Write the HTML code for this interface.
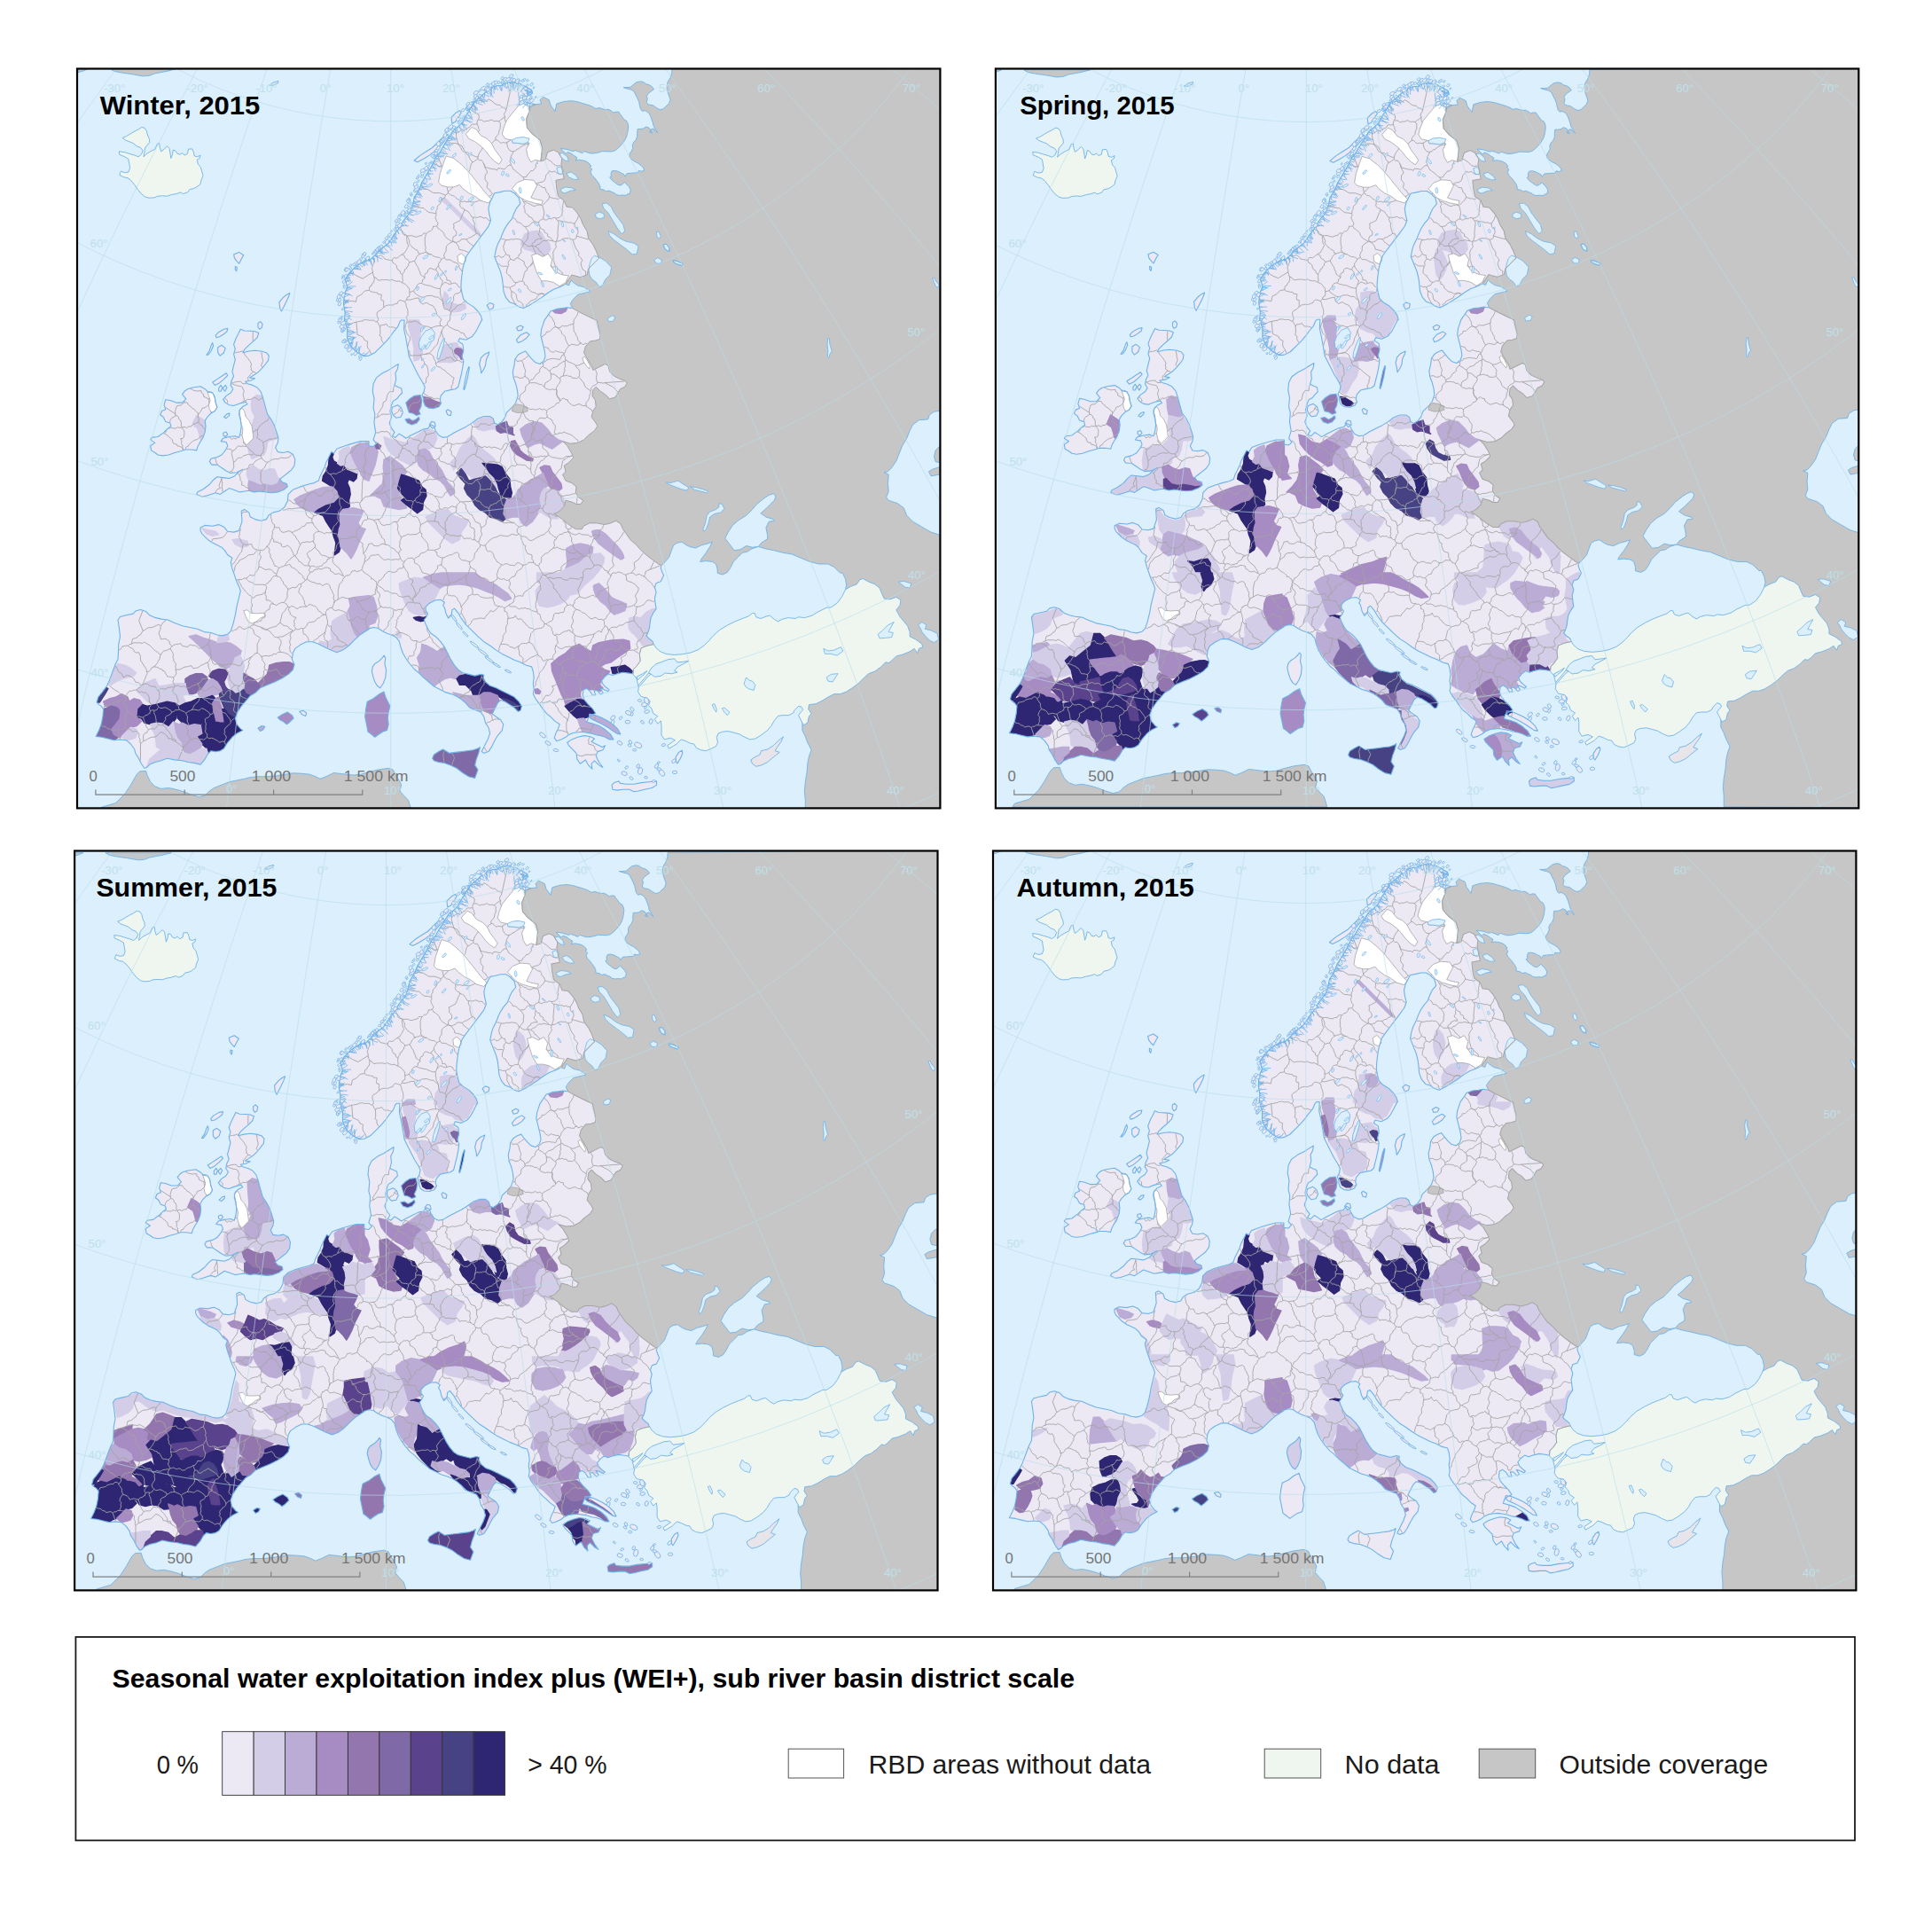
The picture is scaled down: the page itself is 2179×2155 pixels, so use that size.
<!DOCTYPE html><html><head><meta charset="utf-8"><title>WEI+</title><style>html,body{margin:0;padding:0;background:#fff}body{width:2179px;height:2155px;position:relative;overflow:hidden;font-family:"Liberation Sans",sans-serif}</style></head><body><svg width="2179" height="2155" viewBox="0 0 2179 2155" style="position:absolute;left:0;top:0" font-family="Liberation Sans, sans-serif">
<defs>
<path id="landpath" d="M211.5,438.7 217.5,437.0 226.1,435.8 231.2,438.7 234.6,442.1 239.7,443.0 242.3,448.1 243.1,454.1 244.9,459.2 242.3,463.5 238.0,466.0 233.7,470.3 231.2,474.6 232.0,480.6 231.2,487.4 228.6,494.2 225.2,499.4 222.6,504.5 221.8,507.9 215.8,507.0 209.0,507.0 203.9,508.7 197.0,510.5 190.2,513.0 183.4,513.9 178.2,513.0 174.8,510.5 170.5,507.9 169.7,502.8 174.8,499.4 169.7,495.9 171.4,493.4 178.2,492.5 185.1,487.4 188.5,484.0 192.8,480.6 191.9,477.1 186.8,475.4 184.2,470.3 180.8,467.8 182.5,463.5 186.8,461.8 185.1,456.7 186.8,450.7 191.9,451.5 198.7,454.1 205.6,454.1 209.8,449.8 205.6,444.7 208.1,441.3Z M271.3,371.2 275.6,373.0 282.4,373.3 287.6,373.8 291.8,375.5 290.1,380.6 285.8,384.9 280.7,389.2 275.6,394.3 273.9,397.7 280.7,396.0 287.6,395.2 294.4,396.0 300.4,397.7 303.3,401.1 302.6,406.3 299.5,410.5 295.2,415.7 291.0,419.9 285.8,423.3 281.6,425.9 287.6,426.8 282.4,429.3 276.5,430.2 279.0,432.7 285.0,434.4 290.1,437.0 294.4,442.1 296.9,449.8 299.2,458.4 301.6,466.9 306.3,473.7 309.8,480.6 312.3,488.3 314.0,494.2 313.2,499.4 310.6,504.5 313.2,509.6 319.2,510.5 325.1,509.3 330.3,512.2 332.8,518.1 332.0,525.0 328.5,530.1 324.3,533.5 320.0,536.9 315.7,540.3 318.3,543.8 323.4,545.5 324.3,548.9 320.0,552.3 313.2,554.9 306.3,555.7 299.5,554.9 292.7,554.0 286.7,554.9 280.7,553.2 275.6,554.0 270.5,554.9 263.6,552.3 258.5,550.6 253.4,554.0 248.3,557.4 243.1,555.7 238.0,557.4 232.9,559.1 227.8,560.0 221.8,557.4 222.6,554.9 229.5,551.5 236.3,546.3 240.6,541.2 244.9,537.8 251.7,538.6 258.5,539.5 264.5,536.9 269.6,531.8 273.9,529.2 267.1,532.7 260.2,533.5 255.1,531.0 250.0,527.5 244.9,524.1 238.9,524.1 236.3,520.7 238.0,517.3 244.9,515.6 250.0,513.0 254.2,507.9 256.8,502.8 255.1,498.5 249.1,497.6 251.7,494.2 258.5,492.5 265.3,491.7 269.6,493.4 271.3,487.4 272.2,480.6 271.3,473.7 269.6,466.9 270.5,461.8 273.9,458.4 279.0,455.8 277.3,453.2 270.5,454.9 263.6,457.5 258.5,456.7 254.2,454.1 251.7,450.7 255.1,446.4 260.2,443.0 262.8,438.7 260.2,434.4 261.1,429.3 263.6,424.2 261.9,419.1 263.6,412.2 265.3,405.4 263.6,399.4 265.3,393.5 263.6,388.3 266.2,381.5 268.8,376.4Z M243.1,378.1 246.6,374.7 252.5,371.2 256.8,370.4 256.0,373.8 251.7,377.2 247.4,379.8 244.0,380.6Z M232.9,400.3 236.3,395.2 238.0,390.0 239.7,386.6 240.6,390.0 238.0,396.0 234.6,400.3Z M245.7,391.7 250.0,389.2 254.2,392.6 252.5,397.7 248.3,401.1 245.7,397.7Z M239.7,431.0 244.9,427.6 250.0,424.2 255.1,420.8 256.8,423.3 252.5,427.6 247.4,431.9 242.3,434.4Z M246.6,437.9 249.1,434.4 250.8,437.0 249.1,441.3 246.9,441.3Z M251.3,437.9 254.2,434.4 256.0,437.0 253.7,441.3Z M252.5,470.3 256.0,466.9 258.9,466.0 258.5,468.6 255.1,471.7Z M251.7,488.3 255.1,487.1 256.8,490.0 254.2,492.5 252.0,491.2Z M291.0,364.4 293.5,362.7 296.1,365.3 295.2,369.5 292.7,371.2 291.0,368.7Z M314.9,340.8 319.2,335.6 323.4,332.2 326.8,330.5 325.1,335.6 322.6,340.8 320.0,345.9 317.4,351.0 315.7,347.6Z M263.6,286.9 269.6,284.4 274.7,287.8 272.2,292.1 269.6,297.2 267.1,294.6 264.5,291.2Z M265.3,300.6 267.4,301.5 266.7,305.7 265.3,304.0Z M410.5,401.7 402.0,396.9 395.2,390.0 391.7,381.5 391.7,371.2 388.3,361.0 389.2,352.7 387.5,342.5 388.3,332.2 391.7,323.7 389.2,315.1 393.5,308.3 402.0,299.8 410.5,294.6 416.0,289.5 416.0,294.6 422.8,287.8 429.7,281.0 438.2,274.1 445.0,263.9 450.2,257.1 455.3,248.5 462.1,240.0 465.5,231.4 467.2,222.9 472.4,214.4 475.8,205.8 480.9,197.3 486.0,188.7 489.4,181.9 492.0,176.8 496.3,171.7 498.0,168.2 502.3,161.4 506.5,154.6 510.8,147.7 516.8,142.6 521.9,137.5 525.3,130.7 528.7,125.5 532.1,119.6 535.6,114.4 540.7,110.2 547.5,104.2 556.1,97.9 561.2,96.5 566.3,96.2 569.7,93.9 574.9,92.7 580.0,93.1 586.8,94.4 593.6,98.2 599.6,101.6 600.5,105.0 594.5,109.3 588.5,112.2 585.1,112.7 591.9,114.9 598.8,116.7 603.9,117.8 597.9,119.6 597.1,125.5 593.6,134.1 594.5,144.3 600.5,151.2 609.0,158.0 611.6,166.5 610.7,175.1 609.9,181.9 615.0,180.2 617.6,171.7 624.4,169.1 629.5,171.7 633.8,178.5 632.9,185.3 634.6,193.9 636.3,201.5 626.9,203.3 627.8,212.6 629.5,221.2 636.3,226.3 638.9,233.1 645.7,234.0 650.9,240.0 655.1,246.8 657.7,253.6 662.0,260.5 663.7,269.0 668.8,275.8 672.2,282.7 675.6,291.2 670.5,296.3 663.7,303.2 662.0,310.0 654.3,312.6 644.9,310.0 641.5,315.1 638.0,320.3 631.2,323.7 624.4,326.2 617.6,330.5 610.7,335.6 603.9,339.9 597.1,344.2 590.2,347.6 585.1,345.9 580.0,342.5 574.9,340.8 570.6,335.6 568.0,328.8 567.2,320.3 566.3,313.4 564.6,306.6 561.2,298.0 557.8,289.5 559.5,281.0 561.2,275.8 564.6,269.0 567.2,262.2 569.7,257.1 573.1,251.9 577.4,246.8 580.0,240.0 582.5,234.9 586.8,229.7 585.1,222.9 580.0,217.8 575.7,215.2 569.7,215.2 562.9,216.9 557.8,217.8 555.2,222.9 552.6,228.0 550.9,234.9 551.8,241.7 553.5,248.5 550.9,255.3 545.8,262.2 540.7,269.0 535.6,275.8 530.4,282.7 526.2,288.7 523.6,296.3 521.9,303.2 521.0,310.0 520.2,316.8 519.9,323.7 521.0,330.5 522.8,337.3 527.0,341.6 533.9,345.9 539.0,351.0 542.4,356.1 543.8,361.1 543.3,361.0 540.7,366.1 538.1,371.2 535.6,375.5 532.1,379.8 525.3,383.2 518.5,381.5 516.8,384.9 521.9,388.3 522.8,395.2 521.0,402.0 522.8,407.1 521.9,414.0 520.2,422.5 518.5,429.3 516.8,436.2 513.4,438.7 508.2,439.6 501.4,441.3 497.1,446.4 496.3,451.5 497.6,454.6 494.9,458.7 489.4,460.6 483.5,460.1 479.5,457.5 477.8,453.2 477.5,449.0 476.1,445.5 478.3,441.3 479.2,436.2 476.6,431.0 472.4,424.2 469.0,417.4 465.5,410.5 461.3,402.0 459.6,391.7 457.8,381.5 455.6,371.2 456.1,361.0 452.7,361.0 451.0,362.7 448.5,368.7 444.2,373.8 439.9,379.8 435.6,384.9 429.7,390.9 422.8,397.7 416.0,401.1Z M467.2,181.0 474.1,175.1 480.9,170.8 487.7,166.5 492.9,161.4 498.0,156.3 503.1,151.2 505.7,152.0 501.4,158.8 496.3,164.8 491.2,169.9 484.3,175.1 477.5,179.3 470.7,182.8Z M509.1,132.4 514.2,127.2 518.5,124.7 520.2,127.2 516.8,132.4 513.4,137.5 509.9,139.2Z M525.3,122.1 529.6,117.0 533.9,114.4 534.7,117.0 530.4,122.1 527.0,124.7Z M522.8,438.7 524.5,429.3 526.7,419.1 528.7,413.6 529.4,414.3 527.4,425.9 525.3,434.4 523.6,439.6Z M540.7,410.5 542.4,403.7 546.7,399.4 551.8,396.9 550.9,400.3 548.4,405.4 547.5,412.2 545.0,417.4 542.7,420.8 542.1,415.7Z M549.2,344.2 552.6,341.6 556.9,343.3 556.1,347.6 551.8,349.3Z M645.7,347.6 655.1,352.7 663.7,357.0 672.2,361.1 673.1,361.0 676.5,376.4 676.5,382.4 671.4,384.1 665.4,384.9 660.3,390.9 658.5,397.7 662.0,403.7 667.1,412.2 668.8,417.4 675.6,414.0 682.5,410.5 685.9,412.2 687.6,419.1 692.7,424.2 697.8,426.8 704.7,429.3 707.2,431.9 704.7,436.2 699.5,438.7 696.1,444.7 693.6,448.1 687.6,449.8 682.5,444.7 677.3,441.3 672.2,436.2 668.8,439.6 667.9,446.4 671.4,451.5 672.2,458.4 668.8,463.5 667.1,470.3 672.2,477.1 673.9,480.6 670.5,485.7 663.7,490.8 658.5,495.9 651.7,499.4 643.2,500.2 634.6,497.6 639.8,502.8 644.9,511.3 646.6,516.4 641.5,521.6 636.3,525.0 638.0,531.8 634.6,535.2 638.0,542.1 644.9,544.6 650.0,548.9 649.2,555.7 652.6,560.8 657.7,564.3 655.1,568.5 650.0,568.5 644.9,566.0 638.0,564.3 636.3,571.1 631.2,576.2 626.9,578.8 624.8,578.8 634.2,585.6 642.7,592.5 649.5,596.7 656.4,596.7 658.1,593.3 664.9,589.9 673.4,589.9 682.0,591.6 688.8,589.9 694.8,587.3 699.9,590.7 702.5,596.7 706.8,602.7 711.0,608.7 717.9,614.7 723.0,620.6 729.8,626.6 736.6,631.7 742.6,636.0 746.0,637.7 745.2,640.3 746.9,645.4 748.6,648.8 745.2,655.7 740.1,657.4 738.4,662.5 740.1,667.6 738.4,674.4 739.2,681.3 740.1,686.4 736.6,691.5 734.1,696.6 733.2,701.8 732.4,708.6 730.7,713.7 729.0,717.1 731.5,719.7 735.8,723.1 737.5,726.5 729.8,728.2 723.0,730.8 721.3,737.6 722.1,745.3 717.9,751.3 714.4,754.7 713.6,759.8 713.5,759.9 709.3,759.1 702.4,758.2 695.6,759.9 690.5,761.6 686.2,759.9 681.9,763.3 678.5,767.6 680.2,771.9 683.7,775.3 687.1,777.9 685.4,779.6 680.2,777.0 676.8,776.2 680.2,781.3 677.7,783.0 673.4,778.7 670.0,778.7 671.7,783.8 668.3,783.8 664.9,778.7 661.5,776.2 658.0,777.9 657.2,783.8 658.9,789.0 663.2,794.1 668.3,799.2 671.7,804.3 668.3,806.0 663.7,809.1 662.0,814.2 668.8,816.0 675.6,818.5 682.5,822.8 688.4,827.9 691.9,833.9 687.6,833.9 682.5,831.3 677.3,829.6 672.2,828.8 667.1,827.1 662.0,826.2 656.8,825.3 651.7,825.7 646.1,826.5 641.0,828.8 638.0,831.3 632.9,833.9 627.8,835.6 625.2,832.2 626.9,827.1 629.5,821.9 631.2,816.8 626.1,813.4 621.0,808.3 616.7,804.9 612.4,799.7 609.0,794.6 603.9,787.8 601.3,782.6 602.2,777.5 601.3,770.7 602.2,763.9 601.3,757.0 599.6,751.9 593.6,750.2 586.8,746.8 580.0,744.2 573.1,740.8 566.3,737.4 559.5,733.1 552.6,728.0 545.8,723.7 539.0,717.7 532.1,710.9 525.3,704.1 520.2,697.2 516.8,691.3 512.5,686.1 509.9,687.8 509.1,693.8 505.7,697.2 503.1,692.1 501.4,685.3 499.7,682.7 501.4,679.3 497.1,676.4 491.2,676.7 484.3,680.2 480.1,684.4 480.1,688.7 482.6,692.1 480.9,695.5 478.3,699.0 480.1,704.1 482.6,709.2 486.0,714.3 491.2,717.7 496.3,722.9 501.4,729.7 504.8,736.5 508.2,743.4 512.5,750.2 516.8,755.3 521.9,758.7 528.7,760.4 535.6,762.1 542.4,760.4 545.8,761.3 545.0,763.9 547.5,769.0 552.6,773.3 559.5,775.8 566.3,779.2 573.1,782.6 580.0,786.1 585.1,791.2 588.5,796.3 586.8,801.4 584.2,802.3 580.0,798.0 574.9,794.6 569.7,791.2 564.6,789.5 561.2,792.9 557.8,799.7 555.2,804.9 559.5,808.3 564.6,811.7 567.7,816.8 566.3,823.6 561.2,829.6 557.8,835.6 554.4,842.4 550.9,847.6 545.8,849.3 543.3,847.6 545.0,844.1 547.5,839.0 550.1,833.9 552.6,827.1 550.9,820.2 547.5,815.1 545.8,808.3 542.4,803.1 535.6,800.6 529.6,798.0 525.3,792.9 520.2,788.6 515.1,785.2 509.1,782.6 503.1,780.9 496.3,777.5 489.4,774.1 483.5,769.0 477.5,763.9 472.4,758.7 467.2,754.5 462.1,748.5 457.8,742.5 454.4,736.5 451.9,729.7 450.2,722.9 446.7,718.6 441.6,716.0 436.5,714.3 431.4,711.8 426.2,708.3 421.1,707.5 416.0,708.9 416.0,709.5 407.1,715.2 400.3,721.2 393.5,728.0 386.6,733.1 379.8,735.7 373.0,733.1 366.1,729.7 359.3,726.3 352.5,723.7 345.6,723.7 338.8,727.1 332.8,731.4 330.3,736.5 329.4,743.4 332.0,749.3 330.3,755.3 325.1,760.4 318.3,764.7 309.8,769.0 301.2,772.4 293.5,775.8 288.4,780.9 282.4,784.4 277.3,790.3 272.2,796.3 267.9,803.1 265.3,810.0 267.1,816.8 271.3,821.9 273.9,823.6 267.1,827.1 261.9,831.3 256.8,837.3 252.5,844.1 248.3,846.7 243.1,847.6 238.0,846.7 234.6,850.1 231.2,856.1 226.1,862.1 219.2,860.4 212.4,859.5 205.6,857.8 197.0,856.9 188.5,855.2 181.7,857.8 174.8,859.5 168.8,862.1 165.4,865.5 162.9,866.3 159.4,861.2 156.0,854.4 152.6,849.3 151.8,845.0 147.5,839.0 142.4,834.7 135.5,833.9 128.7,834.7 121.9,833.0 115.0,831.3 108.2,830.5 111.6,823.6 114.2,816.8 115.9,808.3 116.7,799.7 114.2,796.3 111.6,794.6 109.1,792.0 110.8,786.1 115.0,780.9 120.2,774.1 122.7,769.0 125.3,762.1 127.8,755.3 130.4,748.5 133.0,743.4 133.5,734.8 133.8,726.3 135.5,717.7 134.7,710.9 133.8,704.1 133.0,699.0 135.5,695.5 142.4,693.8 150.1,692.1 153.5,688.7 158.6,687.5 164.6,689.6 168.8,693.8 174.8,696.4 181.7,698.1 189.3,699.0 197.0,702.4 205.6,705.8 214.1,707.5 222.6,709.2 230.3,712.6 238.0,713.5 244.9,716.0 250.8,716.9 256.8,715.2 260.2,711.8 262.8,704.1 265.3,693.8 267.1,683.6 269.6,673.3 271.3,666.5 269.6,661.4 267.1,656.2 265.3,651.1 263.6,646.0 261.9,641.1 260.2,634.3 261.9,629.2 256.8,625.8 253.4,620.6 250.0,617.2 246.6,615.5 239.7,612.1 234.6,608.7 231.2,605.3 227.8,601.8 226.1,598.4 226.1,595.0 231.2,592.4 239.7,593.3 246.6,591.6 252.5,594.2 256.8,599.3 263.6,600.1 269.6,598.4 273.0,588.2 272.2,576.2 275.6,574.5 280.7,577.9 282.4,583.0 287.6,585.6 294.4,587.3 300.4,585.6 302.9,581.3 308.0,577.9 314.9,576.2 320.9,571.9 324.3,565.1 325.1,557.4 330.3,552.3 338.8,548.9 347.3,546.3 354.2,544.6 359.3,542.1 361.0,536.9 363.6,531.8 366.1,526.7 367.8,521.6 370.4,516.4 373.8,509.6 376.4,511.3 379.8,506.2 384.1,504.5 391.7,501.9 400.3,499.4 407.1,497.6 416.0,497.6 416.0,502.8 421.1,503.6 424.5,500.2 421.1,495.9 423.7,487.4 422.0,477.1 422.8,466.9 421.1,460.1 422.0,449.8 420.3,441.3 421.1,432.7 424.5,425.9 431.4,420.8 438.2,417.4 445.0,413.1 449.3,410.5 448.5,415.7 445.9,420.8 446.7,427.6 445.0,434.4 448.5,436.2 452.7,437.9 453.6,443.0 450.2,446.4 447.6,449.8 443.3,452.4 441.6,456.7 439.9,463.5 441.6,470.3 439.1,477.1 441.6,483.1 445.0,487.4 442.5,491.7 445.9,493.4 450.2,489.1 454.4,491.7 457.8,494.2 463.8,490.8 470.7,487.4 477.5,484.0 482.6,483.1 486.0,478.9 489.4,480.6 491.2,485.7 494.6,490.8 499.7,493.4 504.8,492.5 511.7,488.3 518.5,484.8 525.3,481.4 532.1,477.1 539.0,472.0 545.8,469.5 552.6,469.5 556.1,472.0 557.8,477.1 561.2,478.9 566.3,475.4 569.7,470.3 571.4,465.2 574.9,461.8 578.3,458.4 581.7,454.1 584.2,446.4 583.4,439.6 581.7,432.7 579.1,425.9 578.3,419.1 580.0,412.2 580.8,405.4 584.2,400.3 588.5,397.7 592.8,396.0 595.3,399.4 599.6,404.6 603.9,408.8 609.0,410.5 613.3,407.1 615.0,402.0 614.1,395.2 612.4,388.3 610.7,381.5 609.9,378.1 610.7,371.2 612.4,366.1 614.1,361.0 614.1,361.1 617.6,356.1 621.0,351.0 627.8,348.4 634.6,347.6 639.8,346.7Z M442.5,459.2 448.5,456.7 452.7,460.1 454.4,465.2 451.9,470.3 446.7,471.2 443.3,467.8 441.6,463.5Z M457.8,454.1 462.1,449.8 467.2,446.4 474.1,445.5 475.8,451.5 474.9,458.4 472.4,463.5 474.1,466.9 469.8,468.6 465.5,466.0 461.3,465.2 459.6,460.1Z M457.0,472.9 461.3,472.0 465.5,474.6 469.0,472.9 472.4,470.3 473.2,472.9 469.8,477.1 464.7,478.9 459.6,477.1Z M503.1,463.5 504.8,461.8 509.1,464.3 508.2,468.6 504.8,467.8Z M582.5,383.2 586.8,378.1 593.6,374.7 597.1,377.2 593.6,381.5 588.5,384.9 584.2,386.6Z M582.5,369.5 586.8,367.0 590.2,368.7 588.5,372.1 584.2,373.0Z M484.3,478.9 486.9,475.4 490.3,476.3 491.2,480.6 487.7,483.1Z M639.8,837.3 644.9,833.9 651.7,831.3 658.5,829.6 665.4,830.5 670.5,833.0 667.1,836.5 672.2,839.0 679.0,842.4 682.5,840.7 679.9,845.8 673.9,847.6 672.2,852.7 675.6,859.5 679.9,865.5 675.6,862.9 670.5,857.8 667.1,861.2 667.9,867.2 663.7,862.9 660.3,856.9 656.8,859.5 654.3,861.2 650.9,856.1 650.0,849.3 644.9,844.1 641.5,840.7Z M665.0,805.4 670.5,806.2 677.3,808.8 684.2,812.2 691.0,816.5 697.0,822.4 699.9,827.9 696.1,827.4 691.0,824.0 685.0,819.9 679.0,816.5 673.1,813.7 667.4,811.0 664.5,808.3Z M487.7,855.2 489.4,851.0 494.6,847.6 499.7,845.0 506.5,849.3 513.4,848.4 520.2,847.6 527.0,846.7 533.9,845.8 539.0,844.1 541.5,842.4 539.8,849.3 537.3,856.1 535.6,862.9 539.0,868.0 535.6,877.4 528.7,875.7 521.9,871.5 515.1,866.3 508.2,862.9 501.4,860.4 494.6,859.5 489.4,857.8Z M414.3,791.2 421.1,787.8 428.0,782.6 433.1,780.1 434.8,786.1 437.4,791.2 439.9,796.3 438.2,803.1 437.4,810.0 438.2,816.8 436.5,823.6 431.4,825.3 426.2,828.8 422.8,831.3 417.7,827.1 415.1,825.3 413.4,816.8 411.7,808.3 412.6,799.7Z M422.8,748.5 428.0,745.1 431.4,741.7 433.1,739.1 434.8,741.7 433.9,748.5 435.6,755.3 434.8,763.9 432.2,770.7 428.8,775.8 425.4,773.3 422.8,769.0 421.1,763.9 419.4,757.0 420.3,751.9Z M690.1,885.1 692.7,882.6 697.8,880.9 699.5,883.4 706.4,884.3 714.9,884.3 723.5,882.6 732.0,881.7 740.5,880.9 740.5,885.1 735.4,888.5 726.9,890.3 720.0,892.0 714.9,892.8 709.8,890.3 703.0,890.3 696.1,891.1 691.0,890.3Z M313.2,809.1 318.3,805.7 324.3,803.1 329.4,806.6 331.1,810.0 326.8,814.2 323.4,816.8 319.2,813.4 315.7,811.7Z M337.9,802.3 342.2,801.4 345.6,804.0 344.8,807.4 340.5,805.7Z M291.0,821.1 295.2,818.5 298.7,819.4 296.9,822.8 293.5,824.5Z M762.2,853.5 765.6,848.4 769.1,846.2 769.9,849.3 767.4,855.2 763.9,860.9 762.2,858.7Z"/>
<clipPath id="landclip"><use href="#landpath"/></clipPath>
<g id="base"><rect x="80" y="70" width="990" height="850" fill="#dbeffc"/>
<path d="M758.1,77.3 757.6,82.7 756.0,87.7 753.0,92.7 752.2,96.9 753.0,103.6 755.1,109.5 756.0,112.8 754.3,117.0 750.5,120.4 748.0,122.9 744.2,123.7 740.5,121.6 736.3,118.7 731.3,117.9 729.2,115.4 730.4,111.2 729.2,108.7 731.3,105.3 734.6,102.8 737.5,100.7 735.4,97.8 732.1,95.7 728.7,94.8 725.4,92.3 722.1,91.9 717.9,92.7 714.5,95.3 711.2,98.2 707.0,98.6 703.2,98.6 707.0,99.9 712.0,101.1 714.9,102.8 717.0,107.0 719.1,111.2 720.8,115.4 721.6,119.5 722.5,122.9 724.6,125.4 727.1,124.6 729.6,125.8 732.1,127.9 733.8,131.3 735.0,134.6 736.3,138.4 737.1,142.1 739.6,146.3 741.7,149.7 739.6,148.0 737.1,145.1 734.6,145.5 732.5,148.8 735.4,150.1 733.8,147.2 732.1,144.2 728.7,143.0 725.4,145.1 722.1,145.5 719.1,145.5 718.7,149.7 718.7,153.9 717.0,158.1 714.5,160.6 713.3,163.9 713.7,167.3 712.0,170.6 710.3,173.1 709.9,176.5 712.0,179.4 715.4,181.9 719.5,184.0 722.9,186.5 725.4,189.0 726.7,192.0 723.7,193.2 720.4,192.4 719.5,194.9 715.4,194.9 711.2,195.3 707.0,195.7 704.9,199.1 703.6,196.6 700.3,194.9 696.9,193.2 693.6,192.4 690.2,192.8 689.0,195.7 689.4,199.1 687.7,199.9 690.2,203.3 693.6,205.8 696.9,208.3 699.9,209.1 702.4,207.4 704.5,205.4 707.0,208.3 709.5,210.8 711.2,214.1 710.3,218.3 707.0,219.2 706.1,220.4 702.0,220.0 698.6,220.4 695.3,219.6 692.7,217.5 690.2,216.7 686.9,215.0 683.5,215.8 681.0,214.1 676.8,213.3 676.8,210.0 675.2,206.6 672.7,203.3 670.1,199.9 667.6,197.4 666.0,194.1 667.6,190.7 665.1,188.2 666.8,187.4 664.3,184.0 660.9,181.9 656.7,180.7 652.6,180.2 649.2,181.1 650.9,177.7 647.5,175.6 644.2,173.1 640.0,171.4 638.0,173.4 632.1,167.4 638.0,168.2 640.0,168.5 643.3,169.8 647.1,170.6 648.4,169.6 652.6,171.0 656.7,172.7 658.8,170.6 662.6,171.9 666.8,173.1 671.0,172.7 675.2,171.9 679.4,170.6 684.4,170.8 689.4,171.0 693.6,169.8 696.9,167.3 700.3,163.9 703.6,159.7 706.1,155.5 707.4,151.4 708.2,147.2 708.7,143.0 708.2,139.6 706.6,136.3 703.6,134.6 702.0,132.1 699.4,128.7 697.8,126.2 694.4,126.2 691.9,127.1 689.4,125.0 686.0,123.3 682.7,123.7 680.2,122.9 676.0,121.6 671.8,122.5 668.5,120.4 664.3,118.7 660.1,117.4 655.9,116.2 651.7,114.9 647.5,114.1 643.3,113.7 640.0,114.1 636.3,114.4 627.8,117.0 626.1,125.5 621.0,118.7 619.3,112.7 612.4,109.3 609.0,112.7 610.7,117.0 603.9,117.8 586.8,127.2 586.8,178.5 621.0,229.7 638.0,298.0 636.3,319.4 638.0,320.3 641.5,322.0 644.0,316.0 646.6,318.5 651.7,322.0 658.5,323.7 663.7,326.7 665.7,328.8 658.5,330.5 651.7,332.2 646.6,337.3 643.2,342.5 645.7,347.6 655.1,361.0 646.6,412.2 621.0,497.6 612.4,578.8 651.2,611.2 719.6,631.7 746.0,637.7 750.3,633.4 754.6,628.3 757.1,621.5 759.7,614.7 764.0,612.1 769.1,611.2 774.2,614.7 777.6,616.4 784.5,618.1 791.3,614.7 798.1,613.0 803.3,611.2 800.7,616.4 796.4,623.2 791.3,630.0 789.6,633.4 796.4,632.6 803.3,633.4 807.5,636.0 809.2,642.0 809.2,646.3 815.2,648.0 820.3,645.4 823.8,640.3 827.2,633.4 832.3,628.3 837.4,623.2 842.5,622.3 847.7,618.9 852.8,617.2 855.3,616.4 863.9,618.9 872.4,620.6 882.6,623.2 892.9,624.9 903.1,629.2 913.4,633.4 923.6,636.0 933.9,636.0 940.7,639.4 947.6,646.1 950.1,646.0 953.5,652.8 954.7,659.7 953.5,664.8 951.0,697.2 916.8,765.6 908.3,796.3 905.7,814.2 904.9,815.1 904.9,823.6 908.3,830.5 910.8,837.3 915.1,845.8 912.5,852.7 910.8,861.2 910.0,871.5 908.3,881.7 907.4,892.0 908.3,902.2 908.3,914.2 1064.0,915.0 1064.0,74.0Z M111.6,914.2 114.2,910.4 130.4,905.6 140.7,895.4 147.5,885.1 154.3,873.2 157.7,869.8 164.6,869.4 166.3,874.9 169.7,881.7 174.8,886.8 181.7,889.4 190.2,888.5 198.7,890.3 207.3,892.8 215.8,896.2 224.4,898.8 231.2,897.1 236.3,892.0 241.4,888.5 250.0,885.1 258.5,881.7 267.1,880.0 275.6,878.3 282.4,876.6 291.0,875.7 301.2,875.7 311.5,874.9 321.7,873.2 330.3,871.8 340.5,872.3 349.0,873.2 355.9,875.7 361.0,878.3 367.8,875.7 376.4,871.5 383.2,872.3 390.0,873.2 398.6,874.0 407.1,873.2 416.0,870.6 426.2,868.0 438.2,866.3 443.3,868.0 445.9,873.2 450.2,880.0 452.7,885.1 451.0,892.0 455.3,897.1 460.4,902.2 463.0,910.4 463.8,914.2Z M124.4,77.7 128.7,80.3 137.2,82.0 149.2,83.7 161.2,85.9 168.0,85.4 174.8,82.8 188.5,80.3 198.7,77.7Z M88.0,77.7 99.3,77.7 94.5,79.8 88.0,81.8Z" fill="#c6c6c6" stroke="#6fb2e8" stroke-width="0.9" stroke-linejoin="round"/>
<path d="M872.4,556.6 875.0,560.0 873.3,564.3 869.0,568.5 863.9,573.7 857.9,578.8 863.9,583.0 872.4,585.6 873.3,587.3 867.3,588.2 863.9,595.0 865.6,603.5 865.6,607.8 858.7,612.1 855.3,616.4 848.5,617.2 841.7,615.5 834.8,619.8 828.0,620.6 822.9,613.8 817.7,607.0 821.2,600.1 826.3,592.4 833.1,586.5 841.7,581.3 848.5,574.5 853.6,568.5 862.1,561.7 867.3,558.3Z M1063.7,462.6 1053.5,464.3 1048.3,467.8 1046.6,472.9 1036.4,473.7 1029.5,478.9 1026.1,485.7 1022.7,494.2 1017.6,502.8 1014.2,511.3 1010.8,519.9 1005.6,527.5 1001.4,531.8 997.1,532.7 1002.2,535.2 1001.4,545.5 1002.2,554.0 999.6,560.8 1002.2,564.3 1012.5,567.7 1019.3,572.8 1022.7,581.3 1029.5,588.2 1039.8,594.2 1050.0,600.1 1063.7,604.4Z M734.9,753.0 740.1,748.7 746.9,746.2 753.7,743.6 760.6,742.8 764.0,747.0 770.8,746.2 776.8,745.3 770.8,748.7 764.0,752.2 760.6,756.4 764.0,758.1 757.1,759.8 750.3,759.0 745.2,762.4 738.4,763.3 734.9,760.7 731.5,759.0 733.2,755.6Z M731.5,759.0 728.1,763.3 723.0,769.2 719.6,773.5 720.9,774.5 724.7,770.1 729.8,764.1 734.1,760.2Z M717.9,763.3 724.7,759.8 729.8,756.4 726.4,760.7 722.1,764.1 719.6,766.7Z" fill="#dbeffc" stroke="#6fb2e8" stroke-width="0.9" stroke-linejoin="round"/>
<path d="M1063.7,503.6 1059.4,503.6 1055.2,507.9 1053.5,514.7 1055.2,520.7 1059.4,521.6 1063.7,521.6Z M1063.7,526.7 1059.4,526.7 1051.7,529.2 1047.5,531.8 1050.0,536.9 1059.4,535.2 1063.7,535.2Z" fill="#c6c6c6" stroke="#6fb2e8" stroke-width="0.9" stroke-linejoin="round"/>
<path d="M737.5,726.5 740.1,730.8 745.2,735.1 752.0,737.6 760.6,738.5 770.8,737.6 779.3,735.9 787.9,732.5 794.7,727.4 799.8,722.3 805.0,716.3 811.8,710.3 820.3,705.2 828.9,700.9 837.4,697.5 844.3,694.9 848.5,691.5 851.1,691.5 852.8,695.8 857.9,697.5 864.8,694.9 868.2,694.1 873.3,698.4 877.6,700.9 881.8,698.4 888.7,696.6 897.2,697.5 900.6,695.8 907.5,696.6 916.0,694.1 922.8,689.8 930.0,686.4 932.2,685.3 937.3,684.9 944.1,680.2 949.3,673.3 952.7,666.5 953.5,664.8 959.5,661.4 966.3,658.8 969.8,653.7 973.2,652.5 980.0,656.2 986.8,658.8 992.0,663.1 994.5,669.1 997.1,675.0 1003.9,675.9 1010.8,673.3 1015.9,676.7 1015.0,682.7 1010.8,687.8 1015.0,695.5 1019.3,700.7 1023.6,705.8 1026.1,712.6 1026.1,717.7 1033.0,721.2 1039.8,726.3 1040.6,729.7 1036.4,731.4 1034.7,736.5 1031.2,731.4 1026.1,734.8 1017.6,738.2 1010.8,739.9 1005.6,745.1 1002.2,747.6 998.8,746.8 993.7,751.9 986.8,757.0 980.0,759.6 974.9,763.9 968.0,770.7 961.2,775.8 954.4,780.1 947.6,782.6 940.7,782.6 933.9,786.1 927.1,790.3 920.2,793.7 912.5,794.6 911.7,799.7 915.1,804.9 912.5,807.4 910.8,815.1 906.6,817.7 904.9,815.1 902.3,810.0 900.6,806.6 903.1,803.1 905.7,800.6 904.0,797.2 900.6,796.3 896.3,800.6 894.6,804.0 889.5,806.6 882.6,806.6 877.5,807.4 873.3,812.5 869.8,818.5 865.6,823.6 858.7,828.8 851.9,833.0 845.9,833.9 839.9,831.3 834.0,827.9 828.0,826.2 821.2,824.5 814.3,825.3 810.1,827.1 808.3,831.3 809.5,837.3 807.5,841.6 802.4,844.1 796.4,846.7 790.4,845.8 785.3,843.3 782.7,839.0 778.5,838.2 773.3,835.6 768.2,833.9 763.1,839.0 754.5,844.1 752.8,840.7 761.4,834.7 756.2,832.2 749.4,833.9 746.0,828.8 746.0,818.5 745.2,812.8 741.8,816.2 738.4,811.1 741.8,807.7 736.6,804.3 734.9,799.1 731.5,795.7 733.2,790.6 729.8,787.2 723.0,785.5 719.6,780.3 720.4,774.4 719.6,771.8 717.9,765.0 714.1,760.7 714.4,754.7 717.9,751.3 722.1,745.3 721.3,737.6 723.0,730.8 729.8,728.2Z M138.1,155.4 142.4,153.7 146.6,151.2 150.9,148.6 156.0,146.0 159.8,143.5 163.2,144.3 165.4,147.7 166.3,152.0 168.3,156.3 168.8,160.5 166.3,163.5 163.7,166.5 162.9,171.7 162.0,176.8 165.4,173.4 169.7,170.8 174.8,168.2 177.4,162.3 179.6,161.4 180.3,166.5 181.7,170.8 185.1,168.2 188.5,164.8 191.0,167.4 192.2,174.2 192.8,178.5 194.5,174.2 195.3,169.1 197.9,169.9 200.1,173.4 203.0,174.2 205.6,172.5 208.1,175.1 211.5,173.4 212.4,168.2 216.7,167.9 218.4,171.7 219.2,175.9 222.6,176.8 226.1,175.1 225.2,178.5 222.3,180.2 223.5,185.3 226.4,188.7 227.8,193.9 229.1,198.1 226.9,203.3 226.1,207.5 221.8,210.9 218.4,212.6 214.1,213.5 211.5,216.9 206.4,218.6 203.9,216.9 198.7,218.6 193.6,219.5 188.5,221.2 183.4,220.8 178.2,221.2 174.0,222.9 168.0,223.2 163.7,222.0 159.4,218.6 155.2,213.5 151.8,208.4 147.5,203.3 144.1,200.7 139.8,199.8 134.7,197.3 136.4,193.0 140.7,194.7 144.9,193.9 146.6,189.6 145.8,184.5 144.9,179.3 140.7,176.8 134.7,174.2 134.3,170.8 140.7,171.7 145.8,173.4 151.8,175.1 156.0,176.8 159.4,174.2 161.2,169.9 158.6,166.5 154.3,164.8 150.1,161.4 145.8,159.7 141.5,158.0Z" fill="#eff6f0" stroke="#6fb2e8" stroke-width="0.9" stroke-linejoin="round"/>
<path d="M734.9,753.0 740.1,748.7 746.9,746.2 753.7,743.6 760.6,742.8 764.0,747.0 770.8,746.2 776.8,745.3 770.8,748.7 764.0,752.2 760.6,756.4 764.0,758.1 757.1,759.8 750.3,759.0 745.2,762.4 738.4,763.3 734.9,760.7 731.5,759.0 733.2,755.6Z M731.5,759.0 728.1,763.3 723.0,769.2 719.6,773.5 720.9,774.5 724.7,770.1 729.8,764.1 734.1,760.2Z M717.9,763.3 724.7,759.8 729.8,756.4 726.4,760.7 722.1,764.1 719.6,766.7Z" fill="#dbeffc" stroke="#6fb2e8" stroke-width="0.9" stroke-linejoin="round"/>
<path d="M846.8,856.9 851.9,853.5 857.0,851.0 858.7,846.7 865.6,845.0 872.4,840.7 877.5,835.6 883.5,830.8 880.9,836.5 876.7,842.4 874.1,846.7 879.2,848.4 875.8,851.0 870.7,855.2 865.6,859.5 858.7,862.9 852.8,864.3 848.5,861.2Z M303.8,96.2 308.0,93.1 314.0,91.4 313.2,93.9 308.0,96.2Z" fill="#e7e5ea" stroke="#6fb2e8" stroke-width="0.9" stroke-linejoin="round"/>
<use href="#landpath" fill="#ece9f5"/>
<path d="M577.4,463.5 578.3,458.4 582.5,455.8 588.5,456.7 594.5,459.2 595.3,463.5 590.2,465.2 583.4,465.5Z" fill="#c6c6c6" stroke="#a4a4a4" stroke-width="0.8" stroke-linejoin="round"/></g>
<g id="top"><path d="M243.0,555.0 243.9,553.6 245.8,551.2 248.7,550.5 247.0,547.8 248.0,544.8 249.2,542.1 250.0,539.3 M250.0,539.3 250.2,542.3 250.8,545.2 250.4,548.1 250.8,551.1 251.0,554.1 251.2,554.6 M394.1,308.7 397.3,307.9 403.0,311.4 409.1,314.2 414.7,310.6 420.4,307.1 M420.4,307.1 420.2,304.7 419.4,302.5 420.2,300.4 420.8,298.1 422.1,296.1 421.8,293.7 421.4,291.4 421.2,290.4 M538.1,139.8 538.1,137.1 539.2,134.8 M538.1,139.8 536.5,140.1 534.8,140.2 533.0,139.9 531.5,140.7 530.7,142.3 529.4,143.5 527.7,144.0 526.5,145.2 525.0,146.1 523.6,147.2 521.9,146.6 520.1,146.8 518.8,147.8 517.4,148.6 516.0,149.3 514.6,150.2 M514.6,150.2 513.5,146.3 M533.2,119.2 533.4,119.4 534.5,120.7 535.5,122.0 536.2,123.7 535.8,125.5 536.7,127.0 537.9,128.3 539.9,129.1 540.3,131.2 540.2,133.1 539.2,134.8 M504.9,158.5 505.2,158.6 508.3,161.4 512.8,161.4 517.1,162.4 521.1,164.8 523.2,168.9 525.2,172.6 528.5,175.4 530.0,179.3 532.6,182.6 M490.0,182.3 491.7,183.9 494.2,187.6 498.6,187.3 499.5,187.4 M528.3,194.2 529.0,193.3 529.8,191.9 530.2,190.3 530.3,188.6 531.0,187.1 530.9,185.4 532.2,184.3 532.6,182.6 M493.8,175.8 498.9,189.3 M504.0,210.2 505.3,216.7 M511.0,210.4 510.9,210.5 509.4,212.9 507.2,214.6 505.3,216.7 M187.1,699.4 187.0,699.7 183.8,702.1 181.5,705.6 M160.9,689.0 156.7,699.7 161.2,711.3 M161.2,711.3 163.7,710.2 165.8,708.4 168.4,707.7 171.2,707.7 173.7,706.7 176.1,705.5 178.9,704.4 181.5,705.6 M704.4,430.0 682.0,431.6 M696.9,441.9 691.5,436.5 682.0,431.6 M238.7,610.6 240.1,607.7 245.7,607.2 251.3,606.1 254.6,602.4 256.3,599.8 M261.5,636.7 263.8,635.1 265.5,632.5 267.0,629.9 268.6,627.3 270.3,624.7 272.3,622.3 273.2,619.3 273.6,616.3 274.4,613.3 M271.1,596.2 271.2,597.8 270.5,599.5 270.2,601.4 270.3,603.2 269.5,604.8 270.1,606.4 270.8,607.9 271.7,609.4 271.9,611.1 273.2,612.1 274.4,613.3 M420.4,307.1 420.9,309.8 421.9,312.4 M422.7,288.9 423.7,288.7 426.5,289.1 427.9,288.4 429.4,287.7 430.7,288.6 432.0,289.5 433.2,290.5 433.9,291.9 435.3,292.5 436.8,292.7 439.5,293.4 442.4,293.7 M421.9,312.4 424.1,313.2 425.3,315.0 427.2,316.2 429.5,315.9 431.5,315.4 433.6,315.7 435.7,315.4 437.8,315.9 440.0,316.1 442.0,315.2 443.8,316.2 445.8,316.9 447.9,317.3 450.0,316.9 451.8,317.9 453.7,318.8 M453.7,318.8 454.4,316.5 453.9,314.2 453.9,312.0 453.9,309.7 M453.9,309.7 451.6,308.2 451.2,305.5 448.9,304.4 447.6,302.1 447.2,299.5 445.5,297.6 443.1,296.3 442.4,293.7 M538.1,139.8 538.7,141.5 539.7,143.0 539.6,144.9 540.9,146.4 539.6,148.1 539.4,149.7 M544.7,166.4 544.2,167.6 M514.6,150.2 514.4,152.8 514.9,155.3 515.4,157.8 516.2,160.2 516.8,162.7 518.4,164.8 519.9,166.8 520.7,169.2 522.6,170.9 525.1,171.7 527.7,172.0 529.7,173.7 532.0,174.6 534.3,175.7 536.6,176.7 539.1,177.0 M544.2,167.6 542.5,169.7 541.0,171.9 539.8,174.3 539.1,177.0 M532.6,182.6 534.5,182.5 535.9,181.2 537.5,180.3 538.9,179.1 M539.1,177.0 538.9,179.1 M538.1,113.2 539.4,113.8 542.5,113.2 545.5,114.4 548.6,113.9 551.0,111.8 553.6,113.2 556.0,114.8 558.0,117.0 560.7,118.2 563.8,118.4 565.8,120.8 568.7,121.7 571.0,123.4 M571.0,123.4 577.6,93.6 M590.9,203.3 591.2,202.1 589.8,199.5 M606.1,180.3 606.1,180.5 606.2,182.5 605.2,184.2 604.0,185.9 604.6,188.0 603.5,189.6 602.3,191.1 600.9,192.7 598.7,192.6 597.6,194.2 596.4,195.8 594.6,197.0 594.0,199.1 592.0,199.9 589.8,199.5 M616.1,178.9 617.2,179.1 619.1,180.6 621.2,181.8 623.0,183.4 624.6,185.2 626.6,186.6 628.9,187.1 631.4,186.5 632.5,187.1 M603.9,207.2 605.8,206.7 608.6,205.6 611.6,205.2 614.2,203.5 615.3,200.6 615.8,197.6 617.9,195.4 619.5,192.8 622.5,194.0 625.6,193.0 627.9,195.0 630.7,196.2 633.8,196.2 634.3,195.9 M473.2,214.2 475.4,212.8 482.6,213.6 488.7,217.5 495.8,217.6 502.5,220.1 M505.3,216.7 505.3,217.5 M502.5,220.1 504.1,219.0 505.3,217.5 M502.5,220.1 502.1,221.6 501.2,222.9 500.1,224.0 498.6,224.6 497.7,227.4 496.2,230.0 495.0,231.1 493.8,232.0 493.1,233.5 493.3,235.1 492.8,236.7 491.6,237.7 492.0,239.2 491.7,240.8 M466.0,232.0 466.9,232.2 470.7,232.3 474.1,234.3 477.9,234.6 480.7,237.4 483.9,239.7 487.8,240.0 491.7,240.8 M144.0,803.2 142.4,805.2 141.1,807.4 140.4,810.2 142.2,812.4 141.6,814.8 142.0,817.2 141.0,819.3 140.2,821.6 M144.0,803.2 143.6,801.5 142.9,800.0 142.9,798.3 142.9,796.6 141.5,795.5 140.9,793.9 139.6,792.7 139.3,791.0 M116.6,798.4 117.4,797.9 118.4,795.7 120.7,795.3 122.9,794.8 125.0,794.2 126.6,792.6 128.7,792.1 130.7,791.4 133.4,791.5 134.9,789.4 137.4,789.4 139.3,791.0 M114.4,818.3 114.7,818.5 117.0,819.2 119.3,819.6 121.0,821.5 123.5,821.9 125.5,823.7 128.1,823.0 130.6,822.7 132.7,824.2 M132.7,824.2 134.3,822.9 136.5,823.0 138.0,821.4 140.2,821.6 M135.8,833.2 132.7,824.2 M158.4,857.7 158.5,838.4 M158.5,838.4 157.8,836.7 158.0,834.8 157.7,832.9 156.5,831.4 157.0,829.5 156.9,827.5 155.6,826.1 154.4,824.5 152.4,824.6 150.5,825.4 148.8,824.3 147.3,822.9 145.7,822.2 143.9,821.8 142.0,821.6 140.2,821.6 M181.5,705.6 181.0,707.5 181.1,709.5 180.0,711.2 179.5,713.1 179.2,715.1 180.3,716.9 180.9,718.7 181.2,720.7 183.4,720.7 185.5,720.3 187.6,720.7 189.3,722.0 191.1,723.4 191.4,725.6 192.4,727.4 193.8,728.9 M237.8,714.2 236.7,715.5 236.8,717.2 236.4,718.8 236.1,720.4 235.8,722.0 235.8,723.7 235.0,725.1 234.9,726.8 M234.9,726.8 232.1,727.5 230.0,729.5 227.4,730.8 224.6,731.2 222.4,729.3 220.0,727.8 217.0,727.9 214.3,726.8 212.1,729.4 208.8,729.1 205.6,728.3 203.8,725.6 201.2,726.3 198.6,726.5 196.0,727.3 193.8,728.9 M325.1,564.2 325.5,564.0 328.1,565.0 330.0,567.1 332.6,568.1 335.4,568.1 337.6,566.6 340.0,565.4 342.6,564.3 344.3,562.1 M342.3,548.6 342.9,549.9 343.7,551.3 344.3,552.9 345.4,554.2 346.8,555.1 348.2,556.0 349.2,557.3 M344.3,562.1 345.4,560.7 346.1,559.0 347.7,558.4 349.2,557.3 M372.3,534.6 370.0,533.6 368.5,531.6 367.9,529.3 367.3,527.0 366.8,526.7 M372.3,534.6 373.8,536.8 375.5,538.7 376.9,540.9 378.0,543.2 378.1,545.9 376.5,548.1 376.9,550.9 375.0,553.0 M375.0,553.0 373.3,554.0 371.5,553.5 369.5,553.2 368.0,554.5 366.2,555.1 365.0,556.5 363.5,557.7 362.8,559.4 360.9,559.2 358.9,559.1 357.4,557.8 356.4,556.1 354.6,555.1 352.5,554.9 350.9,556.1 349.2,557.3 M274.4,613.3 276.7,614.3 279.1,614.3 281.4,613.8 283.8,613.5 284.4,616.0 285.8,618.1 287.9,619.4 290.4,620.1 M263.9,644.7 264.6,642.0 265.1,639.1 266.4,636.4 268.8,634.5 270.1,631.8 272.8,630.6 275.5,629.3 278.0,627.8 280.2,625.8 283.3,625.5 286.4,625.0 288.3,622.4 290.4,620.1 M648.8,727.9 649.1,726.3 649.1,724.7 647.8,723.3 648.2,721.5 648.2,719.9 647.9,718.3 648.7,716.7 647.5,715.2 M648.8,727.9 646.2,729.3 643.3,729.1 640.5,729.3 637.7,729.6 636.3,730.3 634.9,731.0 633.4,731.7 631.8,731.2 630.4,730.7 629.1,729.8 628.2,728.5 626.6,728.0 M626.6,728.0 627.9,726.8 629.1,725.4 629.1,723.6 628.3,721.9 628.1,720.1 628.4,718.3 627.2,716.7 625.2,716.5 M625.2,716.5 626.5,715.7 627.9,715.1 629.4,715.5 630.8,716.0 633.0,714.2 635.4,712.7 636.8,712.1 638.3,711.7 639.9,711.6 641.0,710.5 642.8,710.8 643.4,712.4 644.8,713.1 646.2,713.6 M646.2,713.6 647.5,715.2 M737.4,633.1 736.8,634.7 733.3,642.2 M733.3,642.2 744.7,637.8 M715.1,733.4 720.7,737.0 M726.1,714.2 730.1,713.4 M715.1,733.4 716.5,732.1 718.4,732.3 719.4,730.7 718.9,728.8 718.3,727.3 717.8,725.8 719.1,724.7 719.0,722.9 721.7,721.7 723.8,719.6 725.2,717.0 726.1,714.2 M264.6,398.5 265.7,397.6 268.1,397.2 270.5,396.9 273.0,395.9 273.8,396.4 M285.1,384.6 285.3,374.3 M184.4,488.8 184.5,488.8 186.5,489.5 188.3,490.4 189.6,492.0 191.3,493.1 192.6,494.5 194.3,495.8 194.7,497.8 195.4,499.8 197.2,500.7 199.4,501.0 200.2,503.1 202.2,503.1 204.1,504.0 205.6,505.4 206.4,507.1 M214.7,438.5 216.5,439.2 218.3,440.3 220.3,440.6 222.3,441.1 224.6,440.7 227.0,440.7 227.4,443.2 229.6,444.6 229.6,447.1 231.8,448.2 233.7,449.2 235.6,450.1 M236.6,448.1 236.5,448.8 235.6,450.1 M277.1,452.0 275.3,450.7 275.2,448.5 274.4,446.7 274.1,444.7 274.9,442.8 275.3,440.7 274.1,439.0 273.7,436.9 272.1,435.8 270.2,435.3 268.2,435.3 266.4,434.4 264.4,434.0 262.8,433.0 261.2,432.9 M277.1,452.0 279.3,450.2 282.1,450.7 284.4,449.6 286.5,448.2 289.4,449.2 291.6,451.3 294.0,449.7 295.8,448.8 M261.4,431.5 263.2,431.8 265.2,430.8 267.3,430.5 269.6,430.2 271.8,430.3 273.2,432.3 275.6,432.8 277.8,432.5 M279.9,429.0 279.9,427.9 279.6,425.4 281.2,424.1 282.6,422.4 283.7,420.6 285.5,419.4 M288.7,420.5 287.8,419.8 285.5,419.4 M275.5,398.0 275.5,398.7 276.0,400.3 277.3,401.3 278.2,402.7 279.3,403.7 280.3,404.9 281.1,406.3 281.9,407.6 282.8,409.0 283.6,410.5 283.1,412.1 282.7,413.8 283.5,415.4 283.0,417.1 284.5,418.0 285.5,419.4 M294.8,396.8 294.8,397.7 295.4,400.2 295.6,402.8 296.3,405.2 296.5,407.7 295.3,410.0 294.5,412.4 295.8,413.9 M269.8,535.6 271.0,533.9 272.1,532.2 273.7,531.0 275.0,529.4 277.3,529.1 279.5,528.5 280.8,526.5 281.1,524.2 283.3,523.9 285.5,523.5 286.7,521.7 288.0,520.0 289.8,519.0 291.5,518.0 293.4,517.1 295.3,516.6 M269.8,535.6 270.9,538.3 271.0,541.3 273.0,543.8 272.4,546.9 275.3,547.6 277.6,549.6 280.4,550.6 282.6,552.5 282.9,553.1 M296.4,553.8 296.4,553.0 299.5,550.6 298.2,547.3 295.6,544.8 293.9,541.8 294.1,538.4 294.1,535.1 294.2,531.8 296.2,529.2 298.7,527.1 299.8,524.0 301.9,521.4 M301.9,521.4 299.8,520.9 298.1,519.7 296.4,518.4 295.3,516.6 M242.5,516.9 242.9,517.8 243.6,519.5 243.9,521.4 245.0,523.1 245.8,523.8 M273.1,579.2 273.3,579.1 274.4,577.2 276.6,577.5 278.5,577.3 M269.8,535.6 268.2,534.2 M262.2,532.6 261.4,531.1 M250.0,539.3 250.0,539.1 M261.4,531.1 259.1,532.2 M303.6,471.0 302.8,471.7 301.8,474.2 299.4,475.2 297.3,476.8 295.3,478.3 293.3,480.0 291.9,482.1 290.6,484.3 M272.7,453.6 273.8,452.9 275.4,452.2 277.1,452.0 M270.9,469.1 271.3,469.3 M271.6,471.0 271.5,471.5 271.5,471.6 M272.6,478.1 272.6,478.1 M284.5,487.1 286.3,487.0 288.1,485.1 290.6,484.3 M313.1,493.6 310.6,494.4 307.0,495.0 303.4,495.4 300.2,497.2 297.0,498.8 M290.6,484.3 290.2,486.7 290.5,489.0 290.8,491.5 289.4,493.5 291.3,494.9 293.4,495.8 295.3,497.3 297.0,498.8 M329.4,512.5 328.6,512.8 326.4,515.3 323.4,516.4 320.2,516.5 316.9,516.0 314.0,517.7 310.7,517.5 307.5,518.1 304.6,519.6 301.9,521.4 M295.3,516.6 294.0,514.3 M297.0,498.8 296.9,500.8 297.0,502.8 297.7,504.8 297.2,506.9 296.9,509.0 296.5,511.0 294.5,512.1 294.0,514.3 M444.6,468.1 445.1,466.7 447.5,465.5 449.5,463.8 450.2,461.3 M450.2,461.3 452.3,464.0 453.2,463.9 M461.2,462.6 461.2,462.6 461.8,459.6 463.0,456.9 465.3,454.9 468.3,454.1 470.9,454.1 473.0,452.5 474.5,450.3 474.7,450.2 M478.3,449.7 479.5,450.0 482.0,449.5 484.4,448.9 486.8,448.1 M489.7,459.7 491.5,458.5 493.0,456.6 495.3,455.9 496.6,454.8 M486.8,448.1 488.2,449.0 489.7,449.6 491.4,449.8 492.9,449.1 494.4,449.7 495.8,450.0 M453.9,309.7 454.7,307.8 456.1,306.3 456.3,304.0 458.4,303.0 459.0,301.0 460.7,299.7 460.8,297.6 462.0,295.8 M442.4,293.7 443.0,291.9 444.4,290.6 446.2,291.0 448.1,290.9 449.3,289.9 450.6,289.0 451.7,287.8 453.2,287.1 M453.2,287.1 454.8,287.6 456.2,288.5 456.5,290.2 457.4,291.6 458.8,292.4 460.2,293.2 461.2,294.4 462.0,295.8 M451.8,255.7 451.9,257.0 452.2,258.8 453.4,260.2 453.5,262.1 454.4,263.7 455.9,264.6 M453.2,287.1 454.5,286.0 456.1,285.4 457.0,283.9 457.8,282.4 458.8,281.1 459.4,279.5 460.3,278.1 461.1,276.7 459.7,275.5 459.3,273.8 459.1,272.1 458.9,270.5 458.5,268.5 459.2,266.7 457.7,265.4 455.9,264.6 M558.9,157.9 560.8,157.8 562.3,159.1 563.5,160.4 565.1,161.4 566.7,160.7 568.5,160.8 570.4,161.2 572.0,160.3 M558.9,157.9 558.9,155.0 560.8,152.8 562.6,150.6 562.7,147.7 564.1,145.1 564.3,142.2 564.1,140.6 564.7,139.2 563.4,138.2 562.8,136.7 M572.0,160.3 574.1,159.1 576.2,157.9 576.6,157.3 M571.1,138.0 570.1,137.1 569.3,134.2 569.5,131.2 M562.8,136.7 564.4,135.3 566.2,134.0 568.0,132.8 569.5,131.2 M579.1,170.8 578.3,172.6 577.4,174.4 576.3,176.2 576.2,178.3 575.5,180.3 574.8,182.3 576.0,184.1 576.4,186.3 M545.4,184.1 546.5,186.3 547.0,188.8 549.5,189.1 551.9,189.9 554.1,190.3 556.2,190.8 558.5,190.7 560.4,192.2 561.7,189.8 564.5,189.9 566.7,190.4 569.0,190.9 570.6,189.4 572.0,187.6 574.0,186.3 576.4,186.3 M544.2,167.6 543.9,165.6 M553.7,161.4 555.0,161.5 556.6,159.4 558.9,157.9 M545.4,184.1 544.3,182.2 543.0,180.4 540.6,180.8 538.9,179.1 M579.1,170.8 577.2,170.7 575.4,170.1 574.3,168.6 573.2,167.2 572.4,165.6 572.1,163.9 571.6,162.1 572.0,160.3 M539.2,134.8 540.8,135.4 542.4,135.0 543.8,135.6 544.9,136.8 546.5,137.2 547.9,136.3 549.5,136.5 551.0,136.3 552.5,135.7 554.0,135.0 555.5,135.7 556.9,136.6 559.8,136.5 562.8,136.7 M571.0,123.4 570.4,125.4 569.2,127.1 568.4,129.3 569.5,131.2 M595.4,160.0 595.7,160.7 595.8,162.8 M596.6,163.5 595.8,162.8 M579.1,170.8 581.3,170.0 583.0,168.4 585.3,167.6 587.0,166.0 589.0,164.7 591.1,163.6 593.4,162.7 595.8,162.8 M589.8,199.5 587.8,198.2 586.0,196.7 584.4,194.9 582.4,193.6 580.6,192.0 578.5,190.7 577.8,188.3 576.4,186.3 M525.9,269.9 527.4,271.6 528.4,273.4 530.3,274.6 531.9,276.0 533.8,277.0 M525.9,269.9 523.9,269.6 521.9,269.5 519.8,270.2 518.6,272.0 516.6,272.5 514.8,273.4 512.8,273.1 510.9,272.2 M510.9,272.2 510.9,272.3 M510.9,272.3 513.7,273.5 515.7,275.8 517.4,278.4 518.0,281.4 520.9,282.0 523.7,282.6 526.4,283.9 528.4,284.3 M501.4,290.7 503.2,292.9 506.0,292.9 508.6,293.4 510.7,295.0 513.4,296.0 516.0,297.0 517.6,299.4 517.9,302.3 520.0,304.1 520.8,306.1 M510.5,272.4 510.9,272.3 M510.5,272.4 508.1,273.8 505.7,275.3 503.7,277.3 503.1,280.1 503.2,283.0 501.6,285.3 500.6,288.0 501.4,290.7 M582.1,318.7 579.5,317.8 578.2,315.4 576.3,313.5 575.4,311.0 573.9,310.5 572.7,309.5 571.6,308.4 571.4,306.8 571.7,303.9 572.7,301.1 M572.7,301.1 571.1,300.1 569.2,300.2 567.3,300.3 565.5,300.0 564.0,298.8 562.5,297.5 561.8,297.6 M568.2,323.3 569.0,323.0 570.5,323.6 572.0,324.3 573.6,323.8 575.2,324.3 M582.1,318.7 580.9,320.7 579.5,322.5 577.1,322.9 575.2,324.3 M534.0,245.1 536.3,245.2 538.6,245.4 540.8,244.4 543.2,244.7 545.5,246.1 548.0,245.5 550.0,247.0 551.5,248.9 552.8,248.4 M534.0,245.1 532.2,244.8 531.2,243.2 530.5,241.6 529.3,240.4 528.4,238.8 526.9,237.9 525.3,237.3 523.8,236.6 M523.8,236.6 522.9,235.0 521.2,234.9 520.2,233.7 519.0,232.7 518.4,231.1 519.2,229.6 518.8,228.1 518.9,226.5 M518.9,226.5 521.3,227.5 523.7,226.9 526.1,227.7 528.5,227.6 531.0,227.7 533.4,228.0 535.9,227.7 538.2,227.0 540.6,225.8 543.2,226.3 543.7,226.2 M551.0,221.9 551.4,221.3 553.9,220.4 555.4,218.2 M555.4,218.2 556.4,219.0 M510.9,272.2 510.6,269.4 511.5,266.7 514.4,265.5 514.9,262.3 513.6,259.8 511.5,257.9 512.1,255.1 511.4,252.3 513.9,251.2 516.2,249.9 518.7,248.8 519.9,246.2 520.9,243.8 521.7,241.3 523.0,239.1 523.8,236.6 M537.8,263.4 536.1,264.0 535.1,265.4 533.2,265.7 532.2,267.2 530.5,267.7 528.8,268.1 527.5,269.2 525.9,269.9 M537.8,263.4 536.6,261.3 536.0,259.0 535.4,256.8 535.0,254.4 535.3,252.0 534.2,249.8 533.2,247.5 534.0,245.1 M505.3,217.5 507.1,218.7 508.6,220.2 510.6,220.5 512.6,221.3 514.0,222.8 515.4,224.4 517.4,225.0 518.9,226.5 M491.7,240.8 492.2,242.6 491.2,244.3 491.1,246.1 491.9,247.8 492.5,249.6 493.8,251.1 493.8,253.1 492.6,254.7 M492.6,254.7 493.4,256.1 494.1,257.6 495.6,258.3 496.9,259.4 498.1,260.4 499.4,261.3 500.3,262.7 501.0,264.1 501.4,265.8 502.6,266.9 503.5,268.3 504.8,269.3 506.2,270.1 507.6,271.0 508.9,271.9 510.5,272.4 M545.4,184.1 546.3,186.3 546.9,188.6 547.9,190.8 549.3,192.8 549.3,195.6 547.2,197.2 547.1,199.7 547.0,202.1 548.4,204.3 550.1,206.2 549.6,208.8 549.1,211.3 550.6,213.2 552.7,214.3 553.6,216.6 555.4,218.2 M581.7,216.3 581.8,217.7 581.9,218.7 M585.7,222.6 587.0,222.7 589.0,224.7 590.3,227.2 M590.3,227.2 591.3,228.9 592.5,230.4 590.9,231.9 591.1,234.0 591.6,235.7 592.2,237.3 591.8,239.2 593.3,240.5 594.5,241.8 596.0,242.6 596.6,244.5 598.5,244.9 600.1,245.9 600.6,247.7 602.0,248.7 603.3,249.8 M603.3,249.8 601.8,250.5 600.3,250.9 599.1,251.9 598.0,253.0 597.1,254.4 595.6,255.2 594.0,255.3 592.4,255.6 M578.7,245.4 580.0,246.3 581.5,247.3 582.5,248.9 583.2,250.7 585.1,250.9 586.9,251.5 588.3,252.5 589.6,253.6 590.6,255.2 592.4,255.6 M570.5,286.5 569.5,287.9 568.2,289.1 566.7,290.0 565.0,290.3 563.6,289.1 561.9,288.3 560.4,289.8 558.6,289.3 M570.5,286.5 570.0,284.4 568.5,282.7 568.2,280.5 567.7,278.4 568.2,276.3 569.0,274.3 569.4,272.0 571.3,270.6 M571.3,270.6 569.5,270.5 568.2,269.4 566.5,269.9 565.3,269.2 M537.8,263.4 540.1,263.7 540.9,265.9 541.5,266.8 M575.7,292.3 574.0,294.1 573.0,296.3 573.6,298.7 572.7,301.1 M575.7,292.3 574.8,290.2 574.7,288.0 572.4,287.7 570.5,286.5 M139.3,791.0 140.9,790.1 141.8,788.6 142.1,786.9 141.8,785.1 M141.8,785.1 137.0,783.7 133.4,780.2 129.1,777.8 125.3,774.7 122.2,771.6 M261.2,711.0 262.4,711.7 264.6,710.3 267.2,709.7 268.5,707.2 271.4,706.8 273.4,709.0 276.4,709.5 278.8,708.0 281.6,707.3 M234.9,726.8 235.6,728.7 236.9,730.2 237.0,732.2 237.6,734.1 236.9,736.1 237.6,738.0 238.1,739.9 237.9,741.9 M284.2,740.4 282.0,741.5 279.9,742.8 277.7,743.8 275.7,745.2 273.2,746.6 272.5,749.4 270.1,751.0 267.3,750.2 265.0,749.1 262.5,749.0 260.1,748.7 257.6,748.7 255.2,749.4 252.7,749.9 250.1,750.3 247.8,749.0 M284.2,740.4 285.3,739.4 286.5,738.5 287.3,737.0 289.0,736.7 M289.0,736.7 290.4,734.7 290.2,732.4 290.2,730.1 290.1,727.9 290.3,725.6 291.6,723.7 292.3,721.6 293.8,719.9 292.2,718.2 290.1,717.4 288.4,715.9 286.6,714.7 286.3,712.3 285.6,710.0 283.7,708.5 281.6,707.3 M247.8,749.0 246.0,748.8 244.2,748.9 242.4,749.3 240.7,748.4 239.7,746.9 239.2,745.2 238.5,743.6 237.9,741.9 M296.6,763.7 295.0,764.2 293.6,764.9 292.1,765.4 290.6,766.1 289.0,766.4 287.6,767.5 286.0,767.6 284.4,767.8 282.8,766.6 280.9,767.0 278.9,767.3 278.0,769.2 276.5,769.7 275.2,770.6 273.6,771.0 272.1,771.8 M284.2,740.4 282.4,741.8 281.8,744.0 280.2,745.9 281.1,748.2 280.3,750.2 279.9,752.3 279.1,754.3 277.6,755.9 277.0,758.6 278.9,760.6 277.9,763.1 275.4,764.0 275.4,766.3 273.6,767.9 273.0,769.9 272.1,771.8 M289.0,736.7 291.0,736.4 292.3,737.9 293.8,738.9 294.6,740.5 M296.6,763.7 297.1,761.5 297.6,759.4 297.4,756.9 299.1,755.2 M299.1,755.2 298.2,753.4 298.3,751.4 299.0,749.4 298.1,747.5 297.0,745.8 295.7,744.3 295.9,742.2 294.6,740.5 M294.3,707.1 292.1,706.5 290.0,705.9 287.9,704.8 285.5,704.8 M294.3,707.1 296.9,708.3 299.4,709.7 302.1,710.6 304.5,712.0 306.2,714.4 308.3,716.4 309.2,717.7 310.4,718.7 312.0,718.3 313.5,719.0 M294.6,740.5 297.3,739.8 300.1,739.4 302.9,740.0 305.7,739.1 307.4,738.9 308.2,737.3 309.7,737.5 311.2,737.8 312.1,736.6 313.2,735.5 314.8,735.6 316.3,735.3 M281.6,707.3 283.2,705.5 285.5,704.8 M313.5,719.0 315.0,720.7 316.9,722.2 317.1,724.5 316.7,726.9 315.6,728.9 314.8,731.0 315.4,733.2 316.3,735.3 M315.6,702.6 317.9,703.3 319.2,705.3 321.4,705.7 323.6,705.9 325.4,707.2 326.6,709.1 328.8,709.7 330.3,711.4 M294.3,707.1 295.1,708.6 296.9,709.0 298.2,709.8 299.8,710.3 301.1,709.5 302.7,709.1 304.0,708.1 305.7,708.1 308.4,706.9 311.3,706.6 313.2,704.2 315.6,702.6 M313.5,719.0 315.7,718.1 318.0,718.1 320.2,717.2 322.2,716.0 324.3,714.9 326.2,713.6 328.2,712.4 330.3,711.4 M266.8,804.1 265.3,803.3 263.7,801.8 263.4,799.7 264.1,797.7 264.5,795.7 264.7,793.7 264.0,791.6 262.9,789.8 260.9,789.0 259.5,787.3 259.1,785.2 260.2,783.3 259.7,781.3 259.8,779.2 M278.3,788.1 277.7,787.7 274.6,786.7 271.7,785.3 271.4,781.9 269.3,779.3 268.0,775.8 270.5,773.0 M270.5,773.0 269.0,773.6 267.4,773.0 265.8,772.9 264.3,772.8 M259.8,779.2 260.1,777.1 261.6,775.7 263.1,774.5 264.3,772.8 M254.4,839.8 253.2,836.5 M253.2,836.5 253.8,835.0 254.4,833.5 255.2,832.0 255.0,830.2 254.0,828.8 252.7,827.5 253.7,825.8 253.2,824.0 253.3,822.3 254.1,820.9 255.6,820.0 256.3,818.5 257.7,817.7 259.0,816.7 260.0,815.4 260.3,813.7 M260.3,813.7 262.0,811.8 263.9,810.4 264.6,810.2 M295.8,774.0 295.0,772.8 298.1,768.6 296.6,763.7 M272.1,771.8 270.5,773.0 M247.8,749.0 249.6,749.7 250.8,751.2 252.4,752.2 253.8,753.5 255.7,754.3 256.5,756.2 257.7,758.0 257.3,760.0 258.7,761.5 259.0,763.4 258.7,765.4 259.3,767.2 260.8,768.4 262.0,769.9 263.4,771.1 264.3,772.8 M201.3,856.6 207.4,842.0 M158.5,838.4 160.2,837.0 161.9,835.6 M161.9,835.6 164.5,834.7 166.8,833.1 169.3,831.9 171.9,831.2 174.9,831.1 177.3,829.6 179.1,827.4 181.3,825.6 184.1,826.3 186.4,828.2 188.7,830.0 189.6,832.8 192.5,833.0 194.7,834.9 197.6,835.5 199.5,837.6 M207.4,842.0 205.0,841.9 203.3,840.1 201.6,838.6 199.5,837.6 M662.2,387.5 662.1,387.5 660.3,387.0 658.9,388.3 657.1,388.5 655.8,387.2 M647.0,364.8 646.6,366.4 646.9,368.0 647.0,369.5 647.0,371.1 647.2,372.6 647.6,374.2 648.7,375.3 649.3,376.9 649.9,378.4 650.8,379.7 651.5,381.2 651.3,382.8 652.2,384.1 653.5,385.1 654.4,386.5 655.8,387.2 M647.0,364.8 647.2,360.9 649.5,357.7 651.4,354.4 652.0,351.8 M682.0,431.6 680.0,432.1 678.0,431.7 676.0,431.5 674.0,431.3 M674.0,431.3 672.9,428.8 672.3,426.2 672.8,423.5 673.3,420.9 672.1,418.3 671.5,416.8 M648.2,251.8 648.1,253.9 648.4,255.9 649.7,257.5 651.5,258.7 652.0,260.6 651.9,262.6 650.9,264.3 650.1,266.1 M652.3,243.6 651.0,247.4 648.2,251.8 M663.6,270.0 650.1,266.1 M663.9,408.2 663.0,408.6 M659.4,408.9 658.3,409.4 656.0,410.2 654.0,411.4 651.7,412.1 649.3,412.0 M674.0,431.3 673.3,432.8 671.9,433.7 670.4,434.5 668.9,435.0 667.9,436.4 666.6,437.5 666.7,439.2 666.1,440.8 M666.1,440.8 664.0,439.2 661.7,437.8 659.9,435.8 658.9,433.4 657.9,430.9 656.0,429.1 654.5,426.9 652.6,425.2 M652.6,425.2 653.7,423.6 653.2,421.6 653.9,419.8 653.4,418.0 652.5,416.3 651.1,415.1 649.8,413.7 649.3,412.0 M566.0,562.4 566.4,559.6 568.0,557.2 569.3,554.8 570.2,552.2 571.7,551.5 572.8,550.4 572.7,548.8 572.8,547.3 573.9,544.6 575.8,542.5 M566.0,562.4 568.7,561.3 571.6,561.3 574.5,561.8 577.3,562.3 578.8,562.3 580.2,561.9 581.7,561.7 583.2,562.0 584.8,562.3 586.2,563.1 586.8,564.5 588.0,565.6 M588.0,565.6 587.4,564.2 587.4,562.6 588.5,561.5 589.3,560.1 588.7,557.2 586.5,555.2 585.9,552.4 587.5,550.1 588.2,547.5 589.3,545.1 M575.8,542.5 577.5,541.9 579.3,541.7 581.1,541.6 582.8,542.1 584.5,542.9 586.1,543.5 587.8,544.2 589.3,545.1 M564.8,563.2 566.0,562.4 M564.8,563.2 564.8,563.4 M588.0,565.6 590.5,565.6 591.6,567.8 593.3,569.1 595.0,570.4 595.9,572.4 595.8,574.6 594.6,576.7 595.6,578.9 M585.6,594.1 588.2,593.5 590.6,592.7 591.9,590.4 593.8,588.6 595.5,586.5 595.2,583.8 595.3,581.4 595.6,578.9 M585.6,594.1 583.9,593.3 582.5,591.9 581.1,590.7 579.7,589.4 M564.8,563.4 565.4,565.3 566.0,567.2 566.7,569.5 569.0,570.0 568.5,572.0 569.2,574.0 569.9,575.9 569.6,577.9 570.0,580.1 570.3,582.3 569.9,584.6 571.2,586.7 573.5,586.7 575.4,588.2 577.4,589.1 579.7,589.4 M564.8,563.4 563.1,564.8 561.1,565.7 559.8,567.6 557.4,567.9 555.4,569.2 553.1,569.8 552.1,572.0 551.5,574.2 M579.7,589.4 577.8,589.8 575.9,589.3 573.9,589.1 572.1,589.7 570.0,589.6 567.9,590.0 566.8,588.1 564.9,587.2 563.3,586.2 561.4,585.9 559.5,585.6 557.7,584.9 556.0,584.1 554.4,583.1 553.5,581.1 551.4,580.9 M551.5,574.2 551.9,575.9 552.1,577.6 552.0,579.3 551.4,580.9 M547.3,615.1 544.4,615.2 541.7,614.3 M541.7,614.3 540.4,612.9 539.9,611.0 M551.4,580.9 550.0,582.6 549.7,584.8 548.2,586.5 548.3,588.8 548.0,591.1 546.6,592.9 544.7,594.1 542.7,595.2 M547.3,615.1 548.7,612.9 550.8,611.1 552.4,608.9 554.8,607.6 557.1,606.2 559.8,605.8 562.1,604.5 564.6,603.6 567.2,604.2 569.8,604.5 572.6,604.8 575.1,603.6 577.5,602.3 580.2,603.0 583.0,603.5 585.4,602.1 M585.6,594.1 584.0,595.8 583.1,598.0 583.4,600.5 585.4,602.1 M539.9,611.0 540.9,609.1 541.3,607.0 542.1,605.1 543.5,603.5 543.3,601.4 542.5,599.4 542.6,597.3 542.7,595.2 M385.9,530.5 387.0,527.8 388.2,525.1 389.4,522.3 389.1,519.3 390.0,516.3 391.4,513.5 393.5,511.2 396.6,510.3 397.9,507.6 400.3,505.9 401.6,503.0 404.6,502.1 406.5,499.7 406.7,498.4 M385.9,530.5 384.6,531.9 382.7,532.4 381.0,533.1 379.7,534.5 377.8,534.2 376.0,533.8 374.2,534.5 372.3,534.6 M385.9,530.5 387.6,530.0 389.0,529.2 390.4,527.9 392.2,528.1 393.4,529.6 395.2,529.8 397.0,529.8 398.7,529.8 400.4,529.5 402.0,528.7 403.6,529.3 405.2,530.1 406.2,531.6 408.0,531.9 409.7,532.5 411.3,531.9 M413.0,498.3 412.9,499.5 414.9,501.4 415.3,502.0 M416.3,503.6 416.4,503.8 414.3,505.5 412.6,507.7 412.6,510.5 411.2,512.9 411.8,515.3 412.1,517.6 412.9,520.0 412.2,522.4 411.2,524.8 410.0,527.0 410.3,529.6 411.3,531.9 M375.0,553.0 375.7,555.7 377.7,557.7 M344.3,562.1 344.4,563.7 344.2,565.3 343.2,566.6 342.9,568.1 343.0,569.9 341.9,571.3 342.1,573.2 343.6,574.3 345.1,574.7 346.4,575.5 347.6,576.4 349.1,577.0 350.3,578.0 351.4,579.0 352.7,579.9 353.5,581.3 M353.5,581.3 356.1,581.7 357.8,579.7 360.0,579.4 362.1,578.3 364.4,577.8 366.8,577.5 368.4,575.8 370.0,574.0 371.4,572.2 372.6,570.2 372.0,567.7 373.4,565.6 374.7,563.7 376.1,562.0 377.0,559.9 377.7,557.7 M285.5,704.8 286.6,702.8 M324.8,684.1 322.9,686.0 321.7,688.4 319.8,690.3 318.0,692.2 317.8,694.9 316.9,697.4 316.4,700.0 315.6,702.6 M320.3,679.4 317.3,679.5 314.6,680.8 313.1,681.6 311.8,682.7 310.3,682.0 308.8,681.2 M320.3,679.4 321.6,680.5 323.2,681.1 324.0,682.6 324.8,684.1 M286.6,702.8 288.3,701.5 290.6,701.8 292.2,700.2 294.4,700.3 295.0,698.3 296.7,696.9 298.9,695.9 299.2,693.6 298.4,691.2 300.0,689.3 301.7,688.0 303.8,687.2 304.4,685.0 304.5,682.7 306.2,680.7 308.8,681.2 M324.8,684.1 326.4,685.0 M324.7,664.0 326.8,664.0 328.6,662.9 330.7,662.3 332.8,662.9 334.7,662.0 335.9,660.2 337.4,658.6 339.6,658.4 M339.6,658.4 339.6,660.3 339.4,662.1 337.8,663.3 337.5,665.3 336.7,667.2 337.6,669.1 339.0,670.4 340.3,671.9 341.3,673.2 342.0,674.8 342.4,676.5 343.4,677.9 343.3,679.6 343.6,681.3 344.7,682.7 345.3,684.3 M320.3,679.4 321.6,677.7 322.6,676.0 323.9,674.3 324.0,672.1 324.0,670.1 323.9,668.0 324.9,666.1 324.7,664.0 M345.3,684.3 342.8,683.9 340.3,684.4 337.7,684.6 335.9,686.5 333.4,685.7 331.4,684.1 328.7,683.4 326.4,685.0 M596.9,724.4 598.9,725.4 600.8,726.7 601.9,728.6 602.7,730.8 603.7,732.8 605.6,734.1 605.9,736.3 606.8,738.3 M596.9,724.4 595.1,724.5 594.1,726.0 592.5,725.5 590.9,725.5 589.3,725.6 587.8,726.1 586.5,727.1 585.5,728.3 M585.5,728.3 584.5,730.9 585.3,733.5 585.8,736.1 585.6,738.7 588.0,740.3 590.1,742.4 589.8,745.3 589.6,747.4 M606.8,738.3 604.4,739.0 602.2,740.2 599.8,741.0 597.7,742.3 595.5,743.6 593.7,745.4 591.4,746.5 590.1,747.7 M585.5,728.3 582.9,729.7 580.5,731.3 577.9,730.0 575.0,729.5 573.1,727.3 570.3,726.6 567.6,726.3 564.8,726.5 M602.4,710.1 600.8,708.5 598.5,708.3 596.4,707.5 595.1,705.7 593.3,704.5 592.3,702.6 590.3,701.4 589.4,699.4 587.0,697.7 584.2,698.5 582.6,696.4 581.4,693.9 580.0,696.2 577.4,696.7 575.0,697.1 572.6,697.7 M602.4,710.1 601.6,711.9 600.0,713.2 598.5,714.7 598.5,716.8 597.7,718.6 597.5,720.5 596.9,722.4 596.9,724.4 M564.8,726.5 565.3,724.6 566.4,723.0 567.0,721.2 567.3,719.3 567.1,717.3 568.3,715.6 569.3,713.9 570.8,712.7 570.5,710.8 570.5,708.9 570.7,707.0 571.4,705.2 572.6,703.5 572.1,701.5 572.6,699.6 572.6,697.7 M647.5,715.2 648.6,716.3 649.9,717.1 651.3,717.8 652.9,717.8 654.5,718.1 656.0,718.5 657.4,717.9 658.9,717.5 661.7,716.8 664.6,716.1 667.5,715.8 670.2,714.8 M670.2,714.8 669.4,716.8 668.8,718.9 667.4,720.6 666.5,722.6 665.8,724.9 663.9,726.1 662.6,727.9 661.1,729.5 M648.8,727.9 649.4,728.7 M661.1,729.5 659.8,728.6 658.2,728.8 656.7,728.5 655.3,727.8 653.8,727.8 652.4,728.4 650.8,728.1 649.4,728.7 M697.4,758.7 697.0,756.8 696.4,753.6 698.5,751.1 700.0,748.3 701.6,745.1 700.1,741.9 702.9,740.4 705.7,738.8 706.7,735.7 708.5,733.0 M715.1,733.4 713.4,732.9 711.8,733.4 710.1,733.2 708.5,733.0 M575.2,324.3 575.7,326.5 576.9,328.4 M576.9,328.4 576.9,331.7 576.8,334.9 578.4,337.7 579.8,340.7 581.9,342.9 M652.6,425.2 650.5,426.7 648.0,426.3 645.3,426.4 643.9,424.1 641.5,424.4 639.5,423.2 637.3,423.7 635.1,424.0 M635.1,424.0 635.7,421.9 636.2,419.9 637.1,417.8 636.5,415.6 637.5,413.6 637.3,411.4 637.3,409.3 637.3,407.1 M649.3,412.0 648.0,411.0 646.5,410.4 645.2,409.4 643.6,409.0 642.1,408.3 640.5,408.0 639.7,406.3 637.8,406.2 M637.3,407.1 637.8,406.2 M576.9,328.4 578.6,329.4 580.4,330.2 581.8,331.7 582.5,333.5 582.6,335.6 583.1,337.6 584.2,339.6 586.4,340.0 587.8,341.5 589.5,342.5 589.8,344.5 590.3,346.4 590.6,346.6 M582.1,318.7 584.1,318.4 585.5,317.0 587.4,317.4 589.4,317.1 M589.4,317.1 591.4,318.5 591.3,320.9 593.5,321.4 595.0,323.1 595.2,325.3 597.0,326.7 598.3,328.3 600.1,329.5 602.1,329.8 604.0,330.5 605.8,331.7 607.9,331.8 610.1,331.4 612.2,330.7 613.5,332.7 M593.8,345.0 593.8,343.6 595.8,342.4 597.1,340.5 599.0,339.2 601.2,338.4 603.1,337.4 605.1,336.5 606.0,334.4 607.5,332.8 609.2,330.8 611.8,331.3 614.1,331.7 614.4,332.0 M224.2,476.4 223.9,474.4 224.5,472.4 223.3,470.7 223.3,468.6 M224.2,476.4 221.7,476.8 219.5,478.0 217.0,478.9 215.5,481.1 212.8,480.9 210.7,482.7 208.3,481.3 205.7,482.1 M223.3,468.6 223.5,467.1 223.3,465.6 222.0,464.8 221.0,463.5 219.0,461.6 216.5,460.3 214.8,458.1 212.5,456.6 211.8,455.2 211.0,453.8 209.4,453.9 207.9,453.8 M205.7,482.1 205.2,481.7 M205.2,481.7 204.2,479.9 204.5,477.9 204.2,475.9 203.6,474.0 201.8,472.8 201.4,470.6 200.0,468.9 197.7,468.8 M207.9,453.8 205.9,455.3 204.3,457.0 201.9,457.2 199.5,457.8 198.6,460.0 198.0,462.3 197.5,464.6 197.9,466.9 M197.9,466.9 197.7,468.8 M206.6,507.0 206.3,505.4 205.7,504.0 206.0,502.2 204.8,500.9 204.5,499.3 205.0,497.7 204.5,496.1 203.7,494.6 206.0,494.6 207.4,492.9 207.7,490.9 207.9,488.9 207.8,487.1 207.5,485.3 206.1,483.9 205.7,482.1 M229.0,491.2 228.0,491.5 226.0,492.4 224.3,494.0 222.6,495.5 220.4,496.0 218.4,497.0 216.6,498.3 214.8,499.7 213.3,501.3 212.1,503.4 209.9,504.1 209.1,506.3 M207.1,506.9 206.6,507.0 M230.9,483.7 230.0,483.2 228.8,481.8 228.1,479.9 226.2,479.3 225.2,477.8 224.2,476.4 M208.2,452.5 207.9,453.8 M235.6,450.1 235.8,452.8 236.0,455.5 M236.0,455.5 234.3,457.2 232.6,458.9 230.4,459.8 228.0,460.5 227.1,462.7 225.7,464.6 224.3,466.5 223.3,468.6 M185.0,488.3 185.9,488.4 187.1,487.2 187.6,485.9 M190.7,483.2 191.6,483.1 192.7,481.7 194.0,482.9 195.7,482.8 197.3,483.1 198.9,482.9 200.3,481.6 202.0,482.2 203.7,482.3 205.2,481.7 M206.6,507.1 206.6,507.0 M191.5,476.2 191.7,475.6 192.3,473.3 193.7,471.3 195.9,470.4 197.7,468.8 M186.7,459.4 197.9,466.9 M253.8,449.2 254.9,450.1 256.3,451.5 256.6,453.5 256.3,454.6 M236.0,455.5 236.4,455.6 M238.2,463.5 238.0,464.6 237.8,465.3 M261.4,531.1 263.0,529.0 263.8,526.5 263.6,523.9 263.5,521.3 M294.0,514.3 292.1,513.3 290.0,513.6 288.1,512.8 286.4,511.6 M263.5,521.3 264.9,520.5 266.2,519.4 267.0,517.9 268.0,516.6 269.6,516.1 271.3,516.3 272.9,515.6 274.1,514.4 275.5,513.7 277.0,513.2 278.6,512.8 280.0,512.2 281.7,512.4 283.3,513.1 285.0,512.8 286.4,511.6 M421.9,312.4 422.2,314.5 421.9,316.6 421.3,318.7 419.5,319.9 419.1,322.2 417.0,323.1 416.5,325.1 416.6,327.2 M416.6,327.2 411.3,328.1 407.7,332.1 402.6,334.7 401.5,340.3 396.4,339.3 391.4,340.4 388.4,339.9 M418.3,399.2 418.0,397.7 416.6,394.6 414.6,391.9 414.2,388.5 414.7,385.1 411.2,383.7 409.5,380.2 406.2,378.7 402.9,377.2 402.9,373.7 402.4,370.1 402.3,366.6 401.7,363.1 M401.7,363.1 398.2,364.2 394.8,365.9 390.7,366.0 M416.6,327.2 417.9,328.7 419.8,329.2 421.6,329.5 423.4,329.9 425.6,330.0 426.6,332.0 428.5,331.9 430.4,332.2 430.1,334.3 429.6,336.3 430.2,338.7 432.7,339.2 432.8,341.1 432.5,343.0 432.8,344.8 432.5,346.7 M401.7,363.1 404.7,362.7 407.6,362.0 409.3,361.9 410.3,360.5 411.8,360.9 413.4,360.5 414.8,360.8 416.3,361.3 417.8,361.1 419.3,361.2 420.9,361.1 422.4,361.5 423.4,362.8 425.1,362.9 M432.5,346.7 430.8,348.5 428.9,350.0 426.6,351.0 425.1,353.1 425.2,355.7 426.2,358.0 426.6,360.7 425.1,362.9 M432.4,387.1 432.5,387.0 431.0,385.1 430.1,382.8 430.4,380.1 428.1,378.5 428.8,376.2 428.9,373.8 428.8,371.4 428.6,369.0 M428.6,369.0 428.1,367.2 426.9,365.9 426.5,364.1 425.1,362.9 M498.5,372.7 498.0,375.2 499.2,377.5 499.4,380.0 500.8,382.1 501.4,384.6 503.4,386.3 504.3,388.7 506.5,390.1 507.5,392.7 510.1,393.6 510.4,396.1 511.0,398.6 511.9,400.9 513.0,403.1 515.0,404.6 516.7,406.4 M498.5,372.7 497.5,374.6 497.2,376.7 496.5,378.8 495.6,380.7 494.5,382.6 494.3,384.8 493.6,386.8 492.9,388.9 491.3,390.3 489.5,391.6 488.7,393.7 486.9,395.1 485.7,397.0 483.8,398.3 481.7,399.2 479.4,399.4 M479.4,399.4 481.9,398.7 484.4,398.7 486.7,399.8 488.6,401.4 489.1,403.8 490.2,405.9 491.4,408.0 491.4,410.4 M516.7,406.4 514.7,406.8 512.7,407.2 511.0,406.0 510.1,404.1 508.6,402.8 506.7,403.1 505.0,403.8 503.2,403.2 502.4,404.9 500.7,405.7 498.8,405.8 497.2,406.6 495.6,407.5 493.9,407.8 492.8,409.2 491.4,410.4 M462.7,400.6 462.0,401.8 M462.7,400.6 465.5,401.1 468.3,400.7 471.0,401.0 473.8,400.4 M473.8,400.4 475.3,402.9 475.8,405.7 478.2,407.4 478.9,410.3 481.3,412.0 482.3,414.9 482.8,417.7 483.0,420.6 483.4,423.7 481.1,425.8 480.5,428.6 480.7,431.4 478.3,432.8 M457.1,368.3 456.4,369.0 M446.6,369.9 446.5,369.9 444.6,369.5 442.9,368.8 440.6,368.9 438.4,368.6 436.8,367.0 435.7,365.1 433.9,366.2 431.8,366.5 429.5,366.8 428.6,369.0 M457.1,368.3 456.8,370.5 457.9,372.4 458.3,374.4 459.1,376.4 460.5,378.0 462.1,379.6 462.5,381.8 462.2,384.0 461.1,386.0 460.5,388.1 460.2,390.2 460.1,390.8 M460.9,395.0 462.1,396.2 461.9,398.5 462.7,400.6 M509.2,438.7 509.1,435.6 510.8,432.6 511.0,429.3 512.2,426.3 509.4,424.5 506.9,422.4 504.3,420.4 502.1,418.0 499.2,416.4 496.7,414.2 493.2,413.5 491.4,410.4 M479.4,399.4 476.6,399.8 473.8,400.4 M486.8,448.1 483.9,447.6 481.5,446.1 479.0,444.5 478.2,443.1 M423.2,471.0 423.7,471.4 425.9,470.3 M425.9,470.3 426.0,466.7 428.2,463.8 430.0,460.8 431.9,457.9 432.0,454.0 435.4,451.9 436.2,448.5 437.0,445.1 439.4,441.6 443.7,441.6 443.7,437.7 444.8,435.1 M425.9,470.3 428.2,469.3 429.9,467.5 432.4,467.0 434.9,467.3 437.3,467.1 439.7,466.9 440.1,467.3 M450.2,461.3 451.9,460.4 M492.6,254.7 490.6,255.4 488.5,255.2 488.2,257.4 487.0,259.2 485.7,260.8 483.7,260.8 482.4,262.1 481.1,263.4 M455.9,264.6 457.8,264.9 459.3,266.0 M481.1,263.4 479.6,262.9 477.9,263.1 476.6,264.1 475.9,265.6 473.1,266.0 470.5,267.1 467.6,267.0 464.9,265.8 462.1,265.8 459.3,266.0 M627.1,246.0 625.3,245.4 623.5,245.7 621.9,246.7 620.1,246.6 618.1,246.7 616.6,248.0 614.7,248.0 613.0,246.9 M627.1,246.0 628.9,245.8 630.7,245.4 632.1,244.1 633.5,243.0 634.1,241.2 633.9,239.4 634.9,237.6 633.9,235.9 634.8,234.4 634.4,232.8 634.8,231.3 635.2,229.7 635.4,228.1 635.4,226.5 M613.0,246.9 612.8,244.9 613.3,243.0 613.5,241.0 613.8,239.1 613.1,237.3 612.7,235.3 612.4,233.4 611.5,231.6 M611.5,231.6 612.6,230.6 613.9,229.7 615.0,228.6 615.9,227.5 617.0,226.3 618.2,225.3 618.8,223.9 619.6,222.5 M619.6,222.5 621.4,222.7 623.1,223.3 624.8,223.8 626.6,223.6 628.2,224.7 630.1,224.1 631.4,223.5 M648.2,251.8 645.8,251.9 643.6,250.7 641.2,251.3 638.9,250.2 636.6,250.0 634.2,249.7 631.9,248.9 629.5,248.9 M629.5,248.9 627.8,247.9 627.1,246.0 M590.3,227.2 593.2,227.6 595.4,229.4 598.1,230.3 600.4,231.9 603.3,232.5 605.9,231.1 608.7,231.0 611.5,231.6 M603.3,249.8 605.5,250.4 607.7,250.6 M607.7,250.6 608.4,249.0 609.9,248.1 611.4,247.2 613.0,246.9 M604.6,208.4 605.9,208.1 607.5,208.3 608.9,209.0 609.9,210.2 611.3,211.0 612.9,211.6 614.5,211.4 615.0,212.9 615.8,214.2 615.8,215.8 616.8,217.1 618.2,218.0 618.8,219.5 619.5,221.0 619.6,222.5 M141.8,785.1 142.7,783.4 143.9,781.9 145.0,780.2 146.7,779.2 148.7,779.3 150.4,778.3 152.4,778.2 154.3,777.9 M130.2,750.9 132.1,754.1 133.8,757.5 137.5,760.0 139.3,764.1 143.4,761.3 147.9,763.1 151.1,765.5 152.7,769.2 156.7,770.0 159.4,773.0 M154.3,777.9 155.2,776.2 157.1,775.7 158.4,774.5 159.4,773.0 M134.3,732.9 134.6,732.8 136.2,731.9 137.3,730.4 138.0,728.8 139.7,728.8 141.3,728.2 143.0,728.1 144.7,728.4 M159.4,773.0 160.7,772.3 M160.7,772.3 161.5,770.5 162.3,768.7 162.8,766.8 163.9,765.1 164.2,763.0 165.3,761.3 166.2,759.3 165.4,757.3 M165.4,757.3 165.2,754.9 163.9,752.9 162.7,751.0 161.4,749.0 160.2,747.0 158.7,745.1 158.4,742.7 158.5,740.3 157.5,737.9 156.4,735.6 153.7,736.1 151.3,734.7 150.5,732.4 148.6,730.9 146.4,730.1 144.7,728.4 M161.2,711.3 159.8,713.4 158.8,715.6 156.4,716.6 154.9,718.8 152.3,719.8 149.5,720.5 148.9,723.3 148.5,726.2 M148.5,726.2 146.2,726.6 144.7,728.4 M237.9,741.9 236.7,743.1 236.1,744.6 235.3,746.0 234.0,747.1 M223.1,770.6 225.2,770.2 226.3,768.4 227.8,767.0 228.5,765.0 230.6,765.6 232.7,765.1 234.2,763.6 235.6,762.1 236.4,760.3 236.9,758.4 237.0,756.3 236.3,754.5 235.2,752.8 234.9,750.9 235.2,748.8 234.0,747.1 M223.1,770.6 224.1,773.3 225.3,775.8 M259.8,779.2 257.4,778.5 255.3,780.0 254.3,782.1 252.9,783.9 M252.9,783.9 250.9,782.8 250.5,780.7 248.8,779.6 247.4,778.2 245.6,777.4 244.0,776.2 242.1,775.5 240.9,773.8 238.9,774.6 237.1,775.9 235.0,776.6 233.5,778.2 231.3,779.3 229.0,778.6 227.9,776.2 225.3,775.8 M650.1,266.1 650.2,267.9 649.2,269.4 647.6,270.0 645.9,270.4 M660.5,309.8 660.5,309.7 660.6,306.0 657.3,304.1 655.8,300.5 655.1,296.8 656.8,293.3 654.9,290.7 652.6,288.3 652.9,284.9 650.9,282.0 649.2,279.4 648.0,276.4 647.0,273.4 645.9,270.4 M629.5,248.9 630.2,251.8 629.7,254.7 629.4,257.6 629.2,260.5 628.9,263.4 629.3,266.4 628.4,269.2 627.7,272.0 M645.9,270.4 643.8,269.3 641.4,268.9 639.0,268.8 636.6,268.7 634.3,269.5 632.4,270.9 630.2,272.0 627.7,272.0 M621.3,552.1 620.0,553.0 619.1,554.4 617.6,554.8 616.3,555.8 615.6,557.3 615.9,558.9 615.9,560.5 615.5,562.0 615.1,563.5 615.1,565.0 615.1,566.5 615.5,568.0 614.6,569.4 613.1,570.1 612.8,571.6 611.9,572.9 M621.3,552.1 620.4,549.4 M589.3,545.1 591.4,545.5 593.4,544.8 595.5,545.1 597.6,545.0 597.8,542.7 598.6,540.5 601.3,540.8 602.9,538.6 M595.6,578.9 597.7,577.9 600.0,578.4 601.9,577.3 603.9,576.3 605.6,574.8 607.4,573.5 609.7,573.3 611.9,572.9 M602.9,538.6 605.6,539.1 608.4,538.7 610.3,540.8 612.7,542.3 615.1,543.4 617.0,545.3 618.2,547.8 620.4,549.4 M547.3,615.1 547.9,616.9 548.3,618.8 549.0,620.6 550.5,621.9 552.5,621.5 554.5,622.2 555.7,623.9 556.8,625.6 557.0,627.5 557.6,629.3 559.1,630.5 559.9,632.2 560.8,634.0 562.8,634.4 564.0,635.8 565.6,636.7 M601.6,634.5 598.8,634.3 596.0,634.3 594.0,636.5 591.2,637.1 M601.6,634.5 601.4,632.1 599.8,630.3 600.1,628.1 599.8,625.8 597.5,625.1 595.1,624.4 593.8,622.4 593.0,620.0 592.1,617.8 592.9,615.5 590.6,614.5 589.7,612.2 589.0,610.3 588.1,608.3 587.8,606.2 587.2,604.2 M587.2,604.2 585.4,602.1 M565.6,636.7 567.4,637.3 568.8,636.0 570.4,636.0 572.1,635.6 573.5,636.6 575.0,637.2 576.7,637.4 578.4,637.4 580.3,637.9 581.7,636.5 582.8,634.9 584.7,634.7 586.5,635.1 587.7,636.4 589.4,637.1 591.2,637.1 M614.0,648.7 612.5,648.1 M607.8,654.6 609.1,653.1 610.4,651.6 610.9,649.5 612.5,648.1 M616.0,703.6 614.0,703.4 M616.0,703.6 617.7,702.4 619.5,701.2 621.6,700.5 623.3,699.3 623.7,697.2 624.3,695.1 624.7,692.8 626.5,691.4 628.8,691.7 631.0,691.3 633.2,690.6 635.5,690.5 636.5,688.4 636.7,686.0 638.1,684.1 639.9,682.6 M605.8,689.6 606.4,691.9 608.7,692.5 609.3,694.5 609.8,696.5 610.3,698.6 611.6,700.2 613.3,701.4 614.0,703.4 M607.8,654.6 608.3,657.0 609.8,658.9 609.1,661.3 609.8,663.7 609.1,665.9 607.4,667.6 606.7,669.9 606.0,672.1 605.9,674.3 605.5,676.5 604.7,678.6 604.1,680.8 604.4,683.1 604.0,685.4 605.7,687.1 605.8,689.6 M614.0,648.7 616.2,650.0 617.9,651.9 M639.9,682.6 639.1,680.3 637.1,678.8 635.4,677.1 633.7,675.5 632.2,673.6 631.4,671.3 629.8,669.5 628.3,667.7 627.1,665.4 625.0,664.0 624.1,661.6 624.2,659.1 622.8,657.2 620.8,655.7 619.6,653.6 617.9,651.9 M542.7,595.2 541.9,592.8 541.1,590.3 538.7,589.4 536.3,588.6 535.4,586.5 534.3,584.5 533.2,582.5 532.2,580.4 529.8,579.9 528.1,578.1 527.2,575.8 525.7,574.0 525.5,571.5 525.1,569.1 523.2,567.5 521.2,566.0 M551.5,574.2 549.9,572.0 547.2,571.9 545.4,570.2 543.4,568.8 542.3,566.5 540.2,565.1 537.3,564.9 536.1,562.4 M521.2,566.0 523.1,565.9 525.1,565.7 527.0,565.6 528.9,565.5 530.9,565.3 532.8,564.5 534.9,564.1 536.1,562.4 M503.7,602.0 505.8,602.6 507.6,603.9 509.8,603.8 512.0,603.9 514.1,604.3 516.3,604.6 518.4,604.2 520.5,603.9 522.2,605.7 523.4,607.9 525.8,606.9 528.3,607.2 530.7,606.9 532.4,608.5 534.5,608.6 536.5,609.4 M503.7,602.0 502.6,600.6 503.0,599.0 M536.5,609.4 534.6,607.0 535.7,604.2 534.8,601.7 535.4,599.0 534.7,596.0 531.7,595.1 530.0,592.8 530.4,589.9 529.0,587.7 527.0,585.9 524.6,585.0 522.3,583.6 520.4,581.8 517.9,581.1 516.0,579.3 514.3,577.4 M503.0,599.0 503.2,597.2 502.2,595.7 502.2,594.0 502.4,592.3 501.9,590.5 501.8,588.7 503.3,587.5 504.2,585.8 504.5,584.1 505.8,582.8 507.1,581.6 508.2,580.4 509.6,579.4 511.3,578.9 512.8,578.2 514.3,577.4 M482.4,620.2 480.5,621.7 478.6,623.1 476.1,623.4 473.9,624.5 473.0,626.9 470.6,628.0 468.5,629.1 466.8,630.9 M482.4,620.2 484.5,620.4 486.5,620.2 488.5,620.4 490.5,620.4 M490.5,620.4 491.1,622.2 492.9,622.9 492.7,624.6 493.0,626.4 494.6,627.0 495.7,628.2 497.3,628.6 498.9,629.0 M485.9,649.9 486.9,647.7 489.2,646.9 490.4,645.0 491.7,643.2 493.7,641.2 493.2,638.5 495.4,637.3 497.9,636.9 M485.9,649.9 484.8,648.5 483.1,647.8 481.5,647.0 479.8,646.7 477.9,646.3 476.2,645.5 475.6,643.7 474.7,642.0 473.9,640.5 473.4,638.8 472.1,637.6 470.9,636.3 469.2,635.5 467.4,634.7 467.4,632.7 466.8,630.9 M498.9,629.0 499.0,631.0 498.2,632.9 498.1,634.9 497.9,636.9 M473.9,599.7 471.6,601.5 469.0,602.6 466.1,602.7 463.2,603.0 461.6,602.9 460.2,602.0 459.0,603.0 457.6,603.8 454.8,604.5 452.5,606.3 M473.9,599.7 474.5,601.3 476.1,601.9 475.5,603.5 475.7,605.1 477.5,607.3 479.5,609.4 481.4,611.7 482.8,614.3 482.5,615.9 483.2,617.3 483.0,618.8 482.4,620.2 M452.5,606.3 451.9,608.6 450.9,610.6 451.1,613.0 450.5,615.3 451.1,618.0 452.7,620.1 450.4,621.7 449.7,624.5 M451.7,629.7 450.8,627.1 449.7,624.5 M456.0,634.2 454.8,633.2 453.3,632.5 452.4,631.1 451.7,629.7 M456.0,634.2 456.3,632.4 458.0,631.6 459.1,630.4 460.4,629.3 462.2,629.6 463.8,629.1 465.7,629.4 466.8,630.9 M541.7,614.3 541.4,615.8 541.2,617.3 540.2,618.4 538.8,619.1 537.8,621.8 535.5,623.7 535.1,626.6 534.7,629.6 533.8,630.8 532.7,631.9 531.4,632.7 530.1,633.5 M536.5,609.4 537.9,610.8 539.9,611.0 M503.7,602.0 502.6,603.0 501.3,603.8 500.6,605.2 500.7,606.8 498.9,609.0 497.7,611.6 496.9,613.1 495.9,614.4 496.6,616.0 496.3,617.8 494.9,618.5 493.5,619.3 492.0,619.7 490.5,620.4 M530.1,633.5 527.7,633.1 525.4,632.0 522.9,632.0 520.5,631.4 518.7,629.7 517.6,627.4 517.6,624.7 515.7,622.8 513.6,623.4 511.5,624.3 509.6,625.8 507.2,625.6 505.3,626.8 503.2,627.5 501.2,628.8 498.9,629.0 M411.5,532.1 413.6,533.7 416.1,534.5 418.6,535.1 420.9,536.4 423.4,535.8 425.9,535.3 428.5,535.0 430.9,533.9 M411.5,532.1 411.1,534.3 411.2,536.4 410.0,538.2 409.2,540.3 409.0,542.4 408.5,544.5 408.5,546.6 408.8,548.7 408.5,550.8 408.2,552.9 408.4,555.0 408.1,557.1 408.1,559.2 408.2,561.3 408.2,563.5 407.1,565.4 M430.9,533.9 431.4,535.5 432.1,537.1 432.1,538.8 432.5,540.5 432.8,542.2 432.9,543.9 433.2,545.6 433.7,547.2 433.0,549.0 431.6,550.3 431.4,552.2 430.5,553.9 428.7,554.5 426.8,554.5 425.2,555.6 423.3,555.9 M407.1,565.4 409.0,563.8 410.3,561.7 412.3,560.2 414.8,560.0 417.2,559.5 419.0,557.8 421.2,557.0 423.3,555.9 M382.9,561.4 382.6,559.5 381.4,558.0 379.5,557.7 377.7,557.7 M405.7,567.6 404.4,566.6 402.7,566.3 401.1,566.4 399.5,566.9 397.9,567.0 396.3,567.0 394.8,567.4 393.3,568.1 392.4,566.8 390.9,566.2 389.4,565.5 388.4,564.3 387.1,563.3 386.1,561.9 384.5,562.1 382.9,561.4 M411.3,531.9 411.5,532.1 M405.7,567.6 407.1,565.4 M414.6,585.2 416.4,585.0 418.2,585.5 419.9,585.9 421.6,586.5 M414.6,585.2 413.4,586.6 411.6,586.3 410.1,587.0 409.2,588.4 408.7,589.9 408.4,591.5 407.1,592.4 406.5,594.0 405.0,594.8 403.5,595.5 403.4,597.3 402.5,598.8 401.9,600.4 402.7,602.0 402.2,603.5 401.5,604.9 M421.6,586.5 422.5,588.4 424.4,589.3 424.4,591.4 425.6,593.1 425.8,595.1 426.5,596.9 427.5,598.7 427.8,600.7 428.6,602.5 430.2,603.7 430.3,605.8 431.7,607.3 433.5,608.5 433.9,610.6 434.1,612.5 435.1,614.3 M435.1,614.3 433.0,613.5 430.9,613.1 429.0,614.2 427.3,615.5 425.2,615.7 423.0,615.6 420.9,614.8 419.9,612.8 417.7,613.1 415.5,613.6 415.1,615.8 414.0,617.8 413.3,619.6 412.5,621.4 411.2,622.8 410.0,624.4 M410.0,624.4 409.9,621.5 409.7,618.7 408.7,616.0 409.3,613.1 406.9,611.4 404.4,609.9 402.8,607.5 401.5,604.9 M441.0,564.6 440.7,563.0 439.3,562.0 437.8,561.2 436.9,559.9 436.6,558.3 435.6,557.0 434.3,556.0 433.4,554.7 M433.4,554.7 431.3,556.6 428.6,557.0 426.0,556.4 423.3,555.9 M426.5,585.6 424.1,586.0 421.6,586.5 M426.5,585.6 428.3,585.4 429.5,584.2 431.1,583.2 431.4,581.4 432.3,580.0 433.0,578.6 433.5,577.0 434.7,575.8 434.6,574.1 435.4,572.5 436.3,571.0 436.1,569.3 437.7,568.3 438.1,566.5 439.4,565.3 441.0,564.6 M405.7,567.6 406.1,570.1 407.0,572.5 408.1,575.0 410.5,576.2 411.7,578.5 413.6,580.2 414.4,582.7 414.6,585.2 M446.0,588.4 447.9,590.3 448.8,592.7 448.7,595.3 448.2,597.8 449.7,599.8 449.9,602.3 451.7,604.0 452.5,606.3 M446.0,588.4 443.1,588.6 441.1,590.8 438.4,591.6 435.6,591.6 434.2,592.4 432.5,592.3 430.9,591.8 429.6,590.9 429.2,589.4 428.2,588.2 427.2,587.0 426.5,585.6 M449.7,624.5 448.2,622.7 446.3,621.5 445.2,619.4 443.2,618.3 440.7,617.7 439.5,615.5 437.4,614.5 435.1,614.3 M411.1,633.9 413.4,632.0 416.0,630.4 417.2,627.5 420.0,626.0 423.3,626.0 426.6,625.1 428.7,627.7 431.2,629.9 433.5,631.6 436.3,630.8 438.9,630.7 441.5,631.4 444.0,631.1 446.6,630.6 449.3,631.2 451.7,629.7 M411.1,633.9 411.2,631.4 412.1,628.9 411.7,626.3 410.0,624.4 M292.7,620.2 293.6,622.8 292.3,625.2 294.3,627.2 294.0,629.9 292.6,632.1 291.8,634.5 292.1,637.0 291.9,639.5 M300.9,616.1 299.6,618.3 297.7,620.0 295.2,620.5 292.7,620.2 M300.9,616.1 302.6,617.2 303.7,619.0 304.0,621.0 303.1,622.9 304.6,624.2 305.1,626.0 304.9,627.9 305.8,629.6 307.0,631.1 307.5,632.9 308.7,634.5 308.9,636.4 310.0,638.3 312.1,638.4 313.4,639.8 315.2,640.4 M315.2,640.4 313.7,641.7 313.1,643.6 312.8,645.5 311.9,647.2 M291.9,639.5 294.8,639.6 297.0,641.3 299.6,642.5 302.4,642.0 305.3,642.1 307.6,643.9 309.3,646.0 311.9,647.2 M526.1,649.2 524.5,649.0 523.1,650.0 522.5,651.4 521.4,652.5 520.0,653.4 518.4,653.1 516.9,653.7 516.2,655.2 513.4,656.1 510.7,657.1 509.1,657.0 507.6,657.3 507.0,658.9 505.4,659.6 M526.1,649.2 525.3,652.0 526.1,654.8 526.3,656.3 526.3,657.8 527.7,658.5 528.5,659.8 530.9,661.6 532.7,664.0 533.2,666.9 532.8,669.9 M532.8,669.9 530.5,671.3 528.0,672.0 527.9,674.8 526.2,677.0 524.6,678.9 523.2,680.9 521.3,682.6 520.2,684.8 M520.2,684.8 519.5,681.9 518.4,679.2 517.4,678.0 516.3,676.9 516.1,675.4 515.2,674.1 514.0,673.0 512.8,672.0 511.2,671.7 509.6,672.1 508.1,671.5 506.4,671.8 505.4,670.5 504.5,669.2 M504.5,669.2 504.5,666.8 504.3,664.5 504.9,662.2 505.2,659.8 M505.4,659.6 505.2,659.8 M497.9,636.9 498.7,638.3 500.0,639.3 501.2,640.4 502.6,641.2 503.0,642.8 503.4,644.4 504.3,645.9 503.7,647.5 504.5,648.9 505.1,650.3 506.1,651.8 505.4,653.4 506.1,654.9 506.4,656.5 506.7,658.3 505.4,659.6 M530.4,639.3 530.4,637.7 529.2,636.5 529.6,634.9 530.1,633.5 M530.4,639.3 529.6,641.9 528.9,644.5 528.1,647.2 526.1,649.2 M486.5,655.1 489.0,654.8 491.3,655.8 493.6,656.7 495.8,657.7 498.1,658.6 500.3,659.6 502.8,658.9 505.2,659.8 M486.5,655.1 486.3,652.5 485.9,649.9 M330.3,711.4 331.3,711.4 M316.3,735.3 318.5,735.7 320.7,735.9 322.7,737.0 324.8,737.5 326.6,739.0 328.0,740.8 328.9,742.0 M331.3,711.4 329.2,712.4 328.0,714.4 327.1,716.6 328.1,718.9 327.6,720.9 326.7,722.9 326.8,725.1 327.9,727.0 326.7,728.9 326.9,731.2 327.0,733.3 327.7,735.4 329.3,736.8 329.5,737.1 M326.4,685.0 325.5,686.8 325.9,688.9 327.2,690.5 327.2,692.5 328.8,693.6 330.2,695.1 331.9,696.0 333.9,696.1 333.2,697.9 332.0,699.2 331.5,701.1 332.3,702.8 331.9,704.6 331.9,706.4 333.1,707.8 333.4,709.6 M331.3,711.4 333.4,709.6 M345.3,684.3 346.9,683.5 348.0,682.1 349.8,681.5 351.5,682.3 353.1,682.9 354.7,683.3 356.1,684.2 357.3,685.4 358.2,686.7 358.7,688.2 359.9,689.3 361.4,689.8 362.5,691.0 363.6,692.1 365.0,693.0 366.6,693.0 M366.6,693.0 364.8,693.6 362.9,694.1 361.6,695.4 360.2,696.7 358.3,697.1 356.9,698.4 355.9,700.1 354.2,701.0 352.3,701.3 350.5,701.8 348.4,701.8 346.8,703.1 346.3,705.0 345.0,706.6 343.7,708.2 341.8,708.9 M333.4,709.6 335.5,709.9 337.6,709.5 339.6,708.4 341.8,708.9 M460.0,744.4 460.4,742.0 461.7,739.7 464.3,739.9 466.7,738.9 467.1,736.8 466.9,734.6 468.3,732.9 469.3,730.9 469.3,728.8 469.2,726.7 470.3,724.6 469.2,722.5 M450.3,713.5 453.0,713.5 455.5,714.5 457.9,715.6 460.4,716.6 462.6,718.5 463.6,721.3 466.2,722.7 469.2,722.5 M450.3,713.5 448.9,714.5 448.0,715.9 446.3,715.7 444.8,716.4 443.3,715.7 442.5,715.7 M562.8,811.4 561.5,811.1 559.7,811.0 557.8,811.0 556.3,812.2 M549.0,847.5 546.3,843.0 M548.5,815.3 548.8,815.3 550.6,814.3 552.7,814.1 554.1,812.4 556.3,812.2 M509.7,862.9 510.4,860.1 512.7,854.5 509.9,849.6 M500.9,859.6 500.8,859.1 499.7,850.9 501.2,846.8 M432.8,781.5 432.3,781.2 M602.5,774.2 604.2,772.7 604.1,769.4 605.5,766.9 606.6,764.1 607.9,761.5 608.6,758.6 610.6,756.5 612.5,754.3 613.9,751.8 615.6,749.4 616.2,746.5 618.2,744.3 M610.6,791.5 609.2,792.8 608.7,793.0 M610.6,791.5 612.6,789.3 613.8,786.6 615.9,784.1 619.1,784.4 621.4,782.4 623.0,779.8 624.4,776.6 622.4,773.8 625.3,773.1 627.8,771.4 630.5,770.3 632.9,768.5 632.9,765.1 631.2,762.1 633.9,760.0 635.4,757.0 M622.3,743.3 620.1,743.3 618.2,744.3 M622.3,743.3 623.8,743.6 625.1,744.4 626.8,745.1 627.0,746.9 629.5,748.5 632.1,749.7 M632.1,749.7 633.5,751.2 634.5,753.1 634.4,755.2 635.4,757.0 M606.8,738.3 607.7,740.0 609.6,740.4 610.7,741.8 611.4,743.4 612.5,745.2 614.6,745.2 616.1,743.7 618.2,744.3 M640.1,825.9 639.5,824.3 638.7,822.8 639.2,821.0 638.5,819.4 638.9,817.7 638.7,816.0 639.1,814.3 640.0,812.9 M640.1,825.9 636.8,824.8 633.4,823.8 629.9,823.8 629.4,823.6 M623.2,792.4 624.6,793.4 626.2,794.2 626.5,796.0 628.0,797.1 629.0,798.5 629.5,800.1 630.0,801.8 631.4,802.9 632.4,804.2 633.3,805.6 634.3,806.9 635.6,808.0 637.2,808.8 638.7,809.7 639.4,811.3 640.0,812.9 M623.2,792.4 621.5,791.7 620.3,790.2 618.7,791.0 616.9,791.7 615.3,792.1 613.7,792.6 612.0,792.3 610.6,791.5 M602.4,710.1 604.1,709.5 605.7,709.1 607.4,708.7 609.1,708.2 611.1,708.2 612.8,707.1 613.6,705.3 614.0,703.4 M625.2,716.5 623.6,714.9 623.6,712.7 622.3,710.9 622.5,708.7 621.2,707.1 619.6,705.7 617.6,704.9 616.0,703.6 M626.6,728.0 626.4,730.1 625.6,732.1 626.7,734.0 626.4,736.2 625.0,737.8 623.7,739.4 623.6,741.6 622.3,743.3 M649.4,728.7 648.8,730.4 647.7,731.9 646.6,733.4 645.1,734.5 644.8,736.4 645.9,738.0 646.1,739.8 646.0,741.7 M646.0,741.7 643.9,742.1 642.4,743.7 640.2,743.4 638.3,744.4 636.0,744.6 634.6,746.4 633.3,748.0 632.1,749.7 M476.3,686.5 478.1,687.7 478.2,689.7 M504.5,669.2 502.9,670.8 501.4,672.5 500.6,674.6 500.0,676.8 499.5,677.2 M479.4,685.3 478.6,685.8 476.3,686.5 M520.2,684.8 521.3,686.4 520.7,688.2 520.1,689.8 520.4,691.6 M478.2,689.7 480.5,691.2 481.2,691.4 M505.5,695.2 507.5,694.4 M508.0,693.9 508.5,693.1 M518.5,692.8 520.4,691.6 M543.3,761.4 543.2,763.1 M543.2,763.1 542.4,765.4 542.0,767.8 540.0,769.3 537.7,770.2 535.9,771.7 533.7,772.5 532.1,774.1 530.5,775.7 529.7,778.0 529.0,780.4 526.6,781.1 524.4,782.2 522.7,783.7 521.0,785.2 518.7,785.9 518.3,786.5 M505.5,739.5 505.4,740.0 502.8,741.3 501.0,743.7 499.2,745.8 497.6,748.2 498.0,749.8 498.4,751.3 498.1,753.2 496.3,753.8 M496.3,753.8 497.5,757.0 499.6,759.7 498.3,762.8 496.0,765.4 495.3,768.5 496.8,771.2 498.1,773.8 499.4,776.5 499.1,778.1 M550.6,803.2 552.3,805.5 554.9,806.8 554.8,809.7 556.3,812.2 M550.6,803.2 547.8,802.1 544.9,801.1 541.6,799.7 541.1,796.2 541.0,792.9 542.8,790.0 541.3,787.1 539.3,784.6 540.3,782.0 541.3,779.4 542.2,776.7 543.6,774.3 545.8,771.8 546.3,768.6 544.6,765.9 543.2,763.1 M564.8,726.5 563.9,728.0 563.4,729.8 562.8,731.5 563.1,733.4 562.1,733.9 M550.6,803.2 548.4,801.8 545.9,802.4 544.2,800.5 541.9,799.6 539.4,799.2 537.5,797.4 537.5,794.6 535.2,793.0 533.9,790.5 532.7,788.0 530.2,786.8 527.9,785.1 525.1,784.1 522.4,785.3 519.8,786.4 518.9,786.9 M520.4,691.6 521.6,693.3 522.5,695.2 523.7,696.9 524.5,698.8 525.1,700.8 525.8,702.8 525.7,703.4 M484.7,717.7 484.4,715.9 483.9,714.1 482.5,712.8 482.0,711.0 481.5,709.2 481.3,708.1 M480.5,694.8 480.5,694.7 479.9,693.0 479.1,691.3 478.2,689.7 M484.7,717.7 485.8,719.3 487.2,720.6 487.9,722.4 488.5,724.3 490.2,725.2 491.6,726.4 492.6,728.2 494.4,729.1 495.9,730.7 496.9,732.7 499.1,733.0 501.2,732.2 502.2,732.8 M469.2,722.5 471.4,723.4 473.5,724.5 475.5,723.3 477.7,722.4 479.7,721.7 481.4,720.4 482.9,718.9 484.7,717.7 M464.4,750.1 464.6,750.0 468.1,750.0 471.7,751.4 472.9,755.0 475.7,754.1 478.6,753.8 481.5,753.0 484.5,753.3 487.8,752.5 490.4,754.7 493.1,753.1 496.3,753.8 M661.2,796.7 659.1,796.3 657.1,796.9 655.4,795.9 653.4,795.4 651.4,795.9 649.5,796.9 648.3,798.5 646.9,799.9 645.4,801.5 643.4,801.9 642.3,803.6 641.4,805.4 641.8,807.3 641.1,809.2 640.5,811.1 640.0,812.9 M661.2,796.7 658.7,795.5 656.4,796.8 655.1,794.8 653.7,792.9 652.0,791.6 650.2,790.6 648.2,789.7 646.9,788.0 M623.2,792.4 625.7,792.0 628.3,792.1 629.0,789.4 631.4,788.1 633.8,788.7 636.1,788.2 638.4,787.4 640.7,787.6 M646.9,788.0 645.3,787.6 643.8,788.3 642.3,787.5 640.7,787.6 M635.4,757.0 637.3,758.4 M640.7,787.6 639.5,786.1 638.4,784.5 636.9,783.0 636.7,780.9 635.5,779.3 635.3,777.3 635.1,775.3 634.2,773.6 634.3,771.6 634.7,769.7 635.2,767.8 636.1,766.1 637.1,764.3 637.6,762.4 637.8,760.4 637.3,758.4 M673.4,847.1 673.2,846.7 671.3,845.5 670.8,843.4 670.0,841.2 667.9,840.2 665.9,839.6 663.8,839.0 664.1,836.9 663.6,834.9 664.3,832.9 664.8,831.1 M665.4,826.1 666.1,825.0 666.6,823.0 M672.0,851.0 669.9,850.9 667.0,851.3 664.0,851.0 661.0,850.9 658.2,852.1 655.2,852.6 652.3,851.7 651.0,851.3 M666.6,823.0 664.9,822.6 663.2,822.0 661.4,822.4 659.7,821.8 658.0,821.6 656.2,821.1 654.5,821.3 652.7,821.5 652.0,823.4 650.2,824.1 649.9,825.3 M671.6,807.4 671.4,807.7 671.1,809.3 670.5,810.9 670.6,811.8 M668.7,816.7 668.5,816.9 668.7,818.6 668.3,820.2 667.7,821.8 666.6,823.0 M661.2,796.7 663.4,796.9 665.5,797.5 665.6,797.5 M640.1,825.9 640.6,828.2 M613.7,390.8 614.2,391.2 616.2,392.0 618.3,392.4 619.2,394.3 620.5,395.9 622.4,396.9 624.5,397.1 626.3,395.5 628.5,396.4 630.5,396.8 632.4,397.4 634.8,397.3 636.0,399.3 M611.0,379.8 612.4,379.3 613.3,377.7 615.0,377.3 616.0,375.9 616.2,374.2 617.8,374.2 619.4,374.1 620.6,372.9 621.8,371.9 622.9,370.9 624.0,369.8 625.3,369.0 626.8,368.6 M641.3,390.3 639.7,392.4 638.1,394.5 637.5,397.1 636.0,399.3 M641.3,390.3 641.0,388.6 639.7,387.5 639.3,385.9 638.6,384.4 637.9,382.9 637.7,381.2 637.4,379.5 636.1,378.3 634.7,377.3 633.4,376.2 633.4,374.3 632.3,372.8 631.2,371.5 630.2,370.1 628.7,369.4 627.1,368.7 M627.1,368.7 626.8,368.6 M636.0,399.9 634.0,400.6 633.0,402.4 632.3,404.2 631.1,405.8 629.3,404.9 627.4,404.9 625.5,404.5 623.6,404.3 622.0,404.6 620.3,404.8 618.7,405.4 616.9,405.4 616.1,407.0 614.4,407.7 613.4,409.1 611.8,409.8 M636.0,399.9 636.0,399.3 M611.7,409.3 611.8,409.8 M619.2,354.9 619.7,356.3 621.9,357.6 623.3,359.7 624.3,361.9 625.6,364.0 625.5,366.5 626.8,368.6 M655.8,387.2 653.6,387.2 652.5,389.2 650.5,389.2 648.6,388.9 646.7,388.5 644.7,388.1 643.0,389.3 641.3,390.3 M636.0,399.9 636.7,401.4 637.6,402.9 637.6,404.6 637.8,406.2 M647.0,364.8 644.6,365.8 642.1,366.4 639.8,367.6 637.2,367.7 635.6,367.8 634.3,367.0 633.1,367.9 632.3,369.2 629.6,369.9 627.1,368.7 M630.4,323.2 631.0,322.1 M637.7,318.0 638.2,318.1 638.6,318.1 M259.1,493.1 259.8,494.1 261.6,495.4 263.7,493.9 265.9,495.1 267.5,493.9 267.9,493.5 M271.1,490.8 272.3,490.5 273.6,490.3 M250.4,497.1 250.4,497.1 M255.8,506.3 257.5,506.3 259.1,506.5 260.8,507.1 261.9,508.5 M261.9,508.5 264.1,507.7 265.9,506.2 267.2,504.2 269.0,502.7 271.2,503.5 273.5,502.9 275.7,503.5 278.0,503.1 M274.9,496.4 274.9,497.3 274.5,499.7 276.4,501.2 278.0,503.1 M263.5,521.3 263.3,519.7 262.7,518.2 262.5,516.5 261.9,515.0 261.8,513.3 261.1,511.7 261.8,510.2 261.9,508.5 M286.4,511.6 285.7,510.2 284.4,509.4 283.2,508.5 282.0,507.6 280.1,505.3 278.0,503.1 M457.1,368.3 457.4,365.8 459.0,363.9 M432.5,346.7 434.0,345.9 435.0,344.6 436.6,344.4 438.2,343.9 439.8,344.0 441.4,343.9 443.1,344.1 444.5,343.3 446.2,342.6 448.1,342.3 448.6,340.5 449.9,339.1 451.6,338.6 453.4,339.0 455.0,339.5 456.6,340.2 M459.0,363.9 458.9,362.3 459.3,360.7 458.8,359.2 458.3,357.7 459.2,356.3 460.3,355.1 459.8,353.5 460.2,351.8 459.8,350.3 459.7,348.8 459.0,347.4 458.5,346.0 457.9,344.5 458.1,342.9 457.3,341.6 456.6,340.2 M467.3,294.3 469.0,292.1 469.8,289.6 471.7,287.7 474.0,286.3 M467.3,294.3 468.6,296.7 469.9,299.2 471.6,301.5 472.3,304.2 473.7,306.9 474.3,309.8 476.7,311.4 479.1,313.1 M474.0,286.3 475.5,285.6 477.2,285.5 478.6,284.6 480.3,284.6 481.5,285.8 483.1,286.6 484.8,286.9 486.5,286.9 M486.5,286.9 487.7,287.9 489.0,288.9 490.5,289.5 492.0,289.9 493.7,290.0 495.3,290.4 496.6,291.3 497.9,292.4 M479.1,313.1 478.9,310.7 479.6,308.5 482.1,307.5 482.7,304.9 484.3,302.8 487.0,302.7 489.1,303.9 491.6,304.2 M491.6,304.2 492.6,301.6 494.8,299.8 M497.9,292.4 496.9,294.1 495.9,295.9 494.5,297.6 494.8,299.8 M462.0,295.8 464.7,295.0 467.3,294.3 M459.3,266.0 459.9,267.5 460.6,268.9 461.3,270.3 462.0,271.8 461.3,273.5 462.1,275.2 463.2,276.5 464.3,277.8 465.2,279.2 466.7,279.9 467.9,281.1 469.4,281.8 471.0,282.5 471.6,284.1 472.1,285.9 474.0,286.3 M481.1,263.4 480.0,264.8 480.0,266.5 479.0,268.0 479.4,269.7 479.2,271.3 479.3,272.9 479.4,274.6 479.3,276.2 479.9,277.9 480.1,279.7 479.6,281.6 480.2,283.4 481.6,284.5 483.0,285.6 484.6,286.7 486.5,286.9 M501.4,290.7 499.6,291.4 497.9,292.4 M475.2,319.3 477.6,320.7 480.3,321.3 483.0,322.0 485.7,322.3 488.2,323.6 490.8,324.6 493.5,325.4 496.3,325.4 M475.2,319.3 476.6,317.8 476.4,315.7 478.1,314.8 479.1,313.1 M496.3,325.4 497.3,323.5 498.0,321.6 M498.0,321.6 499.0,319.1 499.3,316.5 497.1,314.9 496.2,312.3 494.2,310.6 494.3,308.0 492.9,306.1 491.6,304.2 M509.1,320.0 507.5,320.7 506.0,320.1 504.5,319.5 503.2,318.7 501.6,318.5 500.5,319.8 499.3,320.8 498.0,321.6 M509.1,320.0 508.3,318.3 507.6,316.6 505.8,316.1 503.9,316.1 503.8,314.4 503.7,312.7 502.5,311.5 501.9,309.9 501.1,308.5 499.8,307.6 499.1,306.2 497.8,305.3 496.7,304.1 495.9,302.7 494.9,301.4 494.8,299.8 M519.3,324.6 518.4,324.0 516.9,323.2 516.1,321.7 515.5,320.2 513.9,319.6 512.3,319.0 510.7,319.5 509.1,320.0 M599.7,277.4 601.1,278.4 601.8,279.9 602.3,281.4 603.0,282.8 603.5,284.3 604.1,285.8 604.1,287.0 M601.6,293.5 601.2,293.9 600.9,295.4 600.2,296.9 598.7,297.9 598.6,299.6 M599.7,277.4 597.3,277.7 594.8,277.4 593.0,275.7 590.8,274.6 M590.4,274.7 590.8,274.6 M590.4,274.7 590.0,277.0 588.4,278.7 587.6,280.8 587.9,283.1 587.7,285.6 585.4,286.8 585.1,289.1 583.4,290.7 M583.4,290.7 585.4,291.5 587.3,292.6 589.0,293.9 591.0,294.9 591.2,297.1 592.2,299.1 593.2,301.0 594.7,302.6 M594.7,302.6 596.3,300.7 598.6,299.6 M592.4,255.6 593.6,258.0 595.3,260.1 595.9,262.7 595.2,265.4 595.4,268.1 594.4,270.7 592.4,272.4 590.8,274.6 M571.3,270.6 573.9,270.6 576.4,269.7 579.0,270.1 581.5,269.4 584.4,269.7 587.2,270.1 589.1,272.2 590.4,274.7 M575.7,292.3 577.9,292.9 580.0,293.8 581.2,291.7 583.4,290.7 M589.4,317.1 589.5,315.2 590.1,313.3 590.9,311.5 590.9,309.5 591.7,307.7 592.4,305.9 594.5,304.9 594.7,302.6 M607.7,250.6 607.6,252.2 608.1,253.7 608.7,255.1 609.3,256.5 M599.7,277.4 600.2,277.3 M609.3,256.5 608.6,258.3 608.7,260.1 608.6,262.1 607.2,263.5 607.7,265.3 609.0,266.6 610.4,267.9 611.0,269.6 609.1,269.3 607.2,269.3 605.5,270.2 603.7,270.8 603.2,272.9 601.2,273.7 600.1,275.3 600.2,277.3 M154.3,777.9 155.7,779.5 157.4,780.8 159.6,779.9 161.6,781.0 163.9,780.9 165.8,782.1 167.2,783.8 168.0,785.9 168.3,787.9 168.3,790.0 168.6,792.3 170.5,793.6 170.2,795.8 168.7,797.4 168.5,799.7 169.7,801.6 M144.0,803.2 146.5,803.9 148.8,805.0 150.7,806.7 151.8,809.1 154.2,808.4 156.7,807.8 159.1,808.6 161.6,809.0 M169.7,801.6 169.1,803.0 169.0,804.6 167.4,804.9 166.4,806.2 163.6,806.9 161.6,809.0 M161.9,835.6 161.6,833.7 161.6,831.8 161.6,829.9 162.3,828.0 163.7,826.7 165.6,826.1 166.4,824.3 167.5,822.6 M161.6,809.0 162.0,810.9 162.7,812.6 163.3,814.3 163.9,816.1 164.4,817.9 165.2,819.6 166.3,821.1 167.5,822.6 M173.3,751.9 175.0,750.8 176.2,749.1 177.5,747.5 178.4,745.7 179.5,744.0 180.3,742.1 180.4,740.0 181.4,738.2 M173.3,751.9 174.9,751.9 176.5,752.3 178.1,752.8 179.5,753.8 181.0,754.3 182.6,754.6 183.4,756.4 185.2,756.5 186.1,758.1 186.9,759.7 187.9,761.2 188.6,762.8 190.4,763.2 192.2,763.1 193.9,763.7 195.7,763.8 M198.0,755.2 198.2,753.6 197.8,752.0 198.2,750.5 198.4,749.0 197.8,747.4 196.4,746.4 195.8,744.9 195.9,743.3 195.2,741.8 195.0,740.2 195.6,738.7 195.2,737.1 194.6,735.7 194.0,734.3 192.8,733.2 192.1,731.8 M198.0,755.2 198.7,757.5 198.8,760.0 197.3,762.0 195.7,763.8 M192.1,731.8 190.5,731.9 189.1,732.8 187.6,733.5 186.0,733.7 184.4,734.3 183.2,735.4 182.4,736.8 181.4,738.2 M165.4,757.3 168.1,757.3 169.9,755.4 171.0,753.1 173.3,751.9 M148.5,726.2 150.6,724.9 153.0,724.8 155.4,724.9 157.8,724.8 160.4,725.6 162.7,724.1 164.8,725.3 167.0,726.6 169.0,727.8 170.6,729.5 172.2,731.2 173.9,732.8 175.7,734.3 177.7,735.4 179.3,737.1 181.4,738.2 M160.7,772.3 163.0,771.2 165.6,770.9 167.6,772.4 169.9,773.7 172.5,774.2 175.1,774.1 176.4,776.4 177.8,778.6 M197.3,773.7 196.4,774.8 M197.3,773.7 196.2,771.3 194.8,769.0 195.9,766.5 195.7,763.8 M196.4,774.8 194.0,774.7 191.7,775.2 189.2,775.4 187.2,776.9 184.6,777.1 182.2,776.3 180.1,777.6 177.8,778.6 M234.0,747.1 231.8,747.9 229.7,749.1 227.5,750.0 225.5,751.3 223.2,752.8 220.6,753.4 217.6,753.6 216.0,750.9 213.6,751.0 211.4,751.9 209.1,751.9 206.9,752.8 204.9,754.0 202.7,755.1 200.4,755.0 198.0,755.2 M193.8,728.9 192.7,730.2 192.1,731.8 M197.3,773.7 199.1,773.6 200.8,772.8 202.4,773.6 204.0,774.5 205.9,774.2 207.7,773.8 209.4,774.6 210.6,776.0 212.4,775.8 214.2,775.7 215.3,774.3 216.9,773.4 218.5,772.8 220.2,772.4 221.7,771.6 223.1,770.6 M260.3,813.7 259.3,811.1 257.6,808.8 255.9,806.6 254.3,804.3 251.5,803.5 249.5,801.5 246.7,800.7 244.5,799.0 M252.9,783.9 251.1,785.5 248.8,786.0 247.4,787.9 246.7,790.1 246.1,792.3 244.7,794.1 244.2,796.3 244.5,798.6 M244.5,799.0 244.5,798.6 M225.3,775.8 224.1,778.1 224.4,780.7 223.6,783.3 225.0,785.6 M244.5,798.6 243.2,797.8 241.8,797.2 240.9,796.0 240.0,794.8 237.3,793.5 234.8,792.0 232.8,789.8 230.0,788.6 229.2,787.4 227.9,786.5 226.7,785.4 225.0,785.6 M602.9,538.6 602.6,536.8 M602.6,536.8 600.9,535.4 599.3,533.9 598.9,531.8 598.6,529.6 M571.9,538.2 571.3,536.7 571.0,535.0 570.2,533.5 570.6,531.8 M571.9,538.2 574.0,540.2 575.8,542.5 M598.6,529.6 596.8,528.5 594.9,527.3 593.6,525.6 591.8,524.2 589.7,524.6 587.5,524.0 585.3,524.2 583.2,523.8 M583.2,523.8 581.7,525.2 579.6,525.5 577.6,524.7 575.7,525.9 574.8,527.7 573.0,528.8 572.5,530.8 570.6,531.8 M583.2,523.8 582.7,522.3 581.5,521.3 581.0,519.8 580.0,518.6 580.3,517.1 580.0,515.6 580.1,514.1 580.6,512.6 579.8,511.0 579.8,509.3 578.5,508.1 577.9,506.5 579.3,505.5 580.7,504.4 581.8,503.0 582.1,501.3 M570.6,531.8 570.3,530.2 570.0,528.5 569.8,526.6 568.2,525.7 566.9,524.6 565.2,524.2 564.9,522.4 563.2,521.5 M563.2,521.5 564.3,520.3 564.6,518.8 564.9,517.3 564.7,515.8 565.9,513.0 567.9,510.8 568.6,509.3 568.5,507.7 570.0,507.1 570.9,505.8 572.0,503.1 573.4,500.5 M573.4,500.5 574.8,499.3 M582.1,501.3 580.3,500.6 578.6,499.7 576.7,499.5 574.8,499.3 M579.7,425.2 582.8,424.8 586.0,426.4 589.5,426.1 592.3,423.9 M581.8,405.2 582.0,405.3 583.4,407.7 585.9,406.9 588.5,407.0 M588.5,407.0 589.6,408.9 590.5,410.9 590.7,413.1 591.6,415.2 592.5,417.3 592.6,419.5 591.8,421.6 592.3,423.9 M516.7,406.4 518.5,407.0 520.1,408.3 522.0,408.1 M596.2,401.5 594.1,402.5 592.4,404.2 590.2,405.3 588.5,407.0 M587.2,604.2 589.4,604.9 591.7,605.0 593.9,605.9 595.3,607.8 597.3,609.3 599.9,609.5 602.0,608.4 604.1,607.0 605.9,605.9 608.0,605.2 609.7,603.8 611.9,603.4 613.9,602.6 615.3,600.8 617.2,599.7 618.8,598.4 M611.9,572.9 612.3,575.2 613.8,577.1 615.5,578.5 617.6,579.4 M617.6,579.4 619.1,581.5 620.1,583.8 621.6,586.2 620.4,588.8 620.9,591.3 621.5,593.9 619.4,595.6 618.8,598.4 M629.3,555.2 627.9,553.2 626.2,551.3 623.7,551.1 621.3,552.1 M629.3,555.2 630.4,557.9 632.7,559.7 633.2,562.5 633.8,565.2 635.1,566.1 636.2,567.2 635.8,568.7 636.0,569.4 M627.6,581.7 627.2,582.3 M617.6,579.4 620.2,579.0 622.6,580.1 625.1,580.7 627.2,582.3 M573.9,654.3 572.2,654.5 570.6,654.1 569.2,653.0 567.5,652.8 565.8,653.4 564.0,652.9 562.6,652.1 561.0,651.3 M573.9,654.3 575.3,656.6 575.4,659.2 574.8,660.6 574.0,661.9 574.0,663.6 575.6,664.4 576.5,667.0 578.9,668.5 580.5,670.7 580.5,673.4 M556.1,674.0 556.1,675.6 556.4,677.3 557.2,678.7 557.6,680.3 558.1,682.1 559.7,683.1 561.4,683.4 563.2,683.5 M556.1,674.0 556.4,671.7 555.7,669.4 556.1,667.2 556.7,665.0 555.8,662.6 557.1,660.5 556.9,658.2 556.0,656.0 M556.0,656.0 557.7,655.3 559.2,654.4 560.8,653.2 561.0,651.3 M563.2,683.5 564.6,684.3 566.2,684.0 567.5,684.9 568.8,685.5 M568.8,685.5 570.3,684.9 571.5,683.9 573.1,683.4 574.0,682.0 M580.5,673.4 579.7,676.3 579.1,679.1 576.6,680.6 574.0,682.0 M565.6,636.7 564.7,638.5 563.5,640.1 562.4,641.7 561.6,643.5 561.3,645.5 560.3,647.3 560.5,649.3 561.0,651.3 M591.2,637.1 589.5,637.7 589.2,639.5 588.4,640.8 587.4,641.9 585.9,642.4 584.7,643.4 583.2,644.2 582.6,645.7 581.6,647.0 581.2,648.6 580.3,650.1 578.5,650.3 577.0,650.8 576.1,652.0 574.8,653.0 573.9,654.3 M607.4,638.4 608.7,640.8 609.7,643.4 611.3,645.6 612.5,648.1 M601.6,634.5 603.4,635.3 604.1,637.2 605.9,637.3 607.4,638.4 M607.8,654.6 606.1,655.9 604.3,656.9 602.9,658.5 601.6,660.2 599.7,661.3 598.7,663.2 596.7,663.9 595.2,665.5 593.1,666.6 591.3,668.1 590.3,670.2 589.5,672.4 587.2,671.8 584.9,671.8 582.7,672.5 580.5,673.4 M528.0,705.8 529.0,705.0 531.2,702.9 532.2,700.0 534.6,698.0 537.6,698.0 540.5,697.1 543.5,697.1 546.5,697.7 547.8,695.1 549.7,693.0 551.6,690.9 553.2,688.6 556.4,689.8 559.0,687.7 561.2,685.7 563.2,683.5 M532.8,669.9 534.3,670.6 535.8,670.8 537.4,670.4 538.9,670.4 540.2,671.4 541.2,672.6 542.7,673.2 544.2,673.7 545.6,674.1 547.1,674.1 548.6,674.5 550.1,674.4 551.6,674.2 553.1,673.8 554.6,674.2 556.1,674.0 M530.4,639.3 532.2,640.3 533.8,641.5 535.7,642.4 536.8,644.2 536.7,646.5 538.4,648.0 539.9,649.4 541.0,651.2 542.9,651.5 544.9,651.8 546.9,652.1 548.6,653.1 550.5,654.4 551.6,656.5 553.9,656.7 556.0,656.0 M572.6,697.7 573.3,696.1 572.7,694.4 571.9,692.8 572.4,691.1 570.8,689.9 568.9,689.4 569.1,687.5 568.8,685.5 M605.8,689.6 603.6,689.8 601.6,689.1 599.6,688.4 597.9,687.1 596.0,686.5 593.9,686.5 592.0,685.2 589.8,686.1 587.5,685.9 585.5,686.9 583.5,685.8 581.8,684.4 579.7,683.9 577.6,684.1 575.3,683.9 574.0,682.0 M700.9,728.6 700.2,727.0 699.0,725.8 698.9,724.0 697.7,722.6 695.9,722.7 694.2,723.1 692.8,721.8 691.0,721.5 692.4,720.2 691.8,718.3 691.9,716.4 690.3,715.3 689.5,713.9 689.1,712.4 688.2,711.0 686.8,710.1 M708.5,733.0 706.1,733.1 704.4,731.3 702.2,730.5 700.9,728.6 M726.1,714.2 724.6,712.6 723.5,710.7 722.8,708.5 720.9,707.1 719.2,705.7 718.1,703.8 716.7,702.0 715.3,700.3 M715.3,700.3 713.4,700.1 711.6,700.9 709.7,701.3 707.8,701.5 705.9,702.1 704.4,703.3 702.9,704.5 701.0,705.1 699.1,705.0 697.3,705.9 695.9,707.6 693.7,707.1 691.8,707.4 689.8,707.4 688.2,708.7 686.8,710.1 M665.1,628.7 663.7,627.5 662.0,626.6 660.3,627.5 658.4,627.1 M614.0,648.7 617.1,647.9 619.9,646.5 623.2,646.4 626.0,644.9 629.4,643.5 633.0,643.2 633.0,639.4 635.5,636.6 638.5,635.3 640.5,632.7 643.5,631.5 646.2,629.9 649.4,630.5 652.7,630.6 655.0,627.9 658.4,627.1 M617.9,651.9 620.5,651.1 622.9,652.2 625.5,652.4 627.9,651.5 630.5,651.4 633.1,651.6 635.0,653.4 637.6,654.1 640.3,654.1 642.3,652.2 644.9,652.1 647.4,652.4 649.9,652.8 652.5,653.3 654.5,651.3 657.3,651.5 M665.1,628.7 666.1,631.1 667.7,633.1 668.9,635.4 670.1,637.7 M670.1,637.7 668.5,640.0 666.2,641.7 663.4,641.2 660.6,641.7 658.5,643.6 657.4,646.1 658.0,648.8 657.3,651.5 M737.7,662.4 736.7,660.5 735.5,658.8 734.3,657.0 732.5,655.7 730.7,654.5 729.4,652.9 728.2,651.0 726.1,650.2 M738.1,678.2 737.3,678.3 735.4,678.0 733.7,677.2 731.8,676.8 729.7,677.1 728.5,678.7 727.4,680.3 726.2,681.8 724.4,682.5 722.8,683.6 720.9,683.9 719.0,684.1 M719.0,684.1 716.6,684.0 714.8,682.4 M714.8,682.4 717.0,680.5 718.1,677.8 717.8,674.9 716.4,672.3 717.5,670.0 718.9,667.8 720.0,665.4 720.2,662.8 718.0,661.4 716.5,659.2 714.3,657.8 712.1,656.5 709.2,655.7 706.6,654.3 706.6,651.3 706.0,648.3 M726.1,650.2 724.6,649.1 722.8,648.6 721.2,647.4 719.2,647.8 717.3,648.6 715.6,647.3 714.0,646.4 712.2,646.0 M712.2,646.0 710.6,646.4 709.0,646.9 707.3,647.3 706.0,648.3 M733.3,642.2 730.6,643.2 728.0,644.7 727.7,647.6 726.1,650.2 M715.3,700.3 715.1,698.1 715.0,695.9 715.9,693.7 717.7,692.3 717.2,690.2 717.5,688.1 717.7,685.9 719.0,684.1 M725.5,623.7 723.5,626.1 720.1,631.1 715.1,634.5 716.0,640.8 712.2,646.0 M703.7,599.6 703.3,600.3 700.8,604.6 697.7,608.6 693.5,611.9 692.2,617.2 691.5,622.2 691.3,627.3 690.6,632.8 692.5,638.0 688.3,641.5 685.5,646.2 M685.5,646.2 687.7,647.5 689.0,649.8 M689.0,649.8 689.8,647.1 692.1,645.7 694.8,646.5 697.1,644.9 699.4,645.5 701.7,646.2 703.6,647.7 706.0,648.3 M536.1,562.4 538.1,561.0 539.9,559.4 540.3,557.0 540.7,554.6 M564.8,563.2 564.6,560.9 564.1,558.7 562.2,557.4 560.6,555.7 558.6,554.6 556.3,554.5 554.3,553.3 553.1,551.4 M540.7,554.6 541.4,552.8 543.0,551.8 544.8,552.3 546.7,552.2 548.3,552.1 549.8,551.4 551.5,551.4 553.1,551.4 M571.9,538.2 569.7,538.5 567.5,539.1 565.9,540.6 564.0,542.0 561.6,542.1 559.4,541.1 557.8,542.9 555.4,543.7 M553.1,551.4 553.7,549.5 554.4,547.6 554.0,545.4 555.4,543.7 M478.3,484.6 478.6,485.2 479.6,487.6 480.8,490.0 M490.7,486.3 490.6,486.4 489.4,488.3 487.2,488.5 485.1,489.0 483.0,489.8 480.8,490.0 M461.3,493.0 462.0,493.9 M424.3,487.9 427.1,488.1 430.0,486.4 433.1,486.9 436.3,486.6 438.9,488.2 440.4,490.9 442.3,493.3 444.4,495.4 447.5,496.5 448.7,499.6 451.1,501.4 453.7,503.0 M462.0,493.9 460.8,495.3 459.6,496.7 459.5,498.6 459.9,500.4 458.0,500.6 457.0,502.2 455.3,502.4 453.7,503.0 M480.8,490.0 480.0,491.8 479.0,493.6 478.6,495.7 477.5,497.4 M477.5,497.4 475.5,499.0 M462.0,493.9 463.9,493.8 465.5,494.7 467.0,495.8 468.9,495.9 470.8,496.3 472.8,496.2 473.7,498.1 475.5,499.0 M503.0,599.0 501.4,597.4 500.2,595.6 498.2,594.7 496.8,592.9 494.9,591.3 494.5,588.8 492.2,588.1 489.9,587.9 M473.9,599.7 473.8,597.8 473.1,596.0 474.0,594.4 474.3,592.5 M489.9,587.9 487.7,587.8 485.6,587.7 483.5,587.9 481.4,587.8 479.6,588.9 477.8,590.1 475.8,590.9 474.3,592.5 M446.0,588.4 448.8,588.3 450.0,585.8 451.7,584.0 454.1,583.4 456.9,583.7 458.5,581.3 460.1,579.5 462.6,578.9 M474.3,592.5 474.3,590.0 473.0,587.9 472.4,585.5 471.0,583.5 468.6,582.5 466.0,582.8 464.1,581.0 462.6,578.9 M519.2,565.8 517.3,564.4 516.4,562.4 514.5,561.1 512.8,559.7 511.9,557.5 512.7,555.3 512.8,553.1 511.9,551.0 M519.2,565.8 517.7,567.1 516.3,568.4 515.1,570.0 514.7,572.0 M514.7,572.0 512.2,571.6 509.9,570.7 507.6,571.8 505.6,573.2 503.3,572.7 500.9,572.8 498.9,574.3 496.4,574.2 M511.9,551.0 510.6,551.9 509.0,551.8 507.4,551.7 505.9,551.9 504.6,552.9 504.2,554.5 503.0,555.5 501.5,556.1 501.2,557.9 500.1,559.3 498.8,560.5 497.1,561.2 495.5,560.6 493.9,560.2 492.3,559.5 490.6,559.7 M490.6,559.7 491.7,561.4 493.1,562.8 493.8,564.7 494.9,566.3 495.6,568.4 494.8,570.4 495.5,572.3 496.4,574.2 M521.2,566.0 519.2,565.8 M514.3,577.4 514.8,574.7 514.7,572.0 M489.9,587.9 490.5,585.5 491.4,583.2 491.7,580.7 491.6,578.2 M491.6,578.2 492.0,576.5 493.1,575.1 494.9,575.1 496.4,574.2 M353.5,581.3 353.1,583.2 352.0,584.8 M352.0,584.8 348.2,583.5 345.5,580.6 344.8,576.7 343.8,573.0 340.2,572.8 336.6,572.8 333.0,573.2 329.5,573.9 326.1,573.4 322.9,574.5 319.6,575.2 318.2,574.7 M352.0,584.8 351.6,587.6 353.0,590.1 M353.0,590.1 354.4,592.7 356.2,595.0 358.3,597.1 360.2,599.4 M382.9,561.4 382.9,564.1 382.9,566.8 383.4,569.6 385.0,571.9 384.0,574.5 382.0,576.4 381.4,579.1 381.0,581.8 380.8,584.8 382.1,587.4 380.2,589.6 378.4,591.9 376.3,593.6 375.5,596.2 374.8,598.8 372.8,600.6 M360.2,599.4 361.8,600.0 363.4,600.3 364.8,601.2 366.3,601.9 367.6,600.7 369.4,600.6 371.1,601.1 372.8,600.6 M401.5,604.9 399.3,605.5 397.0,605.6 394.8,606.3 392.7,607.2 390.5,607.5 388.2,607.7 385.9,607.2 383.7,607.8 M383.7,607.8 382.2,606.7 381.0,605.3 380.6,603.5 379.8,601.9 378.0,601.7 376.2,601.5 374.6,600.7 372.8,600.6 M299.4,667.7 297.4,668.6 296.1,670.2 294.0,670.5 292.0,670.9 290.0,671.4 288.1,672.0 286.8,673.9 284.6,674.1 M299.4,667.7 299.6,665.5 300.6,663.6 300.5,661.4 299.2,659.6 M299.2,659.6 296.2,659.2 293.2,659.2 291.7,659.2 290.2,659.6 288.8,659.1 287.3,659.1 286.1,658.1 284.9,657.2 283.5,656.5 282.0,656.2 280.6,655.6 279.5,654.6 278.4,653.5 277.7,652.1 M284.6,674.1 283.6,672.8 282.4,671.7 280.9,671.1 279.7,670.0 278.7,668.6 277.5,667.5 276.3,666.4 275.6,665.0 274.2,664.0 273.4,662.5 272.3,661.3 271.8,659.7 271.1,658.2 269.9,657.1 269.3,655.5 269.0,653.9 M269.0,653.9 271.2,653.4 273.4,653.5 275.3,652.0 277.7,652.1 M286.6,702.8 286.5,701.5 M285.2,692.0 285.2,692.0 284.2,690.4 283.7,688.6 283.1,686.7 283.8,684.9 284.4,683.2 284.7,681.4 283.3,679.8 283.6,677.8 283.4,675.8 284.6,674.1 M308.8,681.2 306.9,679.6 305.2,677.8 302.9,676.8 300.4,677.0 300.2,674.7 300.3,672.3 298.9,670.2 299.4,667.7 M324.7,664.0 323.2,662.1 321.8,660.1 319.8,658.5 319.3,656.0 317.5,654.0 316.7,651.6 314.4,650.4 311.9,649.7 M311.9,649.7 309.5,649.3 307.6,650.8 306.3,652.6 305.5,654.6 303.6,655.5 302.5,657.3 300.6,658.1 299.2,659.6 M311.9,647.2 311.9,649.7 M291.9,639.5 291.1,642.0 289.6,644.1 287.7,646.0 287.4,648.7 284.6,649.1 281.8,648.4 279.9,650.5 277.7,652.1 M266.9,653.6 269.0,653.9 M292.7,620.2 290.4,620.1 M450.3,713.5 449.6,711.6 448.7,709.9 447.0,708.7 446.0,707.0 447.1,705.3 447.1,703.3 448.0,701.4 447.3,699.4 448.6,697.9 449.1,696.1 450.6,695.0 451.8,693.6 452.9,691.9 452.6,690.0 454.1,688.7 454.4,686.7 M476.3,686.5 475.5,685.0 475.0,683.3 474.1,681.7 473.3,680.1 471.5,680.3 469.8,679.7 468.0,680.2 466.3,679.5 M466.3,679.5 464.3,679.1 462.4,679.2 460.4,679.3 458.7,680.4 457.9,682.2 456.9,683.9 455.7,685.3 454.4,686.7 M402.5,678.7 404.2,678.0 406.1,677.8 407.9,677.2 409.6,676.3 411.5,676.0 413.4,675.8 415.0,674.8 416.8,674.1 418.1,672.3 419.8,671.1 422.0,670.7 423.9,669.6 423.1,667.6 423.3,665.4 424.2,663.4 424.7,661.3 M402.5,678.7 402.3,676.9 401.7,675.2 400.5,673.6 398.5,673.6 397.0,674.4 395.5,675.1 393.7,675.5 392.1,674.7 389.2,674.4 386.4,673.3 383.7,674.5 381.2,676.0 M407.9,642.6 408.9,643.7 410.2,644.5 411.0,645.9 412.3,646.7 413.6,647.5 414.9,648.2 416.1,649.1 417.2,650.2 418.7,651.2 418.8,653.1 420.6,652.8 422.0,653.9 423.0,655.4 424.7,655.9 424.6,657.6 425.1,659.2 M407.9,642.6 405.3,643.7 402.7,644.7 401.1,644.2 400.1,642.8 398.8,644.1 397.1,643.8 395.7,646.4 393.9,648.7 391.0,649.0 388.5,650.6 M388.5,650.6 387.6,652.0 386.6,653.5 386.2,655.1 385.4,656.6 384.0,657.7 382.7,658.9 382.4,660.7 382.0,662.5 381.5,664.1 381.5,665.8 381.0,667.5 381.5,669.2 381.2,670.9 381.3,672.6 381.3,674.3 381.2,676.0 M425.1,659.2 424.7,661.3 M366.8,712.2 366.3,715.1 365.2,717.9 366.2,719.3 366.0,721.1 367.1,722.5 368.9,722.5 369.5,725.2 370.0,727.9 369.1,730.4 M366.8,712.2 364.9,714.5 362.4,716.1 361.1,717.0 359.8,717.6 359.2,719.1 358.0,720.1 356.7,720.9 355.3,721.3 354.4,722.7 353.1,723.2 M369.4,704.0 370.9,706.3 373.7,706.1 373.3,708.5 373.8,710.9 375.2,712.4 376.6,713.9 377.5,715.8 379.3,717.0 380.7,718.8 380.7,721.2 382.6,722.3 384.7,723.3 386.5,724.2 388.5,724.9 390.0,726.4 391.7,727.6 M391.7,727.6 390.0,727.5 388.5,728.1 387.1,728.8 385.8,729.7 384.4,728.8 382.8,729.2 381.2,728.7 379.7,729.0 378.1,729.0 376.5,729.4 375.6,730.8 374.2,731.6 373.4,732.5 M369.4,704.0 368.2,705.8 368.0,708.1 367.4,710.1 366.8,712.2 M367.5,693.0 368.4,695.6 369.0,698.4 369.6,701.1 369.4,704.0 M366.6,693.0 367.5,693.0 M341.8,708.9 341.8,711.8 342.1,714.7 344.8,715.8 346.7,718.2 347.8,720.6 348.2,723.0 M299.1,755.2 302.2,756.4 305.5,756.6 308.6,755.5 311.8,754.6 314.0,757.1 315.5,760.2 318.5,762.0 321.2,762.0 M414.4,709.7 413.6,708.2 413.4,705.7 412.0,703.6 412.8,701.2 412.2,698.7 M405.7,715.5 404.4,713.9 402.5,712.1 401.2,709.7 399.4,707.7 397.3,705.8 396.8,703.0 394.7,701.3 393.0,699.2 M393.0,699.2 395.7,699.6 398.4,698.8 400.4,697.0 402.5,695.4 405.1,696.1 407.1,697.9 409.6,698.4 412.2,698.7 M391.7,727.6 392.3,728.0 M374.7,685.3 373.1,685.3 371.6,685.5 370.7,687.0 368.9,687.1 368.6,688.7 367.4,689.8 367.6,691.4 367.5,693.0 M374.7,685.3 375.6,686.8 376.7,688.1 378.5,688.5 380.2,688.1 381.8,687.6 383.3,688.1 384.8,688.7 386.3,689.0 387.8,689.7 389.4,690.3 390.9,691.2 391.8,692.7 390.9,694.4 392.0,696.0 392.1,697.7 393.0,699.2 M381.2,676.0 379.8,676.9 378.1,677.3 377.5,678.8 376.7,680.3 M374.7,685.3 375.7,682.8 376.7,680.3 M402.5,678.7 404.7,679.6 406.5,681.2 406.9,683.5 408.6,685.4 409.6,687.7 412.0,688.4 413.8,690.2 416.3,690.1 M416.3,690.1 415.3,692.3 413.8,694.1 413.3,696.5 412.2,698.7 M662.1,747.5 663.7,747.0 664.9,745.8 666.6,746.1 668.2,745.5 M662.1,747.5 659.6,748.3 658.1,750.5 656.0,751.8 653.5,752.5 653.1,755.0 652.0,757.3 651.0,759.6 650.6,762.1 M674.0,749.0 671.9,747.3 669.6,746.0 M674.0,749.0 675.0,750.7 676.7,751.7 678.0,753.1 679.9,753.7 681.3,755.5 680.7,757.6 679.3,759.2 679.1,761.3 680.4,762.5 680.7,763.7 M668.2,745.5 669.6,746.0 M679.0,770.7 678.3,770.8 675.8,771.2 673.5,772.0 671.8,773.8 670.9,776.4 668.1,776.8 667.2,774.6 666.8,772.1 664.6,771.0 662.7,769.5 660.8,768.1 658.6,767.1 656.3,765.9 653.9,766.9 M653.9,766.9 652.4,766.3 651.5,765.0 651.0,763.5 650.6,762.1 M661.1,729.5 661.9,731.6 663.3,733.3 664.2,735.4 664.4,737.6 665.7,739.5 665.7,741.8 666.2,744.2 668.2,745.5 M646.0,741.7 648.1,742.6 649.6,744.2 651.6,745.2 653.4,746.4 655.6,745.4 657.9,745.9 660.2,746.2 662.1,747.5 M637.3,758.4 638.7,759.7 640.5,760.1 641.9,761.3 643.4,762.3 645.1,761.5 647.0,761.8 648.8,761.8 650.6,762.1 M686.8,710.1 685.8,709.5 M685.8,709.5 686.4,712.1 685.5,714.6 683.5,716.6 683.3,719.3 682.3,721.9 682.0,724.6 680.2,726.8 677.5,727.6 676.0,730.0 673.7,731.7 673.7,734.4 674.4,737.2 672.7,739.4 673.3,742.2 670.8,743.5 669.6,746.0 M700.9,728.6 699.9,731.0 697.6,732.3 695.2,733.5 692.7,732.7 690.3,732.0 687.9,731.7 685.7,732.7 683.4,733.4 682.5,735.6 681.4,737.7 681.2,740.0 680.3,742.2 679.0,744.3 676.9,745.4 676.1,747.8 674.0,749.0 M670.2,714.8 672.2,713.6 673.8,711.9 676.3,711.6 678.3,713.1 678.8,711.1 679.7,709.2 681.4,707.8 682.2,705.8 M682.2,705.8 684.8,706.9 685.8,709.5 M646.9,788.0 648.1,786.9 649.8,786.5 649.3,784.7 650.6,783.4 651.5,782.1 653.0,781.5 654.5,780.6 654.4,778.8 654.5,777.2 655.4,775.9 655.0,774.4 654.7,772.8 654.5,769.9 653.9,766.9 M458.5,338.0 462.1,338.2 465.6,337.3 469.0,336.2 472.6,336.1 473.4,340.3 476.7,343.0 480.9,341.2 484.7,343.5 488.2,344.9 490.4,347.8 491.9,351.1 492.7,354.6 495.1,357.5 498.0,360.0 496.1,363.5 496.7,367.5 M458.5,338.0 459.3,335.4 461.7,334.3 462.0,331.9 461.9,329.4 M461.9,329.4 464.4,328.9 466.6,327.8 M466.6,327.8 467.5,330.3 469.7,331.8 471.8,333.3 474.0,334.6 476.6,335.3 479.1,334.9 481.4,333.5 484.1,333.5 486.6,333.2 489.0,334.2 491.5,335.1 494.0,334.8 495.8,336.8 498.0,338.2 499.7,340.4 499.7,343.1 M499.7,343.1 500.4,345.9 501.4,348.6 502.9,348.6 504.4,348.6 505.6,349.5 506.9,350.4 M506.9,350.4 508.3,351.3 509.0,352.9 508.2,354.4 507.7,356.0 M507.7,356.0 507.7,358.8 507.2,361.6 505.8,362.1 504.9,363.5 504.6,364.9 504.4,366.4 M504.4,366.4 502.2,367.5 500.4,369.1 M500.4,369.1 498.8,367.5 496.7,367.5 M459.0,363.9 461.4,362.7 464.0,363.2 466.4,362.1 469.0,362.0 471.2,363.4 473.3,364.8 475.5,366.1 477.6,367.6 480.0,368.0 482.5,368.2 484.7,369.3 487.2,369.5 489.4,368.5 491.8,367.9 494.2,367.5 496.7,367.5 M456.6,340.2 458.5,338.0 M453.7,318.8 455.3,319.7 457.0,320.2 458.2,321.6 459.5,322.8 460.4,324.5 462.0,325.7 461.6,327.5 461.9,329.4 M475.2,319.3 473.6,319.6 472.0,320.0 470.8,321.1 469.9,322.5 469.5,324.0 468.4,325.2 467.5,326.5 466.6,327.8 M496.3,325.4 496.7,327.7 496.3,329.9 497.1,332.1 497.0,334.4 498.3,336.4 499.1,338.5 499.6,340.8 499.7,343.1 M519.6,326.1 519.4,326.9 519.7,329.0 518.0,330.2 516.0,331.0 513.7,331.0 512.4,332.7 511.5,334.6 511.6,336.7 511.8,338.7 510.7,340.2 509.5,341.8 509.6,343.7 508.7,345.3 508.7,347.2 507.6,348.7 506.9,350.4 M524.8,340.3 523.5,340.0 520.9,342.7 517.8,343.8 515.0,345.4 513.1,348.1 510.2,349.9 508.4,352.7 507.7,356.0 M527.4,381.3 524.8,379.3 523.2,376.0 519.6,375.0 516.8,372.7 513.3,372.0 510.2,370.4 507.0,368.8 504.4,366.4 M498.5,372.7 499.5,370.9 500.4,369.1 M603.9,278.0 606.0,276.0 608.7,275.2 610.5,273.0 612.8,271.4 615.7,271.6 618.4,270.7 621.1,271.4 623.9,271.9 M603.9,278.0 605.3,279.1 606.8,280.0 607.5,281.6 608.3,283.1 610.0,283.7 610.9,285.2 612.1,286.4 613.5,287.3 614.2,288.8 614.2,289.0 M620.6,299.2 622.0,300.0 623.4,301.7 625.4,300.6 627.7,301.3 M627.7,301.3 626.6,299.8 625.6,298.2 625.3,296.3 624.7,294.5 623.9,292.7 624.1,290.7 623.9,288.9 624.1,287.0 623.5,285.0 624.4,283.2 625.3,281.4 626.5,279.9 627.6,278.1 626.5,276.2 626.9,274.4 627.1,272.5 M627.1,272.5 625.5,272.4 623.9,271.9 M609.3,256.5 611.3,258.4 613.8,259.4 613.9,260.9 614.4,262.4 615.9,262.8 617.3,263.5 617.8,265.1 617.5,266.6 619.0,267.0 620.4,267.9 622.4,269.6 623.9,271.9 M600.2,277.3 602.1,277.5 603.9,278.0 M598.6,299.6 599.9,298.5 600.6,297.0 601.5,295.6 602.0,295.3 M639.6,316.7 638.9,315.3 M634.1,310.3 634.3,309.0 634.2,307.4 632.9,306.5 631.9,305.3 629.5,303.6 627.7,301.3 M627.7,272.0 627.1,272.5 M179.1,797.3 180.9,798.5 183.1,798.5 185.1,797.8 187.2,798.0 189.0,799.0 190.7,800.2 192.7,801.1 193.6,803.1 M179.1,797.3 178.0,798.6 177.2,800.1 175.8,800.9 174.1,801.2 M174.1,801.2 173.5,803.4 174.4,805.5 175.4,807.5 175.6,809.7 176.1,811.9 176.1,814.2 177.8,815.8 179.4,817.3 M193.6,803.1 192.4,805.2 190.4,806.4 188.2,807.3 186.4,808.8 186.9,811.2 185.6,813.3 184.1,815.2 184.1,817.6 M184.1,817.6 181.7,817.9 179.4,817.3 M202.5,800.2 200.1,800.6 197.7,800.8 195.9,802.4 193.6,803.1 M202.5,800.2 201.5,798.6 201.5,796.8 200.2,795.5 198.8,794.3 200.0,792.6 201.4,791.1 200.6,789.3 199.8,787.4 199.5,785.6 199.0,783.8 197.5,782.6 195.9,781.7 195.2,780.0 194.8,778.1 195.6,776.4 196.4,774.8 M177.8,778.6 179.9,780.3 179.5,783.1 180.2,785.5 179.5,787.9 177.9,790.1 176.7,792.5 177.4,795.2 179.1,797.3 M169.7,801.6 171.8,800.7 174.1,801.2 M167.5,822.6 169.1,822.1 170.9,821.8 172.6,821.9 174.3,821.9 175.8,820.9 176.8,819.5 177.8,818.1 179.4,817.3 M199.5,837.6 198.1,836.1 198.1,834.1 196.2,833.2 194.2,833.7 194.1,832.0 194.1,830.2 193.0,828.9 192.0,827.5 191.3,826.0 190.2,824.8 189.2,823.6 187.8,822.7 187.3,821.2 186.5,819.8 185.0,819.0 184.1,817.6 M209.8,804.4 210.5,806.3 211.5,808.0 211.4,810.0 211.1,812.0 211.5,814.3 212.8,816.2 211.4,817.9 210.0,819.7 211.1,821.3 212.1,823.1 212.2,825.2 211.6,827.2 212.0,829.1 213.3,830.6 214.5,832.2 214.9,834.1 M209.8,804.4 211.1,803.1 212.7,802.1 214.5,801.4 216.1,800.5 M216.1,800.5 219.1,800.1 222.0,800.6 223.6,801.1 225.1,800.7 226.3,799.6 227.6,798.7 230.4,799.7 232.9,801.4 235.3,803.1 237.0,805.6 M237.0,805.6 236.4,807.5 235.0,809.0 233.2,809.7 231.4,810.6 231.3,812.4 231.6,814.3 232.4,816.0 232.1,818.0 231.8,819.7 232.1,821.4 231.9,823.1 231.4,824.8 232.2,826.4 233.7,827.6 233.7,829.4 233.5,831.2 M233.5,831.2 231.6,833.0 229.5,834.3 227.0,833.4 224.4,834.1 222.2,832.9 219.7,832.6 217.4,833.7 214.9,834.1 M207.4,842.0 209.5,840.2 211.3,838.2 212.8,835.9 214.9,834.1 M202.5,800.2 204.3,801.2 206.3,802.0 208.3,802.8 209.8,804.4 M225.0,785.6 225.0,787.9 224.2,790.1 222.9,791.9 221.1,793.4 219.5,794.8 218.3,796.7 217.6,798.8 216.1,800.5 M244.5,799.0 242.0,799.8 240.7,802.2 239.8,804.9 237.0,805.6 M253.2,836.5 250.3,836.0 247.8,837.3 245.7,835.5 243.2,834.3 241.0,833.0 238.5,832.2 235.8,832.8 233.5,831.2 M598.6,529.6 598.7,526.8 599.1,524.0 598.9,522.5 598.7,521.0 599.0,519.3 600.4,518.5 599.8,516.8 599.4,515.0 597.9,513.6 596.0,514.3 597.0,512.9 597.0,511.2 595.5,510.0 595.7,508.2 M582.1,501.3 584.4,502.3 586.7,503.3 588.9,501.9 591.3,501.3 M595.7,508.2 596.0,505.9 595.4,503.6 593.6,502.0 591.3,501.3 M602.6,536.8 603.2,535.1 603.9,533.5 603.1,531.7 604.1,530.0 604.8,528.4 605.5,526.8 605.9,525.1 606.6,523.5 608.3,522.7 609.1,521.0 610.3,519.5 612.2,519.3 613.3,518.0 614.1,516.4 615.8,515.7 617.0,514.3 M595.7,508.2 596.8,509.5 598.3,510.1 599.0,511.6 599.4,513.2 600.3,514.6 601.8,515.5 603.4,515.2 605.1,515.7 606.5,515.0 608.0,515.3 609.4,514.3 611.0,514.6 612.5,514.6 614.0,514.1 615.4,514.8 617.0,514.3 M531.1,478.6 531.3,479.2 532.7,480.8 M532.7,480.8 534.4,481.4 536.3,481.6 538.2,481.7 539.9,480.8 541.2,479.1 542.5,477.5 544.5,478.3 546.6,477.9 548.5,478.2 550.1,479.4 552.0,479.4 553.8,478.8 555.2,477.4 557.2,477.4 M680.7,592.1 680.6,592.5 680.0,594.0 679.8,595.6 678.6,596.6 677.2,597.4 676.8,599.1 675.6,600.2 675.5,601.9 676.3,603.4 M676.3,603.4 673.7,603.8 671.3,602.7 668.7,603.5 667.2,605.7 665.1,604.6 663.1,603.1 660.7,603.2 658.3,603.1 655.8,602.6 653.6,601.3 651.3,602.2 649.0,603.3 646.9,602.5 644.7,601.7 642.9,600.1 640.8,599.1 M644.4,594.4 644.3,594.5 644.0,596.1 642.6,596.4 641.1,596.8 M641.1,596.8 640.8,599.1 M665.1,628.7 665.8,626.9 665.1,625.0 664.6,623.2 664.5,621.3 664.5,619.4 665.7,617.8 667.1,616.1 666.3,614.1 667.4,612.5 668.7,611.0 668.7,609.0 669.6,607.2 671.8,607.8 673.5,606.4 675.3,605.2 676.3,603.4 M670.1,637.7 672.5,637.1 674.9,637.0 677.2,637.9 679.2,639.4 680.9,641.0 682.0,643.1 684.7,643.6 685.5,646.2 M651.5,560.5 651.3,561.2 650.6,562.7 650.9,564.3 650.3,565.8 650.6,567.5 650.7,567.8 M648.9,556.6 647.9,557.2 646.3,556.7 643.6,557.9 640.7,558.4 639.1,558.5 637.4,558.7 635.9,559.4 634.3,559.3 632.5,559.1 631.0,558.2 629.8,556.9 629.3,555.2 M627.2,582.3 628.6,582.4 M635.1,587.2 635.6,588.2 637.9,589.9 638.0,592.7 638.5,595.5 641.1,596.8 M655.9,624.9 653.9,624.6 652.3,623.3 651.4,621.5 649.6,620.4 647.5,619.6 647.2,617.3 646.4,615.4 646.5,613.4 645.4,611.8 644.3,610.1 645.0,608.1 644.4,606.2 643.2,604.5 643.1,602.5 642.1,600.9 640.5,599.7 M655.9,624.9 653.7,624.0 652.0,622.4 649.8,622.8 647.7,624.0 645.6,624.0 643.7,623.2 641.5,623.1 639.9,621.5 638.4,619.9 636.1,619.9 634.0,619.8 632.2,618.7 630.1,618.1 628.2,616.9 626.3,618.1 624.0,617.9 M640.5,599.7 638.7,600.3 636.9,600.5 635.1,601.2 634.0,602.8 632.0,602.3 630.2,603.4 629.0,604.9 627.9,606.6 M624.0,617.9 624.9,616.5 625.7,615.0 625.0,613.4 624.7,611.8 625.3,610.3 625.5,608.7 627.2,608.2 627.9,606.6 M640.8,599.1 640.5,599.7 M658.4,627.1 657.3,625.8 655.9,624.9 M607.4,638.4 608.2,636.9 608.7,635.2 610.3,634.2 610.6,632.4 610.7,630.5 610.5,628.6 611.7,627.2 613.2,626.1 614.2,624.7 615.8,623.9 617.6,623.7 618.9,622.3 619.9,621.0 621.2,619.9 622.9,619.3 624.0,617.9 M618.8,598.4 619.7,599.7 620.0,601.4 621.4,602.2 622.6,603.4 624.0,604.2 625.0,605.4 626.6,605.6 627.9,606.6 M688.8,683.6 689.5,686.0 688.4,688.2 687.9,690.5 686.6,692.5 684.8,694.1 683.9,696.3 682.5,698.3 680.3,699.2 M688.8,683.6 687.4,681.2 687.1,678.5 686.2,675.8 686.9,673.1 687.1,670.4 686.4,667.8 686.3,665.1 686.3,662.4 M686.3,662.4 684.1,663.4 681.9,664.2 680.1,666.0 677.6,666.1 675.4,667.6 675.2,670.2 673.5,671.8 672.0,673.6 670.1,671.7 667.5,671.2 665.3,672.6 662.9,673.5 660.7,674.5 658.3,674.3 656.1,673.7 653.9,672.9 M680.3,699.2 678.3,698.4 676.1,698.6 673.9,698.0 672.4,696.3 670.1,696.5 668.2,697.9 665.8,697.4 664.1,695.9 662.6,694.4 661.0,693.0 659.4,691.5 657.2,691.1 655.6,689.8 654.0,688.5 652.0,687.8 650.0,687.1 M653.9,672.9 652.2,673.6 651.1,675.0 649.5,675.7 648.3,677.0 647.9,678.7 647.9,680.5 646.3,681.7 646.5,683.7 M650.0,687.1 647.8,685.8 646.5,683.7 M714.8,682.4 713.1,683.3 711.3,683.8 709.4,684.1 707.6,684.7 705.7,684.0 704.7,682.3 702.8,681.7 701.6,680.0 700.2,680.9 698.6,681.6 696.9,681.8 695.3,682.0 693.5,681.8 692.0,682.8 690.4,683.1 688.8,683.6 M682.2,705.8 681.5,704.2 681.5,702.4 681.5,700.6 680.3,699.2 M689.0,649.8 688.2,651.3 687.3,652.7 686.4,654.1 685.8,655.7 685.0,657.3 685.1,659.1 685.9,660.7 686.3,662.4 M657.3,651.5 656.8,654.3 655.3,656.7 654.5,659.3 653.2,661.8 652.5,663.2 651.5,664.4 652.2,665.9 652.5,667.4 653.1,670.2 653.9,672.9 M646.2,713.6 645.8,711.7 646.3,709.8 645.1,708.4 644.1,706.8 644.7,705.1 645.4,703.5 646.3,701.9 646.6,700.1 646.1,698.4 645.3,696.7 645.8,694.9 646.5,693.1 647.2,691.4 647.3,689.6 648.7,688.4 650.0,687.1 M639.9,682.6 641.7,682.3 643.5,681.7 644.9,682.9 646.5,683.7 M562.8,478.6 563.6,479.2 564.6,480.5 565.4,481.8 567.0,482.4 568.2,483.5 569.7,483.9 571.3,484.4 M574.8,499.3 573.8,497.7 573.4,495.7 573.0,493.8 572.3,492.1 573.2,490.1 572.7,488.1 571.9,486.3 571.3,484.4 M532.7,480.8 532.2,483.7 531.8,486.6 531.6,489.6 532.0,492.6 M573.4,500.5 570.1,499.7 567.9,502.2 566.8,505.0 564.9,507.1 562.4,505.8 559.8,504.9 557.0,504.1 554.2,505.2 551.8,503.6 549.1,504.7 546.6,503.3 544.0,504.8 541.5,503.9 538.9,503.2 537.1,501.3 535.5,499.1 M532.0,492.6 531.6,494.7 532.1,496.7 534.0,497.6 535.5,499.1 M493.9,539.0 493.0,536.5 493.7,533.9 493.5,531.4 493.8,528.9 492.3,526.4 493.6,523.7 493.2,521.0 491.1,519.2 M491.1,519.2 488.7,518.1 486.1,518.2 483.7,519.9 481.0,519.0 M493.9,539.0 492.2,540.6 489.7,540.6 487.4,540.9 485.2,540.2 483.1,541.0 481.0,541.8 478.4,541.7 477.1,544.0 M477.1,544.0 478.7,543.1 480.1,542.0 481.2,540.5 482.2,539.1 483.2,537.3 484.6,535.7 483.1,534.2 482.8,532.1 482.8,530.4 482.7,528.7 482.1,527.1 482.7,525.4 481.9,523.9 481.2,522.4 480.9,520.7 481.0,519.0 M353.0,590.1 351.2,589.6 349.5,589.6 347.7,589.8 346.0,589.7 344.8,591.2 344.0,592.9 342.2,593.5 340.4,594.1 339.1,595.1 338.2,596.6 336.5,597.1 335.1,598.1 333.4,598.3 331.9,599.1 330.5,600.2 328.7,600.0 M305.7,580.3 305.9,580.9 305.4,582.5 305.7,584.3 306.4,585.9 306.3,587.6 307.1,589.1 307.8,590.7 309.5,591.6 309.6,593.5 M328.7,600.0 326.1,598.6 323.3,599.4 320.7,600.2 318.0,600.2 317.1,598.9 315.9,598.0 315.5,596.6 315.2,595.1 313.7,594.8 312.2,595.1 310.8,594.6 309.6,593.5 M300.9,616.1 303.1,614.4 304.4,611.8 305.2,609.1 306.9,606.8 M306.9,606.8 306.8,605.1 306.9,603.4 307.7,601.7 307.0,599.9 307.7,598.3 308.8,596.9 309.3,595.2 309.6,593.5 M315.2,640.4 316.6,639.6 318.1,638.9 319.8,638.7 321.1,637.7 M339.6,658.4 340.8,657.5 342.2,656.7 343.4,655.8 344.2,654.4 M344.2,654.4 343.5,652.5 341.8,651.6 341.7,649.5 340.3,648.1 338.9,646.8 337.0,646.2 336.2,644.5 334.8,643.1 333.3,642.0 331.9,640.7 330.1,640.2 328.3,639.5 327.7,637.1 325.3,636.5 323.4,637.8 321.1,637.7 M376.7,680.3 377.1,677.3 376.1,674.4 376.7,671.3 375.2,668.5 374.2,665.7 372.5,663.3 371.9,660.2 369.5,658.2 366.3,659.0 363.5,660.5 361.0,658.2 357.5,658.4 354.8,657.0 351.9,656.3 349.1,655.1 346.7,653.2 M344.2,654.4 346.7,653.2 M306.9,606.8 308.7,608.5 308.7,611.0 311.0,611.0 313.3,611.6 315.2,612.6 317.2,613.2 317.3,615.6 319.3,616.8 321.9,616.3 324.3,615.0 326.3,616.7 328.2,618.5 329.1,620.6 330.0,622.6 330.9,624.7 331.7,626.8 M321.1,637.7 322.2,636.2 323.2,634.5 324.4,633.0 325.9,631.8 327.5,630.6 328.5,629.0 330.3,628.2 331.7,626.8 M466.2,673.9 465.6,675.4 465.9,676.9 M466.2,673.9 467.8,671.7 468.8,669.2 468.0,666.7 466.8,664.2 465.9,661.5 463.7,659.7 465.1,657.2 465.9,654.6 463.5,653.3 461.4,651.8 460.2,649.4 460.3,646.7 459.1,644.6 457.6,642.6 456.4,640.6 455.2,638.4 M465.9,676.9 463.2,675.2 461.6,672.3 458.4,672.3 455.4,673.4 452.5,673.0 449.8,672.3 448.0,669.9 445.2,668.9 442.2,669.2 439.5,667.9 436.9,666.2 433.9,666.7 432.3,664.2 429.9,662.5 427.5,660.9 425.2,659.2 M455.2,638.4 453.7,640.9 450.8,640.9 448.5,642.2 447.3,644.5 444.9,645.3 442.4,645.4 440.0,644.2 437.3,644.7 435.8,646.5 433.8,647.9 432.8,650.1 431.3,652.0 429.6,653.7 427.3,654.8 426.6,657.2 425.2,659.2 M486.5,655.1 485.6,656.8 484.6,658.4 482.6,658.2 481.0,659.5 480.1,661.2 478.3,661.8 476.5,662.0 474.9,663.0 473.3,664.2 473.5,666.2 472.3,667.6 471.2,669.0 470.1,670.4 469.4,672.2 467.9,673.2 466.2,673.9 M466.3,679.5 465.9,676.9 M456.0,634.2 454.4,636.1 455.2,638.4 M411.1,633.9 410.3,636.1 409.1,638.1 408.8,640.4 407.9,642.6 M425.1,659.2 425.2,659.2 M424.0,688.6 423.6,690.5 424.9,692.0 426.6,692.9 427.0,694.8 426.9,696.6 427.3,698.3 427.4,700.0 427.5,701.7 426.9,703.4 426.4,705.2 427.1,706.9 427.1,708.1 M424.0,688.6 425.6,687.5 427.1,686.2 428.6,685.0 430.5,684.2 M430.5,684.2 432.1,685.1 434.0,685.0 435.8,684.9 437.6,685.5 439.5,685.0 441.3,685.8 442.9,686.6 444.5,687.7 M432.5,711.6 433.4,709.9 435.2,708.9 436.6,707.5 437.5,705.7 438.2,703.7 438.0,701.7 439.1,700.0 440.5,698.6 441.3,696.7 443.0,695.5 443.2,693.5 443.8,691.6 443.5,689.6 444.5,687.7 M416.3,690.1 418.4,690.4 420.2,689.5 422.1,689.1 424.0,688.6 M424.7,661.3 425.6,662.7 424.8,664.3 425.1,665.8 425.4,667.3 427.0,667.9 427.8,669.4 428.5,670.9 428.3,672.6 427.6,674.1 426.6,675.5 426.9,677.2 427.7,678.7 427.9,680.3 428.5,681.7 428.9,683.5 430.5,684.2 M454.4,686.7 451.9,687.4 449.4,687.4 447.0,688.4 444.5,687.7 M583.9,449.7 584.3,449.9 586.0,449.8 M592.3,423.9 593.4,425.8 595.5,426.4 596.3,428.2 597.0,430.0 M586.0,449.8 586.2,447.0 587.6,444.5 589.8,442.8 592.0,441.2 592.7,438.5 592.9,435.6 595.1,433.9 597.1,431.9 M597.0,430.0 597.1,431.9 M611.8,409.8 613.0,411.3 612.2,413.1 M597.0,430.0 598.2,429.1 599.1,427.9 600.7,428.0 602.0,426.9 603.4,424.4 605.0,421.9 606.4,421.3 607.7,420.4 608.6,419.0 608.5,417.4 609.8,414.8 612.2,413.1 M637.3,407.1 634.8,408.0 632.7,409.5 630.3,410.8 628.8,413.0 626.3,414.0 623.7,414.6 621.9,416.5 619.8,418.2 M612.2,413.1 614.0,414.6 616.2,415.3 617.7,417.1 619.8,418.2 M666.1,440.8 666.2,443.2 664.8,445.2 664.9,447.5 664.3,449.7 663.0,451.8 661.3,453.6 660.8,456.1 661.6,458.5 M661.6,458.5 664.2,460.4 667.1,461.8 667.9,464.1 M516.1,535.8 516.0,533.9 517.4,532.6 517.5,530.8 516.7,529.3 M516.1,535.8 517.3,536.8 518.9,537.2 520.3,537.8 521.7,538.5 522.3,540.0 523.1,541.4 524.1,542.7 525.6,543.4 527.1,544.5 528.5,545.7 530.4,545.4 532.3,545.8 533.4,544.3 535.2,543.7 535.9,541.9 537.5,541.0 M516.7,529.3 517.7,528.0 518.6,526.6 519.6,525.2 521.1,524.5 522.5,523.5 523.8,522.4 524.4,520.9 525.1,519.3 526.1,518.0 527.4,516.8 528.5,515.6 529.8,514.6 531.4,513.7 532.6,512.3 534.4,512.4 536.2,512.4 M537.5,541.0 539.1,540.3 540.8,540.8 542.0,539.6 543.5,539.0 544.4,537.7 545.2,536.3 545.7,534.8 546.1,533.3 M536.2,512.4 537.0,514.3 538.8,515.4 540.8,515.9 542.2,517.5 544.1,518.4 545.1,520.2 547.0,521.1 548.0,523.0 M548.0,523.0 547.5,525.7 548.3,528.4 546.3,530.4 546.1,533.3 M540.7,554.6 541.0,552.7 541.5,550.9 541.7,549.0 541.9,547.1 540.7,545.6 540.0,543.8 538.7,542.4 537.5,541.0 M511.3,543.2 512.1,545.0 512.5,547.0 512.1,549.0 511.9,551.0 M511.3,543.2 512.8,541.5 513.8,539.5 515.5,538.0 516.1,535.8 M555.4,543.7 554.4,542.1 554.1,540.3 553.3,538.7 551.7,537.6 550.8,535.8 550.1,533.9 548.0,534.7 546.1,533.3 M535.5,499.1 535.5,501.1 536.3,502.9 537.7,504.3 539.1,505.6 537.8,507.1 537.8,509.1 537.2,510.8 536.2,512.4 M563.2,521.5 561.3,521.1 559.3,521.4 557.5,520.5 555.5,520.9 553.4,520.5 551.5,521.2 549.8,522.2 548.0,523.0 M495.1,516.8 495.5,518.3 496.1,519.8 497.5,520.4 499.0,520.7 501.8,521.5 504.1,523.1 507.1,523.2 509.1,525.5 511.8,525.9 514.5,526.7 M495.1,516.8 495.6,515.4 496.3,514.0 497.5,513.1 498.3,511.8 498.0,510.3 497.4,508.9 497.1,507.3 497.6,505.8 M514.5,526.7 513.1,525.3 513.4,523.2 513.2,521.3 514.6,519.8 513.6,518.3 513.1,516.6 512.4,514.8 510.7,514.0 509.1,512.7 509.3,510.6 509.2,508.5 507.3,507.6 508.0,505.9 509.1,504.4 509.0,502.5 509.5,500.7 M497.6,505.8 498.6,503.5 501.1,503.0 502.1,500.6 504.6,500.2 M504.6,500.2 507.2,499.6 509.5,500.7 M493.9,539.0 496.4,539.3 498.6,538.0 501.3,537.6 503.0,539.8 505.3,540.4 506.9,542.1 509.2,542.5 511.3,543.2 M491.1,519.2 492.9,517.6 495.1,516.8 M516.7,529.3 515.6,527.9 514.5,526.7 M477.5,497.4 479.0,497.8 480.1,498.9 481.6,498.1 483.1,498.6 485.2,500.6 487.1,502.8 489.4,504.4 492.0,505.5 494.9,505.4 497.6,505.8 M481.0,519.0 478.9,517.1 478.2,514.5 475.5,514.3 473.2,513.0 M475.5,499.0 474.1,500.5 472.3,501.6 471.8,503.5 471.3,505.5 471.9,507.4 472.8,509.1 473.0,511.0 473.2,513.0 M532.0,492.6 531.3,494.1 530.1,495.3 529.3,496.7 528.1,497.9 526.7,498.6 525.1,499.2 523.4,498.8 521.9,499.8 520.3,499.9 518.8,500.3 517.2,500.5 515.7,499.8 514.2,500.3 512.7,501.0 511.1,501.2 509.5,500.7 M504.1,493.3 504.6,494.8 504.4,497.5 504.6,500.2 M453.7,503.0 453.8,505.9 M473.2,513.0 470.4,512.8 468.8,515.1 M453.8,505.9 456.3,505.5 458.3,506.9 460.1,508.5 462.5,508.6 463.5,510.7 464.9,512.6 467.1,513.4 468.8,515.1 M424.2,498.7 425.6,499.0 427.4,501.3 428.4,504.0 428.8,506.8 430.0,509.4 432.5,511.0 433.7,513.8 435.1,516.2 437.2,518.1 439.6,519.7 441.4,521.8 M453.8,505.9 452.4,508.1 451.8,510.7 449.9,512.8 449.9,515.6 447.1,516.1 444.5,517.2 444.3,518.7 444.0,520.2 442.8,521.1 441.4,521.8 M430.9,533.9 432.8,533.8 434.4,534.8 436.2,533.9 438.1,534.4 439.3,532.9 441.0,532.3 441.9,530.6 443.8,530.1 M441.4,521.8 442.3,524.2 444.4,525.4 443.9,527.7 443.8,530.1 M444.1,544.3 446.3,545.6 448.0,547.4 450.2,548.7 451.7,550.8 450.9,553.4 451.8,556.0 452.5,558.6 454.4,560.4 M444.1,544.3 443.8,542.4 444.8,540.7 443.2,539.4 443.3,537.3 442.9,535.5 442.9,533.7 443.8,532.0 443.9,530.2 M443.9,530.2 445.5,529.9 447.0,529.3 448.5,529.0 450.0,528.4 451.5,528.4 453.1,528.8 454.7,529.0 456.0,530.0 M456.0,530.0 457.3,531.0 458.7,531.7 460.2,532.2 461.7,532.7 462.7,534.0 463.7,535.2 464.5,536.6 465.9,537.5 467.1,538.9 468.9,539.3 469.0,541.1 469.3,542.9 470.3,544.3 471.9,544.9 473.6,545.1 475.1,545.7 M475.1,545.7 474.8,548.2 475.7,550.6 473.8,552.5 474.0,555.3 M474.0,555.3 473.9,558.2 471.6,560.1 469.3,561.7 468.0,564.1 M454.4,560.4 456.0,561.0 457.1,562.3 457.8,563.9 459.5,564.4 461.1,564.6 462.8,564.7 464.4,564.9 465.9,565.6 M465.9,565.6 468.0,564.1 M433.4,554.7 435.5,554.7 437.2,553.4 439.1,552.9 440.7,551.6 441.8,549.8 443.0,548.2 443.4,546.2 444.1,544.3 M441.0,564.6 442.2,563.1 444.0,562.7 445.8,562.3 447.4,561.4 449.2,561.7 451.0,561.9 452.3,560.1 454.4,560.4 M443.8,530.1 443.9,530.2 M468.8,515.1 469.1,517.9 468.8,520.8 467.4,521.6 465.8,521.4 465.1,522.8 464.0,523.9 462.1,525.5 460.1,527.0 457.9,528.3 456.0,530.0 M477.1,544.0 475.1,545.7 M490.6,559.7 488.6,558.6 487.0,557.1 484.6,557.1 482.8,555.4 480.6,555.7 478.4,555.2 476.2,555.2 474.0,555.3 M491.6,578.2 489.9,577.6 488.3,576.9 486.4,577.0 485.0,575.6 483.9,574.2 482.3,573.3 480.5,572.5 480.1,570.6 478.5,569.6 477.6,568.0 475.8,567.9 474.0,567.4 472.3,566.4 470.4,566.9 469.2,565.4 468.0,564.1 M462.6,578.9 463.1,577.3 463.6,575.7 464.4,574.1 464.6,572.4 464.3,570.5 465.3,569.0 465.8,567.4 465.9,565.6 M360.2,599.4 358.3,599.7 356.3,600.1 354.9,601.4 353.6,602.9 354.0,604.7 354.0,606.6 354.0,608.5 353.5,610.4 M328.7,600.0 330.1,601.6 331.5,603.4 333.4,604.6 334.1,606.8 335.4,608.6 337.0,610.2 337.5,612.4 338.8,614.2 M353.5,610.4 351.5,610.5 349.7,611.3 347.7,611.1 345.8,610.9 343.8,611.5 341.8,611.6 339.8,612.3 338.8,614.2 M331.7,626.8 333.0,626.5 M338.8,614.2 338.0,615.7 337.3,617.3 336.7,618.9 336.1,620.5 335.4,622.1 335.3,623.9 334.3,625.3 333.0,626.5 M631.5,427.1 632.4,428.8 631.6,430.5 631.1,432.2 629.8,433.4 629.0,434.8 628.1,436.2 627.4,437.8 627.6,439.5 628.1,441.2 627.5,442.9 627.9,444.5 628.3,446.1 629.1,447.8 630.7,448.6 631.3,450.2 631.5,451.9 M631.5,427.1 630.3,426.2 628.9,425.6 628.2,424.1 626.6,423.5 625.7,422.1 624.0,421.9 622.2,422.1 621.2,420.7 M621.2,420.7 621.3,423.0 621.6,425.3 621.1,427.7 619.4,429.4 617.2,430.5 615.1,431.8 614.3,434.1 614.1,436.5 M631.5,451.9 630.8,450.3 629.6,449.0 628.7,447.6 628.2,445.9 627.5,444.1 628.2,442.4 628.0,440.7 627.4,439.0 625.6,439.5 623.8,439.0 622.0,438.9 620.4,439.8 618.7,439.1 616.9,438.7 615.2,438.0 614.1,436.5 M631.7,452.2 633.3,450.2 635.6,448.9 637.7,450.5 640.4,450.9 640.7,453.3 642.6,454.8 644.3,456.2 646.2,457.4 648.2,457.3 650.1,456.6 652.0,455.8 654.1,455.7 655.7,456.9 657.7,457.5 659.8,457.5 661.6,458.5 M635.1,424.0 632.6,424.8 631.5,427.1 M631.7,452.2 631.5,451.9 M619.8,418.2 621.2,420.7 M597.1,431.9 599.3,431.7 601.6,431.6 603.9,431.8 606.1,432.2 608.1,433.6 610.6,433.4 612.3,435.0 614.1,436.5 M620.4,549.4 621.6,546.8 622.4,544.1 622.3,541.2 623.1,538.5 626.1,537.5 627.1,534.6 628.9,532.3 630.6,530.1 633.1,528.2 633.6,525.0 634.2,522.1 635.0,519.3 637.6,517.9 639.7,515.7 642.5,514.7 645.1,514.1 M617.0,514.3 618.5,513.6 M618.5,513.6 620.2,514.1 621.7,515.0 623.2,515.9 625.0,516.0 626.8,516.1 628.4,516.7 630.1,517.1 631.9,517.1 633.7,517.1 635.6,516.9 637.0,515.7 638.4,514.6 640.2,514.5 642.0,514.9 643.6,514.3 645.1,514.1 M586.0,449.8 586.6,452.5 588.9,454.0 590.6,456.0 591.2,458.6 M631.7,452.2 630.2,454.3 627.7,454.8 626.4,456.8 624.6,458.4 622.4,459.2 620.4,460.5 618.2,461.4 616.6,463.3 M616.6,463.3 615.2,462.2 613.7,461.4 612.0,462.1 610.3,461.6 608.6,460.6 606.9,461.5 605.4,462.0 603.7,462.0 602.0,461.7 600.4,461.2 598.8,461.7 597.1,461.4 595.9,460.1 594.2,459.8 592.7,459.1 591.2,458.6 M571.3,484.4 572.9,483.5 573.9,481.9 575.6,481.3 577.4,480.7 579.3,480.7 581.0,479.8 582.4,478.5 583.5,477.0 583.2,474.9 584.9,473.7 585.7,472.1 586.8,470.6 587.2,468.8 587.9,467.2 589.0,465.7 589.5,464.0 M589.5,464.0 590.1,461.2 591.2,458.6 M353.5,610.4 354.0,612.1 355.1,613.5 355.6,615.2 355.2,617.0 M333.0,626.5 334.1,628.9 336.0,630.6 337.1,633.1 339.7,634.1 341.4,636.2 343.6,637.8 346.3,637.9 349.0,638.0 M355.2,617.0 354.1,618.1 352.8,619.0 351.8,620.2 350.5,621.2 348.8,621.5 347.7,622.8 346.6,624.1 346.4,625.8 347.6,627.1 347.6,628.9 349.3,629.7 349.9,631.4 349.0,632.9 348.2,634.5 347.7,636.4 349.0,638.0 M626.0,489.5 624.0,491.3 621.4,491.1 619.6,489.2 617.0,489.3 615.9,491.3 614.6,493.2 612.4,494.2 610.7,495.7 M626.0,489.5 625.6,488.1 625.2,486.6 625.8,485.2 626.3,483.8 626.1,482.3 626.4,480.7 625.8,479.2 624.5,478.4 623.2,475.7 622.0,473.0 619.3,471.7 616.8,470.1 M616.8,470.1 615.3,471.8 613.1,471.7 611.0,471.4 609.0,471.0 607.8,472.6 606.3,473.9 606.2,476.1 604.6,477.5 604.4,479.5 603.3,481.0 602.8,482.9 603.3,484.7 602.3,486.2 601.2,487.7 601.2,489.8 599.4,490.9 M610.7,495.7 609.1,496.1 607.6,496.8 605.9,497.1 604.5,498.0 603.5,496.5 602.5,495.0 600.8,494.7 599.1,494.2 M599.1,494.2 599.5,492.6 599.4,490.9 M651.9,498.5 651.7,496.2 649.4,494.7 647.5,493.0 645.6,491.3 643.4,490.0 640.9,489.2 638.4,488.3 636.1,487.1 633.7,488.5 631.0,488.1 628.7,489.6 626.0,489.5 M618.5,513.6 618.2,510.9 616.6,508.7 614.7,507.0 612.4,505.6 611.8,503.0 612.5,500.5 611.3,498.2 610.7,495.7 M616.6,463.3 616.8,465.0 616.2,466.7 617.3,468.3 616.8,470.1 M589.5,464.0 590.5,465.9 591.5,467.8 592.3,469.9 593.4,471.8 595.7,472.7 596.9,474.9 599.3,474.3 601.6,474.8 601.2,477.2 599.2,478.8 601.1,480.5 601.4,483.0 601.3,485.0 600.5,487.0 599.4,488.8 599.4,490.9 M591.3,501.3 593.3,499.6 595.4,498.0 598.0,496.8 599.1,494.2 M349.8,645.0 348.6,643.9 348.5,642.2 349.6,641.0 349.8,639.4 M349.8,645.0 352.7,644.9 354.3,642.6 356.8,642.2 359.2,641.3 361.8,641.9 364.3,641.2 366.7,640.0 369.3,640.1 372.2,641.0 372.8,644.0 375.3,645.0 377.0,647.2 379.7,647.4 382.4,646.7 384.7,648.3 387.2,649.3 M349.8,639.4 351.3,638.1 353.4,638.3 355.2,638.8 356.6,640.2 358.0,638.9 359.9,639.3 361.3,638.2 363.1,638.3 364.0,636.8 364.9,635.3 366.5,634.6 368.1,633.8 369.0,632.2 369.3,630.4 371.2,630.1 372.7,629.0 M387.2,649.3 385.9,646.6 384.5,644.1 383.1,641.6 381.1,639.4 379.6,638.6 378.7,637.3 377.3,636.5 376.3,635.2 375.5,633.7 375.0,632.1 375.1,630.3 376.2,628.8 M376.2,628.8 374.4,628.2 372.7,629.0 M346.7,653.2 346.5,650.9 347.5,648.8 349.0,647.1 349.8,645.0 M349.0,638.0 349.8,639.4 M388.5,650.6 387.2,649.3 M355.2,617.0 356.9,619.3 359.1,621.1 360.6,623.4 362.1,625.8 364.7,626.5 367.5,627.0 369.9,628.5 372.7,629.0 M383.7,607.8 382.9,610.5 381.5,612.9 379.5,615.1 379.3,618.1 378.7,619.5 378.2,620.9 376.8,621.7 375.9,622.9 376.2,625.9 376.2,628.8" fill="none" stroke="#a4a4a4" stroke-width="0.9" stroke-linejoin="round"/>
<path d="M233.7,441.3 238.9,442.1 241.8,446.4 243.1,453.2 244.9,459.2 242.3,463.5 238.9,465.2 236.3,461.8 235.5,456.7 237.2,451.5 235.5,446.4Z M269.6,463.5 273.0,460.1 275.6,463.5 277.3,470.3 280.7,473.7 284.1,480.6 285.0,487.4 285.8,494.2 282.4,497.6 278.2,501.9 274.7,497.6 273.0,490.8 273.9,484.0 272.2,478.9 271.3,472.0Z M588.5,116.1 597.1,120.4 597.1,125.5 593.6,134.1 594.5,144.3 600.5,151.2 609.0,158.0 611.6,166.5 610.7,175.1 609.9,181.9 603.9,180.2 598.8,182.8 595.3,176.8 593.6,168.2 597.1,161.4 595.3,160.5 590.2,162.3 583.4,161.4 578.3,161.1 577.4,158.0 569.7,156.3 566.3,151.2 568.0,144.3 571.4,135.8 576.6,129.0 581.7,123.0 585.1,118.7Z M525.3,151.2 532.1,143.5 537.3,146.0 542.4,152.9 549.2,156.3 554.4,161.4 557.8,168.2 562.9,175.1 566.3,180.2 562.9,185.3 557.8,181.9 552.6,176.8 547.5,169.9 542.4,164.8 535.6,159.7 528.7,156.3Z M496.3,195.6 499.7,185.3 503.1,175.9 511.7,178.5 520.2,185.3 528.7,193.9 535.6,202.4 542.4,210.9 549.2,219.5 554.4,224.6 550.9,228.9 542.4,226.3 535.6,221.2 528.7,217.8 521.9,212.6 518.5,208.4 511.7,210.9 504.8,210.9 498.0,209.2 494.6,205.8Z M577.4,212.6 583.4,205.8 591.9,202.4 602.2,203.3 605.6,209.2 602.2,216.1 598.8,222.9 603.9,224.6 612.4,226.3 610.7,230.6 602.2,228.9 593.6,226.3 586.8,222.9 582.5,217.8Z M599.6,287.8 605.6,286.1 612.4,289.5 618.4,286.1 622.7,292.9 621.0,299.8 626.1,306.6 634.6,310.0 641.5,310.9 638.0,318.5 631.2,322.8 624.4,318.5 617.6,316.8 610.7,316.8 605.6,308.3 602.2,298.0Z M515.9,288.7 520.2,285.8 524.5,289.5 525.3,294.6 521.9,298.0 516.8,295.5Z M656.8,403.7 659.4,402.0 662.8,407.1 665.7,413.1 664.5,416.0 661.1,412.2 658.2,408.0Z M274.7,688.7 279.0,687.8 282.4,691.3 289.3,691.8 297.8,691.3 298.7,694.7 293.5,697.2 289.3,700.7 284.1,703.2 279.9,700.7 277.3,695.5Z" fill="#ffffff" stroke="#a4a4a4" stroke-width="0.8" stroke-linejoin="round"/>
<path d="M473.2,393.5 472.4,386.6 474.9,379.8 480.1,373.0 486.9,370.4 490.3,375.5 489.4,383.2 484.3,386.6 480.9,390.0 476.6,393.5Z M492.9,404.6 493.7,397.7 496.3,390.0 499.7,382.4 501.4,381.5 500.5,388.3 498.0,396.9 495.4,404.6Z M577.4,158.0 582.5,155.4 590.2,154.6 597.1,156.3 595.3,160.5 590.2,162.3 583.4,161.4 578.3,161.1Z M665.0,298.0 667.1,291.6 670.5,288.3 676.5,290.4 683.3,294.6 689.6,301.5 687.9,310.0 682.8,315.1 679.4,322.0 676.0,323.7 672.6,318.5 668.1,315.1 665.0,310.9 664.0,304.9Z M685.9,260.5 692.7,263.9 699.5,269.0 706.4,272.4 714.9,274.1 720.0,277.6 718.3,286.1 713.2,286.9 706.4,281.0 699.5,275.8 692.7,270.7 687.6,265.6Z M679.0,229.7 684.2,228.9 689.3,233.1 692.7,240.0 697.8,246.8 703.0,253.6 704.7,260.5 701.2,263.9 696.1,257.1 691.0,248.5 685.9,240.0 680.8,234.9Z M671.4,241.7 675.6,239.1 680.8,240.8 681.6,245.1 676.5,246.8 672.2,245.1Z M632.1,213.5 638.0,210.9 644.9,211.8 649.2,214.4 643.2,215.2 637.2,217.8 633.8,216.9Z M627.8,189.6 632.1,187.9 635.5,192.1 633.8,196.4 629.5,195.6Z M638.9,195.6 644.0,193.9 650.0,198.1 652.6,202.4 647.4,202.4 641.5,199.8Z M630.4,173.4 634.6,172.5 639.8,176.8 641.5,181.9 637.2,181.0 632.9,177.6Z M751.1,543.8 756.2,544.6 764.8,542.1 769.9,545.5 776.7,549.7 775.0,553.2 768.2,551.5 761.4,548.9 754.5,546.3Z M778.5,548.9 785.3,549.7 792.1,551.5 799.0,554.0 797.2,555.7 790.4,554.0 783.6,552.3Z M810.9,567.7 814.3,568.5 816.9,573.7 812.6,577.9 805.8,579.6 800.7,583.0 799.0,589.9 796.4,596.7 793.8,599.3 793.0,596.7 795.5,589.9 797.2,581.3 800.7,577.1 807.5,574.5 810.9,571.9Z M933.9,381.5 935.3,381.5 935.9,388.3 938.2,396.0 935.9,399.4 934.7,403.7 933.4,402.0 933.9,395.2 933.0,388.3Z M748.0,275.8 751.1,275.0 754.5,279.3 755.4,283.5 752.0,283.0 749.1,279.3Z M759.3,293.8 763.1,294.6 769.9,297.2 769.1,299.8 763.1,298.0 759.7,296.0Z M1051.7,313.4 1053.5,313.1 1056.0,317.7 1058.9,321.1 1058.2,324.5 1055.5,322.8 1053.5,318.5Z M685.2,359.3 690.5,355.8 693.8,357.5 691.9,362.0 686.5,362.8Z M737.6,293.4 741.7,290.7 746.3,292.9 745.7,296.6 740.9,297.4Z M759.2,293.4 764.6,294.7 769.9,297.4 769.4,299.6 763.2,297.4 759.7,295.5Z M748.4,275.9 751.6,275.1 755.1,279.9 754.3,283.2 750.6,281.3Z M740.3,261.6 743.0,261.1 745.2,266.5 743.6,269.2 740.9,266.5Z M1013.3,656.2 1019.3,655.4 1027.8,658.0 1026.1,663.1 1021.0,662.2 1016.7,658.8Z M1035.5,704.9 1039.8,701.5 1044.9,704.9 1043.2,709.2 1050.0,710.9 1056.9,714.3 1058.6,721.2 1053.5,724.6 1048.3,722.0 1044.1,717.7 1039.8,712.6 1038.1,708.3Z M839.1,770.7 841.7,763.9 845.1,767.3 848.5,768.1 851.9,772.4 850.2,778.4 844.2,776.7 840.8,774.1Z M990.3,715.2 995.4,710.9 1001.4,704.9 1008.2,701.5 1004.8,707.5 1002.2,712.6 1007.3,713.5 1005.6,718.6 998.8,719.4 992.0,719.8Z M928.8,731.4 933.9,734.0 940.7,733.1 948.4,729.7 951.0,734.0 944.1,739.1 937.3,737.4 930.5,737.4Z M932.2,763.9 937.3,760.4 945.0,759.6 942.4,763.9 939.0,769.0 933.9,768.1Z M803.2,794.6 805.8,793.7 808.3,799.7 807.8,803.1 805.4,799.7Z M814.3,798.9 816.9,798.0 822.9,803.1 820.3,806.6 816.9,803.1Z" fill="#dbeffc" stroke="#6fb2e8" stroke-width="0.8" stroke-linejoin="round"/>
<path d="M602.1,117.4 603.9,117.8 598.4,119.4 M597.9,119.7 597.1,125.5 593.6,134.1 594.5,144.3 600.5,151.2 609.0,158.0 611.6,166.5 610.7,175.1 609.9,181.9 615.0,180.2 617.6,171.7 624.4,169.1 629.5,171.7 633.8,178.5 632.9,185.3 634.6,193.9 636.3,201.5 626.9,203.3 627.8,212.6 629.5,221.2 636.3,226.3 638.9,233.1 645.7,234.0 650.9,240.0 655.1,246.8 657.7,253.6 662.0,260.5 663.7,269.0 668.8,275.8 672.2,282.7 675.6,291.2 670.5,296.3 663.7,303.2 662.0,310.0 654.3,312.6 644.9,310.0 641.5,315.1 638.0,320.3 636.7,321.0 M645.7,347.6 655.1,352.7 663.7,357.0 672.2,361.1 673.1,361.0 676.5,376.4 676.5,382.4 671.4,384.1 665.4,384.9 660.3,390.9 658.5,397.7 662.0,403.7 667.1,412.2 668.8,417.4 675.6,414.0 682.5,410.5 685.9,412.2 687.6,419.1 692.7,424.2 697.8,426.8 704.7,429.3 707.2,431.9 704.7,436.2 699.5,438.7 696.1,444.7 693.6,448.1 687.6,449.8 682.5,444.7 677.3,441.3 672.2,436.2 668.8,439.6 667.9,446.4 671.4,451.5 672.2,458.4 668.8,463.5 667.1,470.3 672.2,477.1 673.9,480.6 670.5,485.7 663.7,490.8 658.5,495.9 651.7,499.4 643.2,500.2 634.6,497.6 639.8,502.8 644.9,511.3 646.6,516.4 641.5,521.6 636.3,525.0 638.0,531.8 634.6,535.2 638.0,542.1 644.9,544.6 650.0,548.9 649.2,555.7 652.6,560.8 657.7,564.3 655.1,568.5 650.0,568.5 644.9,566.0 638.0,564.3 636.3,571.1 631.2,576.2 626.9,578.8 624.8,578.8 634.2,585.6 642.7,592.5 649.5,596.7 656.4,596.7 658.1,593.3 664.9,589.9 673.4,589.9 682.0,591.6 688.8,589.9 694.8,587.3 699.9,590.7 702.5,596.7 706.8,602.7 711.0,608.7 717.9,614.7 723.0,620.6 729.8,626.6 736.6,631.7 742.6,636.0 746.0,637.7 745.6,638.9 M736.9,725.4 737.5,726.5 729.8,728.2 723.0,730.8 721.3,737.6 722.1,745.3 717.9,751.3 714.4,754.7 713.6,759.8 713.5,759.9 712.9,759.8 M576.8,459.9 578.3,458.4 580.5,455.6 M644.3,347.4 645.7,347.6" fill="none" stroke="#a4a4a4" stroke-width="1.0" stroke-linejoin="round"/><path d="M211.5,438.7 217.5,437.0 226.1,435.8 231.2,438.7 234.6,442.1 239.7,443.0 242.3,448.1 243.1,454.1 244.9,459.2 242.3,463.5 238.0,466.0 233.7,470.3 231.2,474.6 232.0,480.6 231.2,487.4 228.6,494.2 225.2,499.4 222.6,504.5 221.8,507.9 215.8,507.0 209.0,507.0 203.9,508.7 197.0,510.5 190.2,513.0 183.4,513.9 178.2,513.0 174.8,510.5 170.5,507.9 169.7,502.8 174.8,499.4 169.7,495.9 171.4,493.4 178.2,492.5 185.1,487.4 188.5,484.0 192.8,480.6 191.9,477.1 186.8,475.4 184.2,470.3 180.8,467.8 182.5,463.5 186.8,461.8 185.1,456.7 186.8,450.7 191.9,451.5 198.7,454.1 205.6,454.1 209.8,449.8 205.6,444.7 208.1,441.3Z M271.3,371.2 275.6,373.0 282.4,373.3 287.6,373.8 291.8,375.5 290.1,380.6 285.8,384.9 280.7,389.2 275.6,394.3 273.9,397.7 280.7,396.0 287.6,395.2 294.4,396.0 300.4,397.7 303.3,401.1 302.6,406.3 299.5,410.5 295.2,415.7 291.0,419.9 285.8,423.3 281.6,425.9 287.6,426.8 282.4,429.3 276.5,430.2 279.0,432.7 285.0,434.4 290.1,437.0 294.4,442.1 296.9,449.8 299.2,458.4 301.6,466.9 306.3,473.7 309.8,480.6 312.3,488.3 314.0,494.2 313.2,499.4 310.6,504.5 313.2,509.6 319.2,510.5 325.1,509.3 330.3,512.2 332.8,518.1 332.0,525.0 328.5,530.1 324.3,533.5 320.0,536.9 315.7,540.3 318.3,543.8 323.4,545.5 324.3,548.9 320.0,552.3 313.2,554.9 306.3,555.7 299.5,554.9 292.7,554.0 286.7,554.9 280.7,553.2 275.6,554.0 270.5,554.9 263.6,552.3 258.5,550.6 253.4,554.0 248.3,557.4 243.1,555.7 238.0,557.4 232.9,559.1 227.8,560.0 221.8,557.4 222.6,554.9 229.5,551.5 236.3,546.3 240.6,541.2 244.9,537.8 251.7,538.6 258.5,539.5 264.5,536.9 269.6,531.8 273.9,529.2 267.1,532.7 260.2,533.5 255.1,531.0 250.0,527.5 244.9,524.1 238.9,524.1 236.3,520.7 238.0,517.3 244.9,515.6 250.0,513.0 254.2,507.9 256.8,502.8 255.1,498.5 249.1,497.6 251.7,494.2 258.5,492.5 265.3,491.7 269.6,493.4 271.3,487.4 272.2,480.6 271.3,473.7 269.6,466.9 270.5,461.8 273.9,458.4 279.0,455.8 277.3,453.2 270.5,454.9 263.6,457.5 258.5,456.7 254.2,454.1 251.7,450.7 255.1,446.4 260.2,443.0 262.8,438.7 260.2,434.4 261.1,429.3 263.6,424.2 261.9,419.1 263.6,412.2 265.3,405.4 263.6,399.4 265.3,393.5 263.6,388.3 266.2,381.5 268.8,376.4Z M243.1,378.1 246.6,374.7 252.5,371.2 256.8,370.4 256.0,373.8 251.7,377.2 247.4,379.8 244.0,380.6Z M232.9,400.3 236.3,395.2 238.0,390.0 239.7,386.6 240.6,390.0 238.0,396.0 234.6,400.3Z M245.7,391.7 250.0,389.2 254.2,392.6 252.5,397.7 248.3,401.1 245.7,397.7Z M239.7,431.0 244.9,427.6 250.0,424.2 255.1,420.8 256.8,423.3 252.5,427.6 247.4,431.9 242.3,434.4Z M246.6,437.9 249.1,434.4 250.8,437.0 249.1,441.3 246.9,441.3Z M251.3,437.9 254.2,434.4 256.0,437.0 253.7,441.3Z M252.5,470.3 256.0,466.9 258.9,466.0 258.5,468.6 255.1,471.7Z M251.7,488.3 255.1,487.1 256.8,490.0 254.2,492.5 252.0,491.2Z M291.0,364.4 293.5,362.7 296.1,365.3 295.2,369.5 292.7,371.2 291.0,368.7Z M314.9,340.8 319.2,335.6 323.4,332.2 326.8,330.5 325.1,335.6 322.6,340.8 320.0,345.9 317.4,351.0 315.7,347.6Z M263.6,286.9 269.6,284.4 274.7,287.8 272.2,292.1 269.6,297.2 267.1,294.6 264.5,291.2Z M265.3,300.6 267.4,301.5 266.7,305.7 265.3,304.0Z M410.5,401.7 402.0,396.9 395.2,390.0 391.7,381.5 391.7,371.2 388.3,361.0 389.2,352.7 387.5,342.5 388.3,332.2 391.7,323.7 389.2,315.1 393.5,308.3 402.0,299.8 410.5,294.6 416.0,289.5 416.0,294.6 422.8,287.8 429.7,281.0 438.2,274.1 445.0,263.9 450.2,257.1 455.3,248.5 462.1,240.0 465.5,231.4 467.2,222.9 472.4,214.4 475.8,205.8 480.9,197.3 486.0,188.7 489.4,181.9 492.0,176.8 496.3,171.7 498.0,168.2 502.3,161.4 506.5,154.6 510.8,147.7 516.8,142.6 521.9,137.5 525.3,130.7 528.7,125.5 532.1,119.6 535.6,114.4 540.7,110.2 547.5,104.2 556.1,97.9 561.2,96.5 566.3,96.2 569.7,93.9 574.9,92.7 580.0,93.1 586.8,94.4 593.6,98.2 599.6,101.6 600.5,105.0 594.5,109.3 588.5,112.2 585.1,112.7 591.9,114.9 598.8,116.7 602.1,117.4 M598.4,119.4 597.9,119.6 597.9,119.7 M636.7,321.0 631.2,323.7 624.4,326.2 617.6,330.5 610.7,335.6 603.9,339.9 597.1,344.2 590.2,347.6 585.1,345.9 580.0,342.5 574.9,340.8 570.6,335.6 568.0,328.8 567.2,320.3 566.3,313.4 564.6,306.6 561.2,298.0 557.8,289.5 559.5,281.0 561.2,275.8 564.6,269.0 567.2,262.2 569.7,257.1 573.1,251.9 577.4,246.8 580.0,240.0 582.5,234.9 586.8,229.7 585.1,222.9 580.0,217.8 575.7,215.2 569.7,215.2 562.9,216.9 557.8,217.8 555.2,222.9 552.6,228.0 550.9,234.9 551.8,241.7 553.5,248.5 550.9,255.3 545.8,262.2 540.7,269.0 535.6,275.8 530.4,282.7 526.2,288.7 523.6,296.3 521.9,303.2 521.0,310.0 520.2,316.8 519.9,323.7 521.0,330.5 522.8,337.3 527.0,341.6 533.9,345.9 539.0,351.0 542.4,356.1 543.8,361.1 543.3,361.0 540.7,366.1 538.1,371.2 535.6,375.5 532.1,379.8 525.3,383.2 518.5,381.5 516.8,384.9 521.9,388.3 522.8,395.2 521.0,402.0 522.8,407.1 521.9,414.0 520.2,422.5 518.5,429.3 516.8,436.2 513.4,438.7 508.2,439.6 501.4,441.3 497.1,446.4 496.3,451.5 497.6,454.6 494.9,458.7 489.4,460.6 483.5,460.1 479.5,457.5 477.8,453.2 477.5,449.0 476.1,445.5 478.3,441.3 479.2,436.2 476.6,431.0 472.4,424.2 469.0,417.4 465.5,410.5 461.3,402.0 459.6,391.7 457.8,381.5 455.6,371.2 456.1,361.0 452.7,361.0 451.0,362.7 448.5,368.7 444.2,373.8 439.9,379.8 435.6,384.9 429.7,390.9 422.8,397.7 416.0,401.1 410.5,401.7 M467.2,181.0 474.1,175.1 480.9,170.8 487.7,166.5 492.9,161.4 498.0,156.3 503.1,151.2 505.7,152.0 501.4,158.8 496.3,164.8 491.2,169.9 484.3,175.1 477.5,179.3 470.7,182.8Z M509.1,132.4 514.2,127.2 518.5,124.7 520.2,127.2 516.8,132.4 513.4,137.5 509.9,139.2Z M525.3,122.1 529.6,117.0 533.9,114.4 534.7,117.0 530.4,122.1 527.0,124.7Z M522.8,438.7 524.5,429.3 526.7,419.1 528.7,413.6 529.4,414.3 527.4,425.9 525.3,434.4 523.6,439.6Z M540.7,410.5 542.4,403.7 546.7,399.4 551.8,396.9 550.9,400.3 548.4,405.4 547.5,412.2 545.0,417.4 542.7,420.8 542.1,415.7Z M549.2,344.2 552.6,341.6 556.9,343.3 556.1,347.6 551.8,349.3Z M745.6,638.9 745.2,640.3 746.9,645.4 748.6,648.8 745.2,655.7 740.1,657.4 738.4,662.5 740.1,667.6 738.4,674.4 739.2,681.3 740.1,686.4 736.6,691.5 734.1,696.6 733.2,701.8 732.4,708.6 730.7,713.7 729.0,717.1 731.5,719.7 735.8,723.1 736.9,725.4 M712.9,759.8 709.3,759.1 702.4,758.2 695.6,759.9 690.5,761.6 686.2,759.9 681.9,763.3 678.5,767.6 680.2,771.9 683.7,775.3 687.1,777.9 685.4,779.6 680.2,777.0 676.8,776.2 680.2,781.3 677.7,783.0 673.4,778.7 670.0,778.7 671.7,783.8 668.3,783.8 664.9,778.7 661.5,776.2 658.0,777.9 657.2,783.8 658.9,789.0 663.2,794.1 668.3,799.2 671.7,804.3 668.3,806.0 663.7,809.1 662.0,814.2 668.8,816.0 675.6,818.5 682.5,822.8 688.4,827.9 691.9,833.9 687.6,833.9 682.5,831.3 677.3,829.6 672.2,828.8 667.1,827.1 662.0,826.2 656.8,825.3 651.7,825.7 646.1,826.5 641.0,828.8 638.0,831.3 632.9,833.9 627.8,835.6 625.2,832.2 626.9,827.1 629.5,821.9 631.2,816.8 626.1,813.4 621.0,808.3 616.7,804.9 612.4,799.7 609.0,794.6 603.9,787.8 601.3,782.6 602.2,777.5 601.3,770.7 602.2,763.9 601.3,757.0 599.6,751.9 593.6,750.2 586.8,746.8 580.0,744.2 573.1,740.8 566.3,737.4 559.5,733.1 552.6,728.0 545.8,723.7 539.0,717.7 532.1,710.9 525.3,704.1 520.2,697.2 516.8,691.3 512.5,686.1 509.9,687.8 509.1,693.8 505.7,697.2 503.1,692.1 501.4,685.3 499.7,682.7 501.4,679.3 497.1,676.4 491.2,676.7 484.3,680.2 480.1,684.4 480.1,688.7 482.6,692.1 480.9,695.5 478.3,699.0 480.1,704.1 482.6,709.2 486.0,714.3 491.2,717.7 496.3,722.9 501.4,729.7 504.8,736.5 508.2,743.4 512.5,750.2 516.8,755.3 521.9,758.7 528.7,760.4 535.6,762.1 542.4,760.4 545.8,761.3 545.0,763.9 547.5,769.0 552.6,773.3 559.5,775.8 566.3,779.2 573.1,782.6 580.0,786.1 585.1,791.2 588.5,796.3 586.8,801.4 584.2,802.3 580.0,798.0 574.9,794.6 569.7,791.2 564.6,789.5 561.2,792.9 557.8,799.7 555.2,804.9 559.5,808.3 564.6,811.7 567.7,816.8 566.3,823.6 561.2,829.6 557.8,835.6 554.4,842.4 550.9,847.6 545.8,849.3 543.3,847.6 545.0,844.1 547.5,839.0 550.1,833.9 552.6,827.1 550.9,820.2 547.5,815.1 545.8,808.3 542.4,803.1 535.6,800.6 529.6,798.0 525.3,792.9 520.2,788.6 515.1,785.2 509.1,782.6 503.1,780.9 496.3,777.5 489.4,774.1 483.5,769.0 477.5,763.9 472.4,758.7 467.2,754.5 462.1,748.5 457.8,742.5 454.4,736.5 451.9,729.7 450.2,722.9 446.7,718.6 441.6,716.0 436.5,714.3 431.4,711.8 426.2,708.3 421.1,707.5 416.0,708.9 416.0,709.5 407.1,715.2 400.3,721.2 393.5,728.0 386.6,733.1 379.8,735.7 373.0,733.1 366.1,729.7 359.3,726.3 352.5,723.7 345.6,723.7 338.8,727.1 332.8,731.4 330.3,736.5 329.4,743.4 332.0,749.3 330.3,755.3 325.1,760.4 318.3,764.7 309.8,769.0 301.2,772.4 293.5,775.8 288.4,780.9 282.4,784.4 277.3,790.3 272.2,796.3 267.9,803.1 265.3,810.0 267.1,816.8 271.3,821.9 273.9,823.6 267.1,827.1 261.9,831.3 256.8,837.3 252.5,844.1 248.3,846.7 243.1,847.6 238.0,846.7 234.6,850.1 231.2,856.1 226.1,862.1 219.2,860.4 212.4,859.5 205.6,857.8 197.0,856.9 188.5,855.2 181.7,857.8 174.8,859.5 168.8,862.1 165.4,865.5 162.9,866.3 159.4,861.2 156.0,854.4 152.6,849.3 151.8,845.0 147.5,839.0 142.4,834.7 135.5,833.9 128.7,834.7 121.9,833.0 115.0,831.3 108.2,830.5 111.6,823.6 114.2,816.8 115.9,808.3 116.7,799.7 114.2,796.3 111.6,794.6 109.1,792.0 110.8,786.1 115.0,780.9 120.2,774.1 122.7,769.0 125.3,762.1 127.8,755.3 130.4,748.5 133.0,743.4 133.5,734.8 133.8,726.3 135.5,717.7 134.7,710.9 133.8,704.1 133.0,699.0 135.5,695.5 142.4,693.8 150.1,692.1 153.5,688.7 158.6,687.5 164.6,689.6 168.8,693.8 174.8,696.4 181.7,698.1 189.3,699.0 197.0,702.4 205.6,705.8 214.1,707.5 222.6,709.2 230.3,712.6 238.0,713.5 244.9,716.0 250.8,716.9 256.8,715.2 260.2,711.8 262.8,704.1 265.3,693.8 267.1,683.6 269.6,673.3 271.3,666.5 269.6,661.4 267.1,656.2 265.3,651.1 263.6,646.0 261.9,641.1 260.2,634.3 261.9,629.2 256.8,625.8 253.4,620.6 250.0,617.2 246.6,615.5 239.7,612.1 234.6,608.7 231.2,605.3 227.8,601.8 226.1,598.4 226.1,595.0 231.2,592.4 239.7,593.3 246.6,591.6 252.5,594.2 256.8,599.3 263.6,600.1 269.6,598.4 273.0,588.2 272.2,576.2 275.6,574.5 280.7,577.9 282.4,583.0 287.6,585.6 294.4,587.3 300.4,585.6 302.9,581.3 308.0,577.9 314.9,576.2 320.9,571.9 324.3,565.1 325.1,557.4 330.3,552.3 338.8,548.9 347.3,546.3 354.2,544.6 359.3,542.1 361.0,536.9 363.6,531.8 366.1,526.7 367.8,521.6 370.4,516.4 373.8,509.6 376.4,511.3 379.8,506.2 384.1,504.5 391.7,501.9 400.3,499.4 407.1,497.6 416.0,497.6 416.0,502.8 421.1,503.6 424.5,500.2 421.1,495.9 423.7,487.4 422.0,477.1 422.8,466.9 421.1,460.1 422.0,449.8 420.3,441.3 421.1,432.7 424.5,425.9 431.4,420.8 438.2,417.4 445.0,413.1 449.3,410.5 448.5,415.7 445.9,420.8 446.7,427.6 445.0,434.4 448.5,436.2 452.7,437.9 453.6,443.0 450.2,446.4 447.6,449.8 443.3,452.4 441.6,456.7 439.9,463.5 441.6,470.3 439.1,477.1 441.6,483.1 445.0,487.4 442.5,491.7 445.9,493.4 450.2,489.1 454.4,491.7 457.8,494.2 463.8,490.8 470.7,487.4 477.5,484.0 482.6,483.1 486.0,478.9 489.4,480.6 491.2,485.7 494.6,490.8 499.7,493.4 504.8,492.5 511.7,488.3 518.5,484.8 525.3,481.4 532.1,477.1 539.0,472.0 545.8,469.5 552.6,469.5 556.1,472.0 557.8,477.1 561.2,478.9 566.3,475.4 569.7,470.3 571.4,465.2 574.9,461.8 576.8,459.9 M580.5,455.6 581.7,454.1 584.2,446.4 583.4,439.6 581.7,432.7 579.1,425.9 578.3,419.1 580.0,412.2 580.8,405.4 584.2,400.3 588.5,397.7 592.8,396.0 595.3,399.4 599.6,404.6 603.9,408.8 609.0,410.5 613.3,407.1 615.0,402.0 614.1,395.2 612.4,388.3 610.7,381.5 609.9,378.1 610.7,371.2 612.4,366.1 614.1,361.0 614.1,361.1 617.6,356.1 621.0,351.0 627.8,348.4 634.6,347.6 639.8,346.7 644.3,347.4 M442.5,459.2 448.5,456.7 452.7,460.1 454.4,465.2 451.9,470.3 446.7,471.2 443.3,467.8 441.6,463.5Z M457.8,454.1 462.1,449.8 467.2,446.4 474.1,445.5 475.8,451.5 474.9,458.4 472.4,463.5 474.1,466.9 469.8,468.6 465.5,466.0 461.3,465.2 459.6,460.1Z M457.0,472.9 461.3,472.0 465.5,474.6 469.0,472.9 472.4,470.3 473.2,472.9 469.8,477.1 464.7,478.9 459.6,477.1Z M503.1,463.5 504.8,461.8 509.1,464.3 508.2,468.6 504.8,467.8Z M582.5,383.2 586.8,378.1 593.6,374.7 597.1,377.2 593.6,381.5 588.5,384.9 584.2,386.6Z M582.5,369.5 586.8,367.0 590.2,368.7 588.5,372.1 584.2,373.0Z M484.3,478.9 486.9,475.4 490.3,476.3 491.2,480.6 487.7,483.1Z M639.8,837.3 644.9,833.9 651.7,831.3 658.5,829.6 665.4,830.5 670.5,833.0 667.1,836.5 672.2,839.0 679.0,842.4 682.5,840.7 679.9,845.8 673.9,847.6 672.2,852.7 675.6,859.5 679.9,865.5 675.6,862.9 670.5,857.8 667.1,861.2 667.9,867.2 663.7,862.9 660.3,856.9 656.8,859.5 654.3,861.2 650.9,856.1 650.0,849.3 644.9,844.1 641.5,840.7Z M665.0,805.4 670.5,806.2 677.3,808.8 684.2,812.2 691.0,816.5 697.0,822.4 699.9,827.9 696.1,827.4 691.0,824.0 685.0,819.9 679.0,816.5 673.1,813.7 667.4,811.0 664.5,808.3Z M487.7,855.2 489.4,851.0 494.6,847.6 499.7,845.0 506.5,849.3 513.4,848.4 520.2,847.6 527.0,846.7 533.9,845.8 539.0,844.1 541.5,842.4 539.8,849.3 537.3,856.1 535.6,862.9 539.0,868.0 535.6,877.4 528.7,875.7 521.9,871.5 515.1,866.3 508.2,862.9 501.4,860.4 494.6,859.5 489.4,857.8Z M414.3,791.2 421.1,787.8 428.0,782.6 433.1,780.1 434.8,786.1 437.4,791.2 439.9,796.3 438.2,803.1 437.4,810.0 438.2,816.8 436.5,823.6 431.4,825.3 426.2,828.8 422.8,831.3 417.7,827.1 415.1,825.3 413.4,816.8 411.7,808.3 412.6,799.7Z M422.8,748.5 428.0,745.1 431.4,741.7 433.1,739.1 434.8,741.7 433.9,748.5 435.6,755.3 434.8,763.9 432.2,770.7 428.8,775.8 425.4,773.3 422.8,769.0 421.1,763.9 419.4,757.0 420.3,751.9Z M690.1,885.1 692.7,882.6 697.8,880.9 699.5,883.4 706.4,884.3 714.9,884.3 723.5,882.6 732.0,881.7 740.5,880.9 740.5,885.1 735.4,888.5 726.9,890.3 720.0,892.0 714.9,892.8 709.8,890.3 703.0,890.3 696.1,891.1 691.0,890.3Z M313.2,809.1 318.3,805.7 324.3,803.1 329.4,806.6 331.1,810.0 326.8,814.2 323.4,816.8 319.2,813.4 315.7,811.7Z M337.9,802.3 342.2,801.4 345.6,804.0 344.8,807.4 340.5,805.7Z M291.0,821.1 295.2,818.5 298.7,819.4 296.9,822.8 293.5,824.5Z M762.2,853.5 765.6,848.4 769.1,846.2 769.9,849.3 767.4,855.2 763.9,860.9 762.2,858.7Z" fill="none" stroke="#6fb2e8" stroke-width="1.1" stroke-linejoin="round"/>
<path d="M409.6,401.2L413.5,399.2L416.0,396.4 M409.0,400.9L411.9,400.3L414.2,398.5 M407.4,399.9L409.7,398.4L411.1,398.0 M406.1,399.2L405.2,396.3L406.0,392.2 M404.1,398.1L405.1,394.7L404.8,390.7 M402.2,397.0L402.3,394.3L403.5,392.8 M401.6,396.5L404.3,393.4L407.6,390.4 M400.8,395.7L401.8,391.4L402.0,386.0 M399.5,394.4L401.7,390.6L403.0,385.4 M398.2,393.1L400.4,390.8L401.8,389.8 M396.6,391.4L397.9,386.3L397.8,382.6 M396.0,390.8L396.1,388.1L397.5,386.5 M394.6,388.6L396.3,387.2L396.3,385.8 M394.6,388.5L396.9,385.0L399.3,380.4 M393.8,386.6L395.0,386.6L397.0,386.8 M393.0,384.5L397.3,382.8L401.8,380.2 M392.3,383.0L395.3,381.0L398.8,380.3 M391.9,381.9L395.3,382.2L399.2,381.7 M391.7,380.4L394.4,377.9L396.9,376.2 M391.7,379.0L396.4,379.6L400.1,380.7 M391.7,376.8L396.5,376.5L400.1,375.0 M391.7,374.7L396.6,374.3L401.3,374.9 M391.7,373.0L394.9,374.2L397.3,374.6 M391.7,371.6L394.3,372.1L398.5,373.7 M391.5,370.5L392.0,368.7L393.7,367.4 M390.9,368.9L392.0,369.2L394.7,369.8 M390.4,367.4L391.5,367.2L393.1,366.7 M389.8,365.6L392.7,365.7L395.2,366.3 M389.6,364.9L391.4,361.1L394.4,357.1 M389.2,363.7L392.4,364.4L396.1,365.3 M388.5,361.6L390.4,362.2L392.3,363.0 M388.4,360.0L391.6,360.0L393.9,359.0 M388.5,358.9L389.3,360.2L390.8,361.2 M388.7,357.2L391.5,356.8L394.9,356.4 M388.9,355.3L392.7,357.3L396.3,360.9 M389.1,353.6L392.4,354.9L395.2,356.2 M389.1,352.0L391.0,352.5L394.0,353.7 M388.9,350.9L393.1,351.0L397.5,351.8 M388.4,347.8L390.0,347.4L391.5,347.1 M388.1,346.2L391.5,346.8L396.4,346.7 M387.8,344.2L391.0,341.0L393.1,338.8 M387.5,342.6L390.2,340.8L393.5,337.8 M387.5,342.3L389.0,341.2L391.9,339.8 M387.8,339.3L389.0,339.4L390.8,339.2 M387.9,338.0L390.3,340.0L392.7,341.7 M387.9,336.9L389.7,338.3L392.5,338.9 M388.0,335.5L390.7,333.9L394.5,332.0 M388.3,332.7L390.1,332.5L390.5,331.7 M388.7,331.3L390.8,331.5L393.5,331.4 M389.1,330.2L393.3,332.0L397.2,333.6 M389.7,328.8L390.5,327.7L392.3,328.1 M390.3,327.3L394.1,326.6L397.9,324.7 M390.8,325.9L393.1,324.9L396.4,324.9 M391.2,324.9L393.3,324.2L395.5,324.9 M391.5,323.1L396.5,322.9L401.0,322.9 M391.1,321.8L394.5,320.1L397.3,317.8 M390.2,318.6L392.3,317.0L394.4,316.0 M389.8,317.3L391.4,317.0L392.5,315.3 M389.5,316.1L391.5,312.5L395.0,308.0 M389.3,315.0L389.8,316.8L390.4,317.3 M390.4,313.2L391.9,313.8L394.8,312.9 M391.0,312.2L392.5,315.7L393.6,318.0 M392.3,310.2L393.6,313.6L395.6,317.3 M392.8,309.4L393.6,310.2L395.6,310.2 M393.8,308.0L394.9,307.6L396.8,308.6 M394.8,307.0L395.9,308.1L398.3,309.5 M396.2,305.6L397.4,308.9L398.1,310.8 M397.4,304.4L398.0,305.7L398.8,308.3 M398.6,303.2L401.0,303.0L405.0,304.0 M399.2,302.6L401.6,303.4L403.8,303.1 M400.0,301.8L403.3,302.7L405.9,303.8 M401.8,300.0L403.7,300.7L404.3,301.5 M402.8,299.3L402.9,300.0L403.2,302.1 M403.5,298.9L405.9,301.5L407.1,304.5 M405.2,297.9L407.8,299.9L409.0,300.8 M407.1,296.7L409.9,297.9L411.6,299.3 M408.8,295.6L410.0,298.0L410.1,300.0 M409.6,295.1L410.3,295.5L410.7,296.9 M411.3,293.9L412.0,297.2L411.6,299.1 M412.3,292.9L413.1,296.0L414.4,298.9 M413.3,292.0L414.7,292.3L417.4,293.0 M414.6,290.8L415.4,292.7L415.6,293.2 M415.7,289.8L417.6,293.3L419.2,297.8 M416.0,289.5L413.9,291.3L411.4,291.7 M416.0,292.2L414.1,293.7L411.7,294.9 M416.0,293.5L411.5,294.9L407.6,297.1 M417.0,293.6L418.4,294.5L418.9,296.3 M417.6,293.0L418.0,295.7L419.0,299.1 M419.4,291.2L420.5,291.6L422.8,291.7 M419.6,291.0L420.9,292.7L421.7,293.8 M420.6,290.0L422.3,292.5L422.4,295.6 M422.4,288.2L427.0,290.6L431.0,291.9 M423.5,287.1L424.5,288.9L424.7,289.7 M424.8,285.9L425.6,291.3L426.1,295.2 M425.9,284.8L429.6,285.7L433.7,286.4 M427.4,283.3L432.5,284.6L436.7,285.1 M427.8,282.8L429.7,284.8L430.9,285.9 M429.0,281.7L429.4,283.0L431.1,285.0 M429.8,280.9L429.6,283.7L431.0,285.6 M431.0,280.0L430.9,281.8L431.0,283.7 M432.6,278.6L435.6,282.2L438.4,284.5 M434.1,277.4L435.7,277.5L436.3,277.9 M435.6,276.2L439.9,279.7L442.6,282.4 M436.0,275.9L439.6,279.6L441.8,281.7 M437.1,275.0L437.6,276.0L439.4,277.4 M439.0,273.0L441.3,273.6L442.5,272.7 M439.2,272.6L442.2,273.1L444.5,274.0 M440.0,271.4L441.3,273.6L442.0,277.2 M441.6,269.0L442.7,270.4L444.6,271.5 M441.7,268.8L442.8,271.5L445.5,273.3 M442.5,267.7L444.1,268.3L447.2,269.5 M444.1,265.3L445.2,269.3L446.9,274.4 M444.2,265.1L446.0,267.1L447.6,269.5 M445.3,263.5L446.1,266.1L448.1,269.3 M446.4,262.1L446.4,263.2L447.2,265.1 M447.9,260.2L449.0,261.8L449.7,263.8 M448.4,259.5L449.1,262.0L449.9,263.3 M449.2,258.4L453.2,260.2L456.1,263.6 M451.0,255.7L452.7,255.0L453.9,255.5 M451.6,254.7L456.4,254.4L460.3,254.8 M452.0,254.0L454.6,253.9L455.7,254.8 M452.9,252.5L454.5,253.2L455.6,254.1 M454.4,250.1L456.6,252.8L459.0,254.5 M454.7,249.5L455.9,250.4L457.5,250.1 M455.6,248.1L457.1,249.3L457.5,250.2 M456.7,246.8L458.3,247.4L461.3,247.3 M458.0,245.1L460.9,247.9L465.1,250.9 M459.1,243.7L462.4,247.0L466.9,249.3 M459.5,243.3L460.1,246.0L460.9,249.5 M460.9,241.4L463.3,242.7L467.1,242.5 M461.9,240.3L463.9,241.7L465.1,242.7 M462.2,239.8L463.7,239.7L465.5,239.2 M462.8,238.3L466.6,237.3L470.2,237.0 M463.6,236.3L467.5,238.2L470.2,238.8 M464.4,234.3L466.0,235.5L466.9,236.0 M464.8,233.1L468.9,233.6L472.2,234.2 M465.3,232.0L469.4,230.7L473.6,231.1 M465.8,230.1L469.7,228.2L473.6,226.4 M466.1,228.6L468.0,229.2L470.7,230.6 M466.3,227.5L470.4,228.0L474.2,227.6 M466.5,226.2L466.8,226.7L468.3,227.3 M467.1,223.3L470.1,225.8L472.6,227.6 M467.7,222.0L469.0,222.5L468.7,223.9 M468.1,221.5L471.1,222.0L473.3,222.9 M469.3,219.4L471.9,219.6L474.6,218.8 M470.5,217.4L473.4,221.1L475.1,223.4 M471.0,216.6L474.3,219.5L476.2,221.7 M471.7,215.5L473.1,217.6L475.0,220.9 M472.6,213.9L473.4,213.4L475.7,214.1 M473.2,212.5L477.2,210.7L482.3,210.5 M474.1,210.2L476.6,211.5L480.3,213.1 M474.4,209.3L476.1,209.8L477.5,211.5 M474.9,208.1L476.8,209.5L477.8,211.6 M475.3,207.1L478.5,207.1L481.3,205.8 M475.8,205.7L478.4,206.6L481.2,208.7 M476.7,204.3L477.3,205.6L478.6,208.3 M477.9,202.3L478.3,203.8L479.3,204.7 M479.0,200.4L481.9,201.9L484.8,202.3 M479.3,199.9L480.3,202.2L482.0,204.8 M480.6,197.9L482.4,197.9L483.6,199.4 M481.1,196.9L484.7,195.9L488.3,196.0 M482.5,194.7L483.7,195.7L485.5,196.3 M482.9,193.9L483.8,198.4L485.9,202.2 M483.8,192.3L485.8,193.2L488.0,192.7 M484.5,191.2L485.4,191.7L485.8,193.1 M485.4,189.6L489.6,189.1L492.3,190.1 M486.5,187.6L487.5,187.8L490.0,189.1 M487.4,186.0L489.9,189.9L491.3,192.9 M487.7,185.3L489.3,186.1L489.7,185.7 M488.5,183.6L492.3,186.1L496.5,188.4 M488.9,182.9L490.0,185.7L491.1,187.3 M489.9,180.9L491.8,181.8L494.3,182.3 M491.0,178.9L492.3,178.9L495.3,178.8 M491.6,177.5L492.7,179.7L494.6,180.5 M492.7,176.0L495.9,176.4L500.2,176.8 M494.0,174.5L495.7,176.3L497.1,177.6 M494.6,173.7L497.1,175.2L500.9,175.4 M495.7,172.5L500.0,173.3L504.9,173.5 M496.3,171.7L498.8,171.8L500.1,172.2 M497.6,169.1L500.4,171.6L501.8,173.8 M498.5,167.4L501.6,170.2L503.3,172.3 M499.5,165.9L501.1,166.5L502.3,168.4 M499.9,165.2L502.7,167.3L504.8,168.5 M501.2,163.1L506.5,163.3L510.8,163.0 M502.0,161.8L505.2,165.1L507.4,169.9 M502.7,160.7L506.0,163.5L508.1,165.7 M503.6,159.4L505.8,160.7L507.8,163.5 M504.2,158.2L506.7,158.7L510.2,157.7 M505.6,156.1L508.0,156.8L511.1,157.9 M506.0,155.5L508.1,156.0L509.8,156.5 M506.9,154.0L510.8,156.1L513.5,158.7 M507.4,153.2L510.7,154.8L515.6,157.2 M508.8,150.9L510.2,153.9L513.2,157.5 M509.3,150.0L510.6,150.5L511.7,151.2 M510.3,148.5L512.5,149.0L513.1,149.0 M510.8,147.7L511.2,148.9L513.0,149.7 M512.6,146.2L514.4,146.7L515.0,146.9 M513.3,145.6L514.0,147.8L514.5,150.9 M515.5,143.7L515.8,147.3L517.3,149.4 M516.2,143.1L520.7,145.3L523.8,148.1 M517.9,141.5L519.3,145.4L522.1,150.0 M519.2,140.2L522.7,140.4L526.6,141.2 M520.6,138.8L522.7,141.2L523.4,145.0 M520.7,138.7L521.9,140.4L522.3,141.9 M521.9,137.5L523.9,141.6L526.3,146.0 M522.6,136.1L525.7,136.1L528.3,136.5 M523.6,134.1L528.5,136.6L532.5,137.7 M524.3,132.6L526.9,135.4L530.4,138.4 M524.6,132.0L528.1,133.3L531.8,134.0 M525.9,129.8L526.0,131.7L527.0,133.4 M526.4,129.0L530.1,131.5L533.2,135.1 M527.2,127.7L529.1,130.1L531.5,133.2 M528.1,126.5L529.5,126.7L530.7,126.5 M529.2,124.6L530.8,128.6L532.4,132.8 M530.0,123.2L533.5,125.6L536.6,127.7 M531.0,121.4L534.2,123.3L538.6,124.3 M531.9,119.9L532.7,123.4L534.3,126.2 M532.9,118.4L536.0,120.5L538.6,122.2 M533.3,117.8L535.9,121.1L538.4,123.3 M533.9,117.0L535.9,119.3L536.8,122.6 M535.2,115.0L539.9,116.9L544.1,118.3 M536.0,114.0L538.7,114.2L540.8,115.8 M537.1,113.2L537.2,115.4L537.3,116.7 M539.3,111.4L542.8,114.0L545.6,115.3 M539.7,111.0L542.3,111.7L546.5,112.8 M541.4,109.6L542.5,112.8L543.3,115.5 M541.8,109.2L544.9,113.4L546.8,116.9 M543.4,107.8L546.2,112.0L550.0,114.6 M544.3,107.0L544.8,108.6L545.7,110.3 M545.5,105.9L548.2,107.4L551.7,108.8 M546.5,105.1L546.4,107.9L546.7,109.6 M548.4,103.6L549.0,104.5L550.7,106.2 M548.9,103.2L549.2,104.3L550.8,105.4 M550.2,102.2L553.8,105.8L556.1,109.6 M551.7,101.1L552.5,101.6L553.6,102.4 M553.3,100.0L553.5,103.3L552.8,106.8 M554.2,99.3L554.7,104.7L553.6,108.8 M555.0,98.7L556.3,99.9L558.7,100.3 M557.6,97.5L557.0,101.3L557.2,105.3 M557.9,97.4L558.7,98.8L558.5,101.0 M560.0,96.8L560.0,99.0L561.2,101.4 M562.2,96.4L563.8,99.2L565.3,102.1 M564.0,96.3L565.0,99.2L566.1,102.4 M566.1,96.2L566.2,99.0L566.1,101.2 M567.1,95.6L568.9,98.0L571.7,98.9 M569.7,93.9L570.1,96.5L570.8,97.4 M570.0,93.8L570.0,95.3L568.8,96.3 M572.5,93.2L572.9,97.3L574.7,102.4 M574.4,92.8L576.9,96.7L580.6,99.9 M575.6,92.8L575.8,95.4L576.0,98.7 M577.2,92.9L573.6,96.6L571.4,99.9 M578.7,93.0L578.5,97.7L579.3,101.4 M580.6,93.2L579.4,96.3L579.0,99.4 M582.9,93.7L582.2,95.3L581.1,97.4 M584.0,93.9L584.4,97.7L583.8,102.1 M585.5,94.2L582.3,97.4L579.8,101.2 M587.6,94.9L586.4,96.1L583.7,96.9 M589.2,95.7L586.0,97.7L583.4,100.7 M590.7,96.6L590.0,98.0L590.9,100.0 M591.5,97.0L589.5,100.0L587.9,103.2 M592.9,97.8L589.3,100.9L586.9,103.0 M594.7,98.8L594.6,100.2L592.9,102.8 M596.4,99.8L595.2,104.6L594.9,109.7 M598.0,100.7L598.4,102.3L597.6,103.7 M599.6,101.6L597.5,104.9L594.5,108.0 M600.0,103.3L596.6,104.4L593.3,105.2 M600.3,104.1L596.3,103.2L591.4,101.6 M600.2,105.2L597.3,104.2L595.4,101.8 M598.0,106.8L595.4,103.6L592.4,101.6 M596.3,108.0L594.3,103.6L592.1,100.9 M595.2,108.8L595.0,105.0L594.4,101.4 M594.0,109.5L591.8,106.9L588.7,104.1 M591.9,110.5L591.1,109.1L590.8,107.8 M591.3,110.8L590.8,110.4L591.8,108.7 M590.0,111.5L590.2,108.8L589.3,107.1 M587.9,112.3L589.8,108.5L591.2,105.7 M585.9,112.6L584.9,108.6L584.8,104.2 M586.7,113.2L586.3,116.6L586.0,119.3 M588.0,113.6L586.4,115.7L585.7,117.8 M589.9,114.3L586.0,116.1L583.0,119.1 M590.6,114.5L590.0,115.5L588.9,118.0 M593.4,115.3L594.2,116.7L595.1,119.6 M594.5,115.6L592.2,118.9L589.2,121.6 M596.3,116.0L595.0,117.8L593.9,118.7 M598.0,116.5L596.9,120.2L596.6,123.0" fill="none" stroke="#6fb2e8" stroke-width="0.8" stroke-linecap="round"/><g fill="#ece9f5" stroke="#6fb2e8" stroke-width="0.7"><ellipse cx="406.6" cy="404.3" rx="2.2" ry="1.4" transform="rotate(-69 406.6 404.3)"/><ellipse cx="405.8" cy="402.2" rx="1.6" ry="1.1" transform="rotate(-22 405.8 402.2)"/><ellipse cx="400.9" cy="398.6" rx="2.4" ry="1.6" transform="rotate(-53 400.9 398.6)"/><ellipse cx="396.7" cy="399.7" rx="1.1" ry="0.7" transform="rotate(-68 396.7 399.7)"/><ellipse cx="394.2" cy="394.3" rx="2.9" ry="1.9" transform="rotate(-43 394.2 394.3)"/><ellipse cx="392.3" cy="390.3" rx="1.9" ry="1.3" transform="rotate(-49 392.3 390.3)"/><ellipse cx="390.7" cy="390.7" rx="2.6" ry="1.7" transform="rotate(-65 390.7 390.7)"/><ellipse cx="390.0" cy="385.0" rx="1.8" ry="1.2" transform="rotate(-21 390.0 385.0)"/><ellipse cx="388.0" cy="384.8" rx="2.6" ry="1.7" transform="rotate(-31 388.0 384.8)"/><ellipse cx="388.8" cy="383.8" rx="1.6" ry="1.1" transform="rotate(-23 388.8 383.8)"/><ellipse cx="386.5" cy="373.4" rx="1.9" ry="1.2" transform="rotate(-39 386.5 373.4)"/><ellipse cx="386.4" cy="372.0" rx="2.3" ry="1.5" transform="rotate(-68 386.4 372.0)"/><ellipse cx="388.2" cy="371.2" rx="1.8" ry="1.2" transform="rotate(-39 388.2 371.2)"/><ellipse cx="386.8" cy="370.7" rx="1.8" ry="1.2" transform="rotate(-68 386.8 370.7)"/><ellipse cx="385.7" cy="368.0" rx="2.9" ry="2.0" transform="rotate(-40 385.7 368.0)"/><ellipse cx="387.3" cy="364.4" rx="2.9" ry="1.9" transform="rotate(-24 387.3 364.4)"/><ellipse cx="382.4" cy="363.2" rx="2.0" ry="1.3" transform="rotate(-64 382.4 363.2)"/><ellipse cx="383.8" cy="360.4" rx="2.6" ry="1.7" transform="rotate(-58 383.8 360.4)"/><ellipse cx="384.0" cy="358.9" rx="1.3" ry="0.9" transform="rotate(-32 384.0 358.9)"/><ellipse cx="385.9" cy="357.0" rx="1.1" ry="0.7" transform="rotate(-57 385.9 357.0)"/><ellipse cx="386.3" cy="348.7" rx="1.2" ry="0.8" transform="rotate(-58 386.3 348.7)"/><ellipse cx="382.9" cy="342.7" rx="2.3" ry="1.5" transform="rotate(-68 382.9 342.7)"/><ellipse cx="381.3" cy="337.9" rx="2.4" ry="1.6" transform="rotate(-62 381.3 337.9)"/><ellipse cx="383.1" cy="338.2" rx="2.1" ry="1.4" transform="rotate(-63 383.1 338.2)"/><ellipse cx="382.1" cy="334.7" rx="2.6" ry="1.7" transform="rotate(-69 382.1 334.7)"/><ellipse cx="387.1" cy="332.8" rx="2.7" ry="1.8" transform="rotate(-63 387.1 332.8)"/><ellipse cx="384.7" cy="330.7" rx="2.3" ry="1.5" transform="rotate(-30 384.7 330.7)"/><ellipse cx="388.4" cy="324.0" rx="1.5" ry="1.0" transform="rotate(-56 388.4 324.0)"/><ellipse cx="387.8" cy="321.9" rx="1.2" ry="0.8" transform="rotate(-50 387.8 321.9)"/><ellipse cx="387.9" cy="317.5" rx="2.1" ry="1.4" transform="rotate(-52 387.9 317.5)"/><ellipse cx="386.1" cy="313.3" rx="1.2" ry="0.8" transform="rotate(-57 386.1 313.3)"/><ellipse cx="386.8" cy="311.1" rx="1.2" ry="0.8" transform="rotate(-54 386.8 311.1)"/><ellipse cx="389.8" cy="311.4" rx="2.2" ry="1.4" transform="rotate(-51 389.8 311.4)"/><ellipse cx="390.2" cy="304.0" rx="2.4" ry="1.6" transform="rotate(-68 390.2 304.0)"/><ellipse cx="391.2" cy="304.1" rx="2.3" ry="1.6" transform="rotate(-32 391.2 304.1)"/><ellipse cx="395.3" cy="303.1" rx="1.6" ry="1.1" transform="rotate(-67 395.3 303.1)"/><ellipse cx="395.4" cy="299.4" rx="1.5" ry="1.0" transform="rotate(-49 395.4 299.4)"/><ellipse cx="399.7" cy="298.3" rx="2.1" ry="1.4" transform="rotate(-22 399.7 298.3)"/><ellipse cx="401.4" cy="296.6" rx="1.7" ry="1.2" transform="rotate(-32 401.4 296.6)"/><ellipse cx="405.1" cy="295.1" rx="2.8" ry="1.9" transform="rotate(-60 405.1 295.1)"/><ellipse cx="407.1" cy="292.1" rx="1.8" ry="1.2" transform="rotate(-46 407.1 292.1)"/><ellipse cx="410.1" cy="287.8" rx="2.9" ry="1.9" transform="rotate(-56 410.1 287.8)"/><ellipse cx="411.1" cy="286.4" rx="2.1" ry="1.4" transform="rotate(-50 411.1 286.4)"/><ellipse cx="414.6" cy="291.3" rx="2.5" ry="1.6" transform="rotate(-49 414.6 291.3)"/><ellipse cx="420.4" cy="286.1" rx="1.2" ry="0.8" transform="rotate(-62 420.4 286.1)"/><ellipse cx="422.5" cy="283.8" rx="1.8" ry="1.2" transform="rotate(-47 422.5 283.8)"/><ellipse cx="424.6" cy="283.0" rx="2.4" ry="1.6" transform="rotate(-45 424.6 283.0)"/><ellipse cx="425.9" cy="281.5" rx="2.5" ry="1.7" transform="rotate(-24 425.9 281.5)"/><ellipse cx="425.4" cy="281.4" rx="2.1" ry="1.4" transform="rotate(-67 425.4 281.4)"/><ellipse cx="427.3" cy="279.0" rx="1.8" ry="1.2" transform="rotate(-23 427.3 279.0)"/><ellipse cx="428.3" cy="279.6" rx="1.8" ry="1.2" transform="rotate(-44 428.3 279.6)"/><ellipse cx="430.1" cy="278.1" rx="2.0" ry="1.4" transform="rotate(-67 430.1 278.1)"/><ellipse cx="433.2" cy="273.1" rx="1.6" ry="1.1" transform="rotate(-37 433.2 273.1)"/><ellipse cx="436.6" cy="272.6" rx="2.9" ry="1.9" transform="rotate(-68 436.6 272.6)"/><ellipse cx="435.9" cy="268.5" rx="2.0" ry="1.3" transform="rotate(-41 435.9 268.5)"/><ellipse cx="438.6" cy="267.2" rx="1.2" ry="0.8" transform="rotate(-45 438.6 267.2)"/><ellipse cx="439.4" cy="264.8" rx="2.1" ry="1.4" transform="rotate(-34 439.4 264.8)"/><ellipse cx="441.3" cy="260.8" rx="1.2" ry="0.8" transform="rotate(-66 441.3 260.8)"/><ellipse cx="445.7" cy="258.6" rx="2.1" ry="1.4" transform="rotate(-70 445.7 258.6)"/><ellipse cx="448.0" cy="257.4" rx="2.2" ry="1.5" transform="rotate(-59 448.0 257.4)"/><ellipse cx="448.0" cy="254.6" rx="2.5" ry="1.6" transform="rotate(-67 448.0 254.6)"/><ellipse cx="450.8" cy="254.0" rx="2.8" ry="1.9" transform="rotate(-47 450.8 254.0)"/><ellipse cx="448.4" cy="252.2" rx="2.3" ry="1.5" transform="rotate(-37 448.4 252.2)"/><ellipse cx="447.0" cy="249.0" rx="2.0" ry="1.3" transform="rotate(-43 447.0 249.0)"/><ellipse cx="451.0" cy="248.1" rx="1.3" ry="0.9" transform="rotate(-32 451.0 248.1)"/><ellipse cx="450.4" cy="244.4" rx="2.5" ry="1.6" transform="rotate(-57 450.4 244.4)"/><ellipse cx="451.2" cy="242.7" rx="1.4" ry="0.9" transform="rotate(-23 451.2 242.7)"/><ellipse cx="456.9" cy="243.7" rx="1.3" ry="0.8" transform="rotate(-44 456.9 243.7)"/><ellipse cx="455.0" cy="242.1" rx="2.1" ry="1.4" transform="rotate(-48 455.0 242.1)"/><ellipse cx="454.5" cy="239.8" rx="2.8" ry="1.9" transform="rotate(-54 454.5 239.8)"/><ellipse cx="458.9" cy="239.3" rx="2.0" ry="1.4" transform="rotate(-56 458.9 239.3)"/><ellipse cx="460.3" cy="239.2" rx="1.3" ry="0.8" transform="rotate(-20 460.3 239.2)"/><ellipse cx="461.6" cy="236.9" rx="2.5" ry="1.7" transform="rotate(-53 461.6 236.9)"/><ellipse cx="461.4" cy="234.4" rx="1.9" ry="1.2" transform="rotate(-49 461.4 234.4)"/><ellipse cx="458.2" cy="232.7" rx="2.3" ry="1.6" transform="rotate(-49 458.2 232.7)"/><ellipse cx="464.2" cy="230.3" rx="1.5" ry="1.0" transform="rotate(-29 464.2 230.3)"/><ellipse cx="461.5" cy="228.1" rx="2.0" ry="1.4" transform="rotate(-48 461.5 228.1)"/><ellipse cx="460.6" cy="226.0" rx="2.7" ry="1.8" transform="rotate(-63 460.6 226.0)"/><ellipse cx="461.1" cy="225.2" rx="1.1" ry="0.7" transform="rotate(-30 461.1 225.2)"/><ellipse cx="464.2" cy="220.1" rx="1.2" ry="0.8" transform="rotate(-59 464.2 220.1)"/><ellipse cx="463.5" cy="218.6" rx="1.5" ry="1.0" transform="rotate(-50 463.5 218.6)"/><ellipse cx="468.6" cy="214.9" rx="2.4" ry="1.6" transform="rotate(-32 468.6 214.9)"/><ellipse cx="469.7" cy="213.2" rx="2.9" ry="1.9" transform="rotate(-28 469.7 213.2)"/><ellipse cx="469.5" cy="210.8" rx="2.6" ry="1.7" transform="rotate(-47 469.5 210.8)"/><ellipse cx="468.3" cy="207.7" rx="2.6" ry="1.8" transform="rotate(-66 468.3 207.7)"/><ellipse cx="471.8" cy="204.2" rx="1.5" ry="1.0" transform="rotate(-55 471.8 204.2)"/><ellipse cx="470.6" cy="200.7" rx="1.5" ry="1.0" transform="rotate(-36 470.6 200.7)"/><ellipse cx="472.0" cy="198.8" rx="1.6" ry="1.1" transform="rotate(-57 472.0 198.8)"/><ellipse cx="476.1" cy="198.7" rx="1.8" ry="1.2" transform="rotate(-49 476.1 198.7)"/><ellipse cx="476.8" cy="194.3" rx="1.2" ry="0.8" transform="rotate(-39 476.8 194.3)"/><ellipse cx="476.9" cy="195.1" rx="2.7" ry="1.8" transform="rotate(-39 476.9 195.1)"/><ellipse cx="477.1" cy="192.2" rx="2.9" ry="1.9" transform="rotate(-23 477.1 192.2)"/><ellipse cx="481.7" cy="190.8" rx="2.2" ry="1.5" transform="rotate(-47 481.7 190.8)"/><ellipse cx="480.8" cy="189.7" rx="2.6" ry="1.7" transform="rotate(-55 480.8 189.7)"/><ellipse cx="483.0" cy="187.3" rx="1.5" ry="1.0" transform="rotate(-21 483.0 187.3)"/><ellipse cx="480.4" cy="184.3" rx="1.2" ry="0.8" transform="rotate(-65 480.4 184.3)"/><ellipse cx="484.8" cy="184.1" rx="1.4" ry="0.9" transform="rotate(-34 484.8 184.1)"/><ellipse cx="486.6" cy="182.8" rx="1.3" ry="0.9" transform="rotate(-66 486.6 182.8)"/><ellipse cx="489.2" cy="177.6" rx="1.5" ry="1.0" transform="rotate(-37 489.2 177.6)"/><ellipse cx="488.1" cy="175.9" rx="2.0" ry="1.3" transform="rotate(-26 488.1 175.9)"/><ellipse cx="491.6" cy="174.4" rx="2.0" ry="1.3" transform="rotate(-44 491.6 174.4)"/><ellipse cx="491.7" cy="172.8" rx="2.3" ry="1.5" transform="rotate(-63 491.7 172.8)"/><ellipse cx="491.2" cy="170.2" rx="1.6" ry="1.1" transform="rotate(-62 491.2 170.2)"/><ellipse cx="492.8" cy="169.3" rx="2.4" ry="1.6" transform="rotate(-34 492.8 169.3)"/><ellipse cx="494.3" cy="167.0" rx="2.4" ry="1.6" transform="rotate(-52 494.3 167.0)"/><ellipse cx="494.6" cy="162.0" rx="3.0" ry="2.0" transform="rotate(-54 494.6 162.0)"/><ellipse cx="497.3" cy="159.5" rx="2.0" ry="1.3" transform="rotate(-39 497.3 159.5)"/><ellipse cx="497.8" cy="159.1" rx="1.7" ry="1.1" transform="rotate(-32 497.8 159.1)"/><ellipse cx="502.3" cy="156.2" rx="2.4" ry="1.6" transform="rotate(-42 502.3 156.2)"/><ellipse cx="503.1" cy="154.6" rx="2.5" ry="1.7" transform="rotate(-23 503.1 154.6)"/><ellipse cx="502.0" cy="152.6" rx="2.6" ry="1.7" transform="rotate(-65 502.0 152.6)"/><ellipse cx="504.5" cy="147.0" rx="3.0" ry="2.0" transform="rotate(-42 504.5 147.0)"/><ellipse cx="504.0" cy="146.4" rx="2.6" ry="1.7" transform="rotate(-58 504.0 146.4)"/><ellipse cx="506.5" cy="146.0" rx="1.8" ry="1.2" transform="rotate(-63 506.5 146.0)"/><ellipse cx="508.7" cy="145.6" rx="1.5" ry="1.0" transform="rotate(-27 508.7 145.6)"/><ellipse cx="508.4" cy="143.1" rx="2.9" ry="1.9" transform="rotate(-37 508.4 143.1)"/><ellipse cx="512.1" cy="143.6" rx="1.9" ry="1.3" transform="rotate(-25 512.1 143.6)"/><ellipse cx="517.4" cy="138.1" rx="1.6" ry="1.0" transform="rotate(-49 517.4 138.1)"/><ellipse cx="517.0" cy="134.4" rx="1.5" ry="1.0" transform="rotate(-64 517.0 134.4)"/><ellipse cx="517.1" cy="134.4" rx="2.8" ry="1.8" transform="rotate(-24 517.1 134.4)"/><ellipse cx="520.1" cy="134.7" rx="2.0" ry="1.3" transform="rotate(-36 520.1 134.7)"/><ellipse cx="523.3" cy="131.6" rx="1.5" ry="1.0" transform="rotate(-69 523.3 131.6)"/><ellipse cx="522.2" cy="124.2" rx="2.1" ry="1.4" transform="rotate(-37 522.2 124.2)"/><ellipse cx="526.8" cy="123.1" rx="1.3" ry="0.9" transform="rotate(-22 526.8 123.1)"/><ellipse cx="528.6" cy="121.9" rx="1.3" ry="0.9" transform="rotate(-29 528.6 121.9)"/><ellipse cx="527.2" cy="118.6" rx="1.1" ry="0.7" transform="rotate(-40 527.2 118.6)"/><ellipse cx="527.7" cy="117.2" rx="2.1" ry="1.4" transform="rotate(-40 527.7 117.2)"/><ellipse cx="530.9" cy="116.6" rx="1.1" ry="0.7" transform="rotate(-61 530.9 116.6)"/><ellipse cx="531.1" cy="116.4" rx="1.9" ry="1.3" transform="rotate(-26 531.1 116.4)"/><ellipse cx="535.1" cy="112.1" rx="1.4" ry="0.9" transform="rotate(-25 535.1 112.1)"/><ellipse cx="537.8" cy="110.3" rx="2.2" ry="1.5" transform="rotate(-63 537.8 110.3)"/><ellipse cx="536.3" cy="108.1" rx="2.4" ry="1.6" transform="rotate(-54 536.3 108.1)"/><ellipse cx="536.8" cy="104.6" rx="2.7" ry="1.8" transform="rotate(-28 536.8 104.6)"/><ellipse cx="541.0" cy="108.1" rx="2.0" ry="1.3" transform="rotate(-56 541.0 108.1)"/><ellipse cx="540.9" cy="102.3" rx="1.6" ry="1.0" transform="rotate(-53 540.9 102.3)"/><ellipse cx="547.3" cy="101.7" rx="1.6" ry="1.1" transform="rotate(-57 547.3 101.7)"/><ellipse cx="545.3" cy="99.6" rx="2.9" ry="1.9" transform="rotate(-24 545.3 99.6)"/><ellipse cx="549.1" cy="99.7" rx="2.8" ry="1.8" transform="rotate(-35 549.1 99.7)"/><ellipse cx="550.7" cy="100.7" rx="2.9" ry="1.9" transform="rotate(-36 550.7 100.7)"/><ellipse cx="549.7" cy="95.2" rx="1.6" ry="1.1" transform="rotate(-37 549.7 95.2)"/><ellipse cx="552.8" cy="98.4" rx="2.1" ry="1.4" transform="rotate(-57 552.8 98.4)"/><ellipse cx="553.9" cy="96.1" rx="2.7" ry="1.8" transform="rotate(-37 553.9 96.1)"/><ellipse cx="557.5" cy="94.0" rx="2.6" ry="1.7" transform="rotate(-38 557.5 94.0)"/><ellipse cx="557.0" cy="94.0" rx="2.9" ry="1.9" transform="rotate(-40 557.0 94.0)"/><ellipse cx="559.4" cy="93.0" rx="2.2" ry="1.5" transform="rotate(-51 559.4 93.0)"/><ellipse cx="562.6" cy="93.0" rx="1.7" ry="1.1" transform="rotate(-58 562.6 93.0)"/><ellipse cx="566.8" cy="92.8" rx="2.4" ry="1.6" transform="rotate(-57 566.8 92.8)"/><ellipse cx="566.4" cy="93.5" rx="1.4" ry="1.0" transform="rotate(-31 566.4 93.5)"/><ellipse cx="566.6" cy="88.2" rx="1.9" ry="1.3" transform="rotate(-35 566.6 88.2)"/><ellipse cx="569.8" cy="89.5" rx="2.4" ry="1.6" transform="rotate(-48 569.8 89.5)"/><ellipse cx="573.0" cy="89.6" rx="2.6" ry="1.7" transform="rotate(-34 573.0 89.6)"/><ellipse cx="576.7" cy="85.7" rx="2.4" ry="1.6" transform="rotate(-29 576.7 85.7)"/><ellipse cx="577.6" cy="89.8" rx="2.3" ry="1.5" transform="rotate(-26 577.6 89.8)"/><ellipse cx="579.7" cy="90.4" rx="2.4" ry="1.6" transform="rotate(-21 579.7 90.4)"/><ellipse cx="583.9" cy="91.5" rx="3.0" ry="2.0" transform="rotate(-49 583.9 91.5)"/><ellipse cx="585.3" cy="91.8" rx="1.3" ry="0.9" transform="rotate(-63 585.3 91.8)"/><ellipse cx="589.9" cy="91.0" rx="1.9" ry="1.3" transform="rotate(-35 589.9 91.0)"/><ellipse cx="591.3" cy="89.8" rx="1.7" ry="1.1" transform="rotate(-48 591.3 89.8)"/><ellipse cx="595.0" cy="90.8" rx="1.4" ry="1.0" transform="rotate(-31 595.0 90.8)"/><ellipse cx="594.5" cy="96.5" rx="1.6" ry="1.1" transform="rotate(-51 594.5 96.5)"/><ellipse cx="599.6" cy="95.2" rx="2.0" ry="1.3" transform="rotate(-45 599.6 95.2)"/><ellipse cx="602.0" cy="98.9" rx="1.1" ry="0.7" transform="rotate(-38 602.0 98.9)"/><ellipse cx="604.1" cy="109.6" rx="1.1" ry="0.7" transform="rotate(-61 604.1 109.6)"/><ellipse cx="597.5" cy="110.0" rx="2.9" ry="1.9" transform="rotate(-36 597.5 110.0)"/><ellipse cx="599.8" cy="113.3" rx="2.6" ry="1.8" transform="rotate(-38 599.8 113.3)"/><ellipse cx="595.6" cy="112.1" rx="2.5" ry="1.7" transform="rotate(-55 595.6 112.1)"/><ellipse cx="592.6" cy="111.7" rx="1.4" ry="0.9" transform="rotate(-53 592.6 111.7)"/><ellipse cx="592.1" cy="112.7" rx="1.2" ry="0.8" transform="rotate(-43 592.1 112.7)"/><ellipse cx="592.3" cy="116.3" rx="1.5" ry="1.0" transform="rotate(-27 592.3 116.3)"/><ellipse cx="588.3" cy="115.6" rx="3.0" ry="2.0" transform="rotate(-36 588.3 115.6)"/><ellipse cx="586.1" cy="115.1" rx="1.1" ry="0.7" transform="rotate(-52 586.1 115.1)"/><ellipse cx="588.0" cy="109.4" rx="2.4" ry="1.6" transform="rotate(-49 588.0 109.4)"/><ellipse cx="587.7" cy="112.1" rx="2.5" ry="1.7" transform="rotate(-29 587.7 112.1)"/><ellipse cx="591.0" cy="108.7" rx="1.3" ry="0.9" transform="rotate(-25 591.0 108.7)"/><ellipse cx="591.9" cy="110.5" rx="2.6" ry="1.7" transform="rotate(-29 591.9 110.5)"/><ellipse cx="596.0" cy="110.0" rx="2.7" ry="1.8" transform="rotate(-46 596.0 110.0)"/></g><g fill="#ece9f5" stroke="#6fb2e8" stroke-width="0.8"><ellipse cx="724.5" cy="814.3" rx="2.2" ry="1.4" transform="rotate(44 724.5 814.3)"/><ellipse cx="737.3" cy="881.0" rx="2.0" ry="1.3" transform="rotate(-19 737.3 881.0)"/><ellipse cx="740.5" cy="863.9" rx="2.7" ry="1.7" transform="rotate(-50 740.5 863.9)"/><ellipse cx="719.7" cy="840.3" rx="4.4" ry="2.7" transform="rotate(24 719.7 840.3)"/><ellipse cx="761.0" cy="870.9" rx="2.7" ry="1.7" transform="rotate(1 761.0 870.9)"/><ellipse cx="760.0" cy="858.2" rx="2.7" ry="1.7" transform="rotate(-50 760.0 858.2)"/><ellipse cx="708.8" cy="803.9" rx="3.5" ry="2.2" transform="rotate(23 708.8 803.9)"/><ellipse cx="728.5" cy="876.7" rx="1.9" ry="1.2" transform="rotate(14 728.5 876.7)"/><ellipse cx="722.1" cy="869.4" rx="4.0" ry="2.5" transform="rotate(-76 722.1 869.4)"/><ellipse cx="712.6" cy="805.3" rx="2.2" ry="1.4" transform="rotate(-75 712.6 805.3)"/><ellipse cx="707.9" cy="814.1" rx="2.8" ry="1.8" transform="rotate(5 707.9 814.1)"/><ellipse cx="710.9" cy="836.9" rx="2.4" ry="1.5" transform="rotate(63 710.9 836.9)"/><ellipse cx="748.4" cy="840.1" rx="2.3" ry="1.4" transform="rotate(-16 748.4 840.1)"/><ellipse cx="727.0" cy="794.3" rx="3.6" ry="2.3" transform="rotate(-13 727.0 794.3)"/><ellipse cx="719.7" cy="863.9" rx="2.3" ry="1.5" transform="rotate(-68 719.7 863.9)"/><ellipse cx="742.8" cy="859.9" rx="1.6" ry="1.0" transform="rotate(-25 742.8 859.9)"/><ellipse cx="721.6" cy="790.0" rx="2.3" ry="1.4" transform="rotate(14 721.6 790.0)"/><ellipse cx="691.2" cy="814.2" rx="2.6" ry="1.6" transform="rotate(-71 691.2 814.2)"/><ellipse cx="700.0" cy="809.7" rx="2.1" ry="1.3" transform="rotate(-47 700.0 809.7)"/><ellipse cx="729.2" cy="790.2" rx="3.8" ry="2.4" transform="rotate(65 729.2 790.2)"/><ellipse cx="697.8" cy="857.5" rx="1.7" ry="1.0" transform="rotate(44 697.8 857.5)"/><ellipse cx="712.0" cy="877.6" rx="2.3" ry="1.4" transform="rotate(38 712.0 877.6)"/><ellipse cx="729.6" cy="802.5" rx="2.9" ry="1.8" transform="rotate(-11 729.6 802.5)"/><ellipse cx="699.0" cy="837.8" rx="3.1" ry="1.9" transform="rotate(32 699.0 837.8)"/><ellipse cx="715.6" cy="845.7" rx="2.0" ry="1.3" transform="rotate(4 715.6 845.7)"/><ellipse cx="706.6" cy="865.4" rx="2.0" ry="1.3" transform="rotate(-33 706.6 865.4)"/><ellipse cx="691.3" cy="809.4" rx="3.1" ry="1.9" transform="rotate(-43 691.3 809.4)"/><ellipse cx="712.9" cy="799.8" rx="2.7" ry="1.7" transform="rotate(55 712.9 799.8)"/><ellipse cx="734.1" cy="813.5" rx="3.0" ry="1.9" transform="rotate(-71 734.1 813.5)"/><ellipse cx="746.4" cy="871.5" rx="4.2" ry="2.6" transform="rotate(53 746.4 871.5)"/><ellipse cx="743.2" cy="867.5" rx="2.3" ry="1.5" transform="rotate(10 743.2 867.5)"/><ellipse cx="704.1" cy="872.2" rx="3.3" ry="2.1" transform="rotate(20 704.1 872.2)"/><ellipse cx="710.0" cy="840.6" rx="2.1" ry="1.3" transform="rotate(32 710.0 840.6)"/><ellipse cx="727.9" cy="798.0" rx="1.8" ry="1.1" transform="rotate(-54 727.9 798.0)"/><ellipse cx="612" cy="829" rx="4" ry="2" transform="rotate(40 612 829)"/><ellipse cx="618" cy="838" rx="3.5" ry="1.8" transform="rotate(30 618 838)"/><ellipse cx="627" cy="846" rx="3" ry="1.5" transform="rotate(10 627 846)"/><ellipse cx="535" cy="727" rx="6" ry="1.2" transform="rotate(38 535 727)"/><ellipse cx="545" cy="736" rx="7" ry="1.2" transform="rotate(36 545 736)"/><ellipse cx="552" cy="744" rx="6" ry="1.1" transform="rotate(35 552 744)"/><ellipse cx="560" cy="750" rx="5" ry="1.0" transform="rotate(30 560 750)"/><ellipse cx="512" cy="697" rx="5" ry="1.2" transform="rotate(55 512 697)"/><ellipse cx="518" cy="706" rx="5" ry="1.1" transform="rotate(50 518 706)"/><ellipse cx="525" cy="715" rx="4" ry="1" transform="rotate(45 525 715)"/><ellipse cx="573" cy="757" rx="4" ry="1" transform="rotate(25 573 757)"/></g><g fill="#dbeffc" stroke="#6fb2e8" stroke-width="0.6"><ellipse cx="532.8" cy="230.4" rx="2.2" ry="0.7" transform="rotate(-47 532.8 230.4)"/><ellipse cx="479.9" cy="289.9" rx="3.3" ry="1.3" transform="rotate(-30 479.9 289.9)"/><ellipse cx="477.2" cy="392.0" rx="3.9" ry="1.1" transform="rotate(-53 477.2 392.0)"/><ellipse cx="512.5" cy="175.0" rx="2.7" ry="1.3" transform="rotate(-48 512.5 175.0)"/><ellipse cx="618.1" cy="243.7" rx="2.5" ry="0.6" transform="rotate(33 618.1 243.7)"/><ellipse cx="605.9" cy="184.0" rx="0.8" ry="0.5" transform="rotate(31 605.9 184.0)"/><ellipse cx="651.2" cy="257.0" rx="1.2" ry="0.7" transform="rotate(78 651.2 257.0)"/><ellipse cx="530.1" cy="174.1" rx="2.7" ry="1.1" transform="rotate(-47 530.1 174.1)"/><ellipse cx="579.4" cy="262.1" rx="2.9" ry="0.9" transform="rotate(72 579.4 262.1)"/><ellipse cx="604.8" cy="252.9" rx="2.8" ry="0.9" transform="rotate(36 604.8 252.9)"/><ellipse cx="645.7" cy="260.6" rx="2.1" ry="1.2" transform="rotate(74 645.7 260.6)"/><ellipse cx="487.7" cy="234.9" rx="2.0" ry="1.2" transform="rotate(-59 487.7 234.9)"/><ellipse cx="486.4" cy="380.5" rx="3.2" ry="1.2" transform="rotate(-40 486.4 380.5)"/><ellipse cx="506.0" cy="339.0" rx="4.6" ry="1.3" transform="rotate(-49 506.0 339.0)"/><ellipse cx="636.1" cy="271.3" rx="1.9" ry="0.6" transform="rotate(32 636.1 271.3)"/><ellipse cx="531.3" cy="224.6" rx="3.8" ry="1.4" transform="rotate(-35 531.3 224.6)"/><ellipse cx="635.8" cy="289.8" rx="3.1" ry="0.9" transform="rotate(60 635.8 289.8)"/><ellipse cx="496.4" cy="225.0" rx="3.0" ry="1.1" transform="rotate(-74 496.4 225.0)"/><ellipse cx="522.9" cy="357.0" rx="4.3" ry="1.3" transform="rotate(-56 522.9 357.0)"/><ellipse cx="611.8" cy="320.4" rx="3.5" ry="1.0" transform="rotate(70 611.8 320.4)"/><ellipse cx="572.2" cy="197.5" rx="2.1" ry="1.2" transform="rotate(29 572.2 197.5)"/><ellipse cx="589.6" cy="133.9" rx="2.6" ry="1.3" transform="rotate(62 589.6 133.9)"/><ellipse cx="519.4" cy="264.6" rx="1.9" ry="0.7" transform="rotate(-26 519.4 264.6)"/><ellipse cx="477.4" cy="370.0" rx="2.1" ry="1.0" transform="rotate(-31 477.4 370.0)"/><ellipse cx="492.1" cy="312.1" rx="3.6" ry="1.1" transform="rotate(-63 492.1 312.1)"/><ellipse cx="498.4" cy="309.3" rx="2.3" ry="0.8" transform="rotate(-38 498.4 309.3)"/><ellipse cx="476.2" cy="337.6" rx="3.5" ry="1.4" transform="rotate(-46 476.2 337.6)"/><ellipse cx="578.3" cy="181.2" rx="3.8" ry="1.3" transform="rotate(55 578.3 181.2)"/><ellipse cx="476.6" cy="405.4" rx="1.7" ry="0.6" transform="rotate(-45 476.6 405.4)"/><ellipse cx="471.7" cy="240.0" rx="3.7" ry="1.1" transform="rotate(-28 471.7 240.0)"/><ellipse cx="586.1" cy="327.8" rx="2.2" ry="1.2" transform="rotate(50 586.1 327.8)"/><ellipse cx="586.7" cy="214.5" rx="3.4" ry="1.3" transform="rotate(84 586.7 214.5)"/><ellipse cx="483.0" cy="389.4" rx="5.4" ry="1.4" transform="rotate(-58 483.0 389.4)"/><ellipse cx="475.8" cy="371.4" rx="2.9" ry="1.1" transform="rotate(-68 475.8 371.4)"/><ellipse cx="508.3" cy="390.0" rx="2.2" ry="1.2" transform="rotate(-44 508.3 390.0)"/><ellipse cx="627.4" cy="304.7" rx="4.2" ry="1.1" transform="rotate(98 627.4 304.7)"/><ellipse cx="609.1" cy="308.4" rx="2.8" ry="1.0" transform="rotate(23 609.1 308.4)"/><ellipse cx="507.2" cy="326.6" rx="2.3" ry="0.9" transform="rotate(-33 507.2 326.6)"/><ellipse cx="514.6" cy="302.3" rx="2.7" ry="0.9" transform="rotate(-71 514.6 302.3)"/><ellipse cx="506.1" cy="193.7" rx="3.0" ry="1.2" transform="rotate(-45 506.1 193.7)"/><ellipse cx="520.7" cy="223.2" rx="2.3" ry="1.3" transform="rotate(-69 520.7 223.2)"/><ellipse cx="634.3" cy="253.0" rx="3.2" ry="1.1" transform="rotate(74 634.3 253.0)"/><ellipse cx="484.4" cy="209.1" rx="3.6" ry="1.2" transform="rotate(-26 484.4 209.1)"/><ellipse cx="505.9" cy="233.8" rx="3.3" ry="1.0" transform="rotate(-50 505.9 233.8)"/><ellipse cx="489.1" cy="354.6" rx="2.0" ry="1.2" transform="rotate(-34 489.1 354.6)"/><ellipse cx="471.1" cy="325.3" rx="2.4" ry="1.1" transform="rotate(-71 471.1 325.3)"/><ellipse cx="502.6" cy="306.1" rx="1.2" ry="0.8" transform="rotate(-66 502.6 306.1)"/><ellipse cx="477.2" cy="412.7" rx="2.8" ry="0.8" transform="rotate(-54 477.2 412.7)"/><ellipse cx="567.1" cy="195.5" rx="2.7" ry="1.4" transform="rotate(106 567.1 195.5)"/><ellipse cx="488.5" cy="416.0" rx="3.2" ry="1.1" transform="rotate(-47 488.5 416.0)"/></g><path d="M-738.3,768.3 -714.5,730.8 -690.0,693.5 -664.7,656.6 -638.7,620.1 -612.0,583.9 -584.6,548.0 -556.5,512.5 -527.8,477.4 -498.4,442.7 -468.4,408.3 -437.8,374.4 -406.5,340.8 -374.7,307.7 -342.4,275.0 -309.5,242.7 -276.0,210.9 -242.1,179.5 -207.6,148.7 -172.7,118.2 -137.3,88.3 -101.4,58.8 -65.1,29.9 -28.4,1.5 8.8,-26.5 46.4,-53.8 84.3,-80.7 122.6,-106.9 161.3,-132.6 200.3,-157.8 239.6,-182.3 279.2,-206.2 319.2,-229.6 359.4,-252.3 399.9,-274.4 M-575.6,911.7 -555.8,872.3 -535.3,833.1 -514.1,794.1 -492.3,755.2 -469.9,716.6 -446.8,678.1 -423.0,639.9 -398.7,601.9 -373.8,564.1 -348.3,526.6 -322.3,489.4 -295.7,452.4 -268.5,415.7 -240.9,379.3 -212.7,343.2 -184.0,307.4 -154.9,272.0 -125.2,236.9 -95.1,202.2 -64.5,167.8 -33.5,133.8 -2.1,100.1 29.8,66.9 62.0,34.1 94.7,1.8 127.7,-30.2 161.2,-61.7 194.9,-92.7 229.1,-123.2 263.6,-153.3 298.4,-182.9 333.5,-211.9 368.9,-240.4 404.7,-268.4 M-394.1,1030.0 -378.3,989.2 -361.9,948.5 -344.9,907.8 -327.4,867.2 -309.3,826.6 -290.7,786.1 -271.5,745.7 -251.8,705.4 -231.7,665.3 -211.0,625.3 -189.8,585.4 -168.2,545.6 -146.1,506.1 -123.5,466.7 -100.5,427.5 -77.1,388.5 -53.2,349.7 -28.9,311.2 -4.2,272.9 21.0,234.9 46.5,197.1 72.4,159.6 98.7,122.4 125.3,85.5 152.3,49.0 179.7,12.8 207.4,-23.1 235.5,-58.6 263.9,-93.7 292.6,-128.5 321.6,-162.8 350.9,-196.7 380.6,-230.2 410.5,-263.2 M-198.0,1122.5 -186.1,1080.7 -173.8,1038.8 -161.1,996.9 -147.9,955.0 -134.2,913.0 -120.2,871.0 -105.7,829.0 -90.9,787.0 -75.6,745.0 -59.9,703.0 -43.9,661.1 -27.5,619.3 -10.7,577.5 6.5,535.9 24.0,494.3 41.9,452.8 60.1,411.4 78.7,370.2 97.6,329.2 116.8,288.3 136.3,247.6 156.2,207.1 176.4,166.8 196.9,126.7 217.6,86.8 238.7,47.2 260.1,7.9 281.7,-31.2 303.6,-70.0 325.8,-108.5 348.3,-146.6 371.0,-184.4 394.0,-221.9 417.2,-259.1 M9.0,1188.8 16.9,1146.4 25.1,1103.7 33.6,1061.0 42.4,1018.1 51.5,975.1 60.9,932.1 70.6,888.9 80.6,845.7 90.8,802.5 101.3,759.2 112.1,715.8 123.1,672.5 134.4,629.2 146.0,585.9 157.8,542.6 169.8,499.4 182.1,456.2 194.7,413.1 207.4,370.0 220.4,327.1 233.6,284.3 247.1,241.6 260.7,199.1 274.6,156.7 288.7,114.4 303.0,72.4 317.5,30.5 332.3,-11.2 347.2,-52.6 362.3,-93.8 377.6,-134.7 393.1,-175.4 408.8,-215.9 424.6,-256.0 M223.1,1228.8 227.0,1185.9 231.1,1142.8 235.4,1099.5 239.8,1056.1 244.3,1012.6 249.1,968.9 253.9,925.1 258.9,881.2 264.0,837.1 269.3,793.1 274.7,748.9 280.3,704.7 286.0,660.4 291.8,616.1 297.7,571.9 303.8,527.6 310.0,483.3 316.3,439.0 322.7,394.8 329.2,350.7 335.9,306.6 342.7,262.6 349.6,218.7 356.6,174.9 363.7,131.2 371.0,87.7 378.3,44.3 385.7,1.1 393.3,-42.0 400.9,-84.8 408.7,-127.5 416.5,-169.9 424.5,-212.1 432.5,-254.1 M440.7,1242.1 440.7,1199.1 440.7,1155.8 440.7,1112.4 440.7,1068.8 440.7,1025.1 440.7,981.2 440.7,937.2 440.7,893.0 440.7,848.7 440.7,804.4 440.7,759.9 440.7,715.4 440.7,670.9 440.7,626.3 440.7,581.6 440.7,537.0 440.7,492.4 440.7,447.7 440.7,403.1 440.7,358.6 440.7,314.1 440.7,269.6 440.7,225.3 440.7,181.0 440.7,136.8 440.7,92.8 440.7,48.9 440.7,5.2 440.7,-38.4 440.7,-81.8 440.7,-125.1 440.7,-168.1 440.7,-210.9 440.7,-253.5 M658.3,1228.8 654.4,1185.9 650.3,1142.8 646.0,1099.5 641.6,1056.1 637.1,1012.6 632.3,968.9 627.5,925.1 622.5,881.2 617.4,837.1 612.1,793.1 606.7,748.9 601.1,704.7 595.4,660.4 589.6,616.1 583.7,571.9 577.6,527.6 571.4,483.3 565.1,439.0 558.7,394.8 552.2,350.7 545.5,306.6 538.7,262.6 531.8,218.7 524.8,174.9 517.7,131.2 510.4,87.7 503.1,44.3 495.7,1.1 488.1,-42.0 480.5,-84.8 472.7,-127.5 464.9,-169.9 456.9,-212.1 448.9,-254.1 M872.4,1188.8 864.5,1146.4 856.3,1103.7 847.8,1061.0 839.0,1018.1 829.9,975.1 820.5,932.1 810.8,888.9 800.8,845.7 790.6,802.5 780.1,759.2 769.3,715.8 758.3,672.5 747.0,629.2 735.4,585.9 723.6,542.6 711.6,499.4 699.3,456.2 686.7,413.1 674.0,370.0 661.0,327.1 647.8,284.3 634.3,241.6 620.7,199.1 606.8,156.7 592.7,114.4 578.4,72.4 563.9,30.5 549.1,-11.2 534.2,-52.6 519.1,-93.8 503.8,-134.7 488.3,-175.4 472.6,-215.9 456.8,-256.0 M1079.4,1122.5 1067.5,1080.7 1055.2,1038.8 1042.5,996.9 1029.3,955.0 1015.6,913.0 1001.6,871.0 987.1,829.0 972.3,787.0 957.0,745.0 941.3,703.0 925.3,661.1 908.9,619.3 892.1,577.5 874.9,535.9 857.4,494.3 839.5,452.8 821.3,411.4 802.7,370.2 783.8,329.2 764.6,288.3 745.1,247.6 725.2,207.1 705.0,166.8 684.5,126.7 663.8,86.8 642.7,47.2 621.3,7.9 599.7,-31.2 577.8,-70.0 555.6,-108.5 533.1,-146.6 510.4,-184.4 487.4,-221.9 464.2,-259.1 M1275.5,1030.0 1259.7,989.2 1243.3,948.5 1226.3,907.8 1208.8,867.2 1190.7,826.6 1172.1,786.1 1152.9,745.7 1133.2,705.4 1113.1,665.3 1092.4,625.3 1071.2,585.4 1049.6,545.6 1027.5,506.1 1004.9,466.7 981.9,427.5 958.5,388.5 934.6,349.7 910.3,311.2 885.6,272.9 860.4,234.9 834.9,197.1 809.0,159.6 782.7,122.4 756.1,85.5 729.1,49.0 701.7,12.8 674.0,-23.1 645.9,-58.6 617.5,-93.7 588.8,-128.5 559.8,-162.8 530.5,-196.7 500.8,-230.2 470.9,-263.2 M1457.0,911.7 1437.2,872.3 1416.7,833.1 1395.5,794.1 1373.7,755.2 1351.3,716.6 1328.2,678.1 1304.4,639.9 1280.1,601.9 1255.2,564.1 1229.7,526.6 1203.7,489.4 1177.1,452.4 1149.9,415.7 1122.3,379.3 1094.1,343.2 1065.4,307.4 1036.3,272.0 1006.6,236.9 976.5,202.2 945.9,167.8 914.9,133.8 883.5,100.1 851.6,66.9 819.4,34.1 786.7,1.8 753.7,-30.2 720.2,-61.7 686.5,-92.7 652.3,-123.2 617.8,-153.3 583.0,-182.9 547.9,-211.9 512.5,-240.4 476.7,-268.4 M1619.7,768.3 1595.9,730.8 1571.4,693.5 1546.1,656.6 1520.1,620.1 1493.4,583.9 1466.0,548.0 1437.9,512.5 1409.2,477.4 1379.8,442.7 1349.8,408.3 1319.2,374.4 1287.9,340.8 1256.1,307.7 1223.8,275.0 1190.9,242.7 1157.4,210.9 1123.5,179.5 1089.0,148.7 1054.1,118.2 1018.7,88.3 982.8,58.8 946.5,29.9 909.8,1.5 872.6,-26.5 835.0,-53.8 797.1,-80.7 758.8,-106.9 720.1,-132.6 681.1,-157.8 641.8,-182.3 602.2,-206.2 562.2,-229.6 522.0,-252.3 481.5,-274.4 M1759.2,600.7 1731.6,565.5 1703.1,530.8 1673.9,496.6 1643.8,462.9 1613.1,429.8 1581.6,397.1 1549.4,365.0 1516.6,333.4 1483.1,302.4 1448.9,271.9 1414.1,241.9 1378.7,212.5 1342.8,183.7 1306.3,155.4 1269.2,127.7 1231.6,100.6 1193.5,74.1 1154.9,48.1 1115.8,22.8 1076.3,-2.0 1036.4,-26.1 996.0,-49.6 955.2,-72.5 914.0,-94.8 872.5,-116.4 830.6,-137.4 788.4,-157.7 745.9,-177.4 703.0,-196.4 659.9,-214.7 616.5,-232.3 572.9,-249.3 529.1,-265.5 485.0,-281.0 M1870.8,410.3 1839.4,378.1 1807.2,346.5 1774.2,315.7 1740.4,285.6 1705.9,256.1 1670.7,227.4 1634.9,199.4 1598.3,172.0 1561.2,145.4 1523.4,119.5 1485.0,94.3 1446.1,69.7 1406.6,45.9 1366.6,22.8 1326.1,0.4 1285.1,-21.3 1243.6,-42.3 1201.7,-62.6 1159.4,-82.2 1116.7,-101.0 1073.6,-119.2 1030.1,-136.6 986.3,-153.3 942.2,-169.3 897.7,-184.5 853.0,-199.0 808.0,-212.7 762.8,-225.8 717.3,-238.0 671.6,-249.6 625.7,-260.3 579.7,-270.3 533.5,-279.6 487.1,-288.1 M-989.4,410.3 -959.2,469.7 -926.1,527.2 -890.3,582.7 -852.0,636.1 -811.2,687.5 -768.2,736.7 -723.0,783.8 -675.7,828.6 -626.6,871.3 -575.6,911.7 -522.9,949.9 -468.7,985.7 -413.0,1019.3 -356.0,1050.6 -297.6,1079.5 -238.2,1106.1 -177.7,1130.3 -116.3,1152.2 -54.0,1171.7 9.0,1188.8 72.6,1203.6 136.8,1216.0 201.4,1226.0 266.4,1233.6 331.7,1238.7 397.1,1241.5 462.5,1241.9 527.9,1239.9 593.3,1235.6 658.3,1228.8 723.1,1219.6 787.4,1208.0 851.3,1194.0 914.5,1177.7 977.0,1159.0 1038.7,1137.9 1099.6,1114.4 1159.4,1088.6 1218.0,1060.5 1275.5,1030.0 1331.7,997.2 1386.4,962.1 1439.6,924.7 1491.2,885.0 1541.0,843.1 1588.9,799.0 1634.8,752.6 1678.5,704.1 1720.1,653.5 1759.2,600.7 1795.9,545.9 1829.8,489.1 1861.0,430.3 1889.3,369.6 1914.5,307.1 1936.5,242.8 1955.0,176.8 1970.1,109.2 1981.4,40.1 1988.8,-30.4 M-824.5,256.1 -799.8,310.1 -772.3,362.5 -742.3,413.3 -709.8,462.2 -674.9,509.4 -637.9,554.7 -598.8,598.1 -557.6,639.6 -514.6,679.1 -469.9,716.6 -423.4,752.0 -375.5,785.4 -326.1,816.6 -275.3,845.8 -223.3,872.8 -170.2,897.6 -116.1,920.3 -61.0,940.8 -5.1,959.1 51.5,975.1 108.8,989.0 166.6,1000.6 224.8,1010.0 283.4,1017.1 342.3,1022.0 401.3,1024.6 460.4,1025.0 519.4,1023.1 578.4,1019.0 637.1,1012.6 695.4,1004.0 753.4,993.1 810.9,980.0 867.7,964.7 923.9,947.1 979.2,927.4 1033.7,905.4 1087.2,881.3 1139.5,855.0 1190.7,826.6 1240.5,796.0 1289.0,763.4 1336.0,728.6 1381.3,691.8 1424.9,653.0 1466.7,612.2 1506.5,569.4 1544.2,524.7 1579.8,478.2 1613.1,429.8 1644.0,379.6 1672.3,327.8 1698.0,274.3 1720.9,219.3 1740.9,162.7 1757.9,104.8 1771.7,45.5 1782.2,-14.9 1789.4,-76.5 1793.0,-139.0 M-642.0,119.5 -622.5,166.7 -600.5,212.7 -576.1,257.3 -549.5,300.5 -520.8,342.2 -490.0,382.4 -457.3,421.0 -422.7,457.9 -386.3,493.1 -348.3,526.6 -308.8,558.3 -267.8,588.2 -225.4,616.3 -181.8,642.5 -137.0,666.8 -91.1,689.2 -44.2,709.6 3.5,728.1 52.1,744.6 101.3,759.2 151.2,771.7 201.5,782.2 252.3,790.7 303.4,797.1 354.8,801.5 406.3,803.9 457.9,804.3 509.4,802.6 560.9,798.8 612.1,793.1 663.0,785.2 713.5,775.4 763.5,763.6 813.0,749.7 861.8,733.9 909.8,716.0 957.0,696.2 1003.2,674.5 1048.4,650.8 1092.4,625.3 1135.2,597.8 1176.7,568.5 1216.7,537.4 1255.2,504.5 1292.1,469.8 1327.3,433.5 1360.7,395.5 1392.2,355.8 1421.6,314.6 1448.9,271.9 1474.0,227.7 1496.8,182.2 1517.2,135.4 1535.0,87.3 1550.3,38.1 1562.8,-12.1 1572.5,-63.4 1579.3,-115.4 1583.2,-168.2 1583.9,-221.6 M-444.7,0.4 -430.0,39.7 -413.3,78.1 -394.5,115.5 -373.8,151.8 -351.1,186.9 -326.7,220.8 -300.6,253.5 -272.8,284.8 -243.5,314.7 -212.7,343.2 -180.5,370.3 -147.0,395.8 -112.3,419.8 -76.5,442.3 -39.6,463.1 -1.7,482.4 37.0,499.9 76.6,515.9 116.9,530.1 157.8,542.6 199.3,553.4 241.2,562.5 283.5,569.8 326.2,575.4 369.0,579.2 412.0,581.3 455.1,581.5 498.1,580.1 541.0,576.8 583.7,571.9 626.1,565.1 668.2,556.6 709.9,546.4 751.0,534.4 791.5,520.8 831.3,505.4 870.3,488.4 908.5,469.7 945.7,449.4 981.9,427.5 1017.0,404.0 1050.9,378.9 1083.5,352.4 1114.8,324.4 1144.6,294.9 1172.9,264.1 1199.6,231.9 1224.6,198.4 1247.8,163.6 1269.2,127.7 1288.6,90.7 1306.1,52.6 1321.5,13.6 1334.7,-26.4 1345.6,-67.1 1354.3,-108.6 1360.7,-150.7 1364.6,-193.4 1366.0,-236.5 1364.9,-280.0 M-235.3,-101.0 -225.1,-70.5 -213.2,-40.7 -199.8,-11.5 -184.7,16.8 -168.1,44.4 -150.1,71.0 -130.6,96.7 -109.9,121.5 -87.8,145.2 -64.5,167.8 -40.1,189.3 -14.6,209.6 11.9,228.7 39.4,246.7 67.7,263.4 96.9,278.7 126.8,292.8 157.5,305.6 188.7,317.0 220.4,327.1 252.6,335.8 285.3,343.1 318.2,349.0 351.4,353.5 384.8,356.6 418.3,358.2 451.9,358.5 485.4,357.3 518.9,354.7 552.2,350.7 585.2,345.2 617.9,338.4 650.3,330.2 682.2,320.6 713.6,309.6 744.4,297.3 774.6,283.6 804.0,268.6 832.7,252.4 860.4,234.9 887.3,216.1 913.1,196.2 937.9,175.1 961.6,152.8 984.1,129.5 1005.3,105.1 1025.2,79.7 1043.7,53.4 1060.7,26.1 1076.3,-2.0 1090.3,-30.9 1102.7,-60.5 1113.5,-90.8 1122.5,-121.7 1129.8,-153.1 1135.3,-185.0 1139.0,-217.3 1140.7,-249.9 1140.6,-282.7 1138.5,-315.6 M-16.3,-184.5 -10.1,-163.6 -2.7,-143.1 5.8,-123.0 15.5,-103.4 26.2,-84.3 37.9,-65.8 50.7,-47.9 64.5,-30.7 79.1,-14.1 94.7,1.8 111.1,16.9 128.3,31.2 146.2,44.7 164.9,57.3 184.1,69.1 204.1,80.0 224.5,90.0 245.5,99.1 266.9,107.2 288.7,114.4 310.9,120.6 333.4,125.8 356.1,130.0 379.0,133.2 402.1,135.4 425.2,136.6 448.4,136.8 471.6,135.9 494.7,134.1 517.7,131.2 540.5,127.3 563.0,122.5 585.3,116.6 607.3,109.7 628.8,101.9 650.0,93.2 670.6,83.5 690.7,72.9 710.2,61.4 729.1,49.0 747.2,35.8 764.7,21.7 781.3,6.9 797.2,-8.7 812.1,-25.1 826.2,-42.1 839.3,-59.8 851.4,-78.1 862.5,-97.0 872.5,-116.4 881.4,-136.3 889.2,-156.7 895.8,-177.5 901.2,-198.6 905.4,-220.0 908.4,-241.7 910.0,-263.5 910.5,-285.4 909.6,-307.5 907.4,-329.5 M209.8,-249.6 212.6,-238.9 216.0,-228.4 220.0,-218.1 224.6,-208.0 229.8,-198.1 235.5,-188.5 241.7,-179.2 248.5,-170.3 255.8,-161.6 263.6,-153.3 271.8,-145.4 280.4,-137.9 289.5,-130.7 298.9,-124.1 308.7,-117.8 318.9,-112.0 329.3,-106.7 340.1,-101.9 351.1,-97.6 362.3,-93.8 373.7,-90.5 385.3,-87.7 397.0,-85.5 408.8,-83.8 420.7,-82.6 432.7,-82.0 444.7,-81.9 456.7,-82.3 468.6,-83.3 480.5,-84.8 492.2,-86.9 503.9,-89.5 515.3,-92.6 526.6,-96.3 537.7,-100.4 548.5,-105.1 559.1,-110.2 569.3,-115.8 579.2,-121.9 588.8,-128.5 598.0,-135.4 606.8,-142.8 615.2,-150.6 623.1,-158.8 630.5,-167.3 637.5,-176.2 643.9,-185.4 649.8,-194.9 655.1,-204.7 659.9,-214.7 664.1,-224.9 667.7,-235.4 670.7,-246.0 673.1,-256.7 674.9,-267.6 676.0,-278.6 676.5,-289.6 676.3,-300.6 675.5,-311.7 674.0,-322.7" fill="none" stroke="#b9dde9" stroke-width="0.75" stroke-opacity="0.85"/></g>
<clipPath id="c0"><rect x="86.9" y="77.4" width="973.6" height="834.1"/></clipPath>
<clipPath id="c1"><rect x="1122.8" y="77.4" width="973.6" height="834.1"/></clipPath>
<clipPath id="c2"><rect x="84.0" y="959.4" width="973.6" height="834.1"/></clipPath>
<clipPath id="c3"><rect x="1119.9" y="959.4" width="973.6" height="834.1"/></clipPath>
</defs>
<g clip-path="url(#c0)">
<g transform="matrix(1.0,0,0,1.0,0.0,0.0)">
<use href="#base"/>
<g clip-path="url(#landclip)"><path d="M217.5,477.1 221.8,468.6 227.8,472.0 231.2,474.6 232.0,480.6 231.2,487.4 228.6,494.2 226.1,495.9 224.4,489.1 222.6,482.3 219.2,480.6Z" fill="#d3cde7" stroke="#d3cde7" stroke-width="1.4" stroke-linejoin="round"/>
<path d="M284.1,449.8 289.3,445.5 295.2,446.4 297.8,453.2 299.5,461.8 302.1,467.8 306.3,473.7 309.8,480.6 312.3,488.3 314.0,494.2 308.0,495.9 302.1,497.6 300.4,506.2 297.8,513.0 291.0,514.7 284.1,517.3 280.7,509.6 279.0,501.9 282.4,497.6 285.8,494.2 285.0,487.4 284.1,480.6 285.8,473.7 287.6,470.3 284.1,463.5 283.3,456.7Z" fill="#d3cde7" stroke="#d3cde7" stroke-width="1.4" stroke-linejoin="round"/>
<path d="M279.0,528.4 285.8,525.0 291.0,529.2 297.8,531.0 304.6,528.4 309.8,529.2 313.2,538.6 315.7,540.3 313.2,545.5 306.3,548.0 299.5,546.3 292.7,547.2 287.6,544.6 280.7,542.1 278.2,535.2Z" fill="#d3cde7" stroke="#d3cde7" stroke-width="1.4" stroke-linejoin="round"/>
<path d="M280.7,542.1 287.6,544.6 292.7,547.2 299.5,546.3 306.3,548.0 313.2,545.5 315.7,540.3 318.3,543.8 323.4,545.5 324.3,548.9 320.0,552.3 313.2,554.9 306.3,555.7 299.5,554.9 292.7,554.0 286.7,554.9 280.7,553.2 279.9,547.2Z" fill="#bbacd6" stroke="#bbacd6" stroke-width="1.4" stroke-linejoin="round"/>
<path d="M373.8,509.6 376.4,511.3 374.7,515.6 376.4,519.9 380.6,522.4 384.1,525.0 388.3,524.1 391.7,529.2 398.6,531.8 402.8,533.5 402.0,539.5 398.6,542.9 393.5,540.3 391.7,544.6 394.3,550.6 395.2,557.4 393.5,564.3 394.3,571.1 391.7,573.7 386.6,574.5 383.2,578.8 383.2,584.8 384.1,591.6 382.4,596.7 381.5,603.5 383.2,610.4 384.1,617.2 382.4,622.3 377.2,625.8 378.1,618.9 378.9,612.1 376.4,605.3 374.7,598.4 371.2,593.3 367.8,588.2 364.4,581.3 357.6,578.8 353.3,577.1 359.3,572.8 367.8,568.5 376.4,566.0 381.5,560.8 379.8,554.0 374.7,548.9 367.8,544.6 363.6,542.1 364.4,536.9 367.8,531.8 370.4,525.0 371.2,516.4Z" fill="#2e2672" stroke="#2e2672" stroke-width="1.4" stroke-linejoin="round"/>
<path d="M332.0,563.4 338.8,559.1 347.3,555.7 355.9,552.3 364.4,549.7 374.7,548.9 379.8,554.0 381.5,560.8 376.4,566.0 367.8,568.5 359.3,572.8 353.3,577.1 345.6,575.4 338.8,571.9 334.5,567.7Z" fill="#bbacd6" stroke="#bbacd6" stroke-width="1.4" stroke-linejoin="round"/>
<path d="M384.1,591.6 383.2,584.8 383.2,578.8 386.6,574.5 391.7,573.7 398.6,572.8 405.4,574.5 409.7,576.2 407.1,583.0 403.7,589.9 407.1,595.0 412.2,596.7 408.8,603.5 405.4,610.4 402.0,618.9 398.6,625.8 396.0,630.0 391.7,624.0 386.6,618.9 384.1,617.2 383.2,610.4 381.5,603.5 382.4,596.7Z" fill="#bbacd6" stroke="#bbacd6" stroke-width="1.4" stroke-linejoin="round"/>
<path d="M382.4,509.6 386.6,506.2 393.5,503.6 395.2,509.6 398.6,518.1 402.0,525.0 405.4,530.1 402.8,533.5 398.6,531.8 391.7,529.2 388.3,524.1 384.1,525.0 380.6,522.4 383.2,516.4Z" fill="#d3cde7" stroke="#d3cde7" stroke-width="1.4" stroke-linejoin="round"/>
<path d="M395.2,509.6 396.9,504.5 405.4,500.2 416.0,499.4 416.0,542.1 410.5,540.3 407.1,535.2 405.4,530.1 402.0,525.0 398.6,518.1Z" fill="#bbacd6" stroke="#bbacd6" stroke-width="1.4" stroke-linejoin="round"/>
<path d="M227.8,595.9 234.6,597.6 243.1,599.3 246.6,602.7 239.7,604.4 232.9,601.8Z" fill="#d3cde7" stroke="#d3cde7" stroke-width="1.4" stroke-linejoin="round"/>
<path d="M261.9,608.7 268.8,607.8 279.0,610.4 279.9,615.5 272.2,617.2 265.3,613.8Z" fill="#d3cde7" stroke="#d3cde7" stroke-width="1.4" stroke-linejoin="round"/>
<path d="M416.0,499.4 422.8,502.8 426.2,509.6 424.5,518.1 422.8,525.0 419.4,533.5 416.0,542.1Z" fill="#bbacd6" stroke="#bbacd6" stroke-width="1.4" stroke-linejoin="round"/>
<path d="M433.1,492.5 441.6,495.9 450.2,497.6 457.0,499.4 463.8,495.9 472.4,494.2 480.9,499.4 479.2,506.2 472.4,507.9 470.7,514.7 469.0,521.6 463.8,525.0 457.0,521.6 450.2,518.1 443.3,513.0 438.2,507.9 434.8,501.1Z" fill="#d3cde7" stroke="#d3cde7" stroke-width="1.4" stroke-linejoin="round"/>
<path d="M463.8,495.9 470.7,490.8 477.5,485.7 484.3,484.0 491.2,487.4 492.9,494.2 489.4,502.8 484.3,506.2 479.2,506.2 480.9,499.4 472.4,494.2Z" fill="#d3cde7" stroke="#d3cde7" stroke-width="1.4" stroke-linejoin="round"/>
<path d="M433.1,518.1 439.9,514.7 446.7,519.9 453.6,525.0 458.7,531.8 455.3,536.9 451.9,542.1 448.5,548.9 450.2,557.4 455.3,566.0 458.7,572.8 450.2,574.5 441.6,572.8 433.1,571.1 429.7,562.6 422.8,559.1 417.7,559.1 424.5,552.3 431.4,545.5 433.1,535.2 432.2,526.7Z" fill="#bbacd6" stroke="#bbacd6" stroke-width="1.4" stroke-linejoin="round"/>
<path d="M472.4,507.9 479.2,506.2 484.3,509.6 487.7,516.4 492.9,523.3 498.0,530.1 501.4,536.9 504.8,543.8 509.9,548.9 512.5,555.7 508.2,559.1 504.8,554.0 501.4,547.2 496.3,542.1 489.4,538.6 484.3,533.5 477.5,530.1 472.4,525.0 470.7,519.9 470.7,514.7Z" fill="#bbacd6" stroke="#bbacd6" stroke-width="1.4" stroke-linejoin="round"/>
<path d="M452.7,535.2 458.7,536.9 465.5,539.5 472.4,542.1 475.8,548.9 480.1,552.3 480.9,559.1 477.5,566.0 476.6,574.5 470.7,578.8 465.5,574.5 458.7,569.4 452.7,564.3 457.0,560.8 451.9,555.7 448.5,550.6 450.2,543.8Z" fill="#2e2672" stroke="#2e2672" stroke-width="1.4" stroke-linejoin="round"/>
<path d="M508.2,521.6 515.1,514.7 518.5,506.2 525.3,497.6 532.1,490.8 535.6,494.2 539.0,501.1 545.8,507.9 552.6,513.0 557.8,518.1 561.2,523.3 552.6,523.3 545.8,521.6 542.4,513.0 535.6,511.3 528.7,514.7 521.9,518.1 515.1,525.0 511.7,530.1Z" fill="#d3cde7" stroke="#d3cde7" stroke-width="1.4" stroke-linejoin="round"/>
<path d="M515.1,525.0 521.9,518.1 528.7,514.7 535.6,511.3 542.4,513.0 545.8,521.6 549.2,528.4 552.6,533.5 557.8,538.6 561.2,545.5 562.9,552.3 557.8,548.9 552.6,542.1 547.5,536.9 539.0,538.6 533.9,540.3 528.7,535.2 521.9,530.1Z" fill="#d3cde7" stroke="#d3cde7" stroke-width="1.4" stroke-linejoin="round"/>
<path d="M515.1,533.5 520.2,528.4 525.3,535.2 528.7,542.1 535.6,540.3 542.4,538.6 547.5,536.9 552.6,542.1 557.8,548.9 561.2,555.7 566.3,560.8 571.4,564.3 568.9,571.1 568.0,579.6 570.6,584.8 566.3,588.2 559.5,584.8 552.6,583.0 547.5,577.9 540.7,574.5 535.6,569.4 532.1,562.6 527.0,557.4 523.6,550.6 525.3,545.5 520.2,540.3Z" fill="#474283" stroke="#474283" stroke-width="1.4" stroke-linejoin="round"/>
<path d="M544.1,522.4 552.6,523.3 561.2,524.1 566.3,526.7 569.7,533.5 574.9,540.3 575.7,548.9 577.4,555.7 575.7,562.6 569.7,560.8 564.6,557.4 562.9,552.3 561.2,545.5 557.8,538.6 552.6,533.5 549.2,528.4Z" fill="#2e2672" stroke="#2e2672" stroke-width="1.4" stroke-linejoin="round"/>
<path d="M533.9,477.1 542.4,472.0 550.9,470.3 556.1,473.7 557.8,478.9 559.5,484.0 552.6,484.0 545.8,485.7 539.0,484.0Z" fill="#d3cde7" stroke="#d3cde7" stroke-width="1.4" stroke-linejoin="round"/>
<path d="M559.5,480.6 566.3,477.1 571.4,475.4 573.1,480.6 578.3,482.3 578.3,489.1 580.0,490.8 574.9,489.1 569.7,487.4 564.6,488.3 560.3,485.7Z" fill="#7f69a6" stroke="#7f69a6" stroke-width="1.4" stroke-linejoin="round"/>
<path d="M586.8,484.0 593.6,478.9 602.2,475.4 610.7,477.1 617.6,484.0 622.7,490.8 629.5,495.9 634.6,497.6 629.5,501.1 622.7,506.2 615.8,502.8 609.0,499.4 602.2,501.1 595.3,504.5 591.9,497.6 588.5,490.8Z" fill="#bbacd6" stroke="#bbacd6" stroke-width="1.4" stroke-linejoin="round"/>
<path d="M576.6,497.6 580.8,496.8 584.2,502.8 586.8,507.9 590.2,511.3 595.3,514.7 601.3,517.3 600.5,519.9 593.6,519.0 588.5,515.6 583.4,513.0 578.3,507.9 575.7,502.8Z" fill="#9376ae" stroke="#9376ae" stroke-width="1.4" stroke-linejoin="round"/>
<path d="M609.0,527.5 614.1,525.0 620.1,525.8 622.7,531.8 627.8,538.6 632.9,545.5 633.8,550.6 629.5,554.0 623.5,552.3 618.4,547.2 615.0,540.3 612.4,533.5Z" fill="#a78bc3" stroke="#a78bc3" stroke-width="1.4" stroke-linejoin="round"/>
<path d="M584.2,552.3 590.2,547.2 597.1,542.1 603.9,538.6 609.9,535.2 612.4,533.5 615.0,540.3 618.4,547.2 614.1,550.6 610.7,555.7 609.0,562.6 610.7,571.1 607.3,577.9 603.9,583.0 600.5,588.2 593.6,593.3 588.5,589.9 585.1,583.0 578.3,583.0 571.4,584.8 568.0,579.6 568.9,571.1 571.4,564.3 577.4,561.7 582.5,557.4Z" fill="#bbacd6" stroke="#bbacd6" stroke-width="1.4" stroke-linejoin="round"/>
<path d="M610.7,555.7 614.1,550.6 623.5,552.3 629.5,554.0 636.3,562.6 637.2,571.1 631.2,576.2 626.9,578.8 629.5,584.8 622.7,584.8 615.8,581.3 610.7,577.9 607.3,577.9 610.7,571.1 609.0,562.6Z" fill="#d3cde7" stroke="#d3cde7" stroke-width="1.4" stroke-linejoin="round"/>
<path d="M480.1,583.0 487.7,579.6 496.3,576.2 504.8,574.5 511.7,581.3 520.2,584.8 528.7,586.5 525.3,593.3 520.2,600.1 518.5,608.7 509.9,612.9 501.4,607.0 494.6,600.1 487.7,593.3 482.6,588.2Z" fill="#d3cde7" stroke="#d3cde7" stroke-width="1.4" stroke-linejoin="round"/>
<path d="M668.8,598.4 675.6,597.6 682.5,601.8 689.3,608.7 696.1,615.5 701.2,622.3 703.8,629.2 699.5,630.9 694.4,624.0 687.6,618.9 680.8,613.8 673.9,608.7 668.8,603.5Z" fill="#bbacd6" stroke="#bbacd6" stroke-width="1.4" stroke-linejoin="round"/>
<path d="M638.9,618.9 646.6,615.5 655.1,616.4 663.7,615.5 668.8,617.2 667.9,624.0 662.0,629.2 655.1,634.3 648.3,639.4 641.5,641.1 639.8,632.6 638.9,625.8Z" fill="#bbacd6" stroke="#bbacd6" stroke-width="1.4" stroke-linejoin="round"/>
<path d="M662.0,629.2 668.8,624.9 677.3,624.0 681.6,629.2 679.9,636.0 675.6,642.8 672.2,646.1 643.2,646.1 648.3,639.4 655.1,634.3Z" fill="#d3cde7" stroke="#d3cde7" stroke-width="1.4" stroke-linejoin="round"/>
<path d="M461.3,361.0 472.4,361.0 474.9,367.8 474.1,376.4 472.4,386.6 473.2,393.5 476.6,393.5 475.8,400.3 472.4,405.4 467.2,407.1 466.4,400.3 467.2,393.5 465.5,384.9 463.0,376.4 460.4,367.8Z" fill="#d3cde7" stroke="#d3cde7" stroke-width="1.4" stroke-linejoin="round"/>
<path d="M496.3,391.7 501.4,389.2 508.2,387.5 515.1,386.6 516.8,390.0 521.9,393.5 522.8,400.3 520.2,403.7 516.8,402.0 514.2,407.1 508.2,408.8 501.4,408.0 494.6,408.8 493.7,403.7 495.4,396.9Z" fill="#d3cde7" stroke="#d3cde7" stroke-width="1.4" stroke-linejoin="round"/>
<path d="M512.5,395.2 515.1,392.6 520.2,393.5 522.8,397.7 522.8,403.7 520.2,405.4 518.5,402.0 515.9,399.4 513.4,398.6Z" fill="#9376ae" stroke="#9376ae" stroke-width="1.4" stroke-linejoin="round"/>
<path d="M457.8,454.1 462.1,449.8 467.2,446.4 474.1,445.5 475.8,451.5 474.9,458.4 472.4,463.5 474.1,466.9 469.8,468.6 465.5,466.0 461.3,465.2 459.6,460.1Z" fill="#9376ae" stroke="#9376ae" stroke-width="1.4" stroke-linejoin="round"/>
<path d="M457.0,472.9 461.3,472.0 465.5,474.6 469.0,472.9 472.4,470.3 473.2,472.9 469.8,477.1 464.7,478.9 459.6,477.1Z" fill="#9376ae" stroke="#9376ae" stroke-width="1.4" stroke-linejoin="round"/>
<path d="M477.8,447.3 483.5,449.0 491.2,452.4 497.6,454.6 494.9,458.7 489.4,460.6 483.5,460.1 479.5,457.5 477.8,453.2Z" fill="#9376ae" stroke="#9376ae" stroke-width="1.4" stroke-linejoin="round"/>
<path d="M422.8,501.4 426.2,500.2 429.7,502.8 428.0,506.2 424.5,505.8Z" fill="#7f69a6" stroke="#7f69a6" stroke-width="1.4" stroke-linejoin="round"/>
<path d="M213.3,717.7 220.9,716.0 229.5,719.4 238.0,722.0 244.9,724.6 253.4,723.7 260.2,725.4 267.1,729.7 272.2,734.0 270.5,739.1 265.3,741.7 263.6,746.8 260.2,751.9 255.1,753.6 248.3,751.9 244.9,747.6 239.7,743.4 234.6,738.2 229.5,733.1 224.4,728.0 219.2,722.9Z" fill="#bbacd6" stroke="#bbacd6" stroke-width="1.4" stroke-linejoin="round"/>
<path d="M246.6,716.9 256.8,715.2 258.5,721.2 253.4,723.7 244.9,724.6Z" fill="#d3cde7" stroke="#d3cde7" stroke-width="1.4" stroke-linejoin="round"/>
<path d="M303.8,750.2 311.5,747.6 320.0,746.8 326.8,746.8 332.0,749.3 330.3,755.3 325.1,760.4 318.3,764.7 309.8,769.0 301.2,772.4 293.5,775.8 291.0,770.7 296.1,765.6 301.2,760.4 302.9,755.3Z" fill="#9376ae" stroke="#9376ae" stroke-width="1.4" stroke-linejoin="round"/>
<path d="M273.9,758.7 279.0,762.1 285.8,765.6 291.0,770.7 293.5,775.8 288.4,780.9 282.4,784.4 277.3,782.6 274.7,777.5 275.6,770.7 273.0,765.6Z" fill="#7f69a6" stroke="#7f69a6" stroke-width="1.4" stroke-linejoin="round"/>
<path d="M260.2,751.9 263.6,746.8 265.3,741.7 270.5,739.1 273.9,745.1 275.6,751.9 273.9,758.7 273.0,765.6 275.6,770.7 274.7,777.5 270.5,780.9 265.3,782.6 261.9,779.2 258.5,772.4 256.8,765.6 257.7,758.7Z" fill="#d3cde7" stroke="#d3cde7" stroke-width="1.4" stroke-linejoin="round"/>
<path d="M235.5,762.1 239.7,757.0 246.6,754.5 254.2,755.3 256.8,759.6 255.1,763.9 252.5,769.0 254.2,774.1 256.8,777.5 254.2,780.9 250.8,780.1 248.3,774.1 244.9,769.0 239.7,765.6Z" fill="#5b428c" stroke="#5b428c" stroke-width="1.4" stroke-linejoin="round"/>
<path d="M209.0,765.6 214.1,762.1 220.9,759.6 227.8,759.6 232.9,763.0 234.6,767.3 231.2,772.4 227.8,777.5 222.6,780.9 217.5,782.6 212.4,782.6 209.8,775.8 209.0,770.7Z" fill="#7f69a6" stroke="#7f69a6" stroke-width="1.4" stroke-linejoin="round"/>
<path d="M227.8,777.5 231.2,772.4 234.6,767.3 239.7,765.6 244.9,769.0 248.3,774.1 250.8,780.1 246.6,782.6 239.7,784.4 234.6,786.1 229.5,787.8 222.6,780.9Z" fill="#bbacd6" stroke="#bbacd6" stroke-width="1.4" stroke-linejoin="round"/>
<path d="M154.3,779.2 159.4,772.4 166.3,769.0 174.8,765.6 179.1,774.1 188.5,772.4 198.7,770.7 209.0,770.7 209.8,775.8 212.4,782.6 205.6,784.4 209.0,791.2 210.7,796.3 205.6,794.6 197.0,792.9 188.5,791.2 181.7,792.9 174.8,794.6 166.3,791.2 161.2,786.1Z" fill="#d3cde7" stroke="#d3cde7" stroke-width="1.4" stroke-linejoin="round"/>
<path d="M122.7,769.0 127.8,755.3 133.0,748.5 140.7,750.2 147.5,753.6 153.5,758.7 150.9,762.1 144.1,763.9 137.2,765.6 130.4,769.0 125.3,772.4Z" fill="#d3cde7" stroke="#d3cde7" stroke-width="1.4" stroke-linejoin="round"/>
<path d="M109.1,792.0 109.9,786.1 114.2,780.9 119.3,775.0 121.9,776.7 118.5,782.6 115.0,787.8 112.5,792.0Z" fill="#474283" stroke="#474283" stroke-width="1.4" stroke-linejoin="round"/>
<path d="M116.7,791.2 123.6,787.8 130.4,786.1 137.2,782.6 144.1,786.1 145.8,791.2 150.9,787.8 157.7,789.5 161.2,794.6 156.0,799.7 155.2,808.3 159.4,813.4 154.3,818.5 147.5,820.2 142.4,825.3 137.2,830.5 132.1,832.2 127.0,828.8 124.4,821.9 128.7,816.8 133.8,810.0 134.7,801.4 132.1,798.0 125.3,796.3 118.5,796.3Z" fill="#a78bc3" stroke="#a78bc3" stroke-width="1.4" stroke-linejoin="round"/>
<path d="M116.7,799.7 125.3,796.3 132.1,798.0 134.7,801.4 133.8,810.0 128.7,816.8 124.4,821.9 127.0,828.8 132.1,832.2 128.7,834.7 121.9,833.0 115.0,831.3 108.2,830.5 111.6,823.6 114.2,816.8 115.9,808.3Z" fill="#7f69a6" stroke="#7f69a6" stroke-width="1.4" stroke-linejoin="round"/>
<path d="M137.2,830.5 142.4,825.3 147.5,820.2 153.5,821.9 155.2,827.1 152.6,832.2 147.5,833.9 142.4,834.7Z" fill="#d3cde7" stroke="#d3cde7" stroke-width="1.4" stroke-linejoin="round"/>
<path d="M156.0,799.7 161.2,794.6 166.3,796.3 174.8,794.6 181.7,792.9 188.5,791.2 197.0,792.9 202.1,796.3 199.6,803.1 198.7,810.0 195.3,814.2 190.2,820.2 183.4,816.0 176.5,815.1 169.7,816.8 162.9,815.1 159.4,810.0 155.2,808.3Z" fill="#2e2672" stroke="#2e2672" stroke-width="1.4" stroke-linejoin="round"/>
<path d="M202.1,796.3 209.0,792.9 215.8,791.2 222.6,787.8 229.5,787.8 232.9,792.9 234.6,799.7 231.2,806.6 228.6,813.4 226.1,817.7 219.2,816.8 212.4,818.5 205.6,815.1 200.4,810.0 199.6,803.1Z" fill="#2e2672" stroke="#2e2672" stroke-width="1.4" stroke-linejoin="round"/>
<path d="M229.5,787.8 234.6,786.1 239.7,784.4 243.1,787.8 239.7,792.9 240.6,799.7 242.3,806.6 244.0,814.2 242.3,817.7 234.6,818.5 227.8,818.5 228.6,813.4 231.2,806.6 234.6,799.7 232.9,792.9Z" fill="#2e2672" stroke="#2e2672" stroke-width="1.4" stroke-linejoin="round"/>
<path d="M239.7,792.9 243.1,787.8 246.6,786.1 248.3,792.9 250.8,799.7 252.5,808.3 253.4,815.1 248.3,815.1 244.0,814.2 242.3,806.6 240.6,799.7Z" fill="#a78bc3" stroke="#a78bc3" stroke-width="1.4" stroke-linejoin="round"/>
<path d="M250.8,780.1 254.2,780.9 256.8,777.5 261.9,779.2 265.3,782.6 270.5,780.9 274.7,777.5 277.3,782.6 282.4,784.4 277.3,790.3 272.2,796.3 267.9,803.1 265.3,810.0 261.9,808.3 256.8,804.9 253.4,799.7 250.8,792.9 248.3,787.8 247.4,782.6Z" fill="#474283" stroke="#474283" stroke-width="1.4" stroke-linejoin="round"/>
<path d="M250.8,799.7 253.4,799.7 256.8,804.9 261.9,808.3 265.3,810.0 267.1,816.8 271.3,821.9 273.9,823.6 267.1,827.1 261.9,831.3 256.8,837.3 252.5,844.1 248.3,846.7 243.1,847.6 238.0,846.7 234.6,850.1 232.9,844.1 227.8,839.0 224.4,833.9 221.8,830.5 227.8,827.1 227.8,818.5 234.6,818.5 242.3,817.7 244.0,814.2 248.3,815.1 253.4,815.1 252.5,808.3Z" fill="#2e2672" stroke="#2e2672" stroke-width="1.4" stroke-linejoin="round"/>
<path d="M195.3,814.2 202.1,816.8 205.6,815.1 212.4,818.5 219.2,816.8 226.1,817.7 227.8,827.1 221.8,830.5 224.4,833.9 227.8,839.0 226.1,844.1 220.9,847.6 214.1,851.0 209.0,849.3 205.6,844.1 203.9,837.3 199.6,832.2 197.0,825.3 196.2,820.2Z" fill="#bbacd6" stroke="#bbacd6" stroke-width="1.4" stroke-linejoin="round"/>
<path d="M169.7,816.8 176.5,815.1 183.4,816.0 190.2,820.2 195.3,814.2 196.2,820.2 197.0,825.3 199.6,832.2 203.9,837.3 205.6,844.1 202.1,848.4 195.3,845.8 188.5,844.1 181.7,845.0 176.5,842.4 175.7,833.9 174.0,827.1 171.4,821.9Z" fill="#d3cde7" stroke="#d3cde7" stroke-width="1.4" stroke-linejoin="round"/>
<path d="M165.4,865.5 168.8,856.1 174.8,851.0 181.7,845.0 188.5,844.1 195.3,845.8 202.1,848.4 209.0,849.3 214.1,851.0 220.9,847.6 226.1,844.1 232.9,844.1 234.6,850.1 231.2,856.1 226.1,862.1 219.2,860.4 212.4,859.5 205.6,857.8 197.0,856.9 188.5,855.2 181.7,857.8 174.8,859.5 168.8,862.1Z" fill="#d3cde7" stroke="#d3cde7" stroke-width="1.4" stroke-linejoin="round"/>
<path d="M313.2,809.1 318.3,805.7 324.3,803.1 329.4,806.6 331.1,810.0 326.8,814.2 323.4,816.8 319.2,813.4 315.7,811.7Z" fill="#a78bc3" stroke="#a78bc3" stroke-width="1.4" stroke-linejoin="round"/>
<path d="M291.0,821.1 295.2,818.5 298.7,819.4 296.9,822.8 293.5,824.5Z" fill="#bbacd6" stroke="#bbacd6" stroke-width="1.4" stroke-linejoin="round"/>
<path d="M393.5,675.0 402.0,673.3 416.0,671.6 416.0,709.5 410.5,713.5 403.7,721.2 398.6,714.3 395.2,705.8 393.5,697.2 391.7,690.4 395.2,683.6Z" fill="#bbacd6" stroke="#bbacd6" stroke-width="1.4" stroke-linejoin="round"/>
<path d="M374.7,700.7 379.8,697.2 391.7,690.4 393.5,697.2 395.2,705.8 398.6,714.3 403.7,721.2 400.3,721.2 393.5,728.0 386.6,733.1 379.8,735.7 373.0,733.1 366.1,729.7 359.3,726.3 361.0,722.9 367.8,724.6 374.7,721.2 373.0,714.3 373.8,707.5Z" fill="#d3cde7" stroke="#d3cde7" stroke-width="1.4" stroke-linejoin="round"/>
<path d="M416.0,671.6 421.1,673.3 424.5,683.6 425.4,695.5 422.8,702.4 416.0,704.9Z" fill="#bbacd6" stroke="#bbacd6" stroke-width="1.4" stroke-linejoin="round"/>
<path d="M450.2,658.0 458.7,654.5 467.2,651.1 477.5,652.8 487.7,658.0 496.3,663.1 492.9,669.9 489.4,676.7 484.3,680.2 480.1,684.4 480.1,688.7 482.6,692.1 474.1,693.8 467.2,692.1 461.3,688.7 457.0,680.2 453.6,671.6 451.0,664.8Z" fill="#d3cde7" stroke="#d3cde7" stroke-width="1.4" stroke-linejoin="round"/>
<path d="M477.5,651.1 487.7,647.7 498.0,646.0 535.6,646.0 542.4,651.1 550.9,656.2 559.5,659.7 566.3,664.8 573.1,669.9 576.6,675.0 569.7,677.6 562.9,673.3 556.1,669.9 547.5,666.5 539.0,663.1 532.1,661.4 525.3,659.7 516.8,658.8 508.2,659.7 501.4,660.5 496.3,663.1 487.7,658.0Z" fill="#bbacd6" stroke="#bbacd6" stroke-width="1.4" stroke-linejoin="round"/>
<path d="M466.4,696.4 472.4,695.5 477.5,696.4 480.9,695.5 478.3,699.8 474.1,700.7 469.0,699.0Z" fill="#2e2672" stroke="#2e2672" stroke-width="1.4" stroke-linejoin="round"/>
<path d="M446.7,712.6 450.2,711.8 452.7,716.0 451.9,719.4 448.5,718.6Z" fill="#d3cde7" stroke="#d3cde7" stroke-width="1.4" stroke-linejoin="round"/>
<path d="M470.7,741.7 474.9,734.8 475.8,726.3 480.9,728.0 487.7,731.4 492.9,734.8 498.0,731.4 501.4,729.7 504.8,736.5 508.2,743.4 512.5,750.2 516.8,755.3 521.9,758.7 518.5,763.9 513.4,765.6 508.2,763.9 501.4,765.6 496.3,769.0 491.2,772.4 489.4,774.1 483.5,769.0 477.5,763.9 472.4,758.7 473.2,750.2Z" fill="#bbacd6" stroke="#bbacd6" stroke-width="1.4" stroke-linejoin="round"/>
<path d="M515.1,765.6 518.5,762.1 525.3,760.4 535.6,762.1 542.4,760.4 545.8,761.3 545.0,763.9 547.5,769.0 552.6,773.3 559.5,775.8 566.3,779.2 573.1,782.6 580.0,786.1 585.1,791.2 588.5,796.3 586.8,801.4 584.2,802.3 584.2,796.3 580.0,792.9 573.1,789.5 566.3,787.8 561.2,784.4 552.6,780.9 545.8,780.9 540.7,784.4 533.9,784.4 532.1,779.2 528.7,775.8 525.3,772.4 518.5,772.4 516.8,769.0Z" fill="#2e2672" stroke="#2e2672" stroke-width="1.4" stroke-linejoin="round"/>
<path d="M566.3,787.8 573.1,789.5 580.0,792.9 584.2,796.3 584.2,802.3 580.0,798.0 574.9,794.6 569.7,791.2Z" fill="#474283" stroke="#474283" stroke-width="1.4" stroke-linejoin="round"/>
<path d="M540.7,784.4 545.8,780.9 552.6,780.9 561.2,784.4 562.9,789.5 561.2,792.9 557.8,799.7 555.2,804.9 549.2,803.1 544.1,799.7 541.5,792.9Z" fill="#a78bc3" stroke="#a78bc3" stroke-width="1.4" stroke-linejoin="round"/>
<path d="M510.8,780.9 518.5,782.6 525.3,784.4 533.9,784.4 540.7,784.4 541.5,792.9 544.1,799.7 542.4,803.1 535.6,800.6 529.6,798.0 525.3,792.9 520.2,788.6 515.1,785.2Z" fill="#bbacd6" stroke="#bbacd6" stroke-width="1.4" stroke-linejoin="round"/>
<path d="M487.7,855.2 489.4,851.0 494.6,847.6 499.7,845.0 506.5,849.3 513.4,848.4 520.2,847.6 527.0,846.7 533.9,845.8 539.0,844.1 541.5,842.4 539.8,849.3 537.3,856.1 535.6,862.9 539.0,868.0 535.6,877.4 528.7,875.7 521.9,871.5 515.1,866.3 508.2,862.9 501.4,860.4 494.6,859.5 489.4,857.8Z" fill="#7f69a6" stroke="#7f69a6" stroke-width="1.4" stroke-linejoin="round"/>
<path d="M414.3,791.2 421.1,787.8 428.0,782.6 433.1,780.1 434.8,786.1 437.4,791.2 439.9,796.3 438.2,803.1 437.4,810.0 438.2,816.8 436.5,823.6 431.4,825.3 426.2,828.8 422.8,831.3 417.7,827.1 415.1,825.3 413.4,816.8 411.7,808.3 412.6,799.7Z" fill="#a78bc3" stroke="#a78bc3" stroke-width="1.4" stroke-linejoin="round"/>
<path d="M621.8,748.5 629.5,741.7 638.0,736.5 644.9,729.7 653.4,726.3 660.3,731.4 667.1,734.8 668.8,728.0 675.6,724.6 689.3,722.0 703.0,721.2 709.8,722.9 710.6,731.4 706.4,734.8 696.1,741.7 689.3,746.8 682.5,748.5 677.3,751.9 682.5,755.3 687.6,757.0 684.2,763.9 679.0,767.3 675.6,771.5 679.9,775.8 677.3,779.2 668.8,777.5 663.7,777.5 660.3,775.8 655.1,779.2 654.3,784.4 656.8,789.5 651.7,791.2 644.9,792.9 638.0,794.6 636.3,789.5 632.9,782.6 629.5,774.1 626.1,765.6 622.7,757.0Z" fill="#a78bc3" stroke="#a78bc3" stroke-width="1.4" stroke-linejoin="round"/>
<path d="M689.3,752.8 696.1,751.9 704.7,750.2 709.8,753.6 713.2,757.0 712.4,759.6 704.7,759.6 696.1,760.4 691.0,759.6Z" fill="#2e2672" stroke="#2e2672" stroke-width="1.4" stroke-linejoin="round"/>
<path d="M637.2,796.3 643.2,792.9 651.7,788.6 658.5,789.5 663.7,794.6 668.8,799.7 672.2,804.0 668.8,806.6 663.7,808.3 658.5,810.0 651.7,810.8 646.6,806.6 641.5,801.4Z" fill="#2e2672" stroke="#2e2672" stroke-width="1.4" stroke-linejoin="round"/>
<path d="M665.0,805.4 670.5,806.2 677.3,808.8 684.2,812.2 691.0,816.5 697.0,822.4 699.9,827.9 696.1,827.4 691.0,824.0 685.0,819.9 679.0,816.5 673.1,813.7 667.4,811.0 664.5,808.3Z" fill="#bbacd6" stroke="#bbacd6" stroke-width="1.4" stroke-linejoin="round"/>
<path d="M662.0,814.2 668.8,816.0 675.6,818.5 682.5,822.8 688.4,827.9 691.9,833.9 687.6,833.9 682.5,831.3 677.3,829.6 672.2,828.8 667.1,827.1 662.0,826.2 656.8,825.3 653.4,816.8 651.7,810.8 658.5,810.0Z" fill="#bbacd6" stroke="#bbacd6" stroke-width="1.4" stroke-linejoin="round"/>
<path d="M603.0,777.5 606.5,776.7 609.9,780.1 608.2,782.6 603.9,781.8Z" fill="#a78bc3" stroke="#a78bc3" stroke-width="1.4" stroke-linejoin="round"/>
<path d="M709.8,697.2 716.6,695.5 723.5,697.2 732.0,697.2 728.6,710.9 733.7,719.4 737.1,726.3 732.0,728.0 725.2,728.0 720.0,721.2 714.9,714.3 709.8,707.5Z" fill="#d3cde7" stroke="#d3cde7" stroke-width="1.4" stroke-linejoin="round"/>
<path d="M670.5,659.7 675.6,658.0 682.5,664.8 689.3,673.3 697.8,678.5 706.4,683.6 704.7,688.7 696.1,692.1 689.3,687.0 682.5,680.2 675.6,671.6 671.4,664.8Z" fill="#bbacd6" stroke="#bbacd6" stroke-width="1.4" stroke-linejoin="round"/>
<path d="M605.6,664.8 610.7,659.7 621.0,658.0 631.2,658.8 639.8,663.1 639.8,673.3 634.6,678.5 626.1,681.9 617.6,683.6 609.0,680.2 604.7,673.3Z" fill="#d3cde7" stroke="#d3cde7" stroke-width="1.4" stroke-linejoin="round"/>
<path d="M605.6,651.1 614.1,649.4 626.1,651.1 636.3,652.8 644.9,654.5 655.1,651.1 662.0,646.0 605.6,646.0Z" fill="#d3cde7" stroke="#d3cde7" stroke-width="1.4" stroke-linejoin="round"/>
<path d="M667.5,599.3 673.4,597.6 680.3,601.0 685.4,607.8 692.2,614.7 699.1,619.8 703.3,626.6 701.6,630.9 695.7,628.3 688.8,623.2 682.0,618.1 675.2,613.0 670.0,606.1Z" fill="#bbacd6" stroke="#bbacd6" stroke-width="1.4" stroke-linejoin="round"/>
<path d="M639.3,618.1 646.1,614.7 654.7,613.0 663.2,614.7 668.3,618.1 664.9,624.9 659.8,630.0 653.0,635.2 646.1,640.3 641.0,643.7 637.6,642.0 640.1,635.2 641.0,628.3 639.3,623.2Z" fill="#bbacd6" stroke="#bbacd6" stroke-width="1.4" stroke-linejoin="round"/>
<path d="M605.1,652.2 622.2,650.5 637.6,642.0 653.0,635.2 664.9,624.9 678.6,628.3 681.1,633.4 676.9,642.0 668.3,652.2 658.1,660.8 651.2,669.3 642.7,671.0 639.3,662.5 634.2,660.8 617.1,659.1 606.8,657.4Z" fill="#d3cde7" stroke="#d3cde7" stroke-width="1.4" stroke-linejoin="round"/>
<path d="M604.3,665.9 608.5,660.8 625.6,659.9 639.3,662.5 642.7,671.0 639.3,676.1 634.2,679.6 625.6,683.0 617.1,684.7 608.5,683.0 605.1,676.1Z" fill="#d3cde7" stroke="#d3cde7" stroke-width="1.4" stroke-linejoin="round"/>
<path d="M669.2,660.8 675.2,658.2 680.3,662.5 683.7,669.3 690.5,674.4 699.1,677.9 706.8,681.3 704.2,686.4 697.4,689.8 693.1,693.2 688.8,689.8 683.7,683.0 676.9,677.9 671.7,671.0 670.0,665.9Z" fill="#bbacd6" stroke="#bbacd6" stroke-width="1.4" stroke-linejoin="round"/>
<path d="M708.5,701.8 716.1,699.2 723.0,696.6 729.8,689.8 736.6,686.4 740.1,686.4 736.6,691.5 734.1,696.6 733.2,701.8 732.4,708.6 730.7,713.7 729.0,717.1 731.5,719.7 735.8,723.1 737.5,726.5 729.8,728.2 723.0,724.0 719.6,717.1 712.7,713.7 709.3,708.6Z" fill="#d3cde7" stroke="#d3cde7" stroke-width="1.4" stroke-linejoin="round"/>
<path d="M497.1,223.7 501.4,222.9 508.2,229.7 515.1,236.6 521.9,243.4 528.7,250.2 535.6,257.1 540.7,262.2 542.4,265.6 538.1,263.9 532.1,258.8 525.3,251.9 518.5,245.1 511.7,238.3 504.8,231.4 499.7,227.2Z" fill="#d3cde7" stroke="#d3cde7" stroke-width="1.4" stroke-linejoin="round"/>
<path d="M588.5,270.7 591.9,263.9 598.8,261.3 605.6,260.5 610.7,262.2 614.1,269.0 619.3,274.1 621.0,281.0 617.6,286.1 612.4,289.5 605.6,286.1 598.8,282.7 591.9,281.0 587.7,275.8Z" fill="#d3cde7" stroke="#d3cde7" stroke-width="1.4" stroke-linejoin="round"/>
<path d="M501.4,328.8 504.8,332.2 506.5,339.0 511.7,342.5 518.5,344.2 524.5,342.5 525.3,347.6 518.5,351.0 511.7,351.9 504.8,349.3 500.5,344.2 499.7,335.6Z" fill="#d3cde7" stroke="#d3cde7" stroke-width="1.4" stroke-linejoin="round"/>
<path d="M621.0,348.4 639.8,347.1 638.0,351.0 632.9,353.6 626.1,352.7Z" fill="#a78bc3" stroke="#a78bc3" stroke-width="1.4" stroke-linejoin="round"/></g>
<use href="#top"/>
</g>
<text x="129.3" y="103.6" font-size="13.2" fill="#bfe0ea" text-anchor="middle">-30°</text>
<text x="222.6" y="103.6" font-size="13.2" fill="#bfe0ea" text-anchor="middle">-20°</text>
<text x="300.4" y="103.6" font-size="13.2" fill="#bfe0ea" text-anchor="middle">-10°</text>
<text x="367.0" y="103.6" font-size="13.2" fill="#bfe0ea" text-anchor="middle">0°</text>
<text x="446.0" y="103.6" font-size="13.2" fill="#bfe0ea" text-anchor="middle">10°</text>
<text x="509.0" y="103.6" font-size="13.2" fill="#bfe0ea" text-anchor="middle">20°</text>
<text x="581.5" y="103.6" font-size="13.2" fill="#bfe0ea" text-anchor="middle">30°</text>
<text x="660.3" y="103.6" font-size="13.2" fill="#bfe0ea" text-anchor="middle">40°</text>
<text x="752.8" y="103.6" font-size="13.2" fill="#bfe0ea" text-anchor="middle">50°</text>
<text x="864.3" y="103.6" font-size="13.2" fill="#bfe0ea" text-anchor="middle">60°</text>
<text x="1027.8" y="103.6" font-size="13.2" fill="#bfe0ea" text-anchor="middle">70°</text>
<text x="111.6" y="278.5" font-size="13.2" fill="#bfe0ea" text-anchor="middle">60°</text>
<text x="112.5" y="525.0" font-size="13.2" fill="#bfe0ea" text-anchor="middle">50°</text>
<text x="112.5" y="762.5" font-size="13.2" fill="#bfe0ea" text-anchor="middle">40°</text>
<text x="1033.5" y="379.0" font-size="13.2" fill="#bfe0ea" text-anchor="middle">50°</text>
<text x="1034.0" y="653.0" font-size="13.2" fill="#bfe0ea" text-anchor="middle">40°</text>
<text x="261.2" y="894.0" font-size="13.2" fill="#bfe0ea" text-anchor="middle">0°</text>
<text x="443.0" y="896.0" font-size="13.2" fill="#bfe0ea" text-anchor="middle">10°</text>
<text x="628.0" y="896.0" font-size="13.2" fill="#bfe0ea" text-anchor="middle">20°</text>
<text x="815.0" y="896.0" font-size="13.2" fill="#bfe0ea" text-anchor="middle">30°</text>
<text x="1010.0" y="896.0" font-size="13.2" fill="#bfe0ea" text-anchor="middle">40°</text>
<path d="M107.9,890.6V896.2H408.8V890.6M208.2,890.6V896.2M308.6,890.6V896.2" fill="none" stroke="#808080" stroke-width="1.2"/><text x="100.5" y="881.3" font-size="17" fill="#757575" textLength="9.3" lengthAdjust="spacingAndGlyphs">0</text><text x="191.4" y="881.3" font-size="17" fill="#757575" textLength="28.9" lengthAdjust="spacingAndGlyphs">500</text><text x="283.8" y="881.3" font-size="17" fill="#757575" textLength="44.4" lengthAdjust="spacingAndGlyphs">1 000</text><text x="387.8" y="881.3" font-size="17" fill="#757575" textLength="72.7" lengthAdjust="spacingAndGlyphs">1 500 km</text>
<text x="112.8" y="129.2" font-size="29" font-weight="bold" fill="#000" textLength="180.5" lengthAdjust="spacingAndGlyphs">Winter, 2015</text>
</g>
<rect x="87.0" y="77.5" width="973.4" height="833.9" fill="none" stroke="#000" stroke-width="2.2"/>
<g clip-path="url(#c1)">
<g transform="matrix(1.0072,0,0,0.9935,1029.44,1.63)">
<use href="#base"/>
<g clip-path="url(#landclip)"><path d="M119.9,767.2 128.3,767.2 128.3,774.1 119.9,779.2Z" fill="#a78bc3" stroke="#a78bc3" stroke-width="1.4" stroke-linejoin="round"/>
<path d="M225.0,817.1 230.1,817.1 230.1,830.8 225.0,830.8Z" fill="#2e2672" stroke="#2e2672" stroke-width="1.4" stroke-linejoin="round"/>
<path d="M194.5,768.9 211.4,765.5 211.4,772.4 196.2,775.8Z" fill="#2e2672" stroke="#2e2672" stroke-width="1.4" stroke-linejoin="round"/>
<path d="M174.1,751.7 180.9,744.9 187.7,751.7 180.9,758.6Z" fill="#2e2672" stroke="#2e2672" stroke-width="1.4" stroke-linejoin="round"/>
<path d="M153.8,790.4 167.3,792.1 166.5,799.0 154.6,800.7Z" fill="#2e2672" stroke="#2e2672" stroke-width="1.4" stroke-linejoin="round"/>
<path d="M142.8,785.3 151.2,785.3 151.2,793.9 143.6,794.7Z" fill="#2e2672" stroke="#2e2672" stroke-width="1.4" stroke-linejoin="round"/>
<path d="M187.7,807.6 204.7,807.6 208.9,819.7 191.1,821.4Z" fill="#2e2672" stroke="#2e2672" stroke-width="1.4" stroke-linejoin="round"/>
<path d="M230.9,760.3 239.4,757.8 242.8,767.2 235.2,769.8Z" fill="#2e2672" stroke="#2e2672" stroke-width="1.4" stroke-linejoin="round"/>
<path d="M204.7,783.5 221.6,781.8 231.8,788.7 221.6,793.0 208.0,795.6Z" fill="#2e2672" stroke="#2e2672" stroke-width="1.4" stroke-linejoin="round"/>
<path d="M217.4,479.6 221.6,469.3 226.7,472.8 231.8,476.2 232.6,483.1 230.9,490.0 228.4,496.0 225.9,495.1 224.2,488.2 222.5,483.1Z" fill="#a78bc3" stroke="#a78bc3" stroke-width="1.4" stroke-linejoin="round"/>
<path d="M284.4,452.1 289.4,447.8 295.4,449.5 297.9,456.4 300.0,465.0 302.2,471.0 297.9,472.8 292.0,471.0 286.9,470.2 285.2,462.4Z" fill="#bbacd6" stroke="#bbacd6" stroke-width="1.4" stroke-linejoin="round"/>
<path d="M286.9,470.2 292.0,471.0 297.9,472.8 302.2,471.0 306.4,477.1 309.8,483.9 312.3,490.8 314.0,496.8 308.1,498.5 302.2,498.5 300.5,508.9 297.9,515.7 291.1,517.5 284.4,519.2 281.0,512.3 279.3,504.6 282.7,500.3 286.1,496.8 288.6,490.0 285.2,483.1 286.1,476.2Z" fill="#d3cde7" stroke="#d3cde7" stroke-width="1.4" stroke-linejoin="round"/>
<path d="M258.9,508.9 265.7,505.4 272.5,503.7 279.3,504.6 281.0,512.3 284.4,519.2 291.1,517.5 289.4,524.3 282.7,527.8 275.9,530.4 269.1,532.9 262.3,534.7 258.1,531.2 257.2,520.9Z" fill="#d3cde7" stroke="#d3cde7" stroke-width="1.4" stroke-linejoin="round"/>
<path d="M221.6,557.9 228.4,553.6 235.2,548.4 240.3,543.2 245.4,539.0 252.1,538.1 258.9,539.0 265.7,536.4 272.5,532.1 275.9,530.4 279.3,532.9 281.0,541.5 280.1,550.1 275.9,555.3 270.8,557.0 264.0,554.4 258.9,552.7 253.8,556.1 248.7,559.6 243.7,557.9 238.6,559.6 233.5,561.3 228.4,562.2 222.5,560.1Z" fill="#d3cde7" stroke="#d3cde7" stroke-width="1.4" stroke-linejoin="round"/>
<path d="M279.3,528.6 286.1,526.1 291.1,529.5 297.9,532.1 304.7,529.5 309.8,530.4 313.2,539.8 320.0,545.0 324.2,547.5 323.4,550.1 316.6,551.0 309.8,549.3 303.0,548.4 296.2,549.3 289.4,547.5 282.7,541.5 280.1,534.7Z" fill="#a78bc3" stroke="#a78bc3" stroke-width="1.4" stroke-linejoin="round"/>
<path d="M281.0,542.4 283.5,541.5 289.4,547.5 296.2,549.3 303.0,548.4 309.8,549.3 316.6,551.0 323.4,550.1 320.8,553.6 313.2,556.1 306.4,557.0 299.6,555.3 292.8,554.4 286.9,555.3 281.0,552.7Z" fill="#5b428c" stroke="#5b428c" stroke-width="1.4" stroke-linejoin="round"/>
<path d="M373.8,509.6 376.4,511.3 374.7,515.6 376.4,519.9 380.6,522.4 384.1,525.0 388.3,524.1 391.7,529.2 398.6,531.8 402.8,533.5 402.0,539.5 398.6,542.9 393.5,540.3 391.7,544.6 394.3,550.6 395.2,557.4 393.5,564.3 394.3,571.1 391.7,573.7 386.6,574.5 383.2,578.8 383.2,584.8 384.1,591.6 382.4,596.7 381.5,603.5 383.2,610.4 384.1,617.2 382.4,622.3 377.2,625.8 378.1,618.9 378.9,612.1 376.4,605.3 374.7,598.4 371.2,593.3 367.8,588.2 364.4,581.3 357.6,578.8 353.3,577.1 359.3,572.8 367.8,568.5 376.4,566.0 381.5,560.8 379.8,554.0 374.7,548.9 367.8,544.6 363.6,542.1 364.4,536.9 367.8,531.8 370.4,525.0 371.2,516.4Z" fill="#2e2672" stroke="#2e2672" stroke-width="1.4" stroke-linejoin="round"/>
<path d="M332.0,563.4 338.8,559.1 347.3,555.7 355.9,552.3 364.4,549.7 374.7,548.9 379.8,554.0 381.5,560.8 376.4,566.0 367.8,568.5 359.3,572.8 353.3,577.1 345.6,575.4 338.8,571.9 334.5,567.7Z" fill="#a78bc3" stroke="#a78bc3" stroke-width="1.4" stroke-linejoin="round"/>
<path d="M384.1,591.6 383.2,584.8 383.2,578.8 386.6,574.5 391.7,573.7 398.6,572.8 405.4,574.5 409.7,576.2 407.1,583.0 403.7,589.9 407.1,595.0 412.2,596.7 408.8,603.5 405.4,610.4 402.0,618.9 398.6,625.8 396.0,630.0 391.7,624.0 386.6,618.9 384.1,617.2 383.2,610.4 381.5,603.5 382.4,596.7Z" fill="#a78bc3" stroke="#a78bc3" stroke-width="1.4" stroke-linejoin="round"/>
<path d="M382.4,509.6 386.6,506.2 393.5,503.6 395.2,509.6 398.6,518.1 402.0,525.0 405.4,530.1 402.8,533.5 398.6,531.8 391.7,529.2 388.3,524.1 384.1,525.0 380.6,522.4 383.2,516.4Z" fill="#bbacd6" stroke="#bbacd6" stroke-width="1.4" stroke-linejoin="round"/>
<path d="M395.2,509.6 396.9,504.5 405.4,500.2 416.0,499.4 416.0,542.1 410.5,540.3 407.1,535.2 405.4,530.1 402.0,525.0 398.6,518.1Z" fill="#a78bc3" stroke="#a78bc3" stroke-width="1.4" stroke-linejoin="round"/>
<path d="M273.3,576.8 277.6,579.4 281.0,584.5 286.9,587.9 293.7,589.7 300.5,587.9 303.9,584.5 304.7,593.1 303.9,600.0 299.6,605.1 292.8,603.4 286.1,601.7 281.0,605.1 276.7,600.0 275.0,589.7Z" fill="#d3cde7" stroke="#d3cde7" stroke-width="1.4" stroke-linejoin="round"/>
<path d="M303.9,584.5 308.1,580.2 314.9,577.6 323.4,575.9 326.8,579.4 323.4,583.7 314.9,584.5 308.1,585.4Z" fill="#d3cde7" stroke="#d3cde7" stroke-width="1.4" stroke-linejoin="round"/>
<path d="M227.5,594.0 233.5,595.7 242.0,598.3 247.9,600.8 245.4,605.1 238.6,606.9 231.8,603.4Z" fill="#bbacd6" stroke="#bbacd6" stroke-width="1.4" stroke-linejoin="round"/>
<path d="M231.8,603.4 238.6,606.9 245.4,605.1 251.3,606.9 253.8,613.7 253.0,618.9 247.0,617.2 240.3,613.7 235.2,610.3 230.9,607.7Z" fill="#d3cde7" stroke="#d3cde7" stroke-width="1.4" stroke-linejoin="round"/>
<path d="M281.0,605.1 286.1,601.7 292.8,603.4 299.6,605.1 306.4,606.9 313.2,610.3 321.7,613.7 325.9,618.9 320.0,622.3 313.2,624.1 306.4,625.8 299.6,629.2 292.8,627.5 286.1,629.2 281.0,625.8 276.7,620.6 279.3,613.7Z" fill="#bbacd6" stroke="#bbacd6" stroke-width="1.4" stroke-linejoin="round"/>
<path d="M264.0,608.6 270.8,606.9 277.6,610.3 279.3,613.7 276.7,620.6 270.8,617.2 265.7,613.7Z" fill="#d3cde7" stroke="#d3cde7" stroke-width="1.4" stroke-linejoin="round"/>
<path d="M313.2,624.1 320.0,622.3 325.9,618.9 331.8,624.1 336.9,630.9 340.3,637.8 343.7,644.7 340.3,649.7 297.9,649.7 294.5,641.2 293.7,636.1 299.6,629.2 306.4,625.8Z" fill="#d3cde7" stroke="#d3cde7" stroke-width="1.4" stroke-linejoin="round"/>
<path d="M308.1,635.2 314.9,636.1 323.4,633.5 330.1,632.6 333.5,637.8 332.7,644.7 334.4,649.7 318.3,649.7 314.9,643.0 311.5,637.8Z" fill="#2e2672" stroke="#2e2672" stroke-width="1.4" stroke-linejoin="round"/>
<path d="M432.2,491.7 439.0,493.4 447.5,500.3 456.0,502.0 464.5,496.8 472.9,500.3 480.6,505.4 474.6,510.6 471.2,517.5 469.5,526.1 464.5,527.8 457.7,522.6 450.9,519.2 444.1,514.0 439.0,508.9 433.9,502.0Z" fill="#a78bc3" stroke="#a78bc3" stroke-width="1.4" stroke-linejoin="round"/>
<path d="M433.9,517.5 440.7,515.7 447.5,520.9 454.3,526.1 459.4,531.2 456.0,536.4 452.6,541.5 449.2,548.4 447.5,553.6 452.6,562.2 457.7,569.0 456.0,574.2 447.5,575.1 439.0,572.5 432.2,569.0 428.8,560.4 422.1,557.0 418.7,557.0 425.5,550.1 430.5,543.2 433.1,534.7 432.2,526.1Z" fill="#a78bc3" stroke="#a78bc3" stroke-width="1.4" stroke-linejoin="round"/>
<path d="M413.6,512.3 418.7,517.5 421.2,527.8 418.7,536.4 423.8,541.5 413.6,543.2Z" fill="#a78bc3" stroke="#a78bc3" stroke-width="1.4" stroke-linejoin="round"/>
<path d="M464.5,496.8 471.2,491.7 478.0,486.5 484.8,484.8 491.6,488.2 493.3,495.1 489.9,503.7 484.8,507.1 480.6,505.4 472.9,500.3Z" fill="#bbacd6" stroke="#bbacd6" stroke-width="1.4" stroke-linejoin="round"/>
<path d="M471.2,517.5 474.6,510.6 480.6,505.4 484.8,510.6 488.2,517.5 493.3,524.3 498.4,531.2 501.8,538.1 506.0,545.0 510.2,550.1 512.8,557.0 508.6,560.4 505.2,555.3 501.8,548.4 496.7,543.2 489.9,539.8 484.8,534.7 478.0,531.2 472.9,526.1 470.4,521.8Z" fill="#bbacd6" stroke="#bbacd6" stroke-width="1.4" stroke-linejoin="round"/>
<path d="M452.7,535.2 458.7,536.9 465.5,539.5 472.4,542.1 475.8,548.9 480.1,552.3 480.9,559.1 477.5,566.0 476.6,574.5 470.7,578.8 465.5,574.5 458.7,569.4 452.7,564.3 457.0,560.8 451.9,555.7 448.5,550.6 450.2,543.8Z" fill="#2e2672" stroke="#2e2672" stroke-width="1.4" stroke-linejoin="round"/>
<path d="M515.1,533.5 520.2,528.4 525.3,535.2 528.7,542.1 535.6,540.3 542.4,538.6 547.5,536.9 552.6,542.1 557.8,548.9 561.2,555.7 566.3,560.8 571.4,564.3 568.9,571.1 568.0,579.6 570.6,584.8 566.3,588.2 559.5,584.8 552.6,583.0 547.5,577.9 540.7,574.5 535.6,569.4 532.1,562.6 527.0,557.4 523.6,550.6 525.3,545.5 520.2,540.3Z" fill="#474283" stroke="#474283" stroke-width="1.4" stroke-linejoin="round"/>
<path d="M544.1,522.4 552.6,523.3 561.2,524.1 566.3,526.7 569.7,533.5 574.9,540.3 575.7,548.9 577.4,555.7 575.7,562.6 569.7,560.8 564.6,557.4 562.9,552.3 561.2,545.5 557.8,538.6 552.6,533.5 549.2,528.4Z" fill="#2e2672" stroke="#2e2672" stroke-width="1.4" stroke-linejoin="round"/>
<path d="M508.2,521.6 515.1,514.7 518.5,506.2 525.3,497.6 532.1,490.8 535.6,494.2 539.0,501.1 545.8,507.9 552.6,513.0 557.8,518.1 561.2,523.3 552.6,523.3 545.8,521.6 542.4,513.0 535.6,511.3 528.7,514.7 521.9,518.1 515.1,525.0 511.7,530.1Z" fill="#d3cde7" stroke="#d3cde7" stroke-width="1.4" stroke-linejoin="round"/>
<path d="M515.1,525.0 521.9,518.1 528.7,514.7 535.6,511.3 542.4,513.0 545.8,521.6 549.2,528.4 552.6,533.5 557.8,538.6 561.2,545.5 562.9,552.3 557.8,548.9 552.6,542.1 547.5,536.9 539.0,538.6 533.9,540.3 528.7,535.2 521.9,530.1Z" fill="#d3cde7" stroke="#d3cde7" stroke-width="1.4" stroke-linejoin="round"/>
<path d="M533.9,477.1 542.4,472.0 550.9,470.3 556.1,473.7 557.8,478.9 559.5,484.0 552.6,484.0 545.8,485.7 539.0,484.0Z" fill="#d3cde7" stroke="#d3cde7" stroke-width="1.4" stroke-linejoin="round"/>
<path d="M559.5,480.6 566.3,477.1 571.4,475.4 573.1,480.6 578.3,482.3 578.3,489.1 580.0,490.8 574.9,489.1 569.7,487.4 564.6,488.3 560.3,485.7Z" fill="#5b428c" stroke="#5b428c" stroke-width="1.4" stroke-linejoin="round"/>
<path d="M574.7,502.0 578.9,497.7 583.2,500.3 584.9,507.1 588.3,512.3 593.3,514.9 601.0,516.6 601.8,520.0 595.0,520.9 590.0,518.3 584.9,515.7 579.8,512.3 576.4,507.1Z" fill="#474283" stroke="#474283" stroke-width="1.4" stroke-linejoin="round"/>
<path d="M586.8,484.0 593.6,478.9 602.2,475.4 610.7,477.1 617.6,484.0 622.7,490.8 629.5,495.9 634.6,497.6 629.5,501.1 622.7,506.2 615.8,502.8 609.0,499.4 602.2,501.1 595.3,504.5 591.9,497.6 588.5,490.8Z" fill="#bbacd6" stroke="#bbacd6" stroke-width="1.4" stroke-linejoin="round"/>
<path d="M609.0,527.5 614.1,525.0 620.1,525.8 622.7,531.8 627.8,538.6 632.9,545.5 633.8,550.6 629.5,554.0 623.5,552.3 618.4,547.2 615.0,540.3 612.4,533.5Z" fill="#a78bc3" stroke="#a78bc3" stroke-width="1.4" stroke-linejoin="round"/>
<path d="M571.3,565.6 576.4,560.4 583.2,553.6 590.0,548.4 596.7,543.2 603.5,539.8 610.3,536.4 613.7,543.2 616.2,550.1 613.7,553.6 610.3,558.7 608.6,565.6 610.3,574.2 606.9,581.1 603.5,586.2 598.4,591.4 593.3,594.8 588.3,591.4 584.9,584.5 578.1,584.5 571.3,586.2 568.8,579.4 569.6,572.5Z" fill="#d3cde7" stroke="#d3cde7" stroke-width="1.4" stroke-linejoin="round"/>
<path d="M610.3,558.7 613.7,553.6 623.0,555.3 629.0,557.0 635.7,565.6 637.4,574.2 632.3,579.4 627.3,581.9 629.0,586.2 622.2,586.2 615.4,582.8 610.3,581.1 606.9,581.1 610.3,574.2 608.6,565.6Z" fill="#d3cde7" stroke="#d3cde7" stroke-width="1.4" stroke-linejoin="round"/>
<path d="M480.1,583.0 487.7,579.6 496.3,576.2 504.8,574.5 511.7,581.3 520.2,584.8 528.7,586.5 525.3,593.3 520.2,600.1 518.5,608.7 509.9,612.9 501.4,607.0 494.6,600.1 487.7,593.3 482.6,588.2Z" fill="#d3cde7" stroke="#d3cde7" stroke-width="1.4" stroke-linejoin="round"/>
<path d="M459.4,362.7 471.2,362.7 474.6,369.6 473.8,378.2 472.1,386.8 472.9,393.7 476.3,394.5 475.5,400.6 472.1,405.7 467.8,407.4 466.2,401.4 467.0,394.5 465.3,385.9 462.8,377.3 460.2,369.6Z" fill="#bbacd6" stroke="#bbacd6" stroke-width="1.4" stroke-linejoin="round"/>
<path d="M467.8,407.4 472.1,405.7 481.4,404.0 489.9,405.7 498.4,409.1 499.2,417.7 496.7,426.3 491.6,433.2 488.2,440.1 484.8,445.3 480.6,443.5 478.9,436.7 476.3,428.1 472.9,419.5 470.4,412.6Z" fill="#d3cde7" stroke="#d3cde7" stroke-width="1.4" stroke-linejoin="round"/>
<path d="M496.7,390.2 501.8,388.5 508.6,386.8 515.3,385.9 517.0,389.4 522.1,392.8 523.0,399.7 520.4,403.1 517.0,401.4 514.5,406.6 508.6,408.3 501.8,407.4 495.0,408.3 494.1,403.1 495.8,396.3Z" fill="#bbacd6" stroke="#bbacd6" stroke-width="1.4" stroke-linejoin="round"/>
<path d="M513.6,394.5 517.0,392.8 521.3,393.7 523.5,398.0 523.0,403.1 520.4,404.8 518.7,401.4 516.2,398.8Z" fill="#9376ae" stroke="#9376ae" stroke-width="1.4" stroke-linejoin="round"/>
<path d="M498.4,362.7 539.9,362.7 535.7,371.3 532.3,378.2 525.5,381.6 518.7,379.9 515.3,376.5 508.6,374.8 501.8,371.3Z" fill="#d3cde7" stroke="#d3cde7" stroke-width="1.4" stroke-linejoin="round"/>
<path d="M522.8,438.7 524.5,429.3 526.7,419.1 528.7,413.6 529.4,414.3 527.4,425.9 525.3,434.4 523.6,439.6Z" fill="#7f69a6" stroke="#7f69a6" stroke-width="1.4" stroke-linejoin="round"/>
<path d="M457.8,454.1 462.1,449.8 467.2,446.4 474.1,445.5 475.8,451.5 474.9,458.4 472.4,463.5 474.1,466.9 469.8,468.6 465.5,466.0 461.3,465.2 459.6,460.1Z" fill="#9376ae" stroke="#9376ae" stroke-width="1.4" stroke-linejoin="round"/>
<path d="M457.0,472.9 461.3,472.0 465.5,474.6 469.0,472.9 472.4,470.3 473.2,472.9 469.8,477.1 464.7,478.9 459.6,477.1Z" fill="#9376ae" stroke="#9376ae" stroke-width="1.4" stroke-linejoin="round"/>
<path d="M478.9,448.7 483.1,449.5 490.7,453.8 493.3,456.4 490.7,459.0 485.7,459.0 481.4,456.4Z" fill="#2e2672" stroke="#2e2672" stroke-width="1.4" stroke-linejoin="round"/>
<path d="M656.1,593.1 664.6,589.7 674.7,588.8 684.9,589.7 695.1,587.9 700.2,593.1 705.3,603.4 710.4,612.0 717.1,618.9 722.2,625.8 724.8,637.8 723.9,648.1 718.8,644.7 715.4,634.4 710.4,624.1 703.6,617.2 700.2,624.1 701.9,630.9 698.5,632.6 693.4,625.8 684.9,617.2 678.1,610.3 671.4,603.4 664.6,601.7 659.5,598.3Z" fill="#d3cde7" stroke="#d3cde7" stroke-width="1.4" stroke-linejoin="round"/>
<path d="M668.0,600.0 674.7,598.3 681.5,601.7 688.3,608.6 695.1,615.5 700.2,622.3 702.7,629.2 700.2,631.8 695.1,625.8 688.3,618.9 681.5,613.7 674.7,608.6 669.7,605.1Z" fill="#bbacd6" stroke="#bbacd6" stroke-width="1.4" stroke-linejoin="round"/>
<path d="M640.8,617.2 649.3,614.6 657.8,615.5 668.0,617.2 669.7,624.1 678.1,625.8 682.4,630.9 679.8,637.8 674.7,644.7 669.7,649.7 637.4,649.7 640.8,641.2 640.0,630.9Z" fill="#d3cde7" stroke="#d3cde7" stroke-width="1.4" stroke-linejoin="round"/>
<path d="M479.7,649.7 489.9,644.7 501.8,639.5 515.3,636.1 523.8,632.6 530.6,630.9 528.9,637.8 525.5,649.7Z" fill="#a78bc3" stroke="#a78bc3" stroke-width="1.4" stroke-linejoin="round"/>
<path d="M413.6,674.4 418.7,677.0 422.9,688.1 426.3,700.2 423.8,707.0 413.6,710.5Z" fill="#a78bc3" stroke="#a78bc3" stroke-width="1.4" stroke-linejoin="round"/>
<path d="M450.0,658.9 457.7,653.7 467.8,650.3 478.0,652.0 488.2,657.2 496.7,663.2 493.3,670.9 489.9,677.8 484.8,683.0 480.6,685.5 479.7,691.6 469.5,696.7 464.5,697.6 461.1,691.6 458.5,683.0 456.0,674.4 452.6,665.8Z" fill="#bbacd6" stroke="#bbacd6" stroke-width="1.4" stroke-linejoin="round"/>
<path d="M442.4,674.4 450.0,665.8 456.0,674.4 458.5,683.0 461.1,691.6 464.5,697.6 457.7,707.0 452.6,713.9 447.5,710.5 442.4,703.6 437.3,705.3 440.7,693.3 443.3,683.0Z" fill="#d3cde7" stroke="#d3cde7" stroke-width="1.4" stroke-linejoin="round"/>
<path d="M478.0,652.0 488.2,648.6 535.7,648.6 542.5,652.0 550.9,657.2 559.4,661.5 566.2,665.8 573.0,671.8 577.2,676.1 569.6,677.0 562.8,674.4 556.0,670.1 547.6,666.6 539.1,664.1 532.3,662.3 525.5,660.6 517.0,659.8 508.6,660.6 501.8,661.5 496.7,663.2 488.2,657.2Z" fill="#a78bc3" stroke="#a78bc3" stroke-width="1.4" stroke-linejoin="round"/>
<path d="M467.0,697.6 472.9,696.7 478.0,697.6 481.4,696.7 478.9,701.0 474.6,701.9 469.5,700.2Z" fill="#2e2672" stroke="#2e2672" stroke-width="1.4" stroke-linejoin="round"/>
<path d="M461.1,707.0 464.5,700.2 469.5,698.4 478.9,701.9 481.4,707.0 484.8,713.9 489.9,719.1 495.0,724.2 501.8,729.4 496.7,732.8 490.7,736.3 484.8,729.4 478.0,724.2 471.2,717.4 464.5,713.9Z" fill="#bbacd6" stroke="#bbacd6" stroke-width="1.4" stroke-linejoin="round"/>
<path d="M452.6,715.6 457.7,717.4 464.5,714.8 471.2,717.4 476.3,724.2 478.9,734.5 474.6,741.4 471.2,748.3 472.9,755.2 467.8,751.7 462.8,746.6 458.5,740.6 455.1,734.5 451.7,726.0Z" fill="#bbacd6" stroke="#bbacd6" stroke-width="1.4" stroke-linejoin="round"/>
<path d="M471.2,748.3 474.6,741.4 478.9,734.5 476.3,724.2 484.8,729.4 490.7,736.3 493.3,744.9 498.4,751.7 503.5,758.6 506.9,763.8 501.8,767.2 496.7,768.9 491.6,767.2 493.3,772.4 498.4,777.5 495.0,776.7 488.2,772.4 483.1,767.2 478.0,762.1 472.9,755.2Z" fill="#7f69a6" stroke="#7f69a6" stroke-width="1.4" stroke-linejoin="round"/>
<path d="M490.7,736.3 496.7,732.8 501.8,729.4 506.0,734.5 508.6,741.4 512.8,748.3 517.0,755.2 522.1,759.5 517.0,763.8 511.9,767.2 506.9,763.8 503.5,758.6 498.4,751.7 493.3,744.9Z" fill="#7f69a6" stroke="#7f69a6" stroke-width="1.4" stroke-linejoin="round"/>
<path d="M491.6,767.2 496.7,768.9 501.8,767.2 508.6,768.9 515.3,772.4 522.1,774.1 528.9,775.8 534.0,781.0 530.6,786.1 523.8,787.8 517.0,784.4 510.2,781.8 503.5,777.5 498.4,777.5 493.3,772.4Z" fill="#d3cde7" stroke="#d3cde7" stroke-width="1.4" stroke-linejoin="round"/>
<path d="M515.3,765.5 522.1,760.3 532.3,762.1 540.8,761.2 545.9,762.1 545.0,765.5 547.6,770.7 552.6,775.0 559.4,777.5 566.2,781.0 573.0,784.4 579.8,787.8 584.9,793.0 588.3,798.2 586.6,802.5 583.2,801.6 579.8,796.4 574.7,793.0 567.9,791.3 561.1,786.1 554.3,781.8 547.6,781.0 540.8,784.4 534.0,786.1 534.0,781.0 528.9,775.8 522.1,774.1 517.0,770.7Z" fill="#474283" stroke="#474283" stroke-width="1.4" stroke-linejoin="round"/>
<path d="M567.1,787.8 573.0,788.7 579.8,792.1 584.9,796.4 587.4,800.7 585.7,802.5 582.3,799.9 576.4,794.7 569.6,792.1Z" fill="#2e2672" stroke="#2e2672" stroke-width="1.4" stroke-linejoin="round"/>
<path d="M540.8,784.4 547.6,781.0 554.3,781.8 561.1,786.1 562.8,791.3 561.1,794.7 557.7,801.6 555.2,805.0 549.3,804.2 544.2,801.6 541.6,794.7Z" fill="#bbacd6" stroke="#bbacd6" stroke-width="1.4" stroke-linejoin="round"/>
<path d="M511.9,781.8 517.0,784.4 523.8,787.8 530.6,786.1 534.0,786.1 540.8,784.4 541.6,794.7 544.2,801.6 540.8,805.0 535.7,802.5 530.6,799.9 525.5,794.7 520.4,790.4 515.3,787.0Z" fill="#7f69a6" stroke="#7f69a6" stroke-width="1.4" stroke-linejoin="round"/>
<path d="M546.7,805.0 555.2,805.0 559.4,811.9 566.2,817.1 567.9,823.9 564.5,827.4 559.4,830.8 557.7,837.7 554.3,844.6 549.3,850.6 544.2,849.7 543.3,844.6 549.3,837.7 552.6,829.1 551.8,822.2 549.3,817.1 546.7,811.1Z" fill="#d3cde7" stroke="#d3cde7" stroke-width="1.4" stroke-linejoin="round"/>
<path d="M543.3,805.0 546.7,805.0 546.7,811.1 549.3,817.1 551.8,822.2 552.6,829.1 549.3,837.7 546.7,842.9 545.9,837.7 549.3,830.8 548.4,823.9 545.9,818.8 544.2,811.9Z" fill="#7f69a6" stroke="#7f69a6" stroke-width="1.4" stroke-linejoin="round"/>
<path d="M487.7,855.2 489.4,851.0 494.6,847.6 499.7,845.0 506.5,849.3 513.4,848.4 520.2,847.6 527.0,846.7 533.9,845.8 539.0,844.1 541.5,842.4 539.8,849.3 537.3,856.1 535.6,862.9 539.0,868.0 535.6,877.4 528.7,875.7 521.9,871.5 515.1,866.3 508.2,862.9 501.4,860.4 494.6,859.5 489.4,857.8Z" fill="#474283" stroke="#474283" stroke-width="1.4" stroke-linejoin="round"/>
<path d="M414.3,791.2 421.1,787.8 428.0,782.6 433.1,780.1 434.8,786.1 437.4,791.2 439.9,796.3 438.2,803.1 437.4,810.0 438.2,816.8 436.5,823.6 431.4,825.3 426.2,828.8 422.8,831.3 417.7,827.1 415.1,825.3 413.4,816.8 411.7,808.3 412.6,799.7Z" fill="#a78bc3" stroke="#a78bc3" stroke-width="1.4" stroke-linejoin="round"/>
<path d="M690.1,885.1 692.7,882.6 697.8,880.9 699.5,883.4 706.4,884.3 714.9,884.3 723.5,882.6 732.0,881.7 740.5,880.9 740.5,885.1 735.4,888.5 726.9,890.3 720.0,892.0 714.9,892.8 709.8,890.3 703.0,890.3 696.1,891.1 691.0,890.3Z" fill="#d3cde7" stroke="#d3cde7" stroke-width="1.4" stroke-linejoin="round"/>
<path d="M608.6,738.0 613.7,732.8 620.5,731.1 623.9,739.7 630.7,744.9 639.1,741.4 645.9,734.5 651.0,729.4 657.8,734.5 666.3,738.0 668.0,731.1 673.0,726.0 684.9,723.4 698.5,721.7 708.7,722.5 710.4,731.1 705.3,736.3 695.1,743.1 688.3,748.3 691.7,753.5 690.0,758.6 684.9,763.8 679.8,767.2 675.6,771.5 678.1,777.5 674.7,781.0 668.0,779.2 662.9,780.1 659.5,777.5 654.4,780.1 651.0,775.8 647.6,768.9 640.8,772.4 635.7,777.5 630.7,781.0 627.3,786.1 622.2,784.4 615.4,782.7 608.6,779.2 603.5,775.8 604.4,768.9 603.5,758.6 605.2,748.3Z" fill="#bbacd6" stroke="#bbacd6" stroke-width="1.4" stroke-linejoin="round"/>
<path d="M668.0,731.1 673.0,726.0 684.9,723.4 698.5,721.7 708.7,722.5 710.4,731.1 705.3,736.3 695.1,743.1 688.3,748.3 681.5,750.0 676.4,744.9 671.4,739.7Z" fill="#9376ae" stroke="#9376ae" stroke-width="1.4" stroke-linejoin="round"/>
<path d="M691.7,753.5 698.5,752.6 705.3,750.9 710.4,754.3 712.9,758.6 708.7,760.3 701.9,760.3 695.1,762.1 690.9,760.3Z" fill="#5b428c" stroke="#5b428c" stroke-width="1.4" stroke-linejoin="round"/>
<path d="M630.7,781.0 635.7,777.5 640.8,772.4 647.6,768.9 651.0,775.8 654.4,780.1 657.8,786.1 656.1,791.3 651.0,789.6 644.2,793.0 637.4,796.4 633.2,791.3Z" fill="#9376ae" stroke="#9376ae" stroke-width="1.4" stroke-linejoin="round"/>
<path d="M637.4,798.2 642.5,794.7 649.3,789.6 656.1,791.3 661.2,793.9 666.3,799.0 671.4,803.3 673.0,805.9 668.0,807.6 664.6,811.1 657.8,811.9 651.0,812.8 645.9,808.5 640.8,803.3Z" fill="#2e2672" stroke="#2e2672" stroke-width="1.4" stroke-linejoin="round"/>
<path d="M603.5,786.1 610.3,784.4 617.1,785.3 625.6,787.8 632.3,793.0 635.7,799.9 637.4,806.8 637.4,813.6 632.3,814.5 627.3,811.1 622.2,806.8 617.1,801.6 612.0,796.4 606.9,791.3Z" fill="#d3cde7" stroke="#d3cde7" stroke-width="1.4" stroke-linejoin="round"/>
<path d="M627.3,811.1 632.3,814.5 637.4,813.6 640.8,817.1 651.0,813.6 657.8,812.8 659.5,818.8 656.1,825.7 651.0,827.4 644.2,829.1 639.1,829.1 634.0,823.9 630.7,818.8Z" fill="#bbacd6" stroke="#bbacd6" stroke-width="1.4" stroke-linejoin="round"/>
<path d="M651.0,813.6 657.8,811.9 664.6,811.1 668.0,814.5 674.7,817.9 681.5,821.4 688.3,825.7 695.1,830.8 700.2,835.1 695.1,834.3 688.3,831.7 683.2,829.1 691.7,836.0 688.3,836.8 681.5,831.7 674.7,828.2 668.0,825.7 661.2,823.9 657.8,820.5Z" fill="#9376ae" stroke="#9376ae" stroke-width="1.4" stroke-linejoin="round"/>
<path d="M639.8,837.3 644.9,833.9 651.7,831.3 658.5,829.6 665.4,830.5 670.5,833.0 667.1,836.5 672.2,839.0 679.0,842.4 682.5,840.7 679.9,845.8 673.9,847.6 672.2,852.7 675.6,859.5 679.9,865.5 675.6,862.9 670.5,857.8 667.1,861.2 667.9,867.2 663.7,862.9 660.3,856.9 656.8,859.5 654.3,861.2 650.9,856.1 650.0,849.3 644.9,844.1 641.5,840.7Z" fill="#bbacd6" stroke="#bbacd6" stroke-width="1.4" stroke-linejoin="round"/>
<path d="M640.8,837.7 645.9,834.3 651.0,832.5 654.4,836.0 657.8,842.9 659.5,851.5 657.8,858.3 654.4,862.6 651.0,860.1 650.2,853.2 645.9,848.0 642.5,842.9Z" fill="#a78bc3" stroke="#a78bc3" stroke-width="1.4" stroke-linejoin="round"/>
<path d="M606.9,660.6 613.7,657.2 623.9,656.3 634.0,658.0 640.8,662.3 639.1,670.9 632.3,676.1 625.6,674.4 618.8,679.5 612.0,684.7 606.9,679.5 605.2,669.2Z" fill="#d3cde7" stroke="#d3cde7" stroke-width="1.4" stroke-linejoin="round"/>
<path d="M606.9,653.7 617.1,652.0 634.0,653.7 651.0,652.0 661.2,648.6 606.9,648.6Z" fill="#d3cde7" stroke="#d3cde7" stroke-width="1.4" stroke-linejoin="round"/>
<path d="M669.7,660.6 674.7,658.0 683.2,658.9 693.4,662.3 705.3,664.1 717.1,665.8 723.9,669.2 722.2,674.4 715.4,676.1 708.7,674.4 705.3,679.5 701.9,684.7 707.0,688.1 701.9,691.6 693.4,693.3 686.6,688.1 679.8,679.5 673.0,670.9 669.7,665.8Z" fill="#bbacd6" stroke="#bbacd6" stroke-width="1.4" stroke-linejoin="round"/>
<path d="M708.7,700.2 715.4,698.4 722.2,698.4 732.4,696.7 735.8,700.2 732.4,707.0 729.0,713.9 732.4,720.8 729.0,724.2 722.2,724.2 717.1,717.4 712.1,710.5 709.5,705.3Z" fill="#d3cde7" stroke="#d3cde7" stroke-width="1.4" stroke-linejoin="round"/>
<path d="M688.3,748.3 695.1,743.1 705.3,736.3 710.4,731.1 708.7,722.5 717.1,717.4 722.2,724.2 720.5,731.1 718.8,738.0 717.1,744.9 713.8,751.7 708.7,755.2 701.9,751.7 695.1,751.7 690.0,751.7Z" fill="#d3cde7" stroke="#d3cde7" stroke-width="1.4" stroke-linejoin="round"/>
<path d="M133.4,698.4 141.9,695.9 150.4,693.3 158.9,689.8 165.6,691.6 167.3,695.9 160.6,698.4 155.5,700.2 153.8,707.0 148.7,712.2 141.9,715.6 136.8,717.4 135.1,708.8 134.3,703.6Z" fill="#d3cde7" stroke="#d3cde7" stroke-width="1.4" stroke-linejoin="round"/>
<path d="M134.3,731.1 141.9,729.4 150.4,727.7 153.8,731.1 147.0,734.5 140.2,738.0 135.1,739.7Z" fill="#bbacd6" stroke="#bbacd6" stroke-width="1.4" stroke-linejoin="round"/>
<path d="M135.1,739.7 140.2,738.0 147.0,734.5 153.8,731.1 160.6,729.4 167.3,731.1 174.1,734.5 172.4,741.4 174.1,748.3 177.5,755.2 178.4,762.1 170.7,765.5 162.3,767.2 155.5,765.5 153.8,758.6 147.0,753.5 140.2,751.7 135.1,750.0 134.3,744.9Z" fill="#d3cde7" stroke="#d3cde7" stroke-width="1.4" stroke-linejoin="round"/>
<path d="M174.1,734.5 180.9,726.0 187.7,717.4 194.5,715.6 203.0,717.4 201.3,724.2 199.6,731.1 191.1,738.0 182.6,744.9 175.8,744.9 172.4,741.4Z" fill="#d3cde7" stroke="#d3cde7" stroke-width="1.4" stroke-linejoin="round"/>
<path d="M124.9,762.1 130.0,751.7 134.3,747.4 140.2,751.7 147.0,753.5 153.8,758.6 155.5,765.5 150.4,768.9 143.6,767.2 136.8,768.9 130.0,772.4 125.8,768.9Z" fill="#bbacd6" stroke="#bbacd6" stroke-width="1.4" stroke-linejoin="round"/>
<path d="M115.6,786.1 119.9,779.2 125.8,772.4 130.0,772.4 136.8,768.9 143.6,767.2 150.4,768.9 155.5,765.5 158.9,772.4 155.5,779.2 153.8,784.4 160.6,787.8 165.6,793.0 162.3,794.7 153.8,791.3 147.0,786.1 140.2,784.4 133.4,787.8 126.6,791.3 119.9,789.6Z" fill="#a78bc3" stroke="#a78bc3" stroke-width="1.4" stroke-linejoin="round"/>
<path d="M170.7,748.3 175.8,743.1 182.6,744.9 191.1,738.0 199.6,731.1 198.7,741.4 197.9,748.3 203.0,755.2 208.0,762.1 208.9,767.2 203.0,768.9 194.5,770.7 187.7,772.4 186.0,775.8 180.9,774.1 179.2,767.2 177.5,758.6 174.1,753.5Z" fill="#2e2672" stroke="#2e2672" stroke-width="1.4" stroke-linejoin="round"/>
<path d="M203.0,717.4 209.7,717.4 214.8,722.5 219.9,729.4 225.0,738.0 229.2,744.0 221.6,744.9 213.1,745.7 204.7,746.6 198.7,747.4 198.7,741.4 199.6,731.1 201.3,724.2Z" fill="#2e2672" stroke="#2e2672" stroke-width="1.4" stroke-linejoin="round"/>
<path d="M214.8,722.5 221.6,719.1 230.1,720.8 238.6,722.5 247.0,726.0 255.5,725.1 262.3,726.8 269.1,731.1 272.5,735.4 270.8,739.7 265.7,742.3 264.0,748.3 260.6,751.7 255.5,753.5 248.7,751.7 243.7,748.3 238.6,744.9 233.5,741.4 229.2,744.0 225.0,738.0 219.9,729.4Z" fill="#9376ae" stroke="#9376ae" stroke-width="1.4" stroke-linejoin="round"/>
<path d="M198.7,747.4 204.7,746.6 213.1,745.7 221.6,744.9 229.2,744.0 233.5,741.4 238.6,744.9 243.7,748.3 247.0,753.5 242.0,756.9 236.9,760.3 231.8,762.1 225.0,760.3 218.2,762.1 211.4,765.5 208.0,762.1 203.0,755.2 199.6,751.7Z" fill="#a78bc3" stroke="#a78bc3" stroke-width="1.4" stroke-linejoin="round"/>
<path d="M209.7,767.2 214.8,763.8 221.6,761.2 228.4,761.2 233.5,764.6 235.2,768.9 231.8,774.1 228.4,779.2 223.3,782.7 218.2,784.4 213.1,784.4 210.6,777.5Z" fill="#2e2672" stroke="#2e2672" stroke-width="1.4" stroke-linejoin="round"/>
<path d="M236.9,760.3 242.0,756.9 248.7,754.3 255.5,756.0 258.1,760.3 256.4,765.5 253.8,770.7 255.5,775.8 257.2,781.0 255.5,783.5 252.1,781.8 249.6,775.8 246.2,770.7 241.1,767.2Z" fill="#2e2672" stroke="#2e2672" stroke-width="1.4" stroke-linejoin="round"/>
<path d="M155.5,781.0 160.6,774.1 167.3,770.7 175.8,767.2 180.9,774.1 186.0,775.8 187.7,772.4 194.5,770.7 203.0,768.9 208.9,767.2 210.6,777.5 213.1,784.4 206.3,786.1 209.7,793.0 211.4,797.3 204.7,794.7 197.9,793.0 189.4,791.3 182.6,793.0 175.8,794.7 167.3,793.0 162.3,787.8Z" fill="#5b428c" stroke="#5b428c" stroke-width="1.4" stroke-linejoin="round"/>
<path d="M228.4,779.2 231.8,774.1 235.2,768.9 241.1,767.2 246.2,770.7 249.6,775.8 251.3,781.8 247.0,784.4 240.3,786.1 235.2,787.8 230.1,789.6 223.3,786.1 218.2,784.4 223.3,782.7Z" fill="#5b428c" stroke="#5b428c" stroke-width="1.4" stroke-linejoin="round"/>
<path d="M260.6,751.7 264.0,748.3 265.7,742.3 270.8,739.7 274.2,746.6 275.9,753.5 274.2,760.3 273.3,767.2 275.9,772.4 275.0,779.2 270.8,782.7 265.7,786.1 262.3,781.0 258.9,774.1 257.2,767.2 258.1,760.3Z" fill="#d3cde7" stroke="#d3cde7" stroke-width="1.4" stroke-linejoin="round"/>
<path d="M270.8,739.7 272.5,735.4 279.3,736.3 287.7,738.0 296.2,739.7 304.7,743.1 313.2,746.6 308.1,750.0 303.9,753.5 303.0,758.6 299.6,763.8 294.5,767.2 289.4,768.1 284.4,765.5 279.3,762.1 275.9,758.6 275.9,753.5 274.2,746.6Z" fill="#a78bc3" stroke="#a78bc3" stroke-width="1.4" stroke-linejoin="round"/>
<path d="M303.9,753.5 311.5,750.0 320.0,748.3 326.8,748.0 331.8,750.0 330.1,756.9 325.1,762.1 318.3,766.4 309.8,770.7 301.3,774.1 293.7,777.5 291.1,772.4 296.2,767.2 301.3,762.1 303.0,758.6Z" fill="#2e2672" stroke="#2e2672" stroke-width="1.4" stroke-linejoin="round"/>
<path d="M275.9,762.1 279.3,763.8 286.1,767.2 291.1,772.4 293.7,777.5 288.6,782.7 282.7,784.4 277.6,783.5 275.0,779.2 275.9,772.4 273.3,767.2Z" fill="#9376ae" stroke="#9376ae" stroke-width="1.4" stroke-linejoin="round"/>
<path d="M251.3,781.8 255.5,783.5 257.2,781.0 262.3,781.0 265.7,786.1 270.8,782.7 275.0,779.2 277.6,783.5 282.7,784.4 277.6,791.3 272.5,797.3 268.2,804.2 265.7,811.1 267.4,817.9 271.6,823.1 273.3,824.8 267.4,828.2 262.3,832.5 257.2,838.6 253.0,845.4 248.7,848.0 243.7,848.9 238.6,848.0 235.2,851.5 233.5,845.4 228.4,840.3 225.0,835.1 222.5,831.7 228.4,828.2 228.4,819.7 226.7,819.7 230.1,808.5 234.3,799.9 231.8,793.0 230.1,789.6 235.2,787.8 240.3,786.1 247.0,784.4Z" fill="#2e2672" stroke="#2e2672" stroke-width="1.4" stroke-linejoin="round"/>
<path d="M239.4,794.7 242.8,788.7 246.2,787.0 247.9,793.9 250.4,800.7 252.1,809.3 253.0,816.2 247.9,816.2 243.7,815.4 242.0,807.6 240.3,800.7Z" fill="#5b428c" stroke="#5b428c" stroke-width="1.4" stroke-linejoin="round"/>
<path d="M156.3,800.7 161.4,795.6 166.5,797.3 175.0,795.6 181.8,793.9 188.5,792.1 197.0,793.9 202.1,797.3 199.6,804.2 198.7,811.1 195.3,815.4 190.2,821.4 183.5,817.1 176.7,816.2 169.9,817.9 163.1,816.2 159.7,811.1 155.5,809.3Z" fill="#2e2672" stroke="#2e2672" stroke-width="1.4" stroke-linejoin="round"/>
<path d="M202.1,797.3 208.9,793.9 215.7,792.1 222.5,788.7 229.2,788.7 232.6,793.9 234.3,800.7 230.9,807.6 228.4,814.5 225.9,818.8 219.1,817.9 212.3,819.7 205.5,816.2 200.4,811.1 199.6,804.2Z" fill="#2e2672" stroke="#2e2672" stroke-width="1.4" stroke-linejoin="round"/>
<path d="M115.6,791.3 119.9,789.6 126.6,791.3 133.4,787.8 140.2,784.4 145.3,787.8 146.1,793.0 151.2,789.6 158.0,791.3 161.4,795.6 156.3,800.7 155.5,809.3 159.7,814.5 154.6,819.7 147.8,821.4 142.8,826.5 137.7,831.7 132.6,833.4 129.2,836.0 122.4,834.3 115.6,832.5 108.8,831.7 112.2,824.8 114.8,817.9 116.5,809.3 117.3,800.7 114.8,797.3 112.2,795.6Z" fill="#2e2672" stroke="#2e2672" stroke-width="1.4" stroke-linejoin="round"/>
<path d="M108.8,793.0 110.5,787.0 114.8,781.8 119.9,775.8 122.4,777.5 119.0,783.5 115.6,788.7 113.1,793.0Z" fill="#2e2672" stroke="#2e2672" stroke-width="1.4" stroke-linejoin="round"/>
<path d="M137.7,831.7 142.8,826.5 147.8,821.4 153.8,823.1 155.5,828.2 152.9,833.4 147.8,835.1 142.8,836.0Z" fill="#bbacd6" stroke="#bbacd6" stroke-width="1.4" stroke-linejoin="round"/>
<path d="M169.9,817.9 176.7,816.2 183.5,817.1 190.2,821.4 195.3,815.4 196.2,821.4 197.0,826.5 199.6,833.4 203.8,838.6 205.5,845.4 208.0,850.6 203.0,854.0 196.2,848.0 189.4,846.3 182.6,847.2 177.5,844.6 176.7,836.0 175.0,829.1 172.4,823.9Z" fill="#d3cde7" stroke="#d3cde7" stroke-width="1.4" stroke-linejoin="round"/>
<path d="M195.3,815.4 202.1,817.9 205.5,816.2 212.3,819.7 219.1,817.9 225.9,818.8 228.4,828.2 222.5,831.7 225.0,835.1 228.4,840.3 226.7,845.4 221.6,848.9 214.8,852.3 209.7,850.6 206.3,845.4 204.7,838.6 200.4,833.4 197.9,826.5 197.0,821.4Z" fill="#7f69a6" stroke="#7f69a6" stroke-width="1.4" stroke-linejoin="round"/>
<path d="M165.6,866.9 169.0,857.5 175.0,852.3 181.8,846.3 188.5,846.3 195.3,848.0 202.1,854.0 208.0,850.6 214.8,852.3 221.6,848.9 226.7,845.4 233.5,845.4 235.2,851.5 231.8,857.5 226.7,863.5 219.9,861.8 213.1,860.9 206.3,859.2 197.9,858.3 189.4,856.6 182.6,859.2 175.8,860.9 169.9,863.5Z" fill="#9376ae" stroke="#9376ae" stroke-width="1.4" stroke-linejoin="round"/>
<path d="M152.9,848.9 158.9,848.0 167.3,846.3 175.0,846.3 175.0,852.3 169.0,857.5 165.6,866.9 163.1,867.8 159.7,862.6 156.3,855.8Z" fill="#bbacd6" stroke="#bbacd6" stroke-width="1.4" stroke-linejoin="round"/>
<path d="M313.2,809.1 318.3,805.7 324.3,803.1 329.4,806.6 331.1,810.0 326.8,814.2 323.4,816.8 319.2,813.4 315.7,811.7Z" fill="#5b428c" stroke="#5b428c" stroke-width="1.4" stroke-linejoin="round"/>
<path d="M291.0,821.1 295.2,818.5 298.7,819.4 296.9,822.8 293.5,824.5Z" fill="#5b428c" stroke="#5b428c" stroke-width="1.4" stroke-linejoin="round"/>
<path d="M337.9,802.3 342.2,801.4 345.6,804.0 344.8,807.4 340.5,805.7Z" fill="#9376ae" stroke="#9376ae" stroke-width="1.4" stroke-linejoin="round"/>
<path d="M396.3,676.1 403.1,674.4 413.6,672.7 413.6,710.5 408.2,714.8 403.1,713.9 398.0,708.8 394.6,700.2 392.9,691.6 393.7,683.0Z" fill="#a78bc3" stroke="#a78bc3" stroke-width="1.4" stroke-linejoin="round"/>
<path d="M372.5,701.9 379.3,698.4 391.2,691.6 394.6,700.2 398.0,708.8 403.1,713.9 408.2,714.8 404.8,719.1 398.0,722.5 391.2,729.4 384.4,734.5 377.6,737.1 370.8,734.5 364.1,731.1 357.3,727.7 350.5,725.1 343.7,725.1 336.9,728.5 331.8,732.8 330.1,738.0 325.1,731.1 320.0,724.2 314.9,720.8 313.2,713.9 320.0,717.4 328.4,719.1 336.9,717.4 345.4,713.9 353.9,717.4 360.7,722.5 367.5,724.2 372.5,720.8 371.7,712.2Z" fill="#d3cde7" stroke="#d3cde7" stroke-width="1.4" stroke-linejoin="round"/>
<path d="M286.1,729.4 291.1,720.8 296.2,712.2 303.0,707.0 313.2,705.3 323.4,703.6 331.8,701.9 340.3,703.6 345.4,707.0 342.0,712.2 335.2,715.6 328.4,719.1 320.0,717.4 313.2,713.9 314.9,720.8 320.0,724.2 325.1,731.1 330.1,738.0 326.8,741.4 320.0,738.0 313.2,734.5 306.4,731.1 299.6,732.8 292.8,732.8Z" fill="#d3cde7" stroke="#d3cde7" stroke-width="1.4" stroke-linejoin="round"/>
<path d="M291.1,648.6 323.4,648.6 325.1,655.5 326.8,662.3 323.4,669.2 316.6,672.7 308.1,670.9 301.3,665.8 296.2,658.9 292.8,653.7Z" fill="#d3cde7" stroke="#d3cde7" stroke-width="1.4" stroke-linejoin="round"/>
<path d="M322.5,648.6 335.2,648.6 336.9,655.5 333.5,662.3 328.4,665.8 325.9,669.2 323.4,664.1 325.1,657.2Z" fill="#2e2672" stroke="#2e2672" stroke-width="1.4" stroke-linejoin="round"/>
<path d="M340.3,648.6 357.3,648.6 359.8,657.2 357.3,669.2 355.6,679.5 353.9,689.8 350.5,696.7 346.3,695.0 345.4,683.0 344.6,669.2 342.0,658.9Z" fill="#d3cde7" stroke="#d3cde7" stroke-width="1.4" stroke-linejoin="round"/>
<path d="M656.5,594.7 664.1,590.4 672.6,589.5 681.1,591.3 689.5,588.7 696.3,587.8 700.6,591.3 703.1,597.3 707.3,603.3 711.6,609.3 718.4,615.3 723.5,621.3 725.2,630.8 723.5,641.1 721.8,649.7 718.4,644.5 715.0,637.7 713.3,630.8 708.2,623.9 704.8,618.8 698.0,620.5 691.2,613.6 684.5,608.4 677.7,605.0 670.9,605.0 667.5,610.2 662.4,606.7 659.0,600.7Z" fill="#d3cde7" stroke="#d3cde7" stroke-width="1.4" stroke-linejoin="round"/>
<path d="M668.3,599.0 674.3,597.3 681.1,600.7 686.1,607.6 692.9,614.5 699.7,619.6 704.0,626.5 702.3,630.8 696.3,628.2 689.5,623.1 682.8,617.9 676.0,612.7 670.9,605.9Z" fill="#bbacd6" stroke="#bbacd6" stroke-width="1.4" stroke-linejoin="round"/>
<path d="M640.4,618.8 647.1,615.3 655.6,613.6 664.1,615.3 669.2,618.8 670.9,625.6 677.7,627.4 681.9,632.5 677.7,641.1 672.6,649.7 665.8,656.6 659.0,660.9 653.9,665.2 647.1,665.2 640.4,663.5 633.6,665.2 626.8,663.5 616.6,660.0 606.4,653.1 611.5,649.7 620.0,651.4 630.2,649.7 638.7,642.8 639.5,636.0 642.1,630.8 640.4,623.9Z" fill="#d3cde7" stroke="#d3cde7" stroke-width="1.4" stroke-linejoin="round"/>
<path d="M605.6,665.2 609.8,660.9 626.8,659.2 640.4,662.6 642.1,670.3 638.7,675.5 633.6,678.9 625.1,682.4 616.6,684.9 609.8,682.4 606.4,675.5Z" fill="#d3cde7" stroke="#d3cde7" stroke-width="1.4" stroke-linejoin="round"/>
<path d="M670.0,660.9 676.0,658.3 681.1,662.6 684.5,669.5 691.2,674.6 699.7,678.1 707.3,681.5 704.8,686.7 698.0,690.1 693.8,693.5 689.5,690.1 684.5,683.2 677.7,678.1 672.6,671.2 670.9,666.0Z" fill="#bbacd6" stroke="#bbacd6" stroke-width="1.4" stroke-linejoin="round"/>
<path d="M682.8,661.7 687.8,658.3 696.3,661.7 704.8,665.2 715.0,665.2 721.8,666.9 723.5,672.1 718.4,675.5 711.6,673.8 704.8,672.1 699.7,675.5 692.9,673.8 687.8,668.6Z" fill="#bbacd6" stroke="#bbacd6" stroke-width="1.4" stroke-linejoin="round"/>
<path d="M731.9,655.7 738.7,651.4 745.5,648.0 748.9,653.1 745.5,658.3 740.4,660.0 738.7,665.2 740.4,672.1 738.7,678.9 739.6,685.8 740.4,691.0 737.0,696.1 734.5,701.3 733.6,706.4 732.8,713.3 731.1,718.5 729.4,721.9 731.9,724.5 736.2,727.9 737.9,731.4 730.2,729.6 723.5,727.1 720.9,720.2 715.0,716.8 709.9,711.6 709.0,704.7 715.0,701.3 723.5,698.7 730.2,694.4 733.6,689.2 731.9,682.4 730.2,675.5 731.9,665.2Z" fill="#d3cde7" stroke="#d3cde7" stroke-width="1.4" stroke-linejoin="round"/>
<path d="M688.7,725.4 698.0,721.9 708.2,719.3 715.0,716.8 720.9,720.2 723.5,727.1 722.6,733.9 721.8,740.8 722.6,747.7 718.4,751.1 711.6,749.4 704.8,751.1 698.0,747.7 691.2,749.4 687.8,742.5 692.9,735.7 691.2,730.5Z" fill="#d3cde7" stroke="#d3cde7" stroke-width="1.4" stroke-linejoin="round"/>
<path d="M588.3,270.9 592.5,263.1 600.1,260.5 606.9,259.7 612.0,261.4 615.4,269.1 620.5,274.3 621.3,281.2 617.1,286.3 612.0,289.8 605.2,286.3 598.4,282.9 591.6,281.2 588.3,276.0Z" fill="#d3cde7" stroke="#d3cde7" stroke-width="1.4" stroke-linejoin="round"/>
<path d="M584.0,289.8 586.6,281.2 591.6,281.2 595.0,288.0 598.4,296.6 596.7,305.2 593.3,312.1 590.0,315.6 586.6,310.4 584.9,300.1Z" fill="#d3cde7" stroke="#d3cde7" stroke-width="1.4" stroke-linejoin="round"/>
<path d="M495.0,361.8 496.7,349.9 501.8,343.1 501.8,331.0 508.6,329.3 515.3,329.3 522.1,332.7 523.8,339.6 530.6,344.8 537.4,349.9 542.5,356.8 545.0,361.8Z" fill="#d3cde7" stroke="#d3cde7" stroke-width="1.4" stroke-linejoin="round"/>
<path d="M459.4,361.8 464.5,356.8 472.9,356.8 473.8,361.8Z" fill="#bbacd6" stroke="#bbacd6" stroke-width="1.4" stroke-linejoin="round"/>
<path d="M621.3,348.2 640.0,347.4 638.3,351.7 632.3,354.2 625.6,353.4Z" fill="#a78bc3" stroke="#a78bc3" stroke-width="1.4" stroke-linejoin="round"/></g>
<use href="#top"/>
</g>
<text x="1165.2" y="103.6" font-size="13.2" fill="#bfe0ea" text-anchor="middle">-30°</text>
<text x="1258.5" y="103.6" font-size="13.2" fill="#bfe0ea" text-anchor="middle">-20°</text>
<text x="1336.3" y="103.6" font-size="13.2" fill="#bfe0ea" text-anchor="middle">-10°</text>
<text x="1402.9" y="103.6" font-size="13.2" fill="#bfe0ea" text-anchor="middle">0°</text>
<text x="1481.9" y="103.6" font-size="13.2" fill="#bfe0ea" text-anchor="middle">10°</text>
<text x="1544.9" y="103.6" font-size="13.2" fill="#bfe0ea" text-anchor="middle">20°</text>
<text x="1617.4" y="103.6" font-size="13.2" fill="#bfe0ea" text-anchor="middle">30°</text>
<text x="1696.2" y="103.6" font-size="13.2" fill="#bfe0ea" text-anchor="middle">40°</text>
<text x="1788.7" y="103.6" font-size="13.2" fill="#bfe0ea" text-anchor="middle">50°</text>
<text x="1900.2" y="103.6" font-size="13.2" fill="#bfe0ea" text-anchor="middle">60°</text>
<text x="2063.7" y="103.6" font-size="13.2" fill="#bfe0ea" text-anchor="middle">70°</text>
<text x="1147.5" y="278.5" font-size="13.2" fill="#bfe0ea" text-anchor="middle">60°</text>
<text x="1148.4" y="525.0" font-size="13.2" fill="#bfe0ea" text-anchor="middle">50°</text>
<text x="1148.4" y="762.5" font-size="13.2" fill="#bfe0ea" text-anchor="middle">40°</text>
<text x="2069.4" y="379.0" font-size="13.2" fill="#bfe0ea" text-anchor="middle">50°</text>
<text x="2069.9" y="653.0" font-size="13.2" fill="#bfe0ea" text-anchor="middle">40°</text>
<text x="1297.1" y="894.0" font-size="13.2" fill="#bfe0ea" text-anchor="middle">0°</text>
<text x="1478.9" y="896.0" font-size="13.2" fill="#bfe0ea" text-anchor="middle">10°</text>
<text x="1663.9" y="896.0" font-size="13.2" fill="#bfe0ea" text-anchor="middle">20°</text>
<text x="1850.9" y="896.0" font-size="13.2" fill="#bfe0ea" text-anchor="middle">30°</text>
<text x="2045.9" y="896.0" font-size="13.2" fill="#bfe0ea" text-anchor="middle">40°</text>
<path d="M1143.8,890.6V896.2H1444.7V890.6M1244.1,890.6V896.2M1344.5,890.6V896.2" fill="none" stroke="#808080" stroke-width="1.2"/><text x="1136.4" y="881.3" font-size="17" fill="#757575" textLength="9.3" lengthAdjust="spacingAndGlyphs">0</text><text x="1227.3" y="881.3" font-size="17" fill="#757575" textLength="28.9" lengthAdjust="spacingAndGlyphs">500</text><text x="1319.7" y="881.3" font-size="17" fill="#757575" textLength="44.4" lengthAdjust="spacingAndGlyphs">1 000</text><text x="1423.7" y="881.3" font-size="17" fill="#757575" textLength="72.7" lengthAdjust="spacingAndGlyphs">1 500 km</text>
<text x="1150.2" y="129.2" font-size="29" font-weight="bold" fill="#000" textLength="174.5" lengthAdjust="spacingAndGlyphs">Spring, 2015</text>
</g>
<rect x="1122.9" y="77.5" width="973.4" height="833.9" fill="none" stroke="#000" stroke-width="2.2"/>
<g clip-path="url(#c2)">
<g transform="matrix(1.001,0,0,0.9973,-5.63,884.19)">
<use href="#base"/>
<g clip-path="url(#landclip)"><path d="M119.3,766.1 127.8,766.1 127.8,772.9 119.3,778.1Z" fill="#a78bc3" stroke="#a78bc3" stroke-width="1.4" stroke-linejoin="round"/>
<path d="M225.1,815.7 230.2,815.7 230.2,829.4 225.1,829.4Z" fill="#2e2672" stroke="#2e2672" stroke-width="1.4" stroke-linejoin="round"/>
<path d="M194.4,767.8 211.4,764.4 211.4,771.2 196.1,774.6Z" fill="#2e2672" stroke="#2e2672" stroke-width="1.4" stroke-linejoin="round"/>
<path d="M173.9,750.7 180.7,743.8 187.6,750.7 180.7,757.5Z" fill="#2e2672" stroke="#2e2672" stroke-width="1.4" stroke-linejoin="round"/>
<path d="M153.4,789.2 167.1,790.9 166.2,797.8 154.3,799.5Z" fill="#2e2672" stroke="#2e2672" stroke-width="1.4" stroke-linejoin="round"/>
<path d="M142.3,784.1 150.9,784.1 150.9,792.6 143.2,793.5Z" fill="#2e2672" stroke="#2e2672" stroke-width="1.4" stroke-linejoin="round"/>
<path d="M187.6,806.3 204.6,806.3 208.9,818.3 191.0,820.0Z" fill="#2e2672" stroke="#2e2672" stroke-width="1.4" stroke-linejoin="round"/>
<path d="M231.1,759.2 239.6,756.7 243.0,766.1 235.3,768.6Z" fill="#2e2672" stroke="#2e2672" stroke-width="1.4" stroke-linejoin="round"/>
<path d="M204.6,782.3 221.7,780.6 231.9,787.5 221.7,791.8 208.0,794.3Z" fill="#2e2672" stroke="#2e2672" stroke-width="1.4" stroke-linejoin="round"/>
<path d="M217.1,478.3 221.3,468.8 227.3,472.3 231.6,475.7 232.4,481.7 231.6,488.5 229.0,494.5 226.5,494.5 224.8,487.7 223.1,482.5Z" fill="#a78bc3" stroke="#a78bc3" stroke-width="1.4" stroke-linejoin="round"/>
<path d="M284.5,450.8 289.6,445.7 295.6,447.4 298.1,454.3 299.8,462.8 302.4,468.8 306.7,474.8 310.1,481.7 312.6,489.4 314.3,494.5 308.4,496.2 302.4,496.2 300.7,506.5 298.1,513.4 291.3,515.1 284.5,516.8 281.1,509.9 279.4,502.2 282.8,497.9 286.2,494.5 288.7,487.7 285.3,480.8 286.2,474.0 285.3,464.5Z" fill="#bbacd6" stroke="#bbacd6" stroke-width="1.4" stroke-linejoin="round"/>
<path d="M302.4,496.2 308.4,496.2 314.3,494.5 313.5,499.7 310.9,504.8 313.5,509.9 319.5,510.8 325.4,509.4 330.6,512.5 333.1,518.5 332.3,525.3 328.8,530.5 324.6,533.9 320.3,537.3 316.0,539.9 311.8,530.5 306.7,528.8 299.8,531.3 293.0,528.8 291.3,522.8 293.9,515.9 298.1,513.4 300.7,506.5Z" fill="#d3cde7" stroke="#d3cde7" stroke-width="1.4" stroke-linejoin="round"/>
<path d="M258.9,507.4 265.7,503.9 272.5,501.4 279.4,502.2 281.1,509.9 284.5,516.8 291.3,515.1 293.9,515.9 291.3,522.8 284.5,526.2 277.7,528.8 270.8,531.3 264.0,533.1 258.9,529.6 258.0,519.4Z" fill="#d3cde7" stroke="#d3cde7" stroke-width="1.4" stroke-linejoin="round"/>
<path d="M265.7,534.8 272.5,531.3 278.5,529.6 280.2,534.8 281.1,541.6 274.2,539.9 269.1,539.1Z" fill="#d3cde7" stroke="#d3cde7" stroke-width="1.4" stroke-linejoin="round"/>
<path d="M278.5,528.8 284.5,525.3 291.3,528.8 299.8,531.3 306.7,528.8 311.8,530.5 316.0,539.9 322.0,544.2 324.6,547.1 323.7,549.3 316.9,550.2 310.1,548.5 303.3,547.6 296.4,548.5 290.5,546.8 283.6,540.8 280.2,534.8Z" fill="#9376ae" stroke="#9376ae" stroke-width="1.4" stroke-linejoin="round"/>
<path d="M281.1,541.6 283.6,540.8 290.5,546.8 296.4,548.5 303.3,547.6 310.1,548.5 316.9,550.2 323.7,549.3 321.2,552.8 314.3,555.3 307.5,556.2 300.7,554.5 293.9,553.6 287.9,554.5 281.1,551.9Z" fill="#7f69a6" stroke="#7f69a6" stroke-width="1.4" stroke-linejoin="round"/>
<path d="M373.8,508.2 376.4,509.9 374.7,514.2 376.4,518.5 380.6,521.0 384.1,523.6 388.3,522.8 391.7,527.9 398.6,530.4 402.8,532.1 402.0,538.1 398.6,541.5 393.5,539.0 391.7,543.3 394.3,549.2 395.2,556.1 393.5,562.9 394.3,569.7 391.7,572.3 386.6,573.1 383.2,577.4 383.2,583.4 384.1,590.2 382.4,595.3 381.5,602.2 383.2,609.0 384.1,615.8 382.4,621.0 377.2,624.4 378.1,617.6 378.9,610.7 376.4,603.9 374.7,597.1 371.2,591.9 367.8,586.8 364.4,580.0 357.6,577.4 353.3,575.7 359.3,571.4 367.8,567.2 376.4,564.6 381.5,559.5 379.8,552.6 374.7,547.5 367.8,543.3 363.6,540.7 364.4,535.6 367.8,530.4 370.4,523.6 371.2,515.1Z" fill="#2e2672" stroke="#2e2672" stroke-width="1.4" stroke-linejoin="round"/>
<path d="M332.0,562.0 338.8,557.8 347.3,554.4 355.9,550.9 364.4,548.4 374.7,547.5 379.8,552.6 381.5,559.5 376.4,564.6 367.8,567.2 359.3,571.4 353.3,575.7 345.6,574.0 338.8,570.6 334.5,566.3Z" fill="#9376ae" stroke="#9376ae" stroke-width="1.4" stroke-linejoin="round"/>
<path d="M384.1,590.2 383.2,583.4 383.2,577.4 386.6,573.1 391.7,572.3 398.6,571.4 405.4,573.1 409.7,574.9 407.1,581.7 403.7,588.5 407.1,593.6 412.2,595.3 408.8,602.2 405.4,609.0 402.0,617.6 398.6,624.4 396.0,628.7 391.7,622.7 386.6,617.6 384.1,615.8 383.2,609.0 381.5,602.2 382.4,595.3Z" fill="#7f69a6" stroke="#7f69a6" stroke-width="1.4" stroke-linejoin="round"/>
<path d="M382.4,508.2 386.6,504.8 393.5,502.3 395.2,508.2 398.6,516.8 402.0,523.6 405.4,528.7 402.8,532.1 398.6,530.4 391.7,527.9 388.3,522.8 384.1,523.6 380.6,521.0 383.2,515.1Z" fill="#bbacd6" stroke="#bbacd6" stroke-width="1.4" stroke-linejoin="round"/>
<path d="M395.2,508.2 396.9,503.1 405.4,498.8 416.0,498.0 416.0,540.7 410.5,539.0 407.1,533.9 405.4,528.7 402.0,523.6 398.6,516.8Z" fill="#a78bc3" stroke="#a78bc3" stroke-width="1.4" stroke-linejoin="round"/>
<path d="M325.4,558.7 330.6,553.6 339.1,550.2 347.6,547.6 354.4,545.9 359.6,543.3 363.8,543.3 368.1,545.9 374.9,550.2 364.7,551.0 356.1,553.6 347.6,557.0 339.1,560.5 332.3,564.7 327.1,567.3Z" fill="#bbacd6" stroke="#bbacd6" stroke-width="1.4" stroke-linejoin="round"/>
<path d="M398.8,544.2 402.2,540.8 410.8,542.5 416.2,544.2 416.2,575.9 409.9,577.6 405.6,575.9 398.8,574.2 394.5,572.4 393.7,565.6 395.4,558.7 394.5,551.9 392.0,545.9Z" fill="#d3cde7" stroke="#d3cde7" stroke-width="1.4" stroke-linejoin="round"/>
<path d="M305.0,586.2 313.5,582.7 322.0,581.9 325.4,587.9 325.4,596.4 322.0,603.3 315.2,606.7 308.4,605.0 305.0,598.1 305.8,591.3Z" fill="#d3cde7" stroke="#d3cde7" stroke-width="1.4" stroke-linejoin="round"/>
<path d="M325.4,587.9 330.6,582.7 339.1,579.3 349.3,580.2 357.9,581.0 364.7,583.6 368.1,590.4 371.5,595.6 374.9,600.7 368.1,599.9 359.6,598.1 351.0,596.4 342.5,598.1 334.0,601.6 327.1,605.0 322.0,603.3 325.4,596.4Z" fill="#d3cde7" stroke="#d3cde7" stroke-width="1.4" stroke-linejoin="round"/>
<path d="M325.4,569.0 332.3,565.6 339.1,573.3 345.9,576.7 353.6,578.4 357.9,581.0 349.3,580.2 339.1,579.3 330.6,582.7 325.4,577.6Z" fill="#d3cde7" stroke="#d3cde7" stroke-width="1.4" stroke-linejoin="round"/>
<path d="M228.2,593.0 235.0,594.7 243.5,597.3 248.6,599.9 246.1,604.1 239.3,605.8 232.4,602.4Z" fill="#bbacd6" stroke="#bbacd6" stroke-width="1.4" stroke-linejoin="round"/>
<path d="M232.4,602.4 239.3,605.8 246.1,604.1 252.1,605.8 254.6,612.7 253.8,617.8 247.8,616.1 241.0,612.7 235.9,609.3 231.6,606.7Z" fill="#d3cde7" stroke="#d3cde7" stroke-width="1.4" stroke-linejoin="round"/>
<path d="M262.3,609.3 269.1,606.7 276.0,608.4 281.1,611.0 278.5,617.0 272.5,615.3 266.6,613.6Z" fill="#a78bc3" stroke="#a78bc3" stroke-width="1.4" stroke-linejoin="round"/>
<path d="M281.1,611.0 285.3,600.7 291.3,603.3 298.1,606.7 303.3,605.0 310.1,608.4 316.9,612.7 324.6,615.3 322.0,619.5 315.2,621.3 308.4,623.8 301.5,628.1 294.7,626.4 287.9,628.1 282.8,624.7 276.8,618.7Z" fill="#5b428c" stroke="#5b428c" stroke-width="1.4" stroke-linejoin="round"/>
<path d="M315.2,621.3 322.0,619.5 328.8,622.1 334.0,627.3 337.4,634.1 332.3,635.8 325.4,632.4 318.6,629.0 313.5,625.5Z" fill="#d3cde7" stroke="#d3cde7" stroke-width="1.4" stroke-linejoin="round"/>
<path d="M308.4,634.1 315.2,635.0 323.7,632.4 331.4,631.5 334.0,636.7 333.1,643.5 334.8,647.6 318.6,647.6 315.2,641.8 311.8,636.7Z" fill="#2e2672" stroke="#2e2672" stroke-width="1.4" stroke-linejoin="round"/>
<path d="M257.2,623.8 262.3,629.0 264.9,635.8 266.6,642.7 265.7,647.6 260.6,647.6 259.7,639.2 258.0,630.7Z" fill="#bbacd6" stroke="#bbacd6" stroke-width="1.4" stroke-linejoin="round"/>
<path d="M292.2,639.2 299.8,635.8 308.4,634.1 311.8,636.7 315.2,641.8 318.6,647.6 291.3,647.6Z" fill="#bbacd6" stroke="#bbacd6" stroke-width="1.4" stroke-linejoin="round"/>
<path d="M432.4,491.1 440.1,492.8 448.6,498.8 457.2,500.5 465.7,495.4 474.2,498.8 481.9,503.9 475.9,509.1 472.5,515.9 470.8,524.5 465.7,526.2 458.9,521.1 452.0,517.6 445.2,512.5 440.1,507.4 435.0,500.5Z" fill="#a78bc3" stroke="#a78bc3" stroke-width="1.4" stroke-linejoin="round"/>
<path d="M433.3,515.9 441.8,514.2 448.6,519.4 455.5,524.5 460.6,529.6 457.2,534.8 453.8,539.9 450.3,546.8 448.6,551.9 453.8,560.5 458.9,567.3 457.2,572.4 448.6,573.3 440.1,570.7 433.3,567.3 429.9,558.7 423.0,555.3 419.6,555.3 426.5,548.5 431.6,541.6 434.1,533.1 433.3,524.5Z" fill="#9376ae" stroke="#9376ae" stroke-width="1.4" stroke-linejoin="round"/>
<path d="M416.2,510.8 419.6,515.9 422.2,526.2 419.6,534.8 424.7,539.9 416.2,541.6Z" fill="#a78bc3" stroke="#a78bc3" stroke-width="1.4" stroke-linejoin="round"/>
<path d="M416.2,543.3 424.7,541.6 428.2,548.5 423.0,555.3 416.2,558.7Z" fill="#d3cde7" stroke="#d3cde7" stroke-width="1.4" stroke-linejoin="round"/>
<path d="M465.7,495.4 472.5,490.2 479.3,485.1 486.2,483.4 493.0,486.8 494.7,493.7 491.3,502.2 486.2,505.7 481.9,503.9 474.2,498.8Z" fill="#bbacd6" stroke="#bbacd6" stroke-width="1.4" stroke-linejoin="round"/>
<path d="M472.5,515.9 475.9,509.1 481.9,503.9 486.2,509.1 489.6,515.9 494.7,522.8 499.8,529.6 503.2,536.5 507.5,543.3 511.8,548.5 514.3,555.3 510.1,558.7 506.7,553.6 503.2,546.8 498.1,541.6 491.3,538.2 486.2,533.1 479.3,529.6 474.2,524.5 471.7,520.2Z" fill="#bbacd6" stroke="#bbacd6" stroke-width="1.4" stroke-linejoin="round"/>
<path d="M452.7,533.5 458.7,535.2 465.5,537.8 472.4,540.3 475.8,547.2 480.1,550.6 480.9,557.4 477.5,564.3 476.6,572.8 470.7,577.1 465.5,572.8 458.7,567.7 452.7,562.6 457.0,559.1 451.9,554.0 448.5,548.9 450.2,542.1Z" fill="#2e2672" stroke="#2e2672" stroke-width="1.4" stroke-linejoin="round"/>
<path d="M515.1,531.8 520.2,526.7 525.3,533.5 528.7,540.3 535.6,538.6 542.4,536.9 547.5,535.2 552.6,540.3 557.8,547.2 561.2,554.0 566.3,559.1 571.4,562.6 568.9,569.4 568.0,577.9 570.6,583.0 566.3,586.5 559.5,583.0 552.6,581.3 547.5,576.2 540.7,572.8 535.6,567.7 532.1,560.8 527.0,555.7 523.6,548.9 525.3,543.8 520.2,538.6Z" fill="#2e2672" stroke="#2e2672" stroke-width="1.4" stroke-linejoin="round"/>
<path d="M544.1,520.7 552.6,521.6 561.2,522.4 566.3,525.0 569.7,531.8 574.9,538.6 575.7,547.2 577.4,554.0 575.7,560.8 569.7,559.1 564.6,555.7 562.9,550.6 561.2,543.8 557.8,536.9 552.6,531.8 549.2,526.7Z" fill="#2e2672" stroke="#2e2672" stroke-width="1.4" stroke-linejoin="round"/>
<path d="M516.9,519.4 523.7,515.9 530.5,512.5 539.1,510.8 544.2,514.2 547.6,521.1 551.0,527.9 554.4,533.1 559.5,538.2 563.0,545.0 564.7,551.9 559.5,548.5 554.4,541.6 549.3,536.5 540.8,538.2 535.7,539.9 530.5,534.8 523.7,529.6 518.6,524.5Z" fill="#d3cde7" stroke="#d3cde7" stroke-width="1.4" stroke-linejoin="round"/>
<path d="M534.0,476.5 542.5,471.4 551.0,469.7 556.1,473.1 557.8,478.3 559.5,483.4 552.7,483.4 545.9,485.1 539.1,483.4Z" fill="#bbacd6" stroke="#bbacd6" stroke-width="1.4" stroke-linejoin="round"/>
<path d="M559.5,478.9 566.3,475.4 571.4,473.7 573.1,478.9 578.3,480.6 578.3,487.4 580.0,489.1 574.9,487.4 569.7,485.7 564.6,486.5 560.3,484.0Z" fill="#7f69a6" stroke="#7f69a6" stroke-width="1.4" stroke-linejoin="round"/>
<path d="M575.8,500.5 580.0,496.2 584.3,498.8 586.0,505.7 589.4,510.8 594.5,513.4 602.2,515.9 603.1,519.4 596.2,519.4 591.1,516.8 586.0,514.2 580.9,510.8 577.5,505.7Z" fill="#5b428c" stroke="#5b428c" stroke-width="1.4" stroke-linejoin="round"/>
<path d="M586.8,482.3 593.6,477.1 602.2,473.7 610.7,475.4 617.6,482.3 622.7,489.1 629.5,494.2 634.6,495.9 629.5,499.4 622.7,504.5 615.8,501.1 609.0,497.6 602.2,499.4 595.3,502.8 591.9,495.9 588.5,489.1Z" fill="#d3cde7" stroke="#d3cde7" stroke-width="1.4" stroke-linejoin="round"/>
<path d="M609.0,525.8 614.1,523.3 620.1,524.1 622.7,530.1 627.8,536.9 632.9,543.8 633.8,548.9 629.5,552.3 623.5,550.6 618.4,545.5 615.0,538.6 612.4,531.8Z" fill="#9376ae" stroke="#9376ae" stroke-width="1.4" stroke-linejoin="round"/>
<path d="M584.2,550.6 590.2,545.5 597.1,540.3 603.9,536.9 609.9,533.5 612.4,531.8 615.0,538.6 618.4,545.5 614.1,548.9 610.7,554.0 609.0,560.8 610.7,569.4 607.3,576.2 603.9,581.3 600.5,586.5 593.6,591.6 588.5,588.2 585.1,581.3 578.3,581.3 571.4,583.0 568.0,577.9 568.9,569.4 571.4,562.6 577.4,560.0 582.5,555.7Z" fill="#bbacd6" stroke="#bbacd6" stroke-width="1.4" stroke-linejoin="round"/>
<path d="M610.7,554.0 614.1,548.9 623.5,550.6 629.5,552.3 636.3,560.8 637.2,569.4 631.2,574.5 626.9,577.1 629.5,583.0 622.7,583.0 615.8,579.6 610.7,576.2 607.3,576.2 610.7,569.4 609.0,560.8Z" fill="#d3cde7" stroke="#d3cde7" stroke-width="1.4" stroke-linejoin="round"/>
<path d="M480.1,581.3 487.7,577.9 496.3,574.5 504.8,572.8 511.7,579.6 520.2,583.0 528.7,584.8 525.3,591.6 520.2,598.4 518.5,607.0 509.9,611.2 501.4,605.3 494.6,598.4 487.7,591.6 482.6,586.5Z" fill="#d3cde7" stroke="#d3cde7" stroke-width="1.4" stroke-linejoin="round"/>
<path d="M459.7,361.8 470.8,361.8 474.2,368.6 473.4,377.2 471.7,385.8 472.5,392.6 475.9,393.5 475.1,399.5 471.7,404.6 467.4,406.3 465.7,400.3 466.6,393.5 464.8,384.9 462.3,376.3 460.2,368.6Z" fill="#d3cde7" stroke="#d3cde7" stroke-width="1.4" stroke-linejoin="round"/>
<path d="M458.9,377.2 462.3,376.3 464.8,384.9 466.6,393.5 465.7,400.3 463.1,398.6 461.4,390.9 459.7,384.1Z" fill="#a78bc3" stroke="#a78bc3" stroke-width="1.4" stroke-linejoin="round"/>
<path d="M467.4,406.3 471.7,404.6 481.1,402.9 489.6,404.6 498.1,408.0 500.7,416.6 508.4,418.3 510.1,426.9 509.2,435.4 504.9,440.6 498.1,442.3 493.0,445.7 487.9,444.0 484.5,442.3 481.9,435.4 479.3,426.9 475.9,418.3 470.8,411.5Z" fill="#d3cde7" stroke="#d3cde7" stroke-width="1.4" stroke-linejoin="round"/>
<path d="M496.4,389.2 501.5,387.5 508.4,385.8 515.2,384.9 516.9,388.3 522.0,391.8 522.9,398.6 520.3,402.0 516.9,400.3 514.3,405.5 508.4,407.2 501.5,406.3 494.7,407.2 493.9,402.0 495.6,395.2Z" fill="#d3cde7" stroke="#d3cde7" stroke-width="1.4" stroke-linejoin="round"/>
<path d="M513.5,394.3 516.9,392.6 521.2,393.5 522.9,397.8 522.3,402.9 520.0,404.6 518.3,400.8 515.7,398.6Z" fill="#7f69a6" stroke="#7f69a6" stroke-width="1.4" stroke-linejoin="round"/>
<path d="M498.1,361.8 539.9,361.8 535.7,370.4 532.2,377.2 525.4,380.6 518.6,378.9 515.2,375.5 508.4,373.8 501.5,370.4Z" fill="#d3cde7" stroke="#d3cde7" stroke-width="1.4" stroke-linejoin="round"/>
<path d="M522.8,438.7 524.5,429.3 526.7,419.1 528.7,413.6 529.4,414.3 527.4,425.9 525.3,434.4 523.6,439.6Z" fill="#2e2672" stroke="#2e2672" stroke-width="1.4" stroke-linejoin="round"/>
<path d="M457.8,454.1 462.1,449.8 467.2,446.4 474.1,445.5 475.8,451.5 474.9,458.4 472.4,463.5 474.1,466.9 469.8,468.6 465.5,466.0 461.3,465.2 459.6,460.1Z" fill="#5b428c" stroke="#5b428c" stroke-width="1.4" stroke-linejoin="round"/>
<path d="M457.0,472.9 461.3,472.0 465.5,474.6 469.0,472.9 472.4,470.3 473.2,472.9 469.8,477.1 464.7,478.9 459.6,477.1Z" fill="#5b428c" stroke="#5b428c" stroke-width="1.4" stroke-linejoin="round"/>
<path d="M479.3,447.4 483.6,448.3 491.3,452.6 493.9,455.1 491.3,457.7 486.2,457.7 481.9,455.1Z" fill="#2e2672" stroke="#2e2672" stroke-width="1.4" stroke-linejoin="round"/>
<path d="M656.8,592.1 665.3,588.7 675.6,587.9 685.8,588.7 696.1,587.0 701.2,592.1 706.3,602.4 711.4,611.0 718.2,617.8 723.4,624.7 725.9,636.7 725.1,647.0 719.9,643.5 716.5,633.2 711.4,623.0 704.6,616.1 701.2,623.0 702.9,629.8 699.5,631.5 694.4,624.7 685.8,616.1 679.0,609.3 672.2,602.4 665.3,600.7 660.2,597.3Z" fill="#d3cde7" stroke="#d3cde7" stroke-width="1.4" stroke-linejoin="round"/>
<path d="M668.8,599.0 675.6,597.3 682.4,600.7 689.2,607.6 696.1,614.4 701.2,621.3 703.7,628.1 701.2,630.7 696.1,624.7 689.2,617.8 682.4,612.7 675.6,607.6 670.5,604.1Z" fill="#a78bc3" stroke="#a78bc3" stroke-width="1.4" stroke-linejoin="round"/>
<path d="M639.7,618.7 646.6,616.1 655.1,617.0 663.6,615.3 669.6,617.0 667.0,625.5 661.9,630.7 655.1,635.8 648.3,641.0 641.5,642.7 639.7,634.1 641.5,627.3Z" fill="#9376ae" stroke="#9376ae" stroke-width="1.4" stroke-linejoin="round"/>
<path d="M661.9,630.7 668.8,626.4 677.3,625.5 681.6,630.7 679.8,637.5 675.6,644.4 672.2,647.6 643.2,647.6 648.3,641.0 655.1,635.8Z" fill="#d3cde7" stroke="#d3cde7" stroke-width="1.4" stroke-linejoin="round"/>
<path d="M494.7,647.6 501.5,642.7 511.8,637.5 522.0,634.1 528.8,630.7 530.5,635.8 527.1,647.6Z" fill="#a78bc3" stroke="#a78bc3" stroke-width="1.4" stroke-linejoin="round"/>
<path d="M416.2,675.0 420.5,675.8 423.0,687.0 424.7,698.9 423.0,705.8 416.2,709.2Z" fill="#5b428c" stroke="#5b428c" stroke-width="1.4" stroke-linejoin="round"/>
<path d="M416.2,664.7 426.5,659.5 436.7,661.3 443.5,666.4 452.0,664.7 450.3,673.2 448.6,681.8 445.2,692.1 441.8,702.4 435.0,705.8 426.5,704.1 424.7,698.9 423.0,687.0 420.5,675.8 416.2,675.0Z" fill="#d3cde7" stroke="#d3cde7" stroke-width="1.4" stroke-linejoin="round"/>
<path d="M443.5,666.4 452.0,664.7 458.9,673.2 461.4,681.8 464.0,690.4 465.7,697.2 458.9,705.8 453.8,712.6 448.6,709.2 443.5,704.1 441.8,702.4 445.2,692.1 448.6,681.8 450.3,673.2Z" fill="#d3cde7" stroke="#d3cde7" stroke-width="1.4" stroke-linejoin="round"/>
<path d="M452.0,657.8 458.9,652.7 469.1,649.3 479.3,651.0 489.6,656.1 498.1,662.1 494.7,669.8 491.3,676.7 486.2,681.8 481.9,684.4 481.1,690.4 470.8,695.5 465.7,697.2 464.0,690.4 461.4,681.8 458.9,673.2 452.0,664.7Z" fill="#bbacd6" stroke="#bbacd6" stroke-width="1.4" stroke-linejoin="round"/>
<path d="M479.3,651.0 489.6,647.6 537.4,647.6 544.2,651.0 552.7,656.1 561.3,660.4 568.1,664.7 574.9,670.7 579.2,675.0 571.5,675.8 564.7,673.2 557.8,669.0 549.3,665.5 540.8,663.0 534.0,661.3 527.1,659.5 518.6,658.7 510.1,659.5 503.2,660.4 498.1,662.1 489.6,656.1Z" fill="#a78bc3" stroke="#a78bc3" stroke-width="1.4" stroke-linejoin="round"/>
<path d="M503.2,660.4 510.1,659.5 518.6,658.7 527.1,659.5 534.0,661.3 540.8,663.0 549.3,665.5 557.8,669.0 561.3,675.0 557.8,680.1 551.0,678.4 542.5,675.0 534.0,673.2 525.4,671.5 516.9,669.8 510.1,668.1 504.9,664.7Z" fill="#d3cde7" stroke="#d3cde7" stroke-width="1.4" stroke-linejoin="round"/>
<path d="M468.3,697.2 474.2,695.5 479.3,696.4 481.9,696.4 480.2,699.8 475.9,700.7 470.8,698.9Z" fill="#2e2672" stroke="#2e2672" stroke-width="1.4" stroke-linejoin="round"/>
<path d="M462.3,705.8 465.7,698.9 470.8,698.1 480.2,700.7 482.8,705.8 486.2,712.6 491.3,717.8 496.4,722.9 503.2,728.1 498.1,731.5 492.1,734.9 486.2,728.1 479.3,722.9 472.5,716.1 465.7,712.6Z" fill="#bbacd6" stroke="#bbacd6" stroke-width="1.4" stroke-linejoin="round"/>
<path d="M450.3,716.1 455.5,714.4 462.3,716.1 469.1,713.5 475.9,716.1 478.5,724.6 475.9,733.2 472.5,740.0 470.8,746.9 472.5,753.7 467.4,750.3 462.3,745.2 458.0,739.2 454.6,733.2 451.2,724.6Z" fill="#bbacd6" stroke="#bbacd6" stroke-width="1.4" stroke-linejoin="round"/>
<path d="M472.5,746.9 475.9,740.0 476.8,724.6 480.2,726.3 486.2,728.1 491.3,733.2 494.7,743.5 499.8,750.3 504.9,757.2 508.4,762.3 503.2,765.7 498.1,767.4 493.0,765.7 491.3,770.9 496.4,775.2 501.5,776.9 498.1,777.7 491.3,774.3 486.2,769.2 481.1,764.0 475.9,757.2 473.4,752.0Z" fill="#2e2672" stroke="#2e2672" stroke-width="1.4" stroke-linejoin="round"/>
<path d="M492.1,734.9 498.1,731.5 503.2,728.1 507.5,733.2 510.1,740.0 514.3,746.9 518.6,753.7 523.7,758.0 518.6,762.3 513.5,765.7 508.4,762.3 504.9,757.2 499.8,750.3 494.7,743.5Z" fill="#2e2672" stroke="#2e2672" stroke-width="1.4" stroke-linejoin="round"/>
<path d="M493.0,765.7 498.1,767.4 503.2,765.7 510.1,767.4 516.9,770.9 523.7,772.6 530.5,774.3 535.7,779.4 532.2,784.6 525.4,786.3 518.6,782.9 511.8,780.3 504.9,776.0 501.5,776.9 496.4,775.2 491.3,770.9Z" fill="#bbacd6" stroke="#bbacd6" stroke-width="1.4" stroke-linejoin="round"/>
<path d="M516.9,764.0 523.7,758.9 534.0,760.6 542.5,759.7 547.6,760.6 546.8,764.0 549.3,769.2 554.4,773.4 561.3,776.0 568.1,779.4 574.9,782.9 581.7,786.3 586.9,791.4 588.6,798.3 586.9,802.6 584.3,800.0 580.0,794.9 574.9,791.4 569.8,789.7 563.0,784.6 556.1,780.3 549.3,779.4 542.5,782.9 535.7,784.6 535.7,779.4 530.5,774.3 523.7,772.6 518.6,769.2Z" fill="#2e2672" stroke="#2e2672" stroke-width="1.4" stroke-linejoin="round"/>
<path d="M542.5,782.9 549.3,779.4 556.1,780.3 563.0,784.6 564.7,789.7 563.0,793.1 559.5,800.0 557.0,803.4 551.0,802.6 545.9,800.0 543.3,793.1Z" fill="#bbacd6" stroke="#bbacd6" stroke-width="1.4" stroke-linejoin="round"/>
<path d="M513.5,781.1 518.6,782.9 525.4,786.3 532.2,784.6 535.7,784.6 542.5,782.9 543.3,793.1 545.9,800.0 548.5,806.8 545.9,807.7 542.5,803.4 537.4,800.8 532.2,798.3 527.1,793.1 522.0,788.9 516.9,785.4Z" fill="#2e2672" stroke="#2e2672" stroke-width="1.4" stroke-linejoin="round"/>
<path d="M548.5,803.4 557.0,803.4 561.3,810.3 568.1,815.4 568.9,822.3 566.4,825.7 561.3,829.1 559.5,836.0 556.1,842.8 551.0,848.8 545.9,847.9 545.0,842.8 551.0,836.0 554.4,827.4 553.6,820.5 551.0,815.4 548.5,809.4Z" fill="#d3cde7" stroke="#d3cde7" stroke-width="1.4" stroke-linejoin="round"/>
<path d="M550.2,820.5 553.6,820.5 557.0,825.7 554.4,832.5 551.9,839.4 548.5,842.8 546.8,839.4 549.3,832.5 551.9,827.4Z" fill="#2e2672" stroke="#2e2672" stroke-width="1.4" stroke-linejoin="round"/>
<path d="M487.7,855.2 489.4,851.0 494.6,847.6 499.7,845.0 506.5,849.3 513.4,848.4 520.2,847.6 527.0,846.7 533.9,845.8 539.0,844.1 541.5,842.4 539.8,849.3 537.3,856.1 535.6,862.9 539.0,868.0 535.6,877.4 528.7,875.7 521.9,871.5 515.1,866.3 508.2,862.9 501.4,860.4 494.6,859.5 489.4,857.8Z" fill="#5b428c" stroke="#5b428c" stroke-width="1.4" stroke-linejoin="round"/>
<path d="M414.3,791.2 421.1,787.8 428.0,782.6 433.1,780.1 434.8,786.1 437.4,791.2 439.9,796.3 438.2,803.1 437.4,810.0 438.2,816.8 436.5,823.6 431.4,825.3 426.2,828.8 422.8,831.3 417.7,827.1 415.1,825.3 413.4,816.8 411.7,808.3 412.6,799.7Z" fill="#9376ae" stroke="#9376ae" stroke-width="1.4" stroke-linejoin="round"/>
<path d="M422.8,748.5 428.0,745.1 431.4,741.7 433.1,739.1 434.8,741.7 433.9,748.5 435.6,755.3 434.8,763.9 432.2,770.7 428.8,775.8 425.4,773.3 422.8,769.0 421.1,763.9 419.4,757.0 420.3,751.9Z" fill="#d3cde7" stroke="#d3cde7" stroke-width="1.4" stroke-linejoin="round"/>
<path d="M690.1,885.1 692.7,882.6 697.8,880.9 699.5,883.4 706.4,884.3 714.9,884.3 723.5,882.6 732.0,881.7 740.5,880.9 740.5,885.1 735.4,888.5 726.9,890.3 720.0,892.0 714.9,892.8 709.8,890.3 703.0,890.3 696.1,891.1 691.0,890.3Z" fill="#9376ae" stroke="#9376ae" stroke-width="1.4" stroke-linejoin="round"/>
<path d="M599.6,709.2 605.6,704.1 614.2,698.9 619.3,692.1 626.1,697.2 632.9,704.1 639.7,707.5 648.3,712.6 655.1,719.5 656.8,722.9 651.7,728.1 644.9,733.2 638.0,736.6 631.2,740.0 624.4,743.5 621.0,736.6 615.9,729.8 610.7,731.5 605.6,736.6 603.9,729.8 602.2,719.5Z" fill="#d3cde7" stroke="#d3cde7" stroke-width="1.4" stroke-linejoin="round"/>
<path d="M609.0,736.6 614.2,731.5 619.3,729.8 622.7,736.6 624.4,743.5 623.5,752.0 626.1,760.6 629.5,767.4 631.2,772.6 626.1,770.9 621.0,767.4 615.9,765.7 614.2,758.9 610.7,750.3 607.3,753.7 603.9,750.3 605.6,743.5Z" fill="#bbacd6" stroke="#bbacd6" stroke-width="1.4" stroke-linejoin="round"/>
<path d="M624.4,743.5 631.2,740.0 638.0,736.6 644.9,733.2 650.0,738.3 655.1,745.2 660.2,752.0 667.0,757.2 672.2,764.0 679.0,767.4 684.1,770.9 687.5,776.0 682.4,779.4 677.3,779.4 672.2,777.7 667.0,777.7 661.9,774.3 656.8,770.9 651.7,765.7 644.9,770.9 638.0,776.0 632.9,777.7 629.5,767.4 626.1,760.6 623.5,752.0Z" fill="#d3cde7" stroke="#d3cde7" stroke-width="1.4" stroke-linejoin="round"/>
<path d="M644.9,733.2 651.7,728.1 656.8,722.9 665.3,724.6 672.2,721.2 682.4,719.5 696.1,716.1 709.7,712.6 719.9,714.4 721.7,722.9 719.9,733.2 718.2,743.5 714.8,752.0 709.7,755.5 702.9,757.2 696.1,758.9 690.9,760.6 685.8,758.9 682.4,753.7 677.3,750.3 672.2,757.2 667.0,757.2 660.2,752.0 655.1,745.2 650.0,738.3Z" fill="#bbacd6" stroke="#bbacd6" stroke-width="1.4" stroke-linejoin="round"/>
<path d="M668.8,728.1 675.6,724.6 687.5,722.9 699.5,721.2 709.7,721.2 711.4,729.8 706.3,734.9 696.1,740.0 687.5,745.2 682.4,748.6 677.3,743.5 672.2,738.3 669.6,733.2Z" fill="#9376ae" stroke="#9376ae" stroke-width="1.4" stroke-linejoin="round"/>
<path d="M709.7,698.9 716.5,697.2 723.4,698.9 731.9,697.2 737.0,700.7 735.3,707.5 731.9,714.4 737.0,721.2 737.0,726.3 731.9,728.1 725.1,728.1 721.7,722.9 719.9,714.4 714.8,707.5Z" fill="#d3cde7" stroke="#d3cde7" stroke-width="1.4" stroke-linejoin="round"/>
<path d="M671.3,660.4 677.3,658.7 682.4,664.7 689.2,673.2 697.8,678.4 706.3,681.8 708.0,686.1 702.9,688.7 696.1,692.1 690.9,688.7 685.8,681.8 679.0,673.2 673.0,666.4Z" fill="#9376ae" stroke="#9376ae" stroke-width="1.4" stroke-linejoin="round"/>
<path d="M682.4,664.7 689.2,662.1 697.8,661.3 706.3,663.0 716.5,664.7 725.1,666.4 723.4,671.5 718.2,673.2 713.1,673.2 709.7,678.4 706.3,681.8 697.8,678.4 689.2,673.2Z" fill="#bbacd6" stroke="#bbacd6" stroke-width="1.4" stroke-linejoin="round"/>
<path d="M605.6,666.4 610.7,661.3 621.0,659.5 631.2,660.4 639.7,664.7 639.7,675.0 634.6,680.1 626.1,683.5 617.6,685.2 609.0,681.8 604.8,675.0Z" fill="#bbacd6" stroke="#bbacd6" stroke-width="1.4" stroke-linejoin="round"/>
<path d="M605.6,652.7 614.2,651.0 626.1,652.7 636.3,654.4 644.9,656.1 655.1,652.7 661.9,647.6 605.6,647.6Z" fill="#d3cde7" stroke="#d3cde7" stroke-width="1.4" stroke-linejoin="round"/>
<path d="M689.2,647.6 723.4,647.6 723.4,654.4 714.8,657.8 706.3,656.1 697.8,657.8 690.9,654.4Z" fill="#d3cde7" stroke="#d3cde7" stroke-width="1.4" stroke-linejoin="round"/>
<path d="M604.8,770.9 610.7,767.4 615.9,765.7 621.0,767.4 626.1,770.9 631.2,772.6 632.9,777.7 629.5,782.9 624.4,786.3 619.3,784.6 614.2,782.9 609.0,779.4 605.6,776.0Z" fill="#9376ae" stroke="#9376ae" stroke-width="1.4" stroke-linejoin="round"/>
<path d="M632.9,777.7 638.0,776.0 644.9,770.9 651.7,765.7 656.8,770.9 660.2,777.7 658.5,784.6 653.4,786.3 646.6,788.0 641.5,791.4 636.3,789.7 632.9,784.6Z" fill="#a78bc3" stroke="#a78bc3" stroke-width="1.4" stroke-linejoin="round"/>
<path d="M603.1,782.9 609.0,779.4 614.2,782.9 619.3,784.6 624.4,786.3 629.5,782.9 632.9,784.6 636.3,789.7 638.0,796.6 639.7,803.4 638.0,810.3 632.9,813.7 627.8,808.6 622.7,803.4 617.6,798.3 612.4,794.9 607.3,789.7 603.9,786.3Z" fill="#bbacd6" stroke="#bbacd6" stroke-width="1.4" stroke-linejoin="round"/>
<path d="M638.0,796.6 641.5,791.4 646.6,788.0 653.4,786.3 658.5,789.7 663.6,794.9 668.8,800.0 672.2,805.1 667.0,808.6 661.9,810.3 655.1,812.0 650.0,812.0 644.9,808.6 639.7,803.4Z" fill="#9376ae" stroke="#9376ae" stroke-width="1.4" stroke-linejoin="round"/>
<path d="M632.9,813.7 638.0,810.3 639.7,803.4 644.9,808.6 650.0,812.0 655.1,812.0 658.5,817.1 656.8,824.0 651.7,827.4 644.9,828.2 639.7,825.7 636.3,820.5Z" fill="#7f69a6" stroke="#7f69a6" stroke-width="1.4" stroke-linejoin="round"/>
<path d="M650.0,812.0 655.1,812.0 661.9,810.3 667.0,808.6 672.2,810.3 679.0,814.5 685.8,818.8 692.6,824.0 697.8,829.1 692.6,828.2 685.8,825.7 682.4,824.0 689.2,830.8 691.8,835.1 687.5,833.4 682.4,829.1 675.6,825.7 668.8,824.0 661.9,822.3 658.5,817.1Z" fill="#7f69a6" stroke="#7f69a6" stroke-width="1.4" stroke-linejoin="round"/>
<path d="M641.5,837.7 646.6,832.5 653.4,829.1 660.2,830.0 665.3,832.5 670.5,835.1 667.0,837.7 661.9,834.2 656.8,836.0 651.7,839.4 646.6,841.9Z" fill="#474283" stroke="#474283" stroke-width="1.4" stroke-linejoin="round"/>
<path d="M646.6,841.9 651.7,839.4 656.8,836.0 661.9,834.2 662.8,841.1 663.6,847.9 661.9,854.8 658.5,861.6 655.1,860.8 654.3,854.8 650.8,851.4 650.0,846.2Z" fill="#2e2672" stroke="#2e2672" stroke-width="1.4" stroke-linejoin="round"/>
<path d="M661.9,834.2 667.0,837.7 672.2,840.2 679.0,843.7 682.4,841.9 679.8,847.1 673.9,848.8 672.2,853.9 675.6,860.8 679.8,866.8 675.6,864.2 670.5,859.1 667.0,862.5 667.9,868.5 663.6,864.2 661.9,854.8 663.6,847.9 662.8,841.1Z" fill="#9376ae" stroke="#9376ae" stroke-width="1.4" stroke-linejoin="round"/>
<path d="M133.5,697.2 142.9,694.7 151.4,692.1 159.1,688.7 165.9,690.4 171.9,695.5 182.1,698.1 189.8,698.9 197.5,702.4 206.0,705.8 214.5,707.5 223.1,709.2 230.7,712.6 238.4,713.5 245.2,716.1 251.2,716.9 257.2,715.2 257.2,719.5 248.6,721.2 240.1,719.5 231.6,717.8 223.1,716.1 214.5,715.2 206.0,713.5 197.5,710.9 188.9,707.5 182.1,709.2 173.6,705.8 166.7,700.7 161.6,697.2 156.5,698.9 154.8,705.8 149.7,710.9 142.9,714.4 137.7,716.1 136.0,707.5 135.2,702.4Z" fill="#d3cde7" stroke="#d3cde7" stroke-width="1.4" stroke-linejoin="round"/>
<path d="M133.5,731.5 141.1,728.9 149.7,726.3 154.8,724.6 153.9,729.8 146.3,734.0 139.4,737.5 134.3,740.0Z" fill="#9376ae" stroke="#9376ae" stroke-width="1.4" stroke-linejoin="round"/>
<path d="M134.3,740.0 139.4,737.5 146.3,734.0 153.9,729.8 161.6,728.1 168.4,729.8 173.6,733.2 171.9,740.0 173.6,746.9 177.0,753.7 177.8,760.6 170.2,764.0 161.6,765.7 154.8,764.0 153.1,757.2 146.3,752.0 139.4,750.3 135.2,748.6Z" fill="#a78bc3" stroke="#a78bc3" stroke-width="1.4" stroke-linejoin="round"/>
<path d="M168.4,729.8 175.3,722.9 182.1,712.6 188.9,710.9 195.8,713.5 202.6,716.1 200.9,722.9 199.2,729.8 190.6,736.6 182.1,743.5 175.3,743.5 171.9,740.0 173.6,733.2Z" fill="#9376ae" stroke="#9376ae" stroke-width="1.4" stroke-linejoin="round"/>
<path d="M124.4,760.9 129.5,750.7 133.8,746.4 139.8,750.7 146.6,752.4 153.4,757.5 155.1,764.4 150.0,767.8 143.2,766.1 136.4,767.8 129.5,771.2 125.3,767.8Z" fill="#bbacd6" stroke="#bbacd6" stroke-width="1.4" stroke-linejoin="round"/>
<path d="M115.0,784.9 119.3,778.1 125.3,771.2 129.5,771.2 136.4,767.8 143.2,766.1 150.0,767.8 155.1,764.4 158.6,771.2 155.1,778.1 153.4,783.2 160.3,786.6 165.4,791.8 162.0,793.5 153.4,790.1 146.6,784.9 139.8,783.2 133.0,786.6 126.1,790.1 119.3,788.3Z" fill="#9376ae" stroke="#9376ae" stroke-width="1.4" stroke-linejoin="round"/>
<path d="M170.5,747.2 175.6,742.1 182.4,743.8 191.0,737.0 199.5,730.1 198.7,740.4 197.8,747.2 202.9,754.1 208.0,760.9 208.9,766.1 202.9,767.8 194.4,769.5 187.6,771.2 185.9,774.6 180.7,772.9 179.0,766.1 177.3,757.5 173.9,752.4Z" fill="#2e2672" stroke="#2e2672" stroke-width="1.4" stroke-linejoin="round"/>
<path d="M202.9,716.4 209.7,716.4 214.9,721.5 220.0,728.4 225.1,737.0 229.4,743.0 221.7,743.8 213.2,744.7 204.6,745.5 198.7,746.4 198.7,740.4 199.5,730.1 201.2,723.3Z" fill="#2e2672" stroke="#2e2672" stroke-width="1.4" stroke-linejoin="round"/>
<path d="M214.9,721.5 221.7,718.1 230.2,719.8 238.8,721.5 247.3,725.0 255.8,724.1 262.6,725.8 269.5,730.1 272.9,734.4 271.2,738.7 266.1,741.2 264.3,747.2 260.9,750.7 255.8,752.4 249.0,750.7 243.9,747.2 238.8,743.8 233.6,740.4 229.4,743.0 225.1,737.0 220.0,728.4Z" fill="#5b428c" stroke="#5b428c" stroke-width="1.4" stroke-linejoin="round"/>
<path d="M198.7,746.4 204.6,745.5 213.2,744.7 221.7,743.8 229.4,743.0 233.6,740.4 238.8,743.8 243.9,747.2 247.3,752.4 242.2,755.8 237.0,759.2 231.9,760.9 225.1,759.2 218.3,760.9 211.4,764.4 208.0,760.9 202.9,754.1 199.5,750.7Z" fill="#5b428c" stroke="#5b428c" stroke-width="1.4" stroke-linejoin="round"/>
<path d="M209.7,766.1 214.9,762.7 221.7,760.1 228.5,760.1 233.6,763.5 235.3,767.8 231.9,772.9 228.5,778.1 223.4,781.5 218.3,783.2 213.2,783.2 210.6,776.4Z" fill="#2e2672" stroke="#2e2672" stroke-width="1.4" stroke-linejoin="round"/>
<path d="M237.0,759.2 242.2,755.8 249.0,753.2 255.8,754.9 258.4,759.2 256.7,764.4 254.1,769.5 255.8,774.6 257.5,779.8 255.8,782.3 252.4,780.6 249.8,774.6 246.4,769.5 241.3,766.1Z" fill="#2e2672" stroke="#2e2672" stroke-width="1.4" stroke-linejoin="round"/>
<path d="M155.1,779.8 160.3,772.9 167.1,769.5 175.6,766.1 180.7,772.9 185.9,774.6 187.6,771.2 194.4,769.5 202.9,767.8 208.9,766.1 210.6,776.4 213.2,783.2 206.3,784.9 209.7,791.8 211.4,796.0 204.6,793.5 197.8,791.8 189.3,790.1 182.4,791.8 175.6,793.5 167.1,791.8 162.0,786.6Z" fill="#2e2672" stroke="#2e2672" stroke-width="1.4" stroke-linejoin="round"/>
<path d="M228.5,778.1 231.9,772.9 235.3,767.8 241.3,766.1 246.4,769.5 249.8,774.6 251.5,780.6 247.3,783.2 240.5,784.9 235.3,786.6 230.2,788.3 223.4,784.9 218.3,783.2 223.4,781.5Z" fill="#474283" stroke="#474283" stroke-width="1.4" stroke-linejoin="round"/>
<path d="M260.9,750.7 264.3,747.2 266.1,741.2 271.2,738.7 274.6,745.5 276.3,752.4 274.6,759.2 273.7,766.1 276.3,771.2 275.4,778.1 271.2,781.5 266.1,784.9 262.6,779.8 259.2,772.9 257.5,766.1 258.4,759.2Z" fill="#bbacd6" stroke="#bbacd6" stroke-width="1.4" stroke-linejoin="round"/>
<path d="M271.2,738.7 272.9,734.4 279.7,735.2 288.2,737.0 296.8,738.7 305.3,742.1 313.8,745.5 308.7,749.0 304.4,752.4 303.6,757.5 300.2,762.7 295.1,766.1 289.9,766.9 284.8,764.4 279.7,760.9 276.3,757.5 276.3,752.4 274.6,745.5Z" fill="#9376ae" stroke="#9376ae" stroke-width="1.4" stroke-linejoin="round"/>
<path d="M304.4,752.4 312.1,749.0 320.7,747.2 327.5,746.9 332.6,749.0 330.9,755.8 325.8,760.9 319.0,765.2 310.4,769.5 301.9,772.9 294.2,776.4 291.6,771.2 296.8,766.1 301.9,760.9 303.6,757.5Z" fill="#2e2672" stroke="#2e2672" stroke-width="1.4" stroke-linejoin="round"/>
<path d="M276.3,760.9 279.7,762.7 286.5,766.1 291.6,771.2 294.2,776.4 289.1,781.5 283.1,783.2 278.0,782.3 275.4,778.1 276.3,771.2 273.7,766.1Z" fill="#9376ae" stroke="#9376ae" stroke-width="1.4" stroke-linejoin="round"/>
<path d="M251.5,780.6 255.8,782.3 257.5,779.8 262.6,779.8 266.1,784.9 271.2,781.5 275.4,778.1 278.0,782.3 283.1,783.2 278.0,790.1 272.9,796.0 268.6,802.9 266.1,809.8 267.8,816.6 272.0,821.7 273.7,823.5 267.8,826.9 262.6,831.2 257.5,837.2 253.3,844.0 249.0,846.6 243.9,847.4 238.8,846.6 235.3,850.0 233.6,844.0 228.5,838.9 225.1,833.7 222.5,830.3 228.5,826.9 228.5,818.3 226.8,818.3 230.2,807.2 234.5,798.6 231.9,791.8 230.2,788.3 235.3,786.6 240.5,784.9 247.3,783.2Z" fill="#2e2672" stroke="#2e2672" stroke-width="1.4" stroke-linejoin="round"/>
<path d="M239.6,793.5 243.0,787.5 246.4,785.8 248.1,792.6 250.7,799.5 252.4,808.0 253.3,814.9 248.1,814.9 243.9,814.0 242.2,806.3 240.5,799.5Z" fill="#5b428c" stroke="#5b428c" stroke-width="1.4" stroke-linejoin="round"/>
<path d="M156.0,799.5 161.1,794.3 166.2,796.0 174.8,794.3 181.6,792.6 188.4,790.9 196.9,792.6 202.1,796.0 199.5,802.9 198.7,809.8 195.2,814.0 190.1,820.0 183.3,815.7 176.5,814.9 169.6,816.6 162.8,814.9 159.4,809.8 155.1,808.0Z" fill="#2e2672" stroke="#2e2672" stroke-width="1.4" stroke-linejoin="round"/>
<path d="M202.1,796.0 208.9,792.6 215.7,790.9 222.5,787.5 229.4,787.5 232.8,792.6 234.5,799.5 231.1,806.3 228.5,813.2 226.0,817.5 219.1,816.6 212.3,818.3 205.5,814.9 200.4,809.8 199.5,802.9Z" fill="#2e2672" stroke="#2e2672" stroke-width="1.4" stroke-linejoin="round"/>
<path d="M115.0,790.1 119.3,788.3 126.1,790.1 133.0,786.6 139.8,783.2 144.9,786.6 145.8,791.8 150.9,788.3 157.7,790.1 161.1,794.3 156.0,799.5 155.1,808.0 159.4,813.2 154.3,818.3 147.5,820.0 142.3,825.2 137.2,830.3 132.1,832.0 128.7,834.6 121.9,832.9 115.0,831.2 108.2,830.3 111.6,823.5 114.2,816.6 115.9,808.0 116.7,799.5 114.2,796.0 111.6,794.3Z" fill="#2e2672" stroke="#2e2672" stroke-width="1.4" stroke-linejoin="round"/>
<path d="M108.2,791.8 109.9,785.8 114.2,780.6 119.3,774.6 121.9,776.4 118.5,782.3 115.0,787.5 112.5,791.8Z" fill="#2e2672" stroke="#2e2672" stroke-width="1.4" stroke-linejoin="round"/>
<path d="M137.2,830.3 142.3,825.2 147.5,820.0 153.4,821.7 155.1,826.9 152.6,832.0 147.5,833.7 142.3,834.6Z" fill="#a78bc3" stroke="#a78bc3" stroke-width="1.4" stroke-linejoin="round"/>
<path d="M195.2,814.0 202.1,816.6 205.5,814.9 212.3,818.3 219.1,816.6 226.0,817.5 228.5,826.9 222.5,830.3 225.1,833.7 228.5,838.9 226.8,844.0 221.7,847.4 214.9,850.9 209.7,849.1 206.3,844.0 204.6,837.2 200.4,832.0 197.8,825.2 196.9,820.0Z" fill="#9376ae" stroke="#9376ae" stroke-width="1.4" stroke-linejoin="round"/>
<path d="M165.4,865.4 168.8,856.0 174.8,850.9 181.6,844.9 188.4,844.9 195.2,846.6 202.1,852.6 208.0,849.1 214.9,850.9 221.7,847.4 226.8,844.0 233.6,844.0 235.3,850.0 231.9,856.0 226.8,862.0 220.0,860.3 213.2,859.4 206.3,857.7 197.8,856.9 189.3,855.1 182.4,857.7 175.6,859.4 169.6,862.0Z" fill="#5b428c" stroke="#5b428c" stroke-width="1.4" stroke-linejoin="round"/>
<path d="M152.6,847.4 158.6,846.6 167.1,844.9 174.8,844.9 174.8,850.9 168.8,856.0 165.4,865.4 162.8,866.3 159.4,861.1 156.0,854.3Z" fill="#d3cde7" stroke="#d3cde7" stroke-width="1.4" stroke-linejoin="round"/>
<path d="M257.2,719.5 264.0,716.1 270.8,705.8 274.2,698.9 282.8,702.4 287.9,705.8 291.3,716.1 287.9,728.1 296.4,731.5 306.7,729.8 313.5,733.2 320.3,736.6 328.8,740.0 330.6,743.5 332.3,748.6 322.0,746.9 315.2,745.2 306.7,741.8 298.1,738.3 289.6,736.6 281.1,734.9 274.2,734.0 270.8,729.8 264.0,725.5Z" fill="#d3cde7" stroke="#d3cde7" stroke-width="1.4" stroke-linejoin="round"/>
<path d="M313.2,809.1 318.3,805.7 324.3,803.1 329.4,806.6 331.1,810.0 326.8,814.2 323.4,816.8 319.2,813.4 315.7,811.7Z" fill="#2e2672" stroke="#2e2672" stroke-width="1.4" stroke-linejoin="round"/>
<path d="M291.0,821.1 295.2,818.5 298.7,819.4 296.9,822.8 293.5,824.5Z" fill="#2e2672" stroke="#2e2672" stroke-width="1.4" stroke-linejoin="round"/>
<path d="M337.9,802.3 342.2,801.4 345.6,804.0 344.8,807.4 340.5,805.7Z" fill="#9376ae" stroke="#9376ae" stroke-width="1.4" stroke-linejoin="round"/>
<path d="M393.7,675.0 402.2,673.2 416.2,671.5 416.2,709.2 410.8,713.5 403.9,712.6 398.8,707.5 395.4,698.9 392.0,692.1 393.7,681.8Z" fill="#5b428c" stroke="#5b428c" stroke-width="1.4" stroke-linejoin="round"/>
<path d="M359.6,726.3 366.4,724.6 374.9,719.5 381.7,716.1 390.3,712.6 398.8,707.5 403.9,712.6 410.8,713.5 407.3,717.8 400.5,721.2 393.7,728.1 386.9,733.2 380.0,735.8 373.2,733.2 366.4,729.8Z" fill="#bbacd6" stroke="#bbacd6" stroke-width="1.4" stroke-linejoin="round"/>
<path d="M374.9,700.7 381.7,697.2 392.0,692.1 395.4,698.9 398.8,707.5 390.3,712.6 381.7,716.1 374.9,719.5 374.1,710.9Z" fill="#d3cde7" stroke="#d3cde7" stroke-width="1.4" stroke-linejoin="round"/>
<path d="M301.5,705.8 311.8,702.4 322.0,700.7 332.3,699.8 342.5,701.5 345.9,705.8 342.5,710.9 335.7,714.4 328.8,717.8 322.0,721.2 316.9,722.9 313.5,716.1 306.7,710.9Z" fill="#bbacd6" stroke="#bbacd6" stroke-width="1.4" stroke-linejoin="round"/>
<path d="M260.6,714.4 264.0,705.8 267.4,695.5 269.1,685.2 271.7,675.0 274.2,678.4 274.2,698.9 282.8,702.4 287.9,705.8 291.3,716.1 287.9,728.1 281.1,721.2 274.2,716.1 267.4,716.1Z" fill="#d3cde7" stroke="#d3cde7" stroke-width="1.4" stroke-linejoin="round"/>
<path d="M272.5,647.6 291.3,647.6 287.9,654.4 282.8,657.8 276.0,656.1 271.7,651.8Z" fill="#bbacd6" stroke="#bbacd6" stroke-width="1.4" stroke-linejoin="round"/>
<path d="M291.3,647.6 324.6,647.6 325.4,654.4 327.1,661.3 323.7,668.1 316.9,671.5 308.4,669.8 301.5,664.7 296.4,657.8 293.0,652.7Z" fill="#bbacd6" stroke="#bbacd6" stroke-width="1.4" stroke-linejoin="round"/>
<path d="M322.9,647.6 335.7,647.6 337.4,654.4 334.0,661.3 328.8,664.7 326.3,668.1 323.7,663.0 325.4,656.1Z" fill="#2e2672" stroke="#2e2672" stroke-width="1.4" stroke-linejoin="round"/>
<path d="M340.8,647.6 357.9,647.6 360.4,656.1 357.9,668.1 356.1,678.4 354.4,688.7 351.0,695.5 346.8,693.8 345.9,681.8 345.1,668.1 342.5,657.8Z" fill="#d3cde7" stroke="#d3cde7" stroke-width="1.4" stroke-linejoin="round"/>
<path d="M657.2,593.9 664.9,589.6 673.4,588.7 681.9,590.4 690.5,587.9 697.3,587.0 701.6,590.4 704.1,596.4 708.4,602.4 712.7,608.4 719.5,614.4 723.7,620.4 725.4,629.8 723.7,640.1 722.0,648.7 718.6,643.5 716.1,636.7 714.4,629.8 709.2,623.0 705.8,617.8 699.0,619.6 692.2,612.7 685.3,607.6 678.5,604.1 671.7,604.1 668.3,609.3 663.2,605.9 659.8,599.9Z" fill="#d3cde7" stroke="#d3cde7" stroke-width="1.4" stroke-linejoin="round"/>
<path d="M669.1,599.0 675.1,597.3 681.9,600.7 687.1,607.6 693.9,614.4 700.7,619.6 704.1,627.3 702.4,629.8 697.3,627.3 690.5,622.1 683.6,617.0 676.8,611.9 671.7,605.0Z" fill="#a78bc3" stroke="#a78bc3" stroke-width="1.4" stroke-linejoin="round"/>
<path d="M640.1,616.1 647.8,613.6 656.3,614.4 664.9,615.3 670.0,618.7 666.6,624.7 661.5,629.8 654.6,635.0 647.8,639.3 642.7,641.8 638.4,641.0 641.8,635.0 642.7,629.0 641.0,623.0Z" fill="#9376ae" stroke="#9376ae" stroke-width="1.4" stroke-linejoin="round"/>
<path d="M606.9,650.4 615.4,648.7 623.9,650.4 634.2,648.7 638.4,641.0 642.7,641.8 647.8,639.3 654.6,635.0 661.5,629.8 666.6,624.7 673.4,624.7 679.4,629.0 681.9,634.1 677.7,642.7 673.4,651.2 666.6,657.2 659.8,661.5 658.0,664.1 651.2,664.1 644.4,662.4 641.0,664.1 635.9,658.9 627.3,657.2 617.1,657.2 610.3,658.1 606.0,653.8Z" fill="#d3cde7" stroke="#d3cde7" stroke-width="1.4" stroke-linejoin="round"/>
<path d="M605.1,667.5 609.4,662.4 625.6,659.8 639.3,662.4 642.7,670.9 639.3,676.1 634.2,679.5 625.6,682.9 617.1,685.5 609.4,683.8 606.0,677.8Z" fill="#bbacd6" stroke="#bbacd6" stroke-width="1.4" stroke-linejoin="round"/>
<path d="M691.3,652.1 695.6,647.0 702.4,643.5 710.9,645.2 719.5,648.7 722.9,652.1 719.5,657.2 712.7,660.7 704.1,662.4 697.3,660.7 693.0,657.2Z" fill="#d3cde7" stroke="#d3cde7" stroke-width="1.4" stroke-linejoin="round"/>
<path d="M670.8,659.8 676.0,658.1 681.1,661.5 683.6,668.4 689.6,673.5 698.1,677.8 707.5,682.1 705.0,687.2 699.0,689.8 694.7,692.3 690.5,688.9 685.3,682.1 679.4,676.9 674.3,670.1 671.7,664.9Z" fill="#9376ae" stroke="#9376ae" stroke-width="1.4" stroke-linejoin="round"/>
<path d="M683.6,660.7 688.8,657.2 697.3,659.8 705.8,664.1 716.1,664.1 722.0,665.8 722.9,670.9 719.5,674.4 712.7,672.7 705.8,670.9 700.7,673.5 693.9,671.8 688.8,667.5Z" fill="#bbacd6" stroke="#bbacd6" stroke-width="1.4" stroke-linejoin="round"/>
<path d="M736.5,688.1 741.7,686.4 740.0,693.2 736.5,698.3 734.0,703.5 733.1,708.6 732.3,715.5 730.6,720.6 734.8,724.0 738.2,728.3 731.4,727.5 726.3,725.7 719.5,730.9 712.7,730.9 709.2,724.0 709.2,715.5 709.2,706.9 710.9,698.3 719.5,696.6 728.0,694.9 733.1,691.5Z" fill="#d3cde7" stroke="#d3cde7" stroke-width="1.4" stroke-linejoin="round"/>
<path d="M603.4,703.5 610.3,698.3 618.8,691.5 623.9,698.3 630.7,705.2 634.2,710.3 641.0,713.8 649.5,717.2 656.3,722.3 651.2,729.2 646.1,734.3 639.3,739.4 632.5,742.9 625.6,739.4 622.2,732.6 617.1,730.9 610.3,732.6 608.6,724.0 605.1,715.5Z" fill="#d3cde7" stroke="#d3cde7" stroke-width="1.4" stroke-linejoin="round"/>
<path d="M584.3,291.8 586.9,281.5 590.3,279.8 595.4,285.0 597.9,293.5 597.1,302.1 593.7,308.9 590.3,312.4 586.9,307.2 585.1,298.7Z" fill="#d3cde7" stroke="#d3cde7" stroke-width="1.4" stroke-linejoin="round"/>
<path d="M593.7,332.9 597.1,324.4 603.9,319.2 610.7,317.5 617.6,317.5 624.4,319.2 621.0,326.1 615.9,331.2 609.0,336.3 602.2,341.5 595.4,344.9 593.7,339.8Z" fill="#d3cde7" stroke="#d3cde7" stroke-width="1.4" stroke-linejoin="round"/>
<path d="M494.7,361.9 496.4,350.0 501.5,343.2 501.5,331.2 508.4,329.5 515.2,329.5 522.0,332.9 523.7,339.8 530.5,344.9 537.4,350.0 542.5,356.9 545.0,361.9Z" fill="#d3cde7" stroke="#d3cde7" stroke-width="1.4" stroke-linejoin="round"/>
<path d="M458.9,361.9 464.0,356.9 472.5,356.9 473.4,361.9Z" fill="#bbacd6" stroke="#bbacd6" stroke-width="1.4" stroke-linejoin="round"/>
<path d="M621.8,348.3 640.6,347.5 638.9,351.8 632.9,354.3 626.1,353.5Z" fill="#a78bc3" stroke="#a78bc3" stroke-width="1.4" stroke-linejoin="round"/></g>
<use href="#top"/>
</g>
<text x="126.4" y="985.6" font-size="13.2" fill="#bfe0ea" text-anchor="middle">-30°</text>
<text x="219.7" y="985.6" font-size="13.2" fill="#bfe0ea" text-anchor="middle">-20°</text>
<text x="297.5" y="985.6" font-size="13.2" fill="#bfe0ea" text-anchor="middle">-10°</text>
<text x="364.1" y="985.6" font-size="13.2" fill="#bfe0ea" text-anchor="middle">0°</text>
<text x="443.1" y="985.6" font-size="13.2" fill="#bfe0ea" text-anchor="middle">10°</text>
<text x="506.1" y="985.6" font-size="13.2" fill="#bfe0ea" text-anchor="middle">20°</text>
<text x="578.6" y="985.6" font-size="13.2" fill="#bfe0ea" text-anchor="middle">30°</text>
<text x="657.4" y="985.6" font-size="13.2" fill="#bfe0ea" text-anchor="middle">40°</text>
<text x="749.9" y="985.6" font-size="13.2" fill="#bfe0ea" text-anchor="middle">50°</text>
<text x="861.4" y="985.6" font-size="13.2" fill="#bfe0ea" text-anchor="middle">60°</text>
<text x="1024.9" y="985.6" font-size="13.2" fill="#bfe0ea" text-anchor="middle">70°</text>
<text x="108.7" y="1160.5" font-size="13.2" fill="#bfe0ea" text-anchor="middle">60°</text>
<text x="109.6" y="1407.0" font-size="13.2" fill="#bfe0ea" text-anchor="middle">50°</text>
<text x="109.6" y="1644.5" font-size="13.2" fill="#bfe0ea" text-anchor="middle">40°</text>
<text x="1030.6" y="1261.0" font-size="13.2" fill="#bfe0ea" text-anchor="middle">50°</text>
<text x="1031.1" y="1535.0" font-size="13.2" fill="#bfe0ea" text-anchor="middle">40°</text>
<text x="258.3" y="1776.0" font-size="13.2" fill="#bfe0ea" text-anchor="middle">0°</text>
<text x="440.1" y="1778.0" font-size="13.2" fill="#bfe0ea" text-anchor="middle">10°</text>
<text x="625.1" y="1778.0" font-size="13.2" fill="#bfe0ea" text-anchor="middle">20°</text>
<text x="812.1" y="1778.0" font-size="13.2" fill="#bfe0ea" text-anchor="middle">30°</text>
<text x="1007.1" y="1778.0" font-size="13.2" fill="#bfe0ea" text-anchor="middle">40°</text>
<path d="M105.0,1772.6V1778.2H405.9V1772.6M205.3,1772.6V1778.2M305.7,1772.6V1778.2" fill="none" stroke="#808080" stroke-width="1.2"/><text x="97.6" y="1763.3" font-size="17" fill="#757575" textLength="9.3" lengthAdjust="spacingAndGlyphs">0</text><text x="188.5" y="1763.3" font-size="17" fill="#757575" textLength="28.9" lengthAdjust="spacingAndGlyphs">500</text><text x="280.9" y="1763.3" font-size="17" fill="#757575" textLength="44.4" lengthAdjust="spacingAndGlyphs">1 000</text><text x="384.9" y="1763.3" font-size="17" fill="#757575" textLength="72.7" lengthAdjust="spacingAndGlyphs">1 500 km</text>
<text x="108.4" y="1011.2" font-size="29" font-weight="bold" fill="#000" textLength="204.0" lengthAdjust="spacingAndGlyphs">Summer, 2015</text>
</g>
<rect x="84.1" y="959.5" width="973.4" height="833.9" fill="none" stroke="#000" stroke-width="2.2"/>
<g clip-path="url(#c3)">
<g transform="matrix(1.0054,0,0,0.999,1029.68,881.94)">
<use href="#base"/>
<g clip-path="url(#landclip)"><path d="M414.1,674.1 419.2,675.8 422.6,686.0 425.1,698.0 423.4,705.7 414.1,709.1Z" fill="#a78bc3" stroke="#a78bc3" stroke-width="1.4" stroke-linejoin="round"/>
<path d="M450.6,658.7 458.3,654.4 468.4,651.0 478.6,652.7 488.8,657.0 497.3,662.1 493.9,669.8 490.5,676.6 485.4,680.9 481.2,684.3 480.3,690.3 482.0,693.7 473.5,695.4 465.1,693.7 460.8,689.5 457.4,680.9 454.0,672.4 451.5,665.5Z" fill="#d3cde7" stroke="#d3cde7" stroke-width="1.4" stroke-linejoin="round"/>
<path d="M478.6,652.7 488.8,648.4 499.0,646.7 536.4,646.7 543.2,651.8 551.7,657.0 560.2,660.4 567.0,665.5 573.8,670.6 578.0,674.9 570.4,675.8 563.6,673.2 556.8,669.8 548.3,666.4 539.8,663.8 533.0,662.1 526.2,660.4 517.7,659.5 509.2,660.4 502.4,661.2 497.3,662.1 488.8,657.0Z" fill="#bbacd6" stroke="#bbacd6" stroke-width="1.4" stroke-linejoin="round"/>
<path d="M467.6,697.1 473.5,695.9 478.6,696.6 482.0,695.9 479.5,700.1 475.2,701.1 470.1,699.4Z" fill="#2e2672" stroke="#2e2672" stroke-width="1.4" stroke-linejoin="round"/>
<path d="M461.7,705.7 465.1,698.9 470.1,698.0 479.5,700.6 482.0,705.7 485.4,712.5 490.5,717.7 495.6,722.8 502.4,727.9 497.3,731.3 491.4,734.8 485.4,727.9 478.6,722.8 471.8,716.0 465.1,712.5Z" fill="#d3cde7" stroke="#d3cde7" stroke-width="1.4" stroke-linejoin="round"/>
<path d="M449.8,718.5 454.9,715.1 461.7,716.0 468.4,713.4 474.4,716.8 476.9,723.6 475.2,732.2 471.8,739.9 470.1,746.7 471.8,753.6 466.7,750.1 461.7,745.0 457.4,739.0 454.0,733.1 450.6,724.5Z" fill="#d3cde7" stroke="#d3cde7" stroke-width="1.4" stroke-linejoin="round"/>
<path d="M447.2,713.4 450.6,712.5 455.7,716.0 453.2,720.2 449.8,718.5Z" fill="#bbacd6" stroke="#bbacd6" stroke-width="1.4" stroke-linejoin="round"/>
<path d="M471.8,746.7 475.2,739.9 476.9,724.5 479.5,726.2 485.4,727.9 491.4,734.8 497.3,731.3 502.4,727.9 506.7,733.1 509.2,739.9 513.5,746.7 517.7,753.6 521.1,757.8 516.0,762.1 510.9,765.5 505.8,764.7 499.0,766.4 493.9,770.7 488.8,774.1 483.7,769.0 478.6,763.8 473.5,757.0Z" fill="#bbacd6" stroke="#bbacd6" stroke-width="1.4" stroke-linejoin="round"/>
<path d="M516.0,763.8 522.8,759.6 533.0,761.3 541.5,759.9 546.6,760.9 545.7,764.3 548.3,769.0 553.4,773.2 560.2,775.8 567.0,779.2 573.8,782.6 580.6,786.1 585.7,791.2 587.4,797.2 585.7,801.4 583.1,798.9 578.9,794.6 573.8,791.2 568.7,789.5 561.9,784.3 555.1,780.1 548.3,779.2 541.5,782.6 534.7,784.3 534.7,779.2 529.6,774.1 522.8,772.4 517.7,769.0Z" fill="#d3cde7" stroke="#d3cde7" stroke-width="1.4" stroke-linejoin="round"/>
<path d="M567.0,788.6 572.9,789.5 578.9,792.9 584.0,797.2 587.0,801.4 584.8,802.6 581.4,799.7 576.3,795.5 570.4,792.0Z" fill="#9376ae" stroke="#9376ae" stroke-width="1.4" stroke-linejoin="round"/>
<path d="M511.8,781.8 516.9,783.5 523.7,786.1 530.5,785.2 534.7,785.2 540.7,786.1 541.5,793.7 544.0,800.6 541.5,803.2 536.4,800.6 531.3,798.0 526.2,792.9 521.1,788.6 516.0,785.2Z" fill="#9376ae" stroke="#9376ae" stroke-width="1.4" stroke-linejoin="round"/>
<path d="M544.0,803.2 547.4,803.2 548.3,809.1 547.4,810.8 545.7,809.1Z" fill="#a78bc3" stroke="#a78bc3" stroke-width="1.4" stroke-linejoin="round"/>
<path d="M549.1,821.1 555.1,819.4 555.9,822.0 551.7,823.7Z" fill="#a78bc3" stroke="#a78bc3" stroke-width="1.4" stroke-linejoin="round"/>
<path d="M422.8,748.5 428.0,745.1 431.4,741.7 433.1,739.1 434.8,741.7 433.9,748.5 435.6,755.3 434.8,763.9 432.2,770.7 428.8,775.8 425.4,773.3 422.8,769.0 421.1,763.9 419.4,757.0 420.3,751.9Z" fill="#d3cde7" stroke="#d3cde7" stroke-width="1.4" stroke-linejoin="round"/>
<path d="M671.5,831.4 677.4,828.8 683.4,825.4 685.9,822.8 688.5,826.2 689.3,832.2 690.2,834.8 685.9,832.2 681.7,830.5 676.6,832.2Z" fill="#2e2672" stroke="#2e2672" stroke-width="1.4" stroke-linejoin="round"/>
<path d="M667.2,728.8 674.0,724.5 685.9,723.6 689.3,725.4 702.9,721.1 709.7,721.9 710.5,732.2 706.3,735.6 696.1,740.7 687.6,745.9 680.8,749.3 675.7,744.2 670.6,739.0 668.1,733.9Z" fill="#bbacd6" stroke="#bbacd6" stroke-width="1.4" stroke-linejoin="round"/>
<path d="M709.7,699.7 716.5,698.0 723.3,698.0 731.8,697.1 735.2,701.4 733.5,708.3 730.1,713.4 735.2,720.2 733.5,727.1 728.4,727.1 721.6,727.1 718.2,720.2 713.1,715.1 709.7,708.3Z" fill="#d3cde7" stroke="#d3cde7" stroke-width="1.4" stroke-linejoin="round"/>
<path d="M669.8,660.4 675.7,657.8 680.8,663.8 687.6,672.4 696.1,677.5 704.6,680.9 706.3,686.0 701.2,688.6 694.4,692.0 689.3,688.6 684.2,680.9 677.4,672.4 671.5,665.5Z" fill="#a78bc3" stroke="#a78bc3" stroke-width="1.4" stroke-linejoin="round"/>
<path d="M682.5,663.8 689.3,661.2 697.8,661.2 706.3,663.8 716.5,665.5 721.6,668.9 719.9,672.4 713.1,672.4 708.0,672.4 704.6,675.8 701.2,679.2 696.1,677.5 687.6,672.4Z" fill="#d3cde7" stroke="#d3cde7" stroke-width="1.4" stroke-linejoin="round"/>
<path d="M604.4,665.5 609.5,661.2 619.7,659.5 629.8,660.4 638.3,664.7 640.9,669.8 634.9,674.9 626.4,674.1 619.7,678.3 612.9,683.5 607.8,679.2 605.2,672.4Z" fill="#d3cde7" stroke="#d3cde7" stroke-width="1.4" stroke-linejoin="round"/>
<path d="M604.4,652.7 612.9,650.1 624.7,651.8 634.9,653.5 645.1,654.4 655.3,651.8 662.1,646.7 604.4,646.7Z" fill="#bbacd6" stroke="#bbacd6" stroke-width="1.4" stroke-linejoin="round"/>
<path d="M640.0,655.3 655.3,651.8 662.1,646.7 674.0,646.7 668.9,653.5 658.7,658.7 655.3,663.8 648.5,663.8 641.7,660.4Z" fill="#bbacd6" stroke="#bbacd6" stroke-width="1.4" stroke-linejoin="round"/>
<path d="M217.5,479.4 221.8,470.0 227.7,473.4 232.0,476.8 232.8,482.8 232.0,489.7 229.4,495.6 226.9,496.5 225.2,489.7 223.5,483.7Z" fill="#d3cde7" stroke="#d3cde7" stroke-width="1.4" stroke-linejoin="round"/>
<path d="M284.6,451.2 289.7,446.9 295.7,448.6 298.2,455.5 300.3,464.0 302.5,470.0 298.2,471.7 292.3,470.0 287.2,469.1 285.5,461.4Z" fill="#bbacd6" stroke="#bbacd6" stroke-width="1.4" stroke-linejoin="round"/>
<path d="M287.2,469.1 292.3,470.0 298.2,471.7 302.5,470.0 306.7,476.0 310.1,482.8 312.7,489.7 314.4,495.6 308.4,497.3 302.5,497.3 300.8,507.6 298.2,514.4 291.4,516.2 284.6,517.9 281.2,511.0 279.5,503.3 282.9,499.1 286.3,495.6 288.9,488.8 285.5,482.0 286.3,475.1Z" fill="#d3cde7" stroke="#d3cde7" stroke-width="1.4" stroke-linejoin="round"/>
<path d="M259.1,507.6 265.9,504.2 272.7,502.5 279.5,503.3 281.2,511.0 284.6,517.9 291.4,516.2 289.7,523.0 282.9,526.4 276.1,529.0 269.3,531.5 262.5,533.3 258.3,529.8 257.4,519.6Z" fill="#d3cde7" stroke="#d3cde7" stroke-width="1.4" stroke-linejoin="round"/>
<path d="M264.2,535.8 271.0,532.4 277.8,529.8 279.5,535.8 280.4,541.8 272.7,540.9 267.6,539.2Z" fill="#d3cde7" stroke="#d3cde7" stroke-width="1.4" stroke-linejoin="round"/>
<path d="M278.7,529.8 284.6,526.4 290.6,529.8 298.2,532.4 305.0,529.8 310.1,531.5 314.4,540.1 321.2,544.4 324.6,546.9 323.7,549.5 316.9,550.4 310.1,548.6 303.3,547.8 296.5,548.6 289.7,546.9 282.9,540.9 280.4,535.0Z" fill="#bbacd6" stroke="#bbacd6" stroke-width="1.4" stroke-linejoin="round"/>
<path d="M281.2,541.8 282.9,540.9 289.7,546.9 296.5,548.6 303.3,547.8 310.1,548.6 316.9,550.4 323.7,549.5 321.2,552.9 314.4,555.5 307.6,556.3 300.8,554.6 294.0,553.8 288.0,554.6 281.2,552.1Z" fill="#a78bc3" stroke="#a78bc3" stroke-width="1.4" stroke-linejoin="round"/>
<path d="M374.7,509.6 377.2,511.3 375.5,515.6 377.2,519.9 381.5,522.4 384.9,525.0 389.2,524.1 392.6,529.2 399.4,531.8 403.7,533.5 402.8,539.5 399.4,542.9 394.3,540.3 392.6,544.6 395.2,550.6 396.0,557.4 394.3,564.3 395.2,571.1 392.6,573.7 387.5,574.5 384.1,578.8 384.1,584.8 384.9,591.6 383.2,596.7 382.4,603.5 384.1,610.4 384.9,617.2 383.2,622.3 378.1,625.8 378.9,618.9 379.8,612.1 377.2,605.3 375.5,598.4 372.1,593.3 368.7,588.2 365.3,581.3 358.4,578.8 354.2,577.1 360.1,572.8 368.7,568.5 377.2,566.0 382.4,560.8 380.6,554.0 375.5,548.9 368.7,544.6 364.4,542.1 365.3,536.9 368.7,531.8 371.2,525.0 372.1,516.4Z" fill="#2e2672" stroke="#2e2672" stroke-width="1.4" stroke-linejoin="round"/>
<path d="M332.8,563.4 339.6,559.1 348.2,555.7 356.7,552.3 365.3,549.7 375.5,548.9 380.6,554.0 382.4,560.8 377.2,566.0 368.7,568.5 360.1,572.8 354.2,577.1 346.5,575.4 339.6,571.9 335.4,567.7Z" fill="#a78bc3" stroke="#a78bc3" stroke-width="1.4" stroke-linejoin="round"/>
<path d="M384.9,591.6 384.1,584.8 384.1,578.8 387.5,574.5 392.6,573.7 399.4,572.8 406.3,574.5 410.5,576.2 408.0,583.0 404.6,589.9 408.0,595.0 413.1,596.7 409.7,603.5 406.3,610.4 402.8,618.9 399.4,625.8 396.9,630.0 392.6,624.0 387.5,618.9 384.9,617.2 384.1,610.4 382.4,603.5 383.2,596.7Z" fill="#9376ae" stroke="#9376ae" stroke-width="1.4" stroke-linejoin="round"/>
<path d="M383.2,509.6 387.5,506.2 394.3,503.6 396.0,509.6 399.4,518.1 402.8,525.0 406.3,530.1 403.7,533.5 399.4,531.8 392.6,529.2 389.2,524.1 384.9,525.0 381.5,522.4 384.1,516.4Z" fill="#d3cde7" stroke="#d3cde7" stroke-width="1.4" stroke-linejoin="round"/>
<path d="M396.0,509.6 397.7,504.5 406.3,500.2 416.9,499.4 416.9,542.1 411.4,540.3 408.0,535.2 406.3,530.1 402.8,525.0 399.4,518.1Z" fill="#bbacd6" stroke="#bbacd6" stroke-width="1.4" stroke-linejoin="round"/>
<path d="M324.6,558.9 329.6,553.8 338.1,550.4 346.6,547.8 353.4,546.1 358.5,543.5 362.8,543.5 367.0,546.1 373.8,550.4 363.6,551.2 355.1,553.8 346.6,557.2 338.1,560.6 331.3,564.9 326.3,567.5Z" fill="#bbacd6" stroke="#bbacd6" stroke-width="1.4" stroke-linejoin="round"/>
<path d="M397.6,544.4 401.0,540.9 409.5,542.7 414.1,544.4 414.1,576.0 408.6,577.7 404.4,576.0 397.6,574.3 393.4,572.6 392.5,565.7 394.2,558.9 393.4,552.1 390.8,546.1Z" fill="#d3cde7" stroke="#d3cde7" stroke-width="1.4" stroke-linejoin="round"/>
<path d="M323.7,569.2 330.5,565.7 337.3,573.4 344.1,576.9 351.7,578.6 347.5,582.0 339.0,582.8 330.5,583.7 325.4,578.6Z" fill="#d3cde7" stroke="#d3cde7" stroke-width="1.4" stroke-linejoin="round"/>
<path d="M227.7,594.0 233.7,595.7 242.2,598.2 247.3,600.8 244.7,604.2 237.9,605.9 232.0,603.4Z" fill="#bbacd6" stroke="#bbacd6" stroke-width="1.4" stroke-linejoin="round"/>
<path d="M262.5,609.3 268.5,607.6 275.3,609.3 279.5,611.9 277.0,616.2 271.0,615.3 265.9,613.6Z" fill="#a78bc3" stroke="#a78bc3" stroke-width="1.4" stroke-linejoin="round"/>
<path d="M279.5,611.9 284.6,600.8 291.4,604.2 298.2,607.6 303.3,605.9 310.1,609.3 316.9,613.6 323.7,616.2 321.2,620.5 314.4,622.2 307.6,624.7 300.8,628.1 294.0,627.3 287.2,629.0 282.1,625.6 277.0,619.6Z" fill="#d3cde7" stroke="#d3cde7" stroke-width="1.4" stroke-linejoin="round"/>
<path d="M314.4,622.2 321.2,620.5 327.1,623.0 332.2,628.1 337.3,635.0 340.7,641.8 339.0,646.8 306.7,646.8 305.0,638.4 300.8,633.3 300.8,628.1 307.6,624.7Z" fill="#d3cde7" stroke="#d3cde7" stroke-width="1.4" stroke-linejoin="round"/>
<path d="M257.4,624.7 262.5,629.9 265.1,636.7 266.8,643.5 265.9,646.8 260.8,646.8 260.0,640.1 258.3,631.6Z" fill="#d3cde7" stroke="#d3cde7" stroke-width="1.4" stroke-linejoin="round"/>
<path d="M434.8,491.7 443.3,495.1 451.9,496.8 458.7,498.5 465.5,495.1 474.1,493.4 482.6,498.5 480.9,505.3 474.1,507.0 472.4,513.9 470.7,520.7 465.5,524.1 458.7,520.7 451.9,517.3 445.0,512.2 439.9,507.0 436.5,500.2Z" fill="#d3cde7" stroke="#d3cde7" stroke-width="1.4" stroke-linejoin="round"/>
<path d="M465.5,495.1 472.4,490.0 479.2,484.8 486.0,483.1 492.9,486.5 494.6,493.4 491.2,501.9 486.0,505.3 480.9,505.3 482.6,498.5 474.1,493.4Z" fill="#d3cde7" stroke="#d3cde7" stroke-width="1.4" stroke-linejoin="round"/>
<path d="M432.8,518.7 439.6,515.3 446.4,520.4 453.2,525.6 458.3,532.4 454.9,537.5 451.5,542.7 448.1,549.5 444.7,546.1 439.6,542.7 435.3,535.8 433.6,527.3Z" fill="#bbacd6" stroke="#bbacd6" stroke-width="1.4" stroke-linejoin="round"/>
<path d="M419.2,558.0 426.0,551.2 432.8,546.1 439.6,542.7 444.7,546.1 448.1,549.5 449.8,558.0 454.9,566.6 458.3,573.4 449.8,575.1 441.3,573.4 432.8,571.7 429.4,563.2 422.6,559.8Z" fill="#9376ae" stroke="#9376ae" stroke-width="1.4" stroke-linejoin="round"/>
<path d="M414.1,510.2 419.2,515.3 421.7,525.6 419.2,534.1 424.3,539.2 414.1,540.9Z" fill="#bbacd6" stroke="#bbacd6" stroke-width="1.4" stroke-linejoin="round"/>
<path d="M414.1,542.7 422.6,540.9 427.7,547.8 422.6,554.6 414.1,558.0Z" fill="#d3cde7" stroke="#d3cde7" stroke-width="1.4" stroke-linejoin="round"/>
<path d="M474.1,507.0 480.9,505.3 486.0,508.7 489.4,515.6 494.6,522.4 499.7,529.2 503.1,536.1 506.5,542.9 511.7,548.0 514.2,554.9 509.9,558.3 506.5,553.2 503.1,546.3 498.0,541.2 491.2,537.8 486.0,532.7 479.2,529.2 474.1,524.1 472.4,519.0 472.4,513.9Z" fill="#bbacd6" stroke="#bbacd6" stroke-width="1.4" stroke-linejoin="round"/>
<path d="M454.4,534.4 460.4,536.1 467.2,538.6 474.1,541.2 477.5,548.0 481.8,551.5 482.6,558.3 479.2,565.1 478.3,573.7 472.4,577.9 467.2,573.7 460.4,568.5 454.4,563.4 458.7,560.0 453.6,554.9 450.2,549.7 451.9,542.9Z" fill="#2e2672" stroke="#2e2672" stroke-width="1.4" stroke-linejoin="round"/>
<path d="M516.8,532.7 521.9,527.5 527.0,534.4 530.4,541.2 537.3,539.5 544.1,537.8 549.2,536.1 554.4,541.2 559.5,548.0 562.9,554.9 568.0,560.0 573.1,563.4 570.6,570.2 569.7,578.8 572.3,583.9 568.0,587.3 561.2,583.9 554.4,582.2 549.2,577.1 542.4,573.7 537.3,568.5 533.9,561.7 528.7,556.6 525.3,549.7 527.0,544.6 521.9,539.5Z" fill="#2e2672" stroke="#2e2672" stroke-width="1.4" stroke-linejoin="round"/>
<path d="M545.8,521.6 554.4,522.4 562.9,523.3 568.0,525.8 571.4,532.7 576.6,539.5 577.4,548.0 579.1,554.9 577.4,561.7 571.4,560.0 566.3,556.6 564.6,551.5 562.9,544.6 559.5,537.8 554.4,532.7 550.9,527.5Z" fill="#2e2672" stroke="#2e2672" stroke-width="1.4" stroke-linejoin="round"/>
<path d="M509.9,520.7 516.8,513.9 520.2,505.3 527.0,496.8 533.9,490.0 537.3,493.4 540.7,500.2 547.5,507.0 554.4,512.2 559.5,517.3 562.9,522.4 554.4,522.4 547.5,520.7 544.1,512.2 537.3,510.5 530.4,513.9 523.6,517.3 516.8,524.1 513.4,529.2Z" fill="#d3cde7" stroke="#d3cde7" stroke-width="1.4" stroke-linejoin="round"/>
<path d="M516.8,524.1 523.6,517.3 530.4,513.9 537.3,510.5 544.1,512.2 547.5,520.7 550.9,527.5 554.4,532.7 559.5,537.8 562.9,544.6 564.6,551.5 559.5,548.0 554.4,541.2 549.2,536.1 540.7,537.8 535.6,539.5 530.4,534.4 523.6,529.2Z" fill="#d3cde7" stroke="#d3cde7" stroke-width="1.4" stroke-linejoin="round"/>
<path d="M535.6,476.3 544.1,471.2 552.6,469.5 557.8,472.9 559.5,478.0 561.2,483.1 554.4,483.1 547.5,484.8 540.7,483.1Z" fill="#d3cde7" stroke="#d3cde7" stroke-width="1.4" stroke-linejoin="round"/>
<path d="M561.2,479.7 568.0,476.3 573.1,474.6 574.9,479.7 580.0,481.4 580.0,488.3 581.7,490.0 576.6,488.3 571.4,486.5 566.3,487.4 562.0,484.8Z" fill="#9376ae" stroke="#9376ae" stroke-width="1.4" stroke-linejoin="round"/>
<path d="M575.5,500.8 579.7,496.5 584.0,499.1 585.7,505.9 589.1,511.0 594.2,513.6 601.0,516.2 601.8,519.6 595.0,519.6 589.9,517.0 584.8,514.4 579.7,511.0 576.3,505.9Z" fill="#5b428c" stroke="#5b428c" stroke-width="1.4" stroke-linejoin="round"/>
<path d="M588.5,483.1 595.3,478.0 603.9,474.6 612.4,476.3 619.3,483.1 624.4,490.0 631.2,495.1 636.3,496.8 631.2,500.2 624.4,505.3 617.6,501.9 610.7,498.5 603.9,500.2 597.1,503.6 593.6,496.8 590.2,490.0Z" fill="#bbacd6" stroke="#bbacd6" stroke-width="1.4" stroke-linejoin="round"/>
<path d="M610.7,526.7 615.8,524.1 621.8,525.0 624.4,531.0 629.5,537.8 634.6,544.6 635.5,549.7 631.2,553.2 625.2,551.5 620.1,546.3 616.7,539.5 614.1,532.7Z" fill="#9376ae" stroke="#9376ae" stroke-width="1.4" stroke-linejoin="round"/>
<path d="M586.0,551.5 591.9,546.3 598.8,541.2 605.6,537.8 611.6,534.4 614.1,532.7 616.7,539.5 620.1,546.3 615.8,549.7 612.4,554.9 610.7,561.7 612.4,570.2 609.0,577.1 605.6,582.2 602.2,587.3 595.3,592.4 590.2,589.0 586.8,582.2 580.0,582.2 573.1,583.9 569.7,578.8 570.6,570.2 573.1,563.4 579.1,560.8 584.2,556.6Z" fill="#bbacd6" stroke="#bbacd6" stroke-width="1.4" stroke-linejoin="round"/>
<path d="M612.4,554.9 615.8,549.7 625.2,551.5 631.2,553.2 638.0,561.7 638.9,570.2 632.9,575.4 628.7,577.9 631.2,583.9 624.4,583.9 617.6,580.5 612.4,577.1 609.0,577.1 612.4,570.2 610.7,561.7Z" fill="#bbacd6" stroke="#bbacd6" stroke-width="1.4" stroke-linejoin="round"/>
<path d="M481.8,582.2 489.4,578.8 498.0,575.4 506.5,573.7 513.4,580.5 521.9,583.9 530.4,585.6 527.0,592.4 521.9,599.3 520.2,607.8 511.7,612.1 503.1,606.1 496.3,599.3 489.4,592.4 484.3,587.3Z" fill="#d3cde7" stroke="#d3cde7" stroke-width="1.4" stroke-linejoin="round"/>
<path d="M589.1,597.4 595.9,590.5 604.4,587.1 609.5,592.2 611.2,600.8 609.5,609.3 606.1,614.5 599.3,612.8 592.5,609.3 588.2,604.2Z" fill="#d3cde7" stroke="#d3cde7" stroke-width="1.4" stroke-linejoin="round"/>
<path d="M655.3,592.2 663.8,588.8 674.0,588.0 684.2,588.8 694.4,587.1 699.5,592.2 704.6,602.5 709.7,611.0 716.5,617.9 721.6,624.7 724.1,636.7 723.3,646.8 718.2,643.5 714.8,633.3 709.7,623.0 702.9,616.2 699.5,623.0 701.2,629.9 697.8,631.6 692.7,624.7 684.2,616.2 677.4,609.3 670.6,602.5 663.8,600.8 658.7,597.4Z" fill="#d3cde7" stroke="#d3cde7" stroke-width="1.4" stroke-linejoin="round"/>
<path d="M667.2,599.1 674.0,597.4 680.8,600.8 687.6,607.6 694.4,614.5 699.5,621.3 702.0,628.1 699.5,630.7 694.4,624.7 687.6,617.9 680.8,612.8 674.0,607.6 668.9,604.2Z" fill="#a78bc3" stroke="#a78bc3" stroke-width="1.4" stroke-linejoin="round"/>
<path d="M639.2,617.9 645.1,615.3 653.6,616.2 662.1,615.3 668.1,617.9 667.2,624.7 674.0,625.6 679.1,629.9 680.8,636.7 677.4,643.5 674.0,646.8 636.6,646.8 640.0,638.4 639.2,628.1Z" fill="#bbacd6" stroke="#bbacd6" stroke-width="1.4" stroke-linejoin="round"/>
<path d="M493.9,646.8 500.7,641.8 510.9,636.7 521.1,633.3 527.1,630.7 528.8,635.0 525.4,646.8Z" fill="#bbacd6" stroke="#bbacd6" stroke-width="1.4" stroke-linejoin="round"/>
<path d="M459.1,361.4 471.0,361.4 473.5,368.3 472.7,376.8 471.0,385.4 471.8,392.2 475.2,393.1 474.4,399.0 471.0,404.2 466.7,405.9 465.1,399.9 465.9,393.1 464.2,384.5 461.7,376.0 459.6,368.3Z" fill="#bbacd6" stroke="#bbacd6" stroke-width="1.4" stroke-linejoin="round"/>
<path d="M458.3,376.8 461.7,376.0 464.2,384.5 465.9,393.1 465.1,399.9 462.5,398.2 460.8,390.5 459.1,383.6Z" fill="#9376ae" stroke="#9376ae" stroke-width="1.4" stroke-linejoin="round"/>
<path d="M466.7,405.9 471.0,404.2 480.3,402.5 488.8,404.2 497.3,407.6 499.9,416.1 507.5,417.8 509.2,426.4 508.4,434.9 504.1,440.1 497.3,441.8 492.2,445.2 487.1,443.5 483.7,441.8 481.2,434.9 478.6,426.4 475.2,417.8 470.1,411.0Z" fill="#d3cde7" stroke="#d3cde7" stroke-width="1.4" stroke-linejoin="round"/>
<path d="M495.6,388.8 500.7,387.1 507.5,385.4 514.3,384.5 516.0,387.9 521.1,391.3 522.0,398.2 519.4,401.6 516.0,399.9 513.5,405.0 507.5,406.7 500.7,405.9 493.9,406.7 493.1,401.6 494.8,394.8Z" fill="#d3cde7" stroke="#d3cde7" stroke-width="1.4" stroke-linejoin="round"/>
<path d="M512.6,394.8 516.0,393.1 520.3,393.9 522.5,398.2 522.0,403.3 519.4,405.0 517.7,401.6 515.2,399.0Z" fill="#474283" stroke="#474283" stroke-width="1.4" stroke-linejoin="round"/>
<path d="M497.3,361.4 539.0,361.4 534.7,370.0 531.3,376.8 524.5,380.2 517.7,378.5 514.3,375.1 507.5,373.4 500.7,370.0Z" fill="#d3cde7" stroke="#d3cde7" stroke-width="1.4" stroke-linejoin="round"/>
<path d="M522.8,438.7 524.5,429.3 526.7,419.1 528.7,413.6 529.4,414.3 527.4,425.9 525.3,434.4 523.6,439.6Z" fill="#a78bc3" stroke="#a78bc3" stroke-width="1.4" stroke-linejoin="round"/>
<path d="M457.8,454.1 462.1,449.8 467.2,446.4 474.1,445.5 475.8,451.5 474.9,458.4 472.4,463.5 474.1,466.9 469.8,468.6 465.5,466.0 461.3,465.2 459.6,460.1Z" fill="#9376ae" stroke="#9376ae" stroke-width="1.4" stroke-linejoin="round"/>
<path d="M457.0,472.9 461.3,472.0 465.5,474.6 469.0,472.9 472.4,470.3 473.2,472.9 469.8,477.1 464.7,478.9 459.6,477.1Z" fill="#9376ae" stroke="#9376ae" stroke-width="1.4" stroke-linejoin="round"/>
<path d="M478.6,446.9 482.9,447.8 490.5,452.0 493.1,454.6 490.5,457.2 485.4,457.2 481.2,454.6Z" fill="#474283" stroke="#474283" stroke-width="1.4" stroke-linejoin="round"/>
<path d="M633.2,361.4 670.6,361.4 668.9,366.6 662.1,370.0 651.9,366.6 641.7,364.8 634.9,364.0Z" fill="#d3cde7" stroke="#d3cde7" stroke-width="1.4" stroke-linejoin="round"/>
<path d="M202.6,717.0 209.4,717.0 214.5,722.1 219.6,728.9 224.7,737.5 228.9,743.5 221.3,744.3 212.8,745.2 204.3,746.0 198.3,746.9 198.3,740.9 199.2,730.7 200.9,723.8Z" fill="#bbacd6" stroke="#bbacd6" stroke-width="1.4" stroke-linejoin="round"/>
<path d="M214.5,722.1 221.3,718.7 229.8,720.4 238.2,722.1 246.7,725.5 255.2,724.7 262.0,726.4 268.8,730.7 272.2,734.9 270.5,739.2 265.4,741.8 263.7,747.8 260.3,751.2 255.2,752.9 248.4,751.2 243.3,747.8 238.2,744.3 233.2,740.9 228.9,743.5 224.7,737.5 219.6,728.9Z" fill="#d3cde7" stroke="#d3cde7" stroke-width="1.4" stroke-linejoin="round"/>
<path d="M209.4,766.6 214.5,763.1 221.3,760.6 228.1,760.6 233.2,764.0 234.8,768.3 231.5,773.4 228.1,778.5 223.0,782.0 217.9,783.7 212.8,783.7 210.2,776.8Z" fill="#2e2672" stroke="#2e2672" stroke-width="1.4" stroke-linejoin="round"/>
<path d="M228.1,778.5 231.5,773.4 234.8,768.3 240.8,766.6 245.9,770.0 249.3,775.1 251.0,781.1 246.7,783.7 239.9,785.4 234.8,787.1 229.8,788.8 223.0,785.4 217.9,783.7 223.0,782.0Z" fill="#d3cde7" stroke="#d3cde7" stroke-width="1.4" stroke-linejoin="round"/>
<path d="M201.7,796.5 208.5,793.1 215.3,791.4 222.1,787.9 228.9,787.9 232.3,793.1 234.0,799.9 230.6,806.7 228.1,813.6 225.5,817.9 218.7,817.0 211.9,818.7 205.1,815.3 200.0,810.2 199.2,803.3Z" fill="#2e2672" stroke="#2e2672" stroke-width="1.4" stroke-linejoin="round"/>
<path d="M303.7,752.9 311.3,749.5 319.8,747.8 326.6,747.4 331.7,749.5 330.0,756.3 324.9,761.4 318.1,765.7 309.6,770.0 301.1,773.4 293.5,776.8 290.9,771.7 296.0,766.6 301.1,761.4 302.8,758.0Z" fill="#7f69a6" stroke="#7f69a6" stroke-width="1.4" stroke-linejoin="round"/>
<path d="M108.3,792.2 110.0,786.2 114.2,781.1 119.3,775.1 121.9,776.8 118.5,782.8 115.1,787.9 112.5,792.2Z" fill="#2e2672" stroke="#2e2672" stroke-width="1.4" stroke-linejoin="round"/>
<path d="M137.2,830.7 142.3,825.6 147.4,820.4 153.3,822.1 155.0,827.3 152.5,832.4 147.4,834.1 142.3,835.0Z" fill="#d3cde7" stroke="#d3cde7" stroke-width="1.4" stroke-linejoin="round"/>
<path d="M169.4,817.0 176.2,815.3 183.0,816.1 189.8,820.4 194.9,814.4 195.8,820.4 196.6,825.6 199.2,832.4 203.4,837.5 205.1,844.4 207.7,849.5 202.6,852.9 195.8,846.9 189.0,845.2 182.2,846.1 177.1,843.5 176.2,835.0 174.5,828.1 172.0,823.0Z" fill="#d3cde7" stroke="#d3cde7" stroke-width="1.4" stroke-linejoin="round"/>
<path d="M194.9,814.4 201.7,817.0 205.1,815.3 211.9,818.7 218.7,817.0 225.5,817.9 228.1,827.3 222.1,830.7 224.7,834.1 228.1,839.2 226.4,844.4 221.3,847.8 214.5,851.2 209.4,849.5 206.0,844.4 204.3,837.5 200.0,832.4 197.5,825.6 196.6,820.4Z" fill="#a78bc3" stroke="#a78bc3" stroke-width="1.4" stroke-linejoin="round"/>
<path d="M165.2,865.7 168.6,856.3 174.5,851.2 181.3,845.2 188.1,845.2 194.9,846.9 201.7,852.9 207.7,849.5 214.5,851.2 221.3,847.8 226.4,844.4 233.2,844.4 234.8,850.3 231.5,856.3 226.4,862.3 219.6,860.6 212.8,859.7 206.0,858.0 197.5,857.2 189.0,855.5 182.2,858.0 175.4,859.7 169.4,862.3Z" fill="#9376ae" stroke="#9376ae" stroke-width="1.4" stroke-linejoin="round"/>
<path d="M152.5,847.8 158.4,846.9 166.9,845.2 174.5,845.2 174.5,851.2 168.6,856.3 165.2,865.7 162.6,866.6 159.2,861.5 155.9,854.6Z" fill="#d3cde7" stroke="#d3cde7" stroke-width="1.4" stroke-linejoin="round"/>
<path d="M134.3,732.2 141.9,730.5 150.4,729.6 145.3,733.9 138.5,737.3 134.3,739.0Z" fill="#d3cde7" stroke="#d3cde7" stroke-width="1.4" stroke-linejoin="round"/>
<path d="M246.4,798.0 249.8,797.2 253.2,804.0 257.4,807.4 262.5,810.8 263.4,817.7 259.1,820.2 253.2,818.5 249.0,816.8 245.6,815.1 251.5,814.3 254.0,810.8 251.5,805.7 248.1,801.4Z" fill="#2e2672" stroke="#2e2672" stroke-width="1.4" stroke-linejoin="round"/>
<path d="M230.3,786.9 235.4,785.2 240.5,783.5 245.6,785.2 240.5,788.6 238.8,795.5 239.6,802.3 241.3,809.1 243.0,816.0 233.7,817.7 228.6,816.8 230.3,807.4 233.7,800.6 232.8,793.7Z" fill="#d3cde7" stroke="#d3cde7" stroke-width="1.4" stroke-linejoin="round"/>
<path d="M246.4,783.5 251.5,781.8 255.7,776.7 260.8,781.8 265.9,785.2 271.0,783.5 275.3,780.1 277.8,784.3 282.9,785.2 277.8,792.0 272.7,798.0 268.5,804.9 265.9,811.7 263.4,817.7 262.5,810.8 257.4,807.4 253.2,804.0 249.8,797.2 248.1,792.0Z" fill="#9376ae" stroke="#9376ae" stroke-width="1.4" stroke-linejoin="round"/>
<path d="M116.4,793.7 123.2,790.3 130.0,788.6 136.8,783.5 143.6,786.1 145.3,792.0 141.9,797.2 135.1,798.9 128.3,799.7 121.5,798.0Z" fill="#9376ae" stroke="#9376ae" stroke-width="1.4" stroke-linejoin="round"/>
<path d="M117.3,800.6 124.9,798.0 131.7,799.7 133.4,805.7 131.7,810.8 128.3,817.7 124.1,823.7 119.8,824.5 114.7,821.1 115.6,812.6 116.4,805.7Z" fill="#9376ae" stroke="#9376ae" stroke-width="1.4" stroke-linejoin="round"/>
<path d="M221.8,829.7 226.9,826.2 228.6,818.5 233.7,819.4 243.0,817.7 249.0,818.5 253.2,819.4 250.6,826.2 251.5,833.1 255.7,838.2 253.2,845.0 249.0,847.6 243.9,848.5 238.8,847.6 235.4,851.0 233.7,845.0 228.6,839.9 225.2,834.8Z" fill="#bbacd6" stroke="#bbacd6" stroke-width="1.4" stroke-linejoin="round"/>
<path d="M249.0,818.5 259.1,820.2 265.9,819.4 272.7,822.8 267.6,827.1 262.5,831.4 257.4,837.3 255.7,838.2 251.5,833.1 250.6,826.2 253.2,819.4Z" fill="#d3cde7" stroke="#d3cde7" stroke-width="1.4" stroke-linejoin="round"/>
<path d="M313.2,809.1 318.3,805.7 324.3,803.1 329.4,806.6 331.1,810.0 326.8,814.2 323.4,816.8 319.2,813.4 315.7,811.7Z" fill="#474283" stroke="#474283" stroke-width="1.4" stroke-linejoin="round"/>
<path d="M291.0,821.1 295.2,818.5 298.7,819.4 296.9,822.8 293.5,824.5Z" fill="#474283" stroke="#474283" stroke-width="1.4" stroke-linejoin="round"/>
<path d="M259.1,715.1 262.5,706.5 265.9,696.3 269.3,680.9 271.9,672.4 274.4,677.5 276.1,687.7 279.5,698.0 284.6,706.5 287.2,718.5 286.3,732.2 279.5,728.8 272.7,723.6 265.9,720.2Z" fill="#d3cde7" stroke="#d3cde7" stroke-width="1.4" stroke-linejoin="round"/>
<path d="M395.1,675.8 403.6,674.1 414.1,672.4 414.1,710.0 408.6,713.4 403.6,712.5 398.5,708.3 395.9,699.7 394.2,691.2 395.1,682.6Z" fill="#a78bc3" stroke="#a78bc3" stroke-width="1.4" stroke-linejoin="round"/>
<path d="M373.0,701.4 379.8,698.0 391.7,692.0 394.2,699.7 398.5,708.3 403.6,712.5 408.6,713.4 405.2,718.5 398.5,721.9 391.7,728.8 384.9,733.9 378.1,736.5 371.3,733.9 364.5,730.5 357.7,727.1 359.4,723.6 366.2,725.4 373.0,721.9 372.1,711.7Z" fill="#d3cde7" stroke="#d3cde7" stroke-width="1.4" stroke-linejoin="round"/>
<path d="M264.2,646.7 288.0,646.7 288.0,653.5 281.2,658.7 272.7,657.0 265.9,651.8Z" fill="#d3cde7" stroke="#d3cde7" stroke-width="1.4" stroke-linejoin="round"/>
<path d="M320.3,646.7 337.3,646.7 335.6,655.3 330.5,663.8 325.4,667.2 323.7,658.7Z" fill="#d3cde7" stroke="#d3cde7" stroke-width="1.4" stroke-linejoin="round"/>
<path d="M340.7,646.7 359.4,646.7 361.1,657.0 357.7,670.6 356.0,684.3 353.4,696.3 348.3,698.0 346.6,684.3 345.8,668.9 342.4,657.0Z" fill="#d3cde7" stroke="#d3cde7" stroke-width="1.4" stroke-linejoin="round"/>
<path d="M655.7,594.0 663.4,589.7 671.8,588.8 680.3,590.5 688.8,588.0 695.6,587.1 699.9,590.5 702.4,596.5 706.7,602.5 710.9,608.5 717.7,614.5 722.0,620.5 723.7,629.9 722.8,641.0 722.0,649.5 718.6,644.4 716.0,637.6 714.3,630.7 709.2,623.9 705.8,618.8 699.0,620.5 692.2,613.6 685.4,608.5 678.6,605.1 671.8,605.1 668.4,610.2 663.4,606.8 659.1,600.8Z" fill="#d3cde7" stroke="#d3cde7" stroke-width="1.4" stroke-linejoin="round"/>
<path d="M667.6,599.1 673.5,597.4 680.3,600.8 685.4,607.6 692.2,614.5 699.0,619.6 703.3,628.2 701.1,630.7 695.6,628.2 688.8,623.0 682.0,617.9 675.2,612.8 670.1,605.9Z" fill="#a78bc3" stroke="#a78bc3" stroke-width="1.4" stroke-linejoin="round"/>
<path d="M638.7,617.0 646.4,614.5 654.9,614.5 663.4,615.3 668.4,618.8 672.7,624.7 678.6,627.3 682.0,631.6 677.8,641.0 673.5,649.5 666.8,656.4 660.0,661.5 656.6,664.1 649.8,664.9 643.0,662.4 637.9,664.1 632.8,659.8 624.3,658.1 614.1,657.2 607.3,656.4 605.6,651.2 614.1,649.5 622.6,650.4 632.8,649.5 637.9,642.7 640.4,635.9 641.3,629.0 639.6,623.0Z" fill="#bbacd6" stroke="#bbacd6" stroke-width="1.4" stroke-linejoin="round"/>
<path d="M603.9,667.5 608.1,662.4 624.3,659.8 637.9,662.4 641.3,670.9 637.9,676.0 632.8,679.5 624.3,682.9 615.8,685.4 608.1,683.7 604.7,677.7Z" fill="#d3cde7" stroke="#d3cde7" stroke-width="1.4" stroke-linejoin="round"/>
<path d="M669.3,659.8 674.4,658.1 679.5,661.5 682.0,668.3 688.0,673.5 696.5,677.7 705.8,682.0 703.3,687.1 697.3,689.7 693.1,692.3 688.8,688.9 683.7,682.0 677.8,676.9 672.7,670.0 670.1,664.9Z" fill="#a78bc3" stroke="#a78bc3" stroke-width="1.4" stroke-linejoin="round"/>
<path d="M682.0,660.6 687.1,657.2 695.6,659.8 704.1,664.1 714.3,664.1 721.1,665.8 722.8,670.9 718.6,674.3 710.9,672.6 704.1,670.9 699.0,673.5 692.2,671.8 687.1,667.5Z" fill="#d3cde7" stroke="#d3cde7" stroke-width="1.4" stroke-linejoin="round"/>
<path d="M709.2,702.5 716.0,699.1 724.5,697.4 731.3,695.7 734.7,688.0 739.8,686.3 738.1,693.1 734.7,698.3 732.2,703.4 731.3,708.5 730.5,715.4 728.8,720.5 732.2,723.9 736.4,727.3 729.6,727.3 723.7,724.8 719.4,717.9 716.0,714.5 710.1,711.1Z" fill="#d3cde7" stroke="#d3cde7" stroke-width="1.4" stroke-linejoin="round"/>
<path d="M597.1,560.6 634.5,560.6 637.9,567.5 636.2,576.0 631.1,581.1 626.0,584.6 617.5,582.8 610.7,586.3 603.9,588.0 597.1,588.8Z" fill="#bbacd6" stroke="#bbacd6" stroke-width="1.4" stroke-linejoin="round"/>
<path d="M597.1,589.7 603.9,588.8 609.8,594.8 610.7,605.1 607.3,613.6 597.1,615.3Z" fill="#d3cde7" stroke="#d3cde7" stroke-width="1.4" stroke-linejoin="round"/>
<path d="M497.3,224.9 500.7,224.0 507.5,230.9 514.3,237.7 521.1,244.5 527.9,251.4 534.7,258.2 539.0,262.5 539.8,265.9 535.6,263.4 529.6,257.4 522.8,250.5 516.0,243.7 509.2,236.9 502.4,230.0Z" fill="#bbacd6" stroke="#bbacd6" stroke-width="1.4" stroke-linejoin="round"/>
<path d="M584.0,291.6 586.5,281.3 589.9,279.6 594.2,284.7 596.7,293.3 595.9,301.8 592.5,308.7 589.1,312.1 585.7,307.0 584.0,298.4Z" fill="#d3cde7" stroke="#d3cde7" stroke-width="1.4" stroke-linejoin="round"/>
<path d="M593.3,332.6 596.7,324.1 603.5,318.9 610.3,317.2 617.1,317.2 623.9,318.9 620.5,325.8 615.4,330.9 608.6,336.0 601.8,341.2 595.0,344.6 593.3,339.4Z" fill="#d3cde7" stroke="#d3cde7" stroke-width="1.4" stroke-linejoin="round"/>
<path d="M493.9,361.5 495.6,349.7 500.7,342.9 500.7,330.9 507.5,329.2 514.3,329.2 521.1,332.6 522.8,339.4 529.6,344.6 536.4,349.7 541.5,356.5 544.0,361.5Z" fill="#d3cde7" stroke="#d3cde7" stroke-width="1.4" stroke-linejoin="round"/>
<path d="M507.5,330.9 514.3,329.2 520.3,332.6 521.1,339.4 517.7,342.9 511.8,344.6 508.4,339.4Z" fill="#bbacd6" stroke="#bbacd6" stroke-width="1.4" stroke-linejoin="round"/>
<path d="M458.3,361.5 463.4,356.5 471.8,356.5 472.7,361.5Z" fill="#bbacd6" stroke="#bbacd6" stroke-width="1.4" stroke-linejoin="round"/>
<path d="M621.3,348.0 640.0,347.1 638.3,351.4 632.4,354.0 625.6,353.1Z" fill="#7f69a6" stroke="#7f69a6" stroke-width="1.4" stroke-linejoin="round"/>
<path d="M640.0,347.1 651.9,349.7 655.3,356.5 651.9,361.5 634.9,361.5 633.2,354.8Z" fill="#d3cde7" stroke="#d3cde7" stroke-width="1.4" stroke-linejoin="round"/></g>
<use href="#top"/>
</g>
<text x="1162.3" y="985.6" font-size="13.2" fill="#bfe0ea" text-anchor="middle">-30°</text>
<text x="1255.6" y="985.6" font-size="13.2" fill="#bfe0ea" text-anchor="middle">-20°</text>
<text x="1333.4" y="985.6" font-size="13.2" fill="#bfe0ea" text-anchor="middle">-10°</text>
<text x="1400.0" y="985.6" font-size="13.2" fill="#bfe0ea" text-anchor="middle">0°</text>
<text x="1479.0" y="985.6" font-size="13.2" fill="#bfe0ea" text-anchor="middle">10°</text>
<text x="1542.0" y="985.6" font-size="13.2" fill="#bfe0ea" text-anchor="middle">20°</text>
<text x="1614.5" y="985.6" font-size="13.2" fill="#bfe0ea" text-anchor="middle">30°</text>
<text x="1693.3" y="985.6" font-size="13.2" fill="#bfe0ea" text-anchor="middle">40°</text>
<text x="1785.8" y="985.6" font-size="13.2" fill="#bfe0ea" text-anchor="middle">50°</text>
<text x="1897.3" y="985.6" font-size="13.2" fill="#bfe0ea" text-anchor="middle">60°</text>
<text x="2060.8" y="985.6" font-size="13.2" fill="#bfe0ea" text-anchor="middle">70°</text>
<text x="1144.6" y="1160.5" font-size="13.2" fill="#bfe0ea" text-anchor="middle">60°</text>
<text x="1145.5" y="1407.0" font-size="13.2" fill="#bfe0ea" text-anchor="middle">50°</text>
<text x="1145.5" y="1644.5" font-size="13.2" fill="#bfe0ea" text-anchor="middle">40°</text>
<text x="2066.5" y="1261.0" font-size="13.2" fill="#bfe0ea" text-anchor="middle">50°</text>
<text x="2067.0" y="1535.0" font-size="13.2" fill="#bfe0ea" text-anchor="middle">40°</text>
<text x="1294.2" y="1776.0" font-size="13.2" fill="#bfe0ea" text-anchor="middle">0°</text>
<text x="1476.0" y="1778.0" font-size="13.2" fill="#bfe0ea" text-anchor="middle">10°</text>
<text x="1661.0" y="1778.0" font-size="13.2" fill="#bfe0ea" text-anchor="middle">20°</text>
<text x="1848.0" y="1778.0" font-size="13.2" fill="#bfe0ea" text-anchor="middle">30°</text>
<text x="2043.0" y="1778.0" font-size="13.2" fill="#bfe0ea" text-anchor="middle">40°</text>
<path d="M1140.9,1772.6V1778.2H1441.8V1772.6M1241.2,1772.6V1778.2M1341.6,1772.6V1778.2" fill="none" stroke="#808080" stroke-width="1.2"/><text x="1133.5" y="1763.3" font-size="17" fill="#757575" textLength="9.3" lengthAdjust="spacingAndGlyphs">0</text><text x="1224.4" y="1763.3" font-size="17" fill="#757575" textLength="28.9" lengthAdjust="spacingAndGlyphs">500</text><text x="1316.8" y="1763.3" font-size="17" fill="#757575" textLength="44.4" lengthAdjust="spacingAndGlyphs">1 000</text><text x="1420.8" y="1763.3" font-size="17" fill="#757575" textLength="72.7" lengthAdjust="spacingAndGlyphs">1 500 km</text>
<text x="1146.4" y="1011.2" font-size="29" font-weight="bold" fill="#000" textLength="200.5" lengthAdjust="spacingAndGlyphs">Autumn, 2015</text>
</g>
<rect x="1120.0" y="959.5" width="973.4" height="833.9" fill="none" stroke="#000" stroke-width="2.2"/>
<rect x="85.4" y="1846" width="2006.6" height="229.4" fill="#fff" stroke="#1a1a1a" stroke-width="1.8"/>
<text x="126.6" y="1902.6" font-size="28.6" font-weight="bold" fill="#000" textLength="1085.5" lengthAdjust="spacingAndGlyphs">Seasonal water exploitation index plus (WEI+), sub river basin district scale</text>
<rect x="250.70" y="1952.7" width="35.43" height="71.7" fill="#ece9f5" stroke="#333" stroke-width="0.9"/>
<rect x="286.13" y="1952.7" width="35.43" height="71.7" fill="#d3cde7" stroke="#333" stroke-width="0.9"/>
<rect x="321.56" y="1952.7" width="35.43" height="71.7" fill="#bbacd6" stroke="#333" stroke-width="0.9"/>
<rect x="356.99" y="1952.7" width="35.43" height="71.7" fill="#a78bc3" stroke="#333" stroke-width="0.9"/>
<rect x="392.42" y="1952.7" width="35.43" height="71.7" fill="#9376ae" stroke="#333" stroke-width="0.9"/>
<rect x="427.85" y="1952.7" width="35.43" height="71.7" fill="#7f69a6" stroke="#333" stroke-width="0.9"/>
<rect x="463.28" y="1952.7" width="35.43" height="71.7" fill="#5b428c" stroke="#333" stroke-width="0.9"/>
<rect x="498.71" y="1952.7" width="35.43" height="71.7" fill="#474283" stroke="#333" stroke-width="0.9"/>
<rect x="534.14" y="1952.7" width="35.43" height="71.7" fill="#2e2672" stroke="#333" stroke-width="0.9"/>
<text x="176.7" y="2000.2" font-size="29.5" fill="#1a1a1a" textLength="47.3" lengthAdjust="spacingAndGlyphs">0 %</text>
<text x="595.2" y="2000.2" font-size="29.5" fill="#1a1a1a" textLength="89.4" lengthAdjust="spacingAndGlyphs">&gt; 40 %</text>
<rect x="889.2" y="1972.2" width="62.4" height="32.8" fill="#fff" stroke="#555" stroke-width="1"/>
<text x="979.5" y="2000.2" font-size="29.5" fill="#1a1a1a" textLength="318.5" lengthAdjust="spacingAndGlyphs">RBD areas without data</text>
<rect x="1426.2" y="1972.2" width="63.5" height="32.8" fill="#eff6f0" stroke="#555" stroke-width="1"/>
<text x="1516.6" y="2000.2" font-size="29.5" fill="#1a1a1a" textLength="107" lengthAdjust="spacingAndGlyphs">No data</text>
<rect x="1668.2" y="1972.2" width="63.5" height="32.8" fill="#c6c6c6" stroke="#555" stroke-width="1"/>
<text x="1758.6" y="2000.2" font-size="29.5" fill="#1a1a1a" textLength="235.7" lengthAdjust="spacingAndGlyphs">Outside coverage</text>
</svg></body></html>
